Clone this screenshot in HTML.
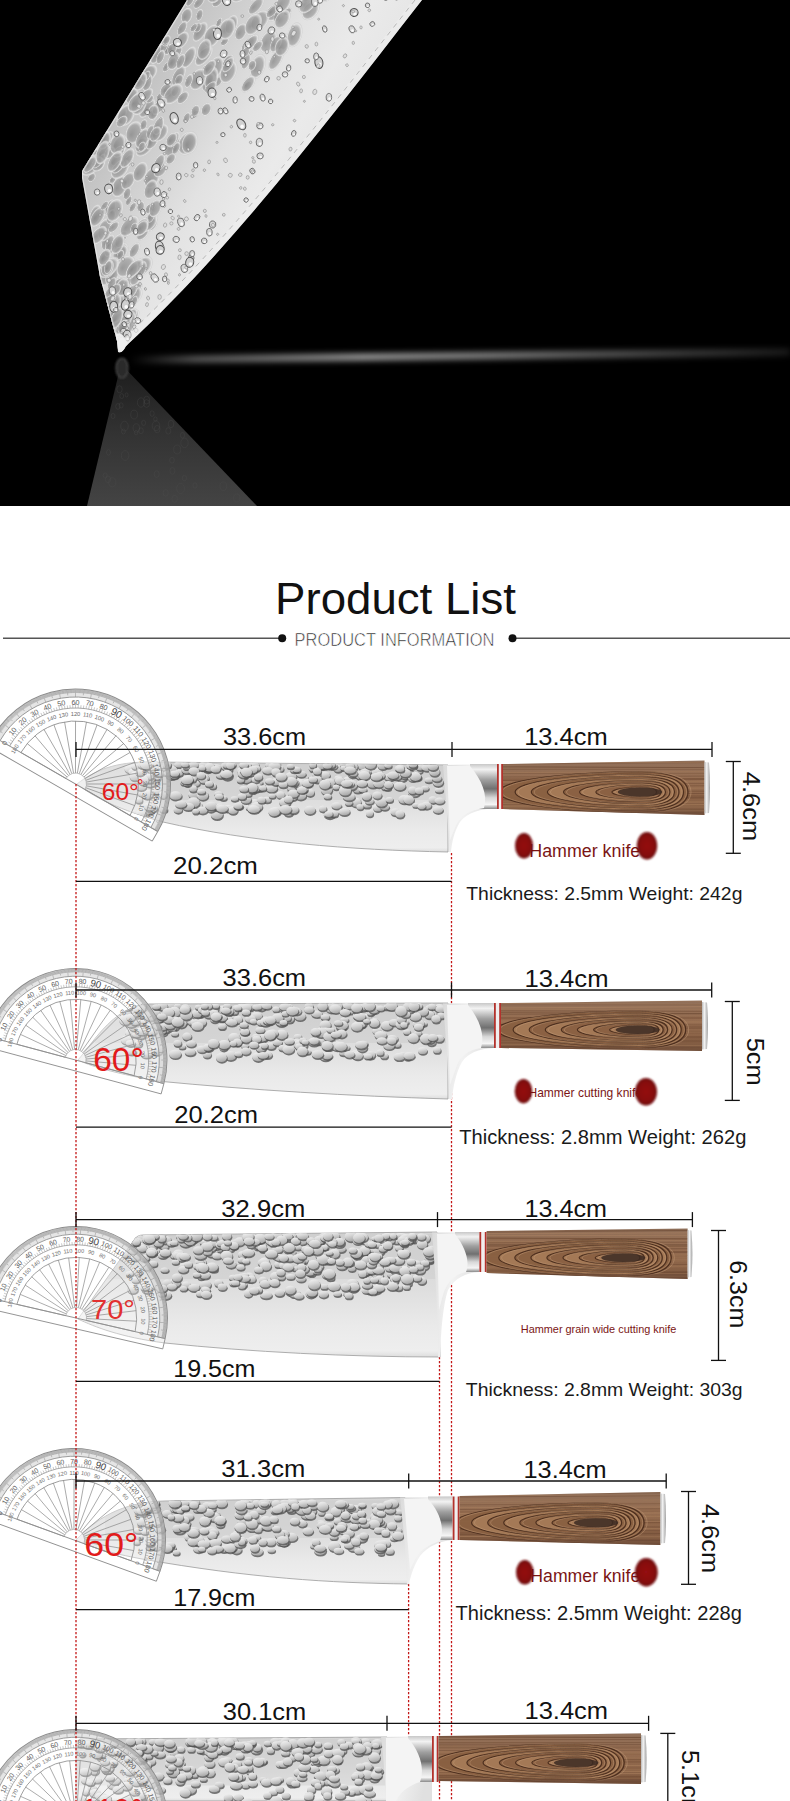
<!DOCTYPE html>
<html><head><meta charset="utf-8"><style>
html,body{margin:0;padding:0;background:#fff;}
body{width:790px;height:1801px;overflow:hidden;position:relative;font-family:"Liberation Sans",sans-serif;}
svg{position:absolute;left:0;top:0;display:block;}
.ds{fill:#555;opacity:.8}.db{fill:url(#dimBody)}.hd{fill:url(#hdim);opacity:.8}.d1{fill:#dedede;stroke:#808080;stroke-width:.5}.d2{fill:#d6d6d6;stroke:#606060;stroke-width:.8}.d3{fill:#d0d0d0;stroke:#505050;stroke-width:1}
</style></head><body>
<svg width="790" height="1801" viewBox="0 0 790 1801">
<defs>
<linearGradient id="bladeTop" gradientUnits="userSpaceOnUse" x1="135" y1="85" x2="305" y2="189">
  <stop offset="0" stop-color="#c0c0c0"/>
  <stop offset="0.3" stop-color="#d2d2d2"/>
  <stop offset="0.55" stop-color="#e2e2e2"/>
  <stop offset="0.8" stop-color="#eaeaea"/>
  <stop offset="1" stop-color="#e6e6e6"/>
</linearGradient>
<linearGradient id="hamBand" gradientUnits="userSpaceOnUse" x1="100" y1="150" x2="260" y2="200">
  <stop offset="0" stop-color="#b4b4b4"/>
  <stop offset="0.6" stop-color="#c4c4c4"/>
  <stop offset="1" stop-color="#d6d6d6" stop-opacity="0"/>
</linearGradient>
<radialGradient id="hdim" cx="0.5" cy="0.5" r="0.5" fx="0.36" fy="0.36">
  <stop offset="0" stop-color="#8a8a8a"/>
  <stop offset="0.7" stop-color="#a4a4a4"/>
  <stop offset="0.9" stop-color="#e4e4e4"/>
  <stop offset="1" stop-color="#cdcdcd"/>
</radialGradient>
<radialGradient id="drop" cx="0.5" cy="0.5" r="0.5" fx="0.45" fy="0.4">
  <stop offset="0" stop-color="#ffffff"/>
  <stop offset="0.55" stop-color="#e6e6e6"/>
  <stop offset="0.78" stop-color="#a0a0a0"/>
  <stop offset="0.9" stop-color="#505050"/>
  <stop offset="1" stop-color="#b0b0b0"/>
</radialGradient>
<linearGradient id="reflG" x1="0" y1="0" x2="0" y2="1">
  <stop offset="0" stop-color="#1c1c1c"/>
  <stop offset="0.5" stop-color="#333"/>
  <stop offset="1" stop-color="#444"/>
</linearGradient>
<linearGradient id="streak" gradientUnits="userSpaceOnUse" x1="130" y1="0" x2="790" y2="0">
  <stop offset="0" stop-color="#fff" stop-opacity="0"/>
  <stop offset="0.1" stop-color="#fff" stop-opacity="0.4"/>
  <stop offset="0.35" stop-color="#fff" stop-opacity="0.72"/>
  <stop offset="0.55" stop-color="#fff" stop-opacity="0.6"/>
  <stop offset="0.8" stop-color="#fff" stop-opacity="0.32"/>
  <stop offset="1" stop-color="#fff" stop-opacity="0.12"/>
</linearGradient>
<filter id="blur3" x="-5%" y="-300%" width="110%" height="700%"><feGaussianBlur stdDeviation="3"/></filter>
<filter id="blur1" x="-30%" y="-30%" width="160%" height="160%"><feGaussianBlur stdDeviation="0.8"/></filter>
<linearGradient id="dimBody" x1="0.2" y1="0" x2="0.5" y2="1">
  <stop offset="0" stop-color="#f0f0f0"/>
  <stop offset="0.45" stop-color="#d6d6d6"/>
  <stop offset="1" stop-color="#a8a8a8"/>
</linearGradient>
<linearGradient id="kblade" x1="0" y1="0" x2="0" y2="1">
  <stop offset="0" stop-color="#d4d4d4"/>
  <stop offset="0.45" stop-color="#dedede"/>
  <stop offset="0.75" stop-color="#eaeaea"/>
  <stop offset="0.95" stop-color="#eeeeee"/>
  <stop offset="1" stop-color="#dddddd"/>
</linearGradient>
<linearGradient id="ferrule" x1="0" y1="0" x2="0" y2="1">
  <stop offset="0" stop-color="#c8c8c8"/>
  <stop offset="0.12" stop-color="#f2f2f2"/>
  <stop offset="0.35" stop-color="#a0a0a0"/>
  <stop offset="0.55" stop-color="#707070"/>
  <stop offset="0.75" stop-color="#d8d8d8"/>
  <stop offset="0.9" stop-color="#f5f5f5"/>
  <stop offset="1" stop-color="#8a8a8a"/>
</linearGradient>
<linearGradient id="bolG" x1="0" y1="0" x2="1" y2="0.3">
  <stop offset="0" stop-color="#dadada"/>
  <stop offset="0.5" stop-color="#f2f2f2"/>
  <stop offset="1" stop-color="#e0e0e0"/>
</linearGradient>
<linearGradient id="cap" x1="0" y1="0" x2="1" y2="0">
  <stop offset="0" stop-color="#b8b8b8"/>
  <stop offset="0.4" stop-color="#f4f4f4"/>
  <stop offset="1" stop-color="#a0a0a0"/>
</linearGradient>
<radialGradient id="blobG" cx="0.5" cy="0.5" r="0.5">
  <stop offset="0" stop-color="#941012"/>
  <stop offset="0.7" stop-color="#870c0f"/>
  <stop offset="1" stop-color="#6c080a"/>
</radialGradient>
<linearGradient id="woodG" x1="0" y1="0" x2="0" y2="1">
  <stop offset="0" stop-color="#90705a"/>
  <stop offset="0.35" stop-color="#966e52"/>
  <stop offset="0.7" stop-color="#8c6448"/>
  <stop offset="1" stop-color="#7a563e"/>
</linearGradient>

<clipPath id="ctop"><path d="M187,0 L422,0 C330,118 232,248 126,346 Q122,354 118,352 L117,341 L100,277 L82,178 L82,171 Z"/></clipPath>
<g id="prot">
<path d="M-95,0 A95,95 0 0 1 95,0 L95,11 L-95,11 Z" fill="#fff" opacity="0.35"/>
<path d="M-95,0 A95,95 0 0 1 95,0 L87,0 A87,87 0 0 0 -87,0 Z" fill="#d0d0d0" opacity="0.55"/>
<path d="M-95,0 A95,95 0 0 1 95,0" fill="none" stroke="#8c8c8c" stroke-width="1"/>
<path d="M-87.0,-0.0L-94.5,-0.0M-91.0,-0.8L-94.5,-0.8M-91.0,-1.6L-94.5,-1.6M-91.0,-2.4L-94.5,-2.5M-90.9,-3.2L-94.4,-3.3M-90.9,-4.0L-94.4,-4.1M-90.9,-4.8L-94.4,-4.9M-90.8,-5.6L-94.3,-5.8M-90.8,-6.3L-94.3,-6.6M-90.7,-7.1L-94.2,-7.4M-88.7,-7.8L-94.1,-8.2M-90.6,-8.7L-94.1,-9.1M-90.5,-9.5L-94.0,-9.9M-90.4,-10.3L-93.9,-10.7M-90.3,-11.1L-93.8,-11.5M-90.2,-11.9L-93.7,-12.3M-90.1,-12.7L-93.6,-13.2M-90.0,-13.5L-93.5,-14.0M-89.9,-14.2L-93.3,-14.8M-89.8,-15.0L-93.2,-15.6M-85.7,-15.1L-93.1,-16.4M-89.5,-16.6L-92.9,-17.2M-89.3,-17.4L-92.8,-18.0M-89.2,-18.1L-92.6,-18.8M-89.0,-18.9L-92.4,-19.6M-88.8,-19.7L-92.3,-20.5M-88.7,-20.5L-92.1,-21.3M-88.5,-21.2L-91.9,-22.1M-88.3,-22.0L-91.7,-22.9M-88.1,-22.8L-91.5,-23.7M-86.0,-23.0L-91.3,-24.5M-87.7,-24.3L-91.1,-25.3M-87.5,-25.1L-90.8,-26.0M-87.3,-25.8L-90.6,-26.8M-87.0,-26.6L-90.4,-27.6M-86.8,-27.4L-90.1,-28.4M-86.5,-28.1L-89.9,-29.2M-86.3,-28.9L-89.6,-30.0M-86.0,-29.6L-89.4,-30.8M-85.8,-30.4L-89.1,-31.5M-81.8,-29.8L-88.8,-32.3M-85.2,-31.9L-88.5,-33.1M-85.0,-32.6L-88.2,-33.9M-84.7,-33.4L-87.9,-34.6M-84.4,-34.1L-87.6,-35.4M-84.1,-34.8L-87.3,-36.2M-83.8,-35.6L-87.0,-36.9M-83.5,-36.3L-86.7,-37.7M-83.1,-37.0L-86.3,-38.4M-82.8,-37.7L-86.0,-39.2M-80.7,-37.6L-85.6,-39.9M-82.1,-39.2L-85.3,-40.7M-81.8,-39.9L-84.9,-41.4M-81.4,-40.6L-84.6,-42.2M-81.1,-41.3L-84.2,-42.9M-80.7,-42.0L-83.8,-43.6M-80.3,-42.7L-83.4,-44.4M-80.0,-43.4L-83.0,-45.1M-79.6,-44.1L-82.7,-45.8M-79.2,-44.8L-82.2,-46.5M-75.3,-43.5L-81.8,-47.2M-78.4,-46.2L-81.4,-48.0M-78.0,-46.9L-81.0,-48.7M-77.6,-47.5L-80.6,-49.4M-77.2,-48.2L-80.1,-50.1M-76.7,-48.9L-79.7,-50.8M-76.3,-49.6L-79.3,-51.5M-75.9,-50.2L-78.8,-52.2M-75.4,-50.9L-78.3,-52.8M-75.0,-51.5L-77.9,-53.5M-72.9,-51.0L-77.4,-54.2M-74.1,-52.8L-76.9,-54.9M-73.6,-53.5L-76.5,-55.5M-73.2,-54.1L-76.0,-56.2M-72.7,-54.8L-75.5,-56.9M-72.2,-55.4L-75.0,-57.5M-71.7,-56.0L-74.5,-58.2M-71.2,-56.6L-74.0,-58.8M-70.7,-57.3L-73.4,-59.5M-70.2,-57.9L-72.9,-60.1M-66.6,-55.9L-72.4,-60.7M-69.2,-59.1L-71.9,-61.4M-68.7,-59.7L-71.3,-62.0M-68.2,-60.3L-70.8,-62.6M-67.6,-60.9L-70.2,-63.2M-67.1,-61.5L-69.7,-63.8M-66.6,-62.1L-69.1,-64.4M-66.0,-62.6L-68.5,-65.0M-65.5,-63.2L-68.0,-65.6M-64.9,-63.8L-67.4,-66.2M-62.9,-62.9L-66.8,-66.8M-63.8,-64.9L-66.2,-67.4M-63.2,-65.5L-65.6,-68.0M-62.6,-66.0L-65.0,-68.5M-62.1,-66.6L-64.4,-69.1M-61.5,-67.1L-63.8,-69.7M-60.9,-67.6L-63.2,-70.2M-60.3,-68.2L-62.6,-70.8M-59.7,-68.7L-62.0,-71.3M-59.1,-69.2L-61.4,-71.9M-55.9,-66.6L-60.7,-72.4M-57.9,-70.2L-60.1,-72.9M-57.3,-70.7L-59.5,-73.4M-56.6,-71.2L-58.8,-74.0M-56.0,-71.7L-58.2,-74.5M-55.4,-72.2L-57.5,-75.0M-54.8,-72.7L-56.9,-75.5M-54.1,-73.2L-56.2,-76.0M-53.5,-73.6L-55.5,-76.5M-52.8,-74.1L-54.9,-76.9M-51.0,-72.9L-54.2,-77.4M-51.5,-75.0L-53.5,-77.9M-50.9,-75.4L-52.8,-78.3M-50.2,-75.9L-52.2,-78.8M-49.6,-76.3L-51.5,-79.3M-48.9,-76.7L-50.8,-79.7M-48.2,-77.2L-50.1,-80.1M-47.5,-77.6L-49.4,-80.6M-46.9,-78.0L-48.7,-81.0M-46.2,-78.4L-48.0,-81.4M-43.5,-75.3L-47.2,-81.8M-44.8,-79.2L-46.5,-82.2M-44.1,-79.6L-45.8,-82.7M-43.4,-80.0L-45.1,-83.0M-42.7,-80.3L-44.4,-83.4M-42.0,-80.7L-43.6,-83.8M-41.3,-81.1L-42.9,-84.2M-40.6,-81.4L-42.2,-84.6M-39.9,-81.8L-41.4,-84.9M-39.2,-82.1L-40.7,-85.3M-37.6,-80.7L-39.9,-85.6M-37.7,-82.8L-39.2,-86.0M-37.0,-83.1L-38.4,-86.3M-36.3,-83.5L-37.7,-86.7M-35.6,-83.8L-36.9,-87.0M-34.8,-84.1L-36.2,-87.3M-34.1,-84.4L-35.4,-87.6M-33.4,-84.7L-34.6,-87.9M-32.6,-85.0L-33.9,-88.2M-31.9,-85.2L-33.1,-88.5M-29.8,-81.8L-32.3,-88.8M-30.4,-85.8L-31.5,-89.1M-29.6,-86.0L-30.8,-89.4M-28.9,-86.3L-30.0,-89.6M-28.1,-86.5L-29.2,-89.9M-27.4,-86.8L-28.4,-90.1M-26.6,-87.0L-27.6,-90.4M-25.8,-87.3L-26.8,-90.6M-25.1,-87.5L-26.0,-90.8M-24.3,-87.7L-25.3,-91.1M-23.0,-86.0L-24.5,-91.3M-22.8,-88.1L-23.7,-91.5M-22.0,-88.3L-22.9,-91.7M-21.2,-88.5L-22.1,-91.9M-20.5,-88.7L-21.3,-92.1M-19.7,-88.8L-20.5,-92.3M-18.9,-89.0L-19.6,-92.4M-18.1,-89.2L-18.8,-92.6M-17.4,-89.3L-18.0,-92.8M-16.6,-89.5L-17.2,-92.9M-15.1,-85.7L-16.4,-93.1M-15.0,-89.8L-15.6,-93.2M-14.2,-89.9L-14.8,-93.3M-13.5,-90.0L-14.0,-93.5M-12.7,-90.1L-13.2,-93.6M-11.9,-90.2L-12.3,-93.7M-11.1,-90.3L-11.5,-93.8M-10.3,-90.4L-10.7,-93.9M-9.5,-90.5L-9.9,-94.0M-8.7,-90.6L-9.1,-94.1M-7.8,-88.7L-8.2,-94.1M-7.1,-90.7L-7.4,-94.2M-6.3,-90.8L-6.6,-94.3M-5.6,-90.8L-5.8,-94.3M-4.8,-90.9L-4.9,-94.4M-4.0,-90.9L-4.1,-94.4M-3.2,-90.9L-3.3,-94.4M-2.4,-91.0L-2.5,-94.5M-1.6,-91.0L-1.6,-94.5M-0.8,-91.0L-0.8,-94.5M0.0,-87.0L0.0,-94.5M0.8,-91.0L0.8,-94.5M1.6,-91.0L1.6,-94.5M2.4,-91.0L2.5,-94.5M3.2,-90.9L3.3,-94.4M4.0,-90.9L4.1,-94.4M4.8,-90.9L4.9,-94.4M5.6,-90.8L5.8,-94.3M6.3,-90.8L6.6,-94.3M7.1,-90.7L7.4,-94.2M7.8,-88.7L8.2,-94.1M8.7,-90.6L9.1,-94.1M9.5,-90.5L9.9,-94.0M10.3,-90.4L10.7,-93.9M11.1,-90.3L11.5,-93.8M11.9,-90.2L12.3,-93.7M12.7,-90.1L13.2,-93.6M13.5,-90.0L14.0,-93.5M14.2,-89.9L14.8,-93.3M15.0,-89.8L15.6,-93.2M15.1,-85.7L16.4,-93.1M16.6,-89.5L17.2,-92.9M17.4,-89.3L18.0,-92.8M18.1,-89.2L18.8,-92.6M18.9,-89.0L19.6,-92.4M19.7,-88.8L20.5,-92.3M20.5,-88.7L21.3,-92.1M21.2,-88.5L22.1,-91.9M22.0,-88.3L22.9,-91.7M22.8,-88.1L23.7,-91.5M23.0,-86.0L24.5,-91.3M24.3,-87.7L25.3,-91.1M25.1,-87.5L26.0,-90.8M25.8,-87.3L26.8,-90.6M26.6,-87.0L27.6,-90.4M27.4,-86.8L28.4,-90.1M28.1,-86.5L29.2,-89.9M28.9,-86.3L30.0,-89.6M29.6,-86.0L30.8,-89.4M30.4,-85.8L31.5,-89.1M29.8,-81.8L32.3,-88.8M31.9,-85.2L33.1,-88.5M32.6,-85.0L33.9,-88.2M33.4,-84.7L34.6,-87.9M34.1,-84.4L35.4,-87.6M34.8,-84.1L36.2,-87.3M35.6,-83.8L36.9,-87.0M36.3,-83.5L37.7,-86.7M37.0,-83.1L38.4,-86.3M37.7,-82.8L39.2,-86.0M37.6,-80.7L39.9,-85.6M39.2,-82.1L40.7,-85.3M39.9,-81.8L41.4,-84.9M40.6,-81.4L42.2,-84.6M41.3,-81.1L42.9,-84.2M42.0,-80.7L43.6,-83.8M42.7,-80.3L44.4,-83.4M43.4,-80.0L45.1,-83.0M44.1,-79.6L45.8,-82.7M44.8,-79.2L46.5,-82.2M43.5,-75.3L47.3,-81.8M46.2,-78.4L48.0,-81.4M46.9,-78.0L48.7,-81.0M47.5,-77.6L49.4,-80.6M48.2,-77.2L50.1,-80.1M48.9,-76.7L50.8,-79.7M49.6,-76.3L51.5,-79.3M50.2,-75.9L52.2,-78.8M50.9,-75.4L52.8,-78.3M51.5,-75.0L53.5,-77.9M51.0,-72.9L54.2,-77.4M52.8,-74.1L54.9,-76.9M53.5,-73.6L55.5,-76.5M54.1,-73.2L56.2,-76.0M54.8,-72.7L56.9,-75.5M55.4,-72.2L57.5,-75.0M56.0,-71.7L58.2,-74.5M56.6,-71.2L58.8,-74.0M57.3,-70.7L59.5,-73.4M57.9,-70.2L60.1,-72.9M55.9,-66.6L60.7,-72.4M59.1,-69.2L61.4,-71.9M59.7,-68.7L62.0,-71.3M60.3,-68.2L62.6,-70.8M60.9,-67.6L63.2,-70.2M61.5,-67.1L63.8,-69.7M62.1,-66.6L64.4,-69.1M62.6,-66.0L65.0,-68.5M63.2,-65.5L65.6,-68.0M63.8,-64.9L66.2,-67.4M62.9,-62.9L66.8,-66.8M64.9,-63.8L67.4,-66.2M65.5,-63.2L68.0,-65.6M66.0,-62.6L68.5,-65.0M66.6,-62.1L69.1,-64.4M67.1,-61.5L69.7,-63.8M67.6,-60.9L70.2,-63.2M68.2,-60.3L70.8,-62.6M68.7,-59.7L71.3,-62.0M69.2,-59.1L71.9,-61.4M66.6,-55.9L72.4,-60.7M70.2,-57.9L72.9,-60.1M70.7,-57.3L73.4,-59.5M71.2,-56.6L74.0,-58.8M71.7,-56.0L74.5,-58.2M72.2,-55.4L75.0,-57.5M72.7,-54.8L75.5,-56.9M73.2,-54.1L76.0,-56.2M73.6,-53.5L76.5,-55.5M74.1,-52.8L76.9,-54.9M72.9,-51.0L77.4,-54.2M75.0,-51.5L77.9,-53.5M75.4,-50.9L78.3,-52.8M75.9,-50.2L78.8,-52.2M76.3,-49.6L79.3,-51.5M76.7,-48.9L79.7,-50.8M77.2,-48.2L80.1,-50.1M77.6,-47.5L80.6,-49.4M78.0,-46.9L81.0,-48.7M78.4,-46.2L81.4,-48.0M75.3,-43.5L81.8,-47.2M79.2,-44.8L82.2,-46.5M79.6,-44.1L82.7,-45.8M80.0,-43.4L83.0,-45.1M80.3,-42.7L83.4,-44.4M80.7,-42.0L83.8,-43.6M81.1,-41.3L84.2,-42.9M81.4,-40.6L84.6,-42.2M81.8,-39.9L84.9,-41.4M82.1,-39.2L85.3,-40.7M80.7,-37.6L85.6,-39.9M82.8,-37.7L86.0,-39.2M83.1,-37.0L86.3,-38.4M83.5,-36.3L86.7,-37.7M83.8,-35.6L87.0,-36.9M84.1,-34.8L87.3,-36.2M84.4,-34.1L87.6,-35.4M84.7,-33.4L87.9,-34.6M85.0,-32.6L88.2,-33.9M85.2,-31.9L88.5,-33.1M81.8,-29.8L88.8,-32.3M85.8,-30.4L89.1,-31.5M86.0,-29.6L89.4,-30.8M86.3,-28.9L89.6,-30.0M86.5,-28.1L89.9,-29.2M86.8,-27.4L90.1,-28.4M87.0,-26.6L90.4,-27.6M87.3,-25.8L90.6,-26.8M87.5,-25.1L90.8,-26.0M87.7,-24.3L91.1,-25.3M86.0,-23.0L91.3,-24.5M88.1,-22.8L91.5,-23.7M88.3,-22.0L91.7,-22.9M88.5,-21.2L91.9,-22.1M88.7,-20.5L92.1,-21.3M88.8,-19.7L92.3,-20.5M89.0,-18.9L92.4,-19.6M89.2,-18.1L92.6,-18.8M89.3,-17.4L92.8,-18.0M89.5,-16.6L92.9,-17.2M85.7,-15.1L93.1,-16.4M89.8,-15.0L93.2,-15.6M89.9,-14.2L93.3,-14.8M90.0,-13.5L93.5,-14.0M90.1,-12.7L93.6,-13.2M90.2,-11.9L93.7,-12.3M90.3,-11.1L93.8,-11.5M90.4,-10.3L93.9,-10.7M90.5,-9.5L94.0,-9.9M90.6,-8.7L94.1,-9.1M88.7,-7.8L94.1,-8.2M90.7,-7.1L94.2,-7.4M90.8,-6.3L94.3,-6.6M90.8,-5.6L94.3,-5.8M90.9,-4.8L94.4,-4.9M90.9,-4.0L94.4,-4.1M90.9,-3.2L94.4,-3.3M91.0,-2.4L94.5,-2.5M91.0,-1.6L94.5,-1.6M91.0,-0.8L94.5,-0.8M87.0,-0.0L94.5,-0.0" stroke="#8a8a8a" stroke-width="0.45" fill="none"/>
<path d="M-87,0 A87,87 0 0 1 87,0" fill="none" stroke="#8e8e8e" stroke-width="0.8"/>
<path d="M-76,0 A76,76 0 0 1 76,0" fill="none" stroke="#8e8e8e" stroke-width="0.7"/>
<path d="M-63,0 A63,63 0 0 1 63,0" fill="none" stroke="#8e8e8e" stroke-width="0.8"/>
<path d="M-76.0,-0.0L-81.0,-0.0M-76.0,-2.7L-79.0,-2.8M-75.8,-5.3L-78.8,-5.5M-75.6,-7.9L-78.6,-8.3M-75.3,-10.6L-78.2,-11.0M-74.8,-13.2L-79.8,-14.1M-74.3,-15.8L-77.3,-16.4M-73.7,-18.4L-76.7,-19.1M-73.1,-20.9L-75.9,-21.8M-72.3,-23.5L-75.1,-24.4M-71.4,-26.0L-76.1,-27.7M-70.5,-28.5L-73.2,-29.6M-69.4,-30.9L-72.2,-32.1M-68.3,-33.3L-71.0,-34.6M-67.1,-35.7L-69.8,-37.1M-65.8,-38.0L-70.1,-40.5M-64.5,-40.3L-67.0,-41.9M-63.0,-42.5L-65.5,-44.2M-61.5,-44.7L-63.9,-46.4M-59.9,-46.8L-62.3,-48.6M-58.2,-48.9L-62.0,-52.1M-56.5,-50.9L-58.7,-52.9M-54.7,-52.8L-56.8,-54.9M-52.8,-54.7L-54.9,-56.8M-50.9,-56.5L-52.9,-58.7M-48.9,-58.2L-52.1,-62.0M-46.8,-59.9L-48.6,-62.3M-44.7,-61.5L-46.4,-63.9M-42.5,-63.0L-44.2,-65.5M-40.3,-64.5L-41.9,-67.0M-38.0,-65.8L-40.5,-70.1M-35.7,-67.1L-37.1,-69.8M-33.3,-68.3L-34.6,-71.0M-30.9,-69.4L-32.1,-72.2M-28.5,-70.5L-29.6,-73.2M-26.0,-71.4L-27.7,-76.1M-23.5,-72.3L-24.4,-75.1M-20.9,-73.1L-21.8,-75.9M-18.4,-73.7L-19.1,-76.7M-15.8,-74.3L-16.4,-77.3M-13.2,-74.8L-14.1,-79.8M-10.6,-75.3L-11.0,-78.2M-7.9,-75.6L-8.3,-78.6M-5.3,-75.8L-5.5,-78.8M-2.7,-76.0L-2.8,-79.0M0.0,-76.0L0.0,-81.0M2.7,-76.0L2.8,-79.0M5.3,-75.8L5.5,-78.8M7.9,-75.6L8.3,-78.6M10.6,-75.3L11.0,-78.2M13.2,-74.8L14.1,-79.8M15.8,-74.3L16.4,-77.3M18.4,-73.7L19.1,-76.7M20.9,-73.1L21.8,-75.9M23.5,-72.3L24.4,-75.1M26.0,-71.4L27.7,-76.1M28.5,-70.5L29.6,-73.2M30.9,-69.4L32.1,-72.2M33.3,-68.3L34.6,-71.0M35.7,-67.1L37.1,-69.8M38.0,-65.8L40.5,-70.1M40.3,-64.5L41.9,-67.0M42.5,-63.0L44.2,-65.5M44.7,-61.5L46.4,-63.9M46.8,-59.9L48.6,-62.3M48.9,-58.2L52.1,-62.0M50.9,-56.5L52.9,-58.7M52.8,-54.7L54.9,-56.8M54.7,-52.8L56.8,-54.9M56.5,-50.9L58.7,-52.9M58.2,-48.9L62.0,-52.1M59.9,-46.8L62.3,-48.6M61.5,-44.7L63.9,-46.4M63.0,-42.5L65.5,-44.2M64.5,-40.3L67.0,-41.9M65.8,-38.0L70.1,-40.5M67.1,-35.7L69.8,-37.1M68.3,-33.3L71.0,-34.6M69.4,-30.9L72.2,-32.1M70.5,-28.5L73.2,-29.6M71.4,-26.0L76.1,-27.7M72.3,-23.5L75.1,-24.4M73.1,-20.9L75.9,-21.8M73.7,-18.4L76.7,-19.1M74.3,-15.8L77.3,-16.4M74.8,-13.2L79.8,-14.1M75.3,-10.6L78.2,-11.0M75.6,-7.9L78.6,-8.3M75.8,-5.3L78.8,-5.5M76.0,-2.7L79.0,-2.8M76.0,-0.0L81.0,-0.0" stroke="#909090" stroke-width="0.45" fill="none"/>
<path d="M-11.0,-0.0L-63.0,-0.0M-10.8,-1.9L-62.0,-10.9M-10.3,-3.8L-59.2,-21.5M-9.5,-5.5L-54.6,-31.5M-8.4,-7.1L-48.3,-40.5M-7.1,-8.4L-40.5,-48.3M-5.5,-9.5L-31.5,-54.6M-3.8,-10.3L-21.5,-59.2M-1.9,-10.8L-10.9,-62.0M0.0,-11.0L0.0,-63.0M1.9,-10.8L10.9,-62.0M3.8,-10.3L21.5,-59.2M5.5,-9.5L31.5,-54.6M7.1,-8.4L40.5,-48.3M8.4,-7.1L48.3,-40.5M9.5,-5.5L54.6,-31.5M10.3,-3.8L59.2,-21.5M10.8,-1.9L62.0,-10.9M11.0,-0.0L63.0,-0.0" stroke="#8e8e8e" stroke-width="0.7" fill="none"/>
<path d="M-11,0 A11,11 0 0 1 11,0" fill="#fff" fill-opacity="0.4" stroke="#a0a0a0" stroke-width="0.6"/>
<text x="-82.0" y="-0.0" font-family='"Liberation Sans", sans-serif' font-size="7.2" fill="#5a5a5a" text-anchor="middle" dominant-baseline="central" transform="rotate(-90 -82.0 -0.0)">0</text>
<text x="-70.0" y="-0.0" font-family='"Liberation Sans", sans-serif' font-size="5.8" fill="#6a6a6a" text-anchor="middle" dominant-baseline="central" transform="rotate(-90 -70.0 -0.0)">180</text>
<text x="-80.8" y="-14.2" font-family='"Liberation Sans", sans-serif' font-size="7.2" fill="#5a5a5a" text-anchor="middle" dominant-baseline="central" transform="rotate(-80 -80.8 -14.2)">10</text>
<text x="-68.9" y="-12.2" font-family='"Liberation Sans", sans-serif' font-size="5.8" fill="#6a6a6a" text-anchor="middle" dominant-baseline="central" transform="rotate(-80 -68.9 -12.2)">170</text>
<text x="-77.1" y="-28.0" font-family='"Liberation Sans", sans-serif' font-size="7.2" fill="#5a5a5a" text-anchor="middle" dominant-baseline="central" transform="rotate(-70 -77.1 -28.0)">20</text>
<text x="-65.8" y="-23.9" font-family='"Liberation Sans", sans-serif' font-size="5.8" fill="#6a6a6a" text-anchor="middle" dominant-baseline="central" transform="rotate(-70 -65.8 -23.9)">160</text>
<text x="-71.0" y="-41.0" font-family='"Liberation Sans", sans-serif' font-size="7.2" fill="#5a5a5a" text-anchor="middle" dominant-baseline="central" transform="rotate(-60 -71.0 -41.0)">30</text>
<text x="-60.6" y="-35.0" font-family='"Liberation Sans", sans-serif' font-size="5.8" fill="#6a6a6a" text-anchor="middle" dominant-baseline="central" transform="rotate(-60 -60.6 -35.0)">150</text>
<text x="-62.8" y="-52.7" font-family='"Liberation Sans", sans-serif' font-size="7.2" fill="#5a5a5a" text-anchor="middle" dominant-baseline="central" transform="rotate(-50 -62.8 -52.7)">40</text>
<text x="-53.6" y="-45.0" font-family='"Liberation Sans", sans-serif' font-size="5.8" fill="#6a6a6a" text-anchor="middle" dominant-baseline="central" transform="rotate(-50 -53.6 -45.0)">140</text>
<text x="-52.7" y="-62.8" font-family='"Liberation Sans", sans-serif' font-size="7.2" fill="#5a5a5a" text-anchor="middle" dominant-baseline="central" transform="rotate(-40 -52.7 -62.8)">50</text>
<text x="-45.0" y="-53.6" font-family='"Liberation Sans", sans-serif' font-size="5.8" fill="#6a6a6a" text-anchor="middle" dominant-baseline="central" transform="rotate(-40 -45.0 -53.6)">130</text>
<text x="-41.0" y="-71.0" font-family='"Liberation Sans", sans-serif' font-size="7.2" fill="#5a5a5a" text-anchor="middle" dominant-baseline="central" transform="rotate(-30 -41.0 -71.0)">60</text>
<text x="-35.0" y="-60.6" font-family='"Liberation Sans", sans-serif' font-size="5.8" fill="#6a6a6a" text-anchor="middle" dominant-baseline="central" transform="rotate(-30 -35.0 -60.6)">120</text>
<text x="-28.0" y="-77.1" font-family='"Liberation Sans", sans-serif' font-size="7.2" fill="#5a5a5a" text-anchor="middle" dominant-baseline="central" transform="rotate(-20 -28.0 -77.1)">70</text>
<text x="-23.9" y="-65.8" font-family='"Liberation Sans", sans-serif' font-size="5.8" fill="#6a6a6a" text-anchor="middle" dominant-baseline="central" transform="rotate(-20 -23.9 -65.8)">110</text>
<text x="-14.2" y="-80.8" font-family='"Liberation Sans", sans-serif' font-size="7.2" fill="#5a5a5a" text-anchor="middle" dominant-baseline="central" transform="rotate(-10 -14.2 -80.8)">80</text>
<text x="-12.2" y="-68.9" font-family='"Liberation Sans", sans-serif' font-size="5.8" fill="#6a6a6a" text-anchor="middle" dominant-baseline="central" transform="rotate(-10 -12.2 -68.9)">100</text>
<text x="0.0" y="-82.0" font-family='"Liberation Sans", sans-serif' font-size="10" fill="#444" text-anchor="middle" dominant-baseline="central" transform="rotate(0 0.0 -82.0)">90</text>
<text x="0.0" y="-70.0" font-family='"Liberation Sans", sans-serif' font-size="5.8" fill="#6a6a6a" text-anchor="middle" dominant-baseline="central" transform="rotate(0 0.0 -70.0)">90</text>
<text x="14.2" y="-80.8" font-family='"Liberation Sans", sans-serif' font-size="7.2" fill="#5a5a5a" text-anchor="middle" dominant-baseline="central" transform="rotate(10 14.2 -80.8)">100</text>
<text x="12.2" y="-68.9" font-family='"Liberation Sans", sans-serif' font-size="5.8" fill="#6a6a6a" text-anchor="middle" dominant-baseline="central" transform="rotate(10 12.2 -68.9)">80</text>
<text x="28.0" y="-77.1" font-family='"Liberation Sans", sans-serif' font-size="7.2" fill="#5a5a5a" text-anchor="middle" dominant-baseline="central" transform="rotate(20 28.0 -77.1)">110</text>
<text x="23.9" y="-65.8" font-family='"Liberation Sans", sans-serif' font-size="5.8" fill="#6a6a6a" text-anchor="middle" dominant-baseline="central" transform="rotate(20 23.9 -65.8)">70</text>
<text x="41.0" y="-71.0" font-family='"Liberation Sans", sans-serif' font-size="7.2" fill="#5a5a5a" text-anchor="middle" dominant-baseline="central" transform="rotate(30 41.0 -71.0)">120</text>
<text x="35.0" y="-60.6" font-family='"Liberation Sans", sans-serif' font-size="5.8" fill="#6a6a6a" text-anchor="middle" dominant-baseline="central" transform="rotate(30 35.0 -60.6)">60</text>
<text x="52.7" y="-62.8" font-family='"Liberation Sans", sans-serif' font-size="7.2" fill="#5a5a5a" text-anchor="middle" dominant-baseline="central" transform="rotate(40 52.7 -62.8)">130</text>
<text x="45.0" y="-53.6" font-family='"Liberation Sans", sans-serif' font-size="5.8" fill="#6a6a6a" text-anchor="middle" dominant-baseline="central" transform="rotate(40 45.0 -53.6)">50</text>
<text x="62.8" y="-52.7" font-family='"Liberation Sans", sans-serif' font-size="7.2" fill="#5a5a5a" text-anchor="middle" dominant-baseline="central" transform="rotate(50 62.8 -52.7)">140</text>
<text x="53.6" y="-45.0" font-family='"Liberation Sans", sans-serif' font-size="5.8" fill="#6a6a6a" text-anchor="middle" dominant-baseline="central" transform="rotate(50 53.6 -45.0)">40</text>
<text x="71.0" y="-41.0" font-family='"Liberation Sans", sans-serif' font-size="7.2" fill="#5a5a5a" text-anchor="middle" dominant-baseline="central" transform="rotate(60 71.0 -41.0)">150</text>
<text x="60.6" y="-35.0" font-family='"Liberation Sans", sans-serif' font-size="5.8" fill="#6a6a6a" text-anchor="middle" dominant-baseline="central" transform="rotate(60 60.6 -35.0)">30</text>
<text x="77.1" y="-28.0" font-family='"Liberation Sans", sans-serif' font-size="7.2" fill="#5a5a5a" text-anchor="middle" dominant-baseline="central" transform="rotate(70 77.1 -28.0)">160</text>
<text x="65.8" y="-23.9" font-family='"Liberation Sans", sans-serif' font-size="5.8" fill="#6a6a6a" text-anchor="middle" dominant-baseline="central" transform="rotate(70 65.8 -23.9)">20</text>
<text x="80.8" y="-14.2" font-family='"Liberation Sans", sans-serif' font-size="7.2" fill="#5a5a5a" text-anchor="middle" dominant-baseline="central" transform="rotate(80 80.8 -14.2)">170</text>
<text x="68.9" y="-12.2" font-family='"Liberation Sans", sans-serif' font-size="5.8" fill="#6a6a6a" text-anchor="middle" dominant-baseline="central" transform="rotate(80 68.9 -12.2)">10</text>
<text x="82.0" y="-0.0" font-family='"Liberation Sans", sans-serif' font-size="7.2" fill="#5a5a5a" text-anchor="middle" dominant-baseline="central" transform="rotate(90 82.0 -0.0)">180</text>
<text x="70.0" y="-0.0" font-family='"Liberation Sans", sans-serif' font-size="5.8" fill="#6a6a6a" text-anchor="middle" dominant-baseline="central" transform="rotate(90 70.0 -0.0)">0</text>
<path d="M-95,0 L95,0 M-95,11 L95,11 M95,0 L95,11 M-95,0 L-95,11" stroke="#8e8e8e" stroke-width="0.9" fill="none"/>
</g></defs>
<rect width="790" height="1801" fill="#fff"/>
<rect x="0" y="0" width="790" height="506" fill="#000"/>
<path d="M130,357 L790,349 L790,355 L130,363 Z" fill="url(#streak)" filter="url(#blur3)"/>
<path d="M121,364 L257,506 L87,506 Z" fill="url(#reflG)"/>
<ellipse cx="122" cy="368" rx="6" ry="10" fill="#2a2a2a" stroke="#4a4a4a" stroke-width="1.2" filter="url(#blur1)"/>
<ellipse cx="123.4" cy="431.5" rx="1.9" ry="2.5" fill="none" stroke="#505050" stroke-width="0.8" opacity="0.35"/>
<ellipse cx="152.1" cy="413.6" rx="2.1" ry="2.8" fill="none" stroke="#505050" stroke-width="0.8" opacity="0.35"/>
<ellipse cx="157.2" cy="429.1" rx="2.8" ry="3.7" fill="none" stroke="#505050" stroke-width="0.8" opacity="0.35"/>
<ellipse cx="165.7" cy="492.9" rx="2.6" ry="3.3" fill="none" stroke="#505050" stroke-width="0.8" opacity="0.35"/>
<ellipse cx="125.1" cy="455.5" rx="3.8" ry="4.9" fill="none" stroke="#505050" stroke-width="0.8" opacity="0.35"/>
<ellipse cx="136.3" cy="428.0" rx="3.2" ry="4.2" fill="none" stroke="#505050" stroke-width="0.8" opacity="0.35"/>
<ellipse cx="141.0" cy="402.5" rx="3.6" ry="4.7" fill="none" stroke="#505050" stroke-width="0.8" opacity="0.35"/>
<ellipse cx="171.0" cy="424.0" rx="2.8" ry="3.7" fill="none" stroke="#505050" stroke-width="0.8" opacity="0.35"/>
<ellipse cx="156.7" cy="474.1" rx="2.5" ry="3.3" fill="none" stroke="#505050" stroke-width="0.8" opacity="0.35"/>
<ellipse cx="113.0" cy="416.0" rx="2.0" ry="2.6" fill="none" stroke="#505050" stroke-width="0.8" opacity="0.35"/>
<ellipse cx="174.7" cy="498.8" rx="2.7" ry="3.5" fill="none" stroke="#505050" stroke-width="0.8" opacity="0.35"/>
<ellipse cx="180.6" cy="488.5" rx="3.9" ry="5.1" fill="none" stroke="#505050" stroke-width="0.8" opacity="0.35"/>
<ellipse cx="124.5" cy="426.1" rx="3.8" ry="4.9" fill="none" stroke="#505050" stroke-width="0.8" opacity="0.35"/>
<ellipse cx="146.6" cy="403.5" rx="3.0" ry="3.9" fill="none" stroke="#505050" stroke-width="0.8" opacity="0.35"/>
<ellipse cx="236.8" cy="498.0" rx="3.2" ry="4.1" fill="none" stroke="#505050" stroke-width="0.8" opacity="0.35"/>
<ellipse cx="119.5" cy="389.3" rx="2.7" ry="3.5" fill="none" stroke="#505050" stroke-width="0.8" opacity="0.35"/>
<ellipse cx="108.0" cy="479.3" rx="2.6" ry="3.3" fill="none" stroke="#505050" stroke-width="0.8" opacity="0.35"/>
<ellipse cx="126.6" cy="394.9" rx="1.5" ry="2.0" fill="none" stroke="#505050" stroke-width="0.8" opacity="0.35"/>
<ellipse cx="143.6" cy="422.9" rx="2.0" ry="2.6" fill="none" stroke="#505050" stroke-width="0.8" opacity="0.35"/>
<ellipse cx="105.2" cy="475.5" rx="2.0" ry="2.6" fill="none" stroke="#505050" stroke-width="0.8" opacity="0.35"/>
<ellipse cx="134.1" cy="414.6" rx="3.4" ry="4.4" fill="none" stroke="#505050" stroke-width="0.8" opacity="0.35"/>
<ellipse cx="156.0" cy="425.7" rx="3.8" ry="4.9" fill="none" stroke="#505050" stroke-width="0.8" opacity="0.35"/>
<ellipse cx="146.7" cy="400.1" rx="3.0" ry="3.9" fill="none" stroke="#505050" stroke-width="0.8" opacity="0.35"/>
<ellipse cx="172.4" cy="470.9" rx="2.5" ry="3.3" fill="none" stroke="#505050" stroke-width="0.8" opacity="0.35"/>
<ellipse cx="121.7" cy="396.1" rx="1.9" ry="2.5" fill="none" stroke="#505050" stroke-width="0.8" opacity="0.35"/>
<ellipse cx="121.1" cy="405.4" rx="2.0" ry="2.6" fill="none" stroke="#505050" stroke-width="0.8" opacity="0.35"/>
<ellipse cx="177.2" cy="449.5" rx="3.5" ry="4.5" fill="none" stroke="#505050" stroke-width="0.8" opacity="0.35"/>
<ellipse cx="112.3" cy="482.3" rx="3.6" ry="4.6" fill="none" stroke="#505050" stroke-width="0.8" opacity="0.35"/>
<ellipse cx="117.9" cy="406.4" rx="2.2" ry="2.9" fill="none" stroke="#505050" stroke-width="0.8" opacity="0.35"/>
<ellipse cx="108.5" cy="452.4" rx="2.0" ry="2.7" fill="none" stroke="#505050" stroke-width="0.8" opacity="0.35"/>
<ellipse cx="168.3" cy="430.9" rx="2.5" ry="3.2" fill="none" stroke="#505050" stroke-width="0.8" opacity="0.35"/>
<ellipse cx="136.1" cy="432.6" rx="1.7" ry="2.3" fill="none" stroke="#505050" stroke-width="0.8" opacity="0.35"/>
<ellipse cx="223.3" cy="486.2" rx="3.3" ry="4.3" fill="none" stroke="#505050" stroke-width="0.8" opacity="0.35"/>
<ellipse cx="141.0" cy="430.8" rx="2.3" ry="3.0" fill="none" stroke="#505050" stroke-width="0.8" opacity="0.35"/>
<ellipse cx="172.0" cy="460.2" rx="2.3" ry="3.0" fill="none" stroke="#505050" stroke-width="0.8" opacity="0.35"/>
<ellipse cx="195.0" cy="485.5" rx="2.0" ry="2.7" fill="none" stroke="#505050" stroke-width="0.8" opacity="0.35"/>
<ellipse cx="184.4" cy="478.1" rx="2.1" ry="2.8" fill="none" stroke="#505050" stroke-width="0.8" opacity="0.35"/>
<ellipse cx="155.4" cy="419.1" rx="1.7" ry="2.2" fill="none" stroke="#505050" stroke-width="0.8" opacity="0.35"/>
<ellipse cx="182.5" cy="435.3" rx="2.1" ry="2.8" fill="none" stroke="#505050" stroke-width="0.8" opacity="0.35"/>
<ellipse cx="184.5" cy="442.9" rx="3.7" ry="4.8" fill="none" stroke="#505050" stroke-width="0.8" opacity="0.35"/>
<path d="M187,0 L422,0 C330,118 232,248 126,346 Q122,354 118,352 L117,341 L100,277 L82,178 L82,171 Z" fill="url(#bladeTop)"/>
<g clip-path="url(#ctop)">
<ellipse cx="137.1" cy="101.5" rx="10.2" ry="4.8" transform="rotate(-59 137.1 101.5)" class="hd"/>
<ellipse cx="121.6" cy="115.6" rx="9.1" ry="4.2" transform="rotate(-62 121.6 115.6)" class="hd"/>
<ellipse cx="186.8" cy="15.6" rx="8.4" ry="5.5" transform="rotate(-71 186.8 15.6)" class="hd"/>
<ellipse cx="215.7" cy="67.5" rx="12.6" ry="7.5" transform="rotate(-63 215.7 67.5)" class="hd"/>
<ellipse cx="115.5" cy="322.0" rx="11.9" ry="6.2" transform="rotate(-71 115.5 322.0)" class="hd"/>
<ellipse cx="200.2" cy="31.8" rx="11.5" ry="5.7" transform="rotate(-58 200.2 31.8)" class="hd"/>
<ellipse cx="110.2" cy="208.0" rx="9.4" ry="4.4" transform="rotate(-73 110.2 208.0)" class="hd"/>
<ellipse cx="228.2" cy="61.6" rx="8.4" ry="4.5" transform="rotate(-57 228.2 61.6)" class="hd"/>
<ellipse cx="120.1" cy="145.2" rx="11.4" ry="7.1" transform="rotate(-68 120.1 145.2)" class="hd"/>
<ellipse cx="119.9" cy="186.2" rx="12.0" ry="7.6" transform="rotate(-66 119.9 186.2)" class="hd"/>
<ellipse cx="116.5" cy="323.3" rx="8.3" ry="5.3" transform="rotate(-70 116.5 323.3)" class="hd"/>
<ellipse cx="94.7" cy="157.3" rx="10.3" ry="6.6" transform="rotate(-58 94.7 157.3)" class="hd"/>
<ellipse cx="115.2" cy="287.9" rx="10.6" ry="6.3" transform="rotate(-58 115.2 287.9)" class="hd"/>
<ellipse cx="173.2" cy="146.2" rx="12.6" ry="7.1" transform="rotate(-55 173.2 146.2)" class="hd"/>
<ellipse cx="273.8" cy="12.5" rx="10.2" ry="7.1" transform="rotate(-50 273.8 12.5)" class="hd"/>
<ellipse cx="169.1" cy="88.2" rx="10.3" ry="4.7" transform="rotate(-61 169.1 88.2)" class="hd"/>
<ellipse cx="168.1" cy="48.8" rx="5.5" ry="3.5" transform="rotate(-71 168.1 48.8)" class="hd"/>
<ellipse cx="178.8" cy="75.7" rx="12.0" ry="5.6" transform="rotate(-62 178.8 75.7)" class="hd"/>
<ellipse cx="152.0" cy="177.7" rx="11.6" ry="7.7" transform="rotate(-67 152.0 177.7)" class="hd"/>
<ellipse cx="134.3" cy="132.4" rx="12.1" ry="8.3" transform="rotate(-70 134.3 132.4)" class="hd"/>
<ellipse cx="177.7" cy="51.6" rx="6.9" ry="3.9" transform="rotate(-57 177.7 51.6)" class="hd"/>
<ellipse cx="140.5" cy="80.8" rx="8.4" ry="4.5" transform="rotate(-58 140.5 80.8)" class="hd"/>
<ellipse cx="125.9" cy="314.1" rx="9.1" ry="5.5" transform="rotate(-55 125.9 314.1)" class="hd"/>
<ellipse cx="310.8" cy="10.2" rx="11.2" ry="7.5" transform="rotate(-51 310.8 10.2)" class="hd"/>
<ellipse cx="143.8" cy="124.6" rx="5.8" ry="3.5" transform="rotate(-73 143.8 124.6)" class="hd"/>
<ellipse cx="199.7" cy="14.8" rx="6.3" ry="3.4" transform="rotate(-73 199.7 14.8)" class="hd"/>
<ellipse cx="208.0" cy="-7.9" rx="5.8" ry="3.1" transform="rotate(-74 208.0 -7.9)" class="hd"/>
<ellipse cx="124.8" cy="287.5" rx="6.2" ry="3.2" transform="rotate(-65 124.8 287.5)" class="hd"/>
<ellipse cx="126.1" cy="115.1" rx="11.8" ry="8.2" transform="rotate(-61 126.1 115.1)" class="hd"/>
<ellipse cx="98.1" cy="155.5" rx="5.8" ry="3.1" transform="rotate(-67 98.1 155.5)" class="hd"/>
<ellipse cx="108.7" cy="272.2" rx="5.2" ry="3.6" transform="rotate(-59 108.7 272.2)" class="hd"/>
<ellipse cx="224.8" cy="41.6" rx="5.2" ry="3.0" transform="rotate(-46 224.8 41.6)" class="hd"/>
<ellipse cx="127.9" cy="283.8" rx="7.1" ry="3.8" transform="rotate(-70 127.9 283.8)" class="hd"/>
<ellipse cx="121.5" cy="252.9" rx="11.2" ry="6.0" transform="rotate(-68 121.5 252.9)" class="hd"/>
<ellipse cx="143.3" cy="266.3" rx="11.8" ry="7.7" transform="rotate(-50 143.3 266.3)" class="hd"/>
<ellipse cx="106.5" cy="242.1" rx="9.1" ry="4.9" transform="rotate(-74 106.5 242.1)" class="hd"/>
<ellipse cx="217.6" cy="1.4" rx="7.1" ry="4.4" transform="rotate(-46 217.6 1.4)" class="hd"/>
<ellipse cx="187.3" cy="143.2" rx="12.9" ry="8.9" transform="rotate(-64 187.3 143.2)" class="hd"/>
<ellipse cx="167.1" cy="66.5" rx="6.6" ry="3.3" transform="rotate(-56 167.1 66.5)" class="hd"/>
<ellipse cx="131.9" cy="296.3" rx="8.8" ry="5.4" transform="rotate(-51 131.9 296.3)" class="hd"/>
<ellipse cx="260.0" cy="20.7" rx="12.3" ry="7.9" transform="rotate(-52 260.0 20.7)" class="hd"/>
<ellipse cx="105.1" cy="153.6" rx="11.3" ry="6.0" transform="rotate(-51 105.1 153.6)" class="hd"/>
<ellipse cx="120.1" cy="320.4" rx="8.2" ry="5.6" transform="rotate(-53 120.1 320.4)" class="hd"/>
<ellipse cx="168.5" cy="49.5" rx="6.2" ry="4.2" transform="rotate(-51 168.5 49.5)" class="hd"/>
<ellipse cx="268.7" cy="41.4" rx="12.8" ry="7.9" transform="rotate(-64 268.7 41.4)" class="hd"/>
<ellipse cx="91.8" cy="177.4" rx="5.1" ry="3.5" transform="rotate(-56 91.8 177.4)" class="hd"/>
<ellipse cx="160.6" cy="170.0" rx="8.5" ry="5.7" transform="rotate(-50 160.6 170.0)" class="hd"/>
<ellipse cx="171.9" cy="63.3" rx="7.3" ry="3.7" transform="rotate(-57 171.9 63.3)" class="hd"/>
<ellipse cx="179.2" cy="79.7" rx="6.0" ry="4.1" transform="rotate(-64 179.2 79.7)" class="hd"/>
<ellipse cx="145.1" cy="146.9" rx="12.2" ry="6.8" transform="rotate(-47 145.1 146.9)" class="hd"/>
<ellipse cx="128.4" cy="161.6" rx="9.2" ry="4.2" transform="rotate(-62 128.4 161.6)" class="hd"/>
<ellipse cx="157.0" cy="53.9" rx="11.4" ry="5.6" transform="rotate(-61 157.0 53.9)" class="hd"/>
<ellipse cx="122.6" cy="237.1" rx="7.6" ry="4.4" transform="rotate(-58 122.6 237.1)" class="hd"/>
<ellipse cx="104.6" cy="257.1" rx="9.5" ry="4.9" transform="rotate(-67 104.6 257.1)" class="hd"/>
<ellipse cx="120.3" cy="253.0" rx="9.5" ry="6.1" transform="rotate(-48 120.3 253.0)" class="hd"/>
<ellipse cx="152.2" cy="141.8" rx="9.0" ry="5.2" transform="rotate(-54 152.2 141.8)" class="hd"/>
<ellipse cx="141.7" cy="144.9" rx="8.8" ry="6.0" transform="rotate(-54 141.7 144.9)" class="hd"/>
<ellipse cx="136.9" cy="288.3" rx="7.1" ry="4.2" transform="rotate(-47 136.9 288.3)" class="hd"/>
<ellipse cx="108.7" cy="275.9" rx="6.0" ry="3.3" transform="rotate(-73 108.7 275.9)" class="hd"/>
<ellipse cx="149.0" cy="73.3" rx="10.4" ry="6.7" transform="rotate(-48 149.0 73.3)" class="hd"/>
<ellipse cx="248.6" cy="44.2" rx="10.3" ry="5.0" transform="rotate(-49 248.6 44.2)" class="hd"/>
<ellipse cx="117.1" cy="319.0" rx="12.6" ry="6.9" transform="rotate(-60 117.1 319.0)" class="hd"/>
<ellipse cx="127.7" cy="326.6" rx="6.3" ry="3.5" transform="rotate(-60 127.7 326.6)" class="hd"/>
<ellipse cx="137.4" cy="106.6" rx="7.5" ry="4.8" transform="rotate(-74 137.4 106.6)" class="hd"/>
<ellipse cx="113.0" cy="179.3" rx="5.1" ry="2.7" transform="rotate(-56 113.0 179.3)" class="hd"/>
<ellipse cx="91.0" cy="165.1" rx="12.9" ry="8.3" transform="rotate(-46 91.0 165.1)" class="hd"/>
<ellipse cx="198.0" cy="27.4" rx="5.3" ry="3.4" transform="rotate(-67 198.0 27.4)" class="hd"/>
<ellipse cx="212.3" cy="35.8" rx="12.3" ry="8.0" transform="rotate(-67 212.3 35.8)" class="hd"/>
<ellipse cx="283.1" cy="42.5" rx="9.6" ry="6.0" transform="rotate(-72 283.1 42.5)" class="hd"/>
<ellipse cx="272.4" cy="11.4" rx="8.4" ry="3.9" transform="rotate(-47 272.4 11.4)" class="hd"/>
<ellipse cx="140.9" cy="206.4" rx="5.7" ry="3.8" transform="rotate(-73 140.9 206.4)" class="hd"/>
<ellipse cx="119.2" cy="283.6" rx="7.7" ry="4.5" transform="rotate(-47 119.2 283.6)" class="hd"/>
<ellipse cx="147.5" cy="82.5" rx="9.2" ry="4.7" transform="rotate(-72 147.5 82.5)" class="hd"/>
<ellipse cx="164.1" cy="46.6" rx="6.6" ry="3.5" transform="rotate(-66 164.1 46.6)" class="hd"/>
<ellipse cx="110.0" cy="248.7" rx="9.0" ry="4.5" transform="rotate(-65 110.0 248.7)" class="hd"/>
<ellipse cx="216.1" cy="-1.9" rx="5.1" ry="3.2" transform="rotate(-58 216.1 -1.9)" class="hd"/>
<ellipse cx="204.0" cy="56.0" rx="12.5" ry="5.9" transform="rotate(-50 204.0 56.0)" class="hd"/>
<ellipse cx="143.2" cy="138.1" rx="11.7" ry="6.4" transform="rotate(-60 143.2 138.1)" class="hd"/>
<ellipse cx="151.9" cy="224.5" rx="7.7" ry="5.1" transform="rotate(-54 151.9 224.5)" class="hd"/>
<ellipse cx="112.2" cy="207.0" rx="7.8" ry="3.6" transform="rotate(-71 112.2 207.0)" class="hd"/>
<ellipse cx="277.5" cy="15.9" rx="7.0" ry="3.5" transform="rotate(-72 277.5 15.9)" class="hd"/>
<ellipse cx="135.9" cy="276.3" rx="10.4" ry="5.4" transform="rotate(-68 135.9 276.3)" class="hd"/>
<ellipse cx="175.4" cy="91.1" rx="6.3" ry="3.5" transform="rotate(-67 175.4 91.1)" class="hd"/>
<ellipse cx="132.2" cy="317.1" rx="9.4" ry="4.8" transform="rotate(-46 132.2 317.1)" class="hd"/>
<ellipse cx="159.8" cy="96.6" rx="5.0" ry="2.7" transform="rotate(-61 159.8 96.6)" class="hd"/>
<ellipse cx="101.2" cy="161.9" rx="9.0" ry="4.1" transform="rotate(-67 101.2 161.9)" class="hd"/>
<ellipse cx="219.1" cy="22.3" rx="5.3" ry="2.4" transform="rotate(-66 219.1 22.3)" class="hd"/>
<ellipse cx="207.3" cy="70.7" rx="9.2" ry="5.9" transform="rotate(-55 207.3 70.7)" class="hd"/>
<ellipse cx="142.9" cy="234.0" rx="8.1" ry="4.3" transform="rotate(-45 142.9 234.0)" class="hd"/>
<ellipse cx="251.3" cy="42.5" rx="10.1" ry="4.7" transform="rotate(-50 251.3 42.5)" class="hd"/>
<ellipse cx="125.1" cy="293.5" rx="10.9" ry="7.1" transform="rotate(-71 125.1 293.5)" class="hd"/>
<ellipse cx="120.1" cy="169.0" rx="11.7" ry="7.6" transform="rotate(-50 120.1 169.0)" class="hd"/>
<ellipse cx="151.0" cy="189.4" rx="10.5" ry="6.5" transform="rotate(-68 151.0 189.4)" class="hd"/>
<ellipse cx="199.3" cy="2.5" rx="7.9" ry="3.8" transform="rotate(-50 199.3 2.5)" class="hd"/>
<ellipse cx="128.4" cy="180.8" rx="10.0" ry="6.2" transform="rotate(-60 128.4 180.8)" class="hd"/>
<ellipse cx="308.1" cy="-6.9" rx="11.0" ry="6.3" transform="rotate(-59 308.1 -6.9)" class="hd"/>
<ellipse cx="95.6" cy="214.8" rx="10.9" ry="5.6" transform="rotate(-73 95.6 214.8)" class="hd"/>
<ellipse cx="217.6" cy="81.8" rx="6.6" ry="4.2" transform="rotate(-46 217.6 81.8)" class="hd"/>
<ellipse cx="117.2" cy="159.0" rx="8.8" ry="5.5" transform="rotate(-52 117.2 159.0)" class="hd"/>
<ellipse cx="129.0" cy="200.5" rx="5.6" ry="2.7" transform="rotate(-67 129.0 200.5)" class="hd"/>
<ellipse cx="110.0" cy="243.2" rx="9.5" ry="4.3" transform="rotate(-73 110.0 243.2)" class="hd"/>
<ellipse cx="208.8" cy="82.8" rx="10.5" ry="6.5" transform="rotate(-66 208.8 82.8)" class="hd"/>
<ellipse cx="118.5" cy="166.6" rx="8.7" ry="4.2" transform="rotate(-48 118.5 166.6)" class="hd"/>
<ellipse cx="276.2" cy="59.3" rx="12.5" ry="5.7" transform="rotate(-61 276.2 59.3)" class="hd"/>
<ellipse cx="141.8" cy="269.1" rx="8.6" ry="4.4" transform="rotate(-69 141.8 269.1)" class="hd"/>
<ellipse cx="115.9" cy="311.6" rx="9.7" ry="4.7" transform="rotate(-59 115.9 311.6)" class="hd"/>
<ellipse cx="115.0" cy="314.0" rx="11.6" ry="6.7" transform="rotate(-48 115.0 314.0)" class="hd"/>
<ellipse cx="105.0" cy="229.7" rx="12.2" ry="7.0" transform="rotate(-74 105.0 229.7)" class="hd"/>
<ellipse cx="254.9" cy="-6.8" rx="8.6" ry="4.5" transform="rotate(-71 254.9 -6.8)" class="hd"/>
<ellipse cx="147.4" cy="108.3" rx="11.7" ry="5.3" transform="rotate(-52 147.4 108.3)" class="hd"/>
<ellipse cx="108.2" cy="275.6" rx="12.4" ry="7.8" transform="rotate(-48 108.2 275.6)" class="hd"/>
<ellipse cx="166.3" cy="90.0" rx="8.1" ry="5.7" transform="rotate(-57 166.3 90.0)" class="hd"/>
<ellipse cx="154.7" cy="113.9" rx="7.2" ry="3.3" transform="rotate(-72 154.7 113.9)" class="hd"/>
<ellipse cx="112.8" cy="274.1" rx="12.5" ry="6.4" transform="rotate(-67 112.8 274.1)" class="hd"/>
<ellipse cx="98.6" cy="164.7" rx="8.0" ry="5.5" transform="rotate(-48 98.6 164.7)" class="hd"/>
<ellipse cx="126.0" cy="266.4" rx="12.3" ry="8.4" transform="rotate(-59 126.0 266.4)" class="hd"/>
<ellipse cx="98.9" cy="235.2" rx="10.9" ry="6.1" transform="rotate(-52 98.9 235.2)" class="hd"/>
<ellipse cx="105.3" cy="209.8" rx="5.4" ry="3.7" transform="rotate(-71 105.3 209.8)" class="hd"/>
<ellipse cx="119.2" cy="151.6" rx="7.4" ry="4.7" transform="rotate(-46 119.2 151.6)" class="hd"/>
<ellipse cx="209.1" cy="79.9" rx="7.4" ry="4.4" transform="rotate(-63 209.1 79.9)" class="hd"/>
<ellipse cx="172.4" cy="48.6" rx="6.7" ry="4.5" transform="rotate(-60 172.4 48.6)" class="hd"/>
<ellipse cx="257.9" cy="66.4" rx="13.0" ry="7.3" transform="rotate(-71 257.9 66.4)" class="hd"/>
<ellipse cx="160.6" cy="57.0" rx="7.7" ry="3.7" transform="rotate(-68 160.6 57.0)" class="hd"/>
<ellipse cx="198.2" cy="79.3" rx="12.1" ry="7.7" transform="rotate(-63 198.2 79.3)" class="hd"/>
<ellipse cx="151.0" cy="131.9" rx="8.0" ry="4.3" transform="rotate(-73 151.0 131.9)" class="hd"/>
<ellipse cx="248.2" cy="85.8" rx="6.0" ry="3.5" transform="rotate(-56 248.2 85.8)" class="hd"/>
<ellipse cx="112.0" cy="283.6" rx="7.2" ry="3.7" transform="rotate(-63 112.0 283.6)" class="hd"/>
<ellipse cx="189.8" cy="142.7" rx="11.8" ry="7.9" transform="rotate(-74 189.8 142.7)" class="hd"/>
<ellipse cx="283.5" cy="2.9" rx="12.2" ry="6.9" transform="rotate(-57 283.5 2.9)" class="hd"/>
<ellipse cx="240.1" cy="-7.9" rx="12.4" ry="8.1" transform="rotate(-49 240.1 -7.9)" class="hd"/>
<ellipse cx="117.7" cy="320.6" rx="5.9" ry="2.9" transform="rotate(-59 117.7 320.6)" class="hd"/>
<ellipse cx="149.3" cy="222.5" rx="10.8" ry="6.6" transform="rotate(-52 149.3 222.5)" class="hd"/>
<ellipse cx="142.1" cy="146.6" rx="5.3" ry="3.4" transform="rotate(-68 142.1 146.6)" class="hd"/>
<ellipse cx="125.3" cy="302.9" rx="7.4" ry="3.6" transform="rotate(-67 125.3 302.9)" class="hd"/>
<ellipse cx="132.9" cy="207.1" rx="5.9" ry="2.8" transform="rotate(-59 132.9 207.1)" class="hd"/>
<ellipse cx="109.8" cy="189.0" rx="6.8" ry="4.1" transform="rotate(-75 109.8 189.0)" class="hd"/>
<ellipse cx="173.4" cy="93.9" rx="12.7" ry="7.7" transform="rotate(-48 173.4 93.9)" class="hd"/>
<ellipse cx="109.8" cy="152.7" rx="7.0" ry="4.8" transform="rotate(-54 109.8 152.7)" class="hd"/>
<ellipse cx="131.9" cy="95.9" rx="9.0" ry="5.6" transform="rotate(-62 131.9 95.9)" class="hd"/>
<ellipse cx="211.5" cy="79.0" rx="12.4" ry="6.3" transform="rotate(-74 211.5 79.0)" class="hd"/>
<ellipse cx="159.6" cy="106.3" rx="10.5" ry="5.2" transform="rotate(-51 159.6 106.3)" class="hd"/>
<ellipse cx="119.8" cy="241.8" rx="6.6" ry="4.6" transform="rotate(-66 119.8 241.8)" class="hd"/>
<ellipse cx="110.4" cy="269.2" rx="6.8" ry="4.3" transform="rotate(-66 110.4 269.2)" class="hd"/>
<ellipse cx="121.6" cy="313.8" rx="6.5" ry="3.3" transform="rotate(-62 121.6 313.8)" class="hd"/>
<ellipse cx="150.9" cy="216.9" rx="6.2" ry="3.4" transform="rotate(-69 150.9 216.9)" class="hd"/>
<ellipse cx="116.4" cy="321.3" rx="5.4" ry="2.5" transform="rotate(-63 116.4 321.3)" class="hd"/>
<ellipse cx="133.5" cy="295.6" rx="10.9" ry="7.6" transform="rotate(-47 133.5 295.6)" class="hd"/>
<ellipse cx="138.7" cy="103.3" rx="12.5" ry="7.9" transform="rotate(-74 138.7 103.3)" class="hd"/>
<ellipse cx="111.3" cy="216.6" rx="8.0" ry="4.3" transform="rotate(-70 111.3 216.6)" class="hd"/>
<ellipse cx="223.5" cy="-7.0" rx="7.8" ry="5.4" transform="rotate(-71 223.5 -7.0)" class="hd"/>
<ellipse cx="116.8" cy="317.9" rx="7.9" ry="5.1" transform="rotate(-50 116.8 317.9)" class="hd"/>
<ellipse cx="107.1" cy="138.2" rx="8.8" ry="4.8" transform="rotate(-47 107.1 138.2)" class="hd"/>
<ellipse cx="189.0" cy="57.2" rx="12.2" ry="5.6" transform="rotate(-63 189.0 57.2)" class="hd"/>
<ellipse cx="132.3" cy="266.4" rx="5.3" ry="2.4" transform="rotate(-73 132.3 266.4)" class="hd"/>
<ellipse cx="115.6" cy="303.0" rx="11.0" ry="7.4" transform="rotate(-65 115.6 303.0)" class="hd"/>
<ellipse cx="248.4" cy="84.0" rx="9.9" ry="5.1" transform="rotate(-54 248.4 84.0)" class="hd"/>
<ellipse cx="149.9" cy="99.0" rx="5.0" ry="3.2" transform="rotate(-48 149.9 99.0)" class="hd"/>
<ellipse cx="152.5" cy="206.3" rx="5.2" ry="2.6" transform="rotate(-61 152.5 206.3)" class="hd"/>
<ellipse cx="132.1" cy="315.4" rx="8.1" ry="4.1" transform="rotate(-62 132.1 315.4)" class="hd"/>
<ellipse cx="171.0" cy="158.8" rx="6.5" ry="4.2" transform="rotate(-53 171.0 158.8)" class="hd"/>
<ellipse cx="132.3" cy="270.1" rx="9.9" ry="5.2" transform="rotate(-65 132.3 270.1)" class="hd"/>
<ellipse cx="195.6" cy="114.3" rx="5.6" ry="2.8" transform="rotate(-52 195.6 114.3)" class="hd"/>
<ellipse cx="147.0" cy="75.6" rx="5.3" ry="3.1" transform="rotate(-65 147.0 75.6)" class="hd"/>
<ellipse cx="129.1" cy="323.3" rx="12.9" ry="6.7" transform="rotate(-72 129.1 323.3)" class="hd"/>
<ellipse cx="231.6" cy="24.6" rx="10.7" ry="6.0" transform="rotate(-68 231.6 24.6)" class="hd"/>
<ellipse cx="160.5" cy="132.9" rx="10.4" ry="6.6" transform="rotate(-50 160.5 132.9)" class="hd"/>
<ellipse cx="98.0" cy="216.6" rx="11.7" ry="6.1" transform="rotate(-58 98.0 216.6)" class="hd"/>
<ellipse cx="186.8" cy="118.1" rx="6.6" ry="3.4" transform="rotate(-68 186.8 118.1)" class="hd"/>
<ellipse cx="276.0" cy="43.8" rx="9.6" ry="5.1" transform="rotate(-63 276.0 43.8)" class="hd"/>
<ellipse cx="122.2" cy="327.4" rx="6.9" ry="4.5" transform="rotate(-55 122.2 327.4)" class="hd"/>
<ellipse cx="116.9" cy="326.9" rx="8.8" ry="5.8" transform="rotate(-50 116.9 326.9)" class="hd"/>
<ellipse cx="111.4" cy="301.1" rx="7.3" ry="3.5" transform="rotate(-69 111.4 301.1)" class="hd"/>
<ellipse cx="123.4" cy="320.9" rx="12.4" ry="6.8" transform="rotate(-49 123.4 320.9)" class="hd"/>
<ellipse cx="117.7" cy="143.8" rx="11.2" ry="7.7" transform="rotate(-72 117.7 143.8)" class="hd"/>
<ellipse cx="127.4" cy="193.5" rx="6.7" ry="3.7" transform="rotate(-71 127.4 193.5)" class="hd"/>
<ellipse cx="173.8" cy="60.9" rx="9.8" ry="6.0" transform="rotate(-69 173.8 60.9)" class="hd"/>
<ellipse cx="228.0" cy="-4.2" rx="10.4" ry="5.2" transform="rotate(-66 228.0 -4.2)" class="hd"/>
<ellipse cx="246.0" cy="60.8" rx="9.4" ry="4.4" transform="rotate(-72 246.0 60.8)" class="hd"/>
<ellipse cx="158.7" cy="125.6" rx="10.1" ry="4.8" transform="rotate(-70 158.7 125.6)" class="hd"/>
<ellipse cx="113.9" cy="227.0" rx="7.3" ry="3.8" transform="rotate(-46 113.9 227.0)" class="hd"/>
<ellipse cx="183.1" cy="97.6" rx="7.9" ry="4.4" transform="rotate(-49 183.1 97.6)" class="hd"/>
<ellipse cx="120.3" cy="328.9" rx="6.6" ry="4.2" transform="rotate(-69 120.3 328.9)" class="hd"/>
<ellipse cx="326.9" cy="-6.0" rx="8.4" ry="5.5" transform="rotate(-63 326.9 -6.0)" class="hd"/>
<ellipse cx="119.8" cy="290.4" rx="6.3" ry="2.9" transform="rotate(-58 119.8 290.4)" class="hd"/>
<ellipse cx="149.3" cy="208.5" rx="5.7" ry="3.5" transform="rotate(-64 149.3 208.5)" class="hd"/>
<ellipse cx="97.2" cy="162.5" rx="7.3" ry="4.2" transform="rotate(-47 97.2 162.5)" class="hd"/>
<ellipse cx="227.2" cy="28.8" rx="11.4" ry="7.9" transform="rotate(-69 227.2 28.8)" class="hd"/>
<ellipse cx="294.7" cy="34.8" rx="12.8" ry="7.3" transform="rotate(-73 294.7 34.8)" class="hd"/>
<ellipse cx="118.7" cy="305.0" rx="12.2" ry="7.4" transform="rotate(-50 118.7 305.0)" class="hd"/>
<ellipse cx="257.8" cy="46.2" rx="6.8" ry="3.7" transform="rotate(-50 257.8 46.2)" class="hd"/>
<ellipse cx="109.4" cy="272.3" rx="6.7" ry="3.7" transform="rotate(-59 109.4 272.3)" class="hd"/>
<ellipse cx="122.0" cy="121.6" rx="7.0" ry="4.4" transform="rotate(-48 122.0 121.6)" class="hd"/>
<ellipse cx="256.2" cy="5.9" rx="11.1" ry="5.1" transform="rotate(-50 256.2 5.9)" class="hd"/>
<ellipse cx="241.1" cy="31.8" rx="9.4" ry="5.7" transform="rotate(-66 241.1 31.8)" class="hd"/>
<ellipse cx="155.5" cy="134.0" rx="8.4" ry="5.2" transform="rotate(-62 155.5 134.0)" class="hd"/>
<ellipse cx="104.6" cy="140.2" rx="10.0" ry="5.7" transform="rotate(-68 104.6 140.2)" class="hd"/>
<ellipse cx="134.7" cy="250.1" rx="8.7" ry="4.3" transform="rotate(-61 134.7 250.1)" class="hd"/>
<ellipse cx="182.3" cy="28.2" rx="8.4" ry="4.0" transform="rotate(-62 182.3 28.2)" class="hd"/>
<ellipse cx="90.3" cy="164.4" rx="10.1" ry="4.7" transform="rotate(-53 90.3 164.4)" class="hd"/>
<ellipse cx="120.5" cy="254.8" rx="5.4" ry="3.1" transform="rotate(-64 120.5 254.8)" class="hd"/>
<ellipse cx="115.0" cy="313.4" rx="11.9" ry="8.3" transform="rotate(-53 115.0 313.4)" class="hd"/>
<ellipse cx="109.0" cy="267.5" rx="12.9" ry="7.4" transform="rotate(-46 109.0 267.5)" class="hd"/>
<ellipse cx="113.5" cy="301.6" rx="11.3" ry="7.7" transform="rotate(-73 113.5 301.6)" class="hd"/>
<ellipse cx="195.6" cy="110.6" rx="6.3" ry="4.2" transform="rotate(-67 195.6 110.6)" class="hd"/>
<ellipse cx="107.5" cy="267.7" rx="9.0" ry="6.1" transform="rotate(-69 107.5 267.7)" class="hd"/>
<ellipse cx="188.9" cy="80.8" rx="7.6" ry="3.5" transform="rotate(-70 188.9 80.8)" class="hd"/>
<ellipse cx="282.1" cy="46.5" rx="10.4" ry="7.0" transform="rotate(-70 282.1 46.5)" class="hd"/>
<ellipse cx="104.9" cy="257.3" rx="9.2" ry="5.6" transform="rotate(-64 104.9 257.3)" class="hd"/>
<ellipse cx="122.8" cy="287.1" rx="9.6" ry="6.5" transform="rotate(-72 122.8 287.1)" class="hd"/>
<ellipse cx="124.1" cy="327.6" rx="8.2" ry="5.3" transform="rotate(-67 124.1 327.6)" class="hd"/>
<ellipse cx="123.3" cy="326.8" rx="7.9" ry="5.1" transform="rotate(-62 123.3 326.8)" class="hd"/>
<ellipse cx="246.2" cy="51.7" rx="5.4" ry="3.5" transform="rotate(-67 246.2 51.7)" class="hd"/>
<ellipse cx="155.5" cy="208.1" rx="9.7" ry="6.0" transform="rotate(-66 155.5 208.1)" class="hd"/>
<ellipse cx="196.4" cy="-7.4" rx="6.2" ry="3.7" transform="rotate(-62 196.4 -7.4)" class="hd"/>
<ellipse cx="161.2" cy="165.3" rx="6.1" ry="3.1" transform="rotate(-55 161.2 165.3)" class="hd"/>
<ellipse cx="190.4" cy="-0.5" rx="7.8" ry="3.7" transform="rotate(-64 190.4 -0.5)" class="hd"/>
<ellipse cx="209.4" cy="67.8" rx="9.7" ry="4.9" transform="rotate(-56 209.4 67.8)" class="hd"/>
<ellipse cx="102.9" cy="152.5" rx="12.5" ry="6.4" transform="rotate(-71 102.9 152.5)" class="hd"/>
<ellipse cx="253.3" cy="24.4" rx="12.0" ry="7.7" transform="rotate(-63 253.3 24.4)" class="hd"/>
<ellipse cx="140.4" cy="81.3" rx="10.2" ry="6.0" transform="rotate(-64 140.4 81.3)" class="hd"/>
<ellipse cx="114.9" cy="210.2" rx="12.5" ry="7.9" transform="rotate(-68 114.9 210.2)" class="hd"/>
<ellipse cx="110.7" cy="297.4" rx="9.3" ry="5.1" transform="rotate(-68 110.7 297.4)" class="hd"/>
<ellipse cx="287.8" cy="11.7" rx="5.1" ry="3.0" transform="rotate(-47 287.8 11.7)" class="hd"/>
<ellipse cx="181.9" cy="40.1" rx="9.9" ry="5.7" transform="rotate(-56 181.9 40.1)" class="hd"/>
<ellipse cx="108.3" cy="266.9" rx="7.5" ry="3.9" transform="rotate(-74 108.3 266.9)" class="hd"/>
<ellipse cx="130.4" cy="292.6" rx="10.7" ry="4.8" transform="rotate(-50 130.4 292.6)" class="hd"/>
<ellipse cx="117.8" cy="243.9" rx="10.9" ry="6.2" transform="rotate(-68 117.8 243.9)" class="hd"/>
<ellipse cx="193.9" cy="27.6" rx="5.3" ry="2.8" transform="rotate(-53 193.9 27.6)" class="hd"/>
<ellipse cx="141.6" cy="226.9" rx="10.7" ry="5.5" transform="rotate(-58 141.6 226.9)" class="hd"/>
<ellipse cx="173.6" cy="139.4" rx="9.2" ry="4.7" transform="rotate(-56 173.6 139.4)" class="hd"/>
<ellipse cx="116.9" cy="318.2" rx="12.0" ry="5.5" transform="rotate(-67 116.9 318.2)" class="hd"/>
<ellipse cx="228.5" cy="71.8" rx="12.6" ry="8.0" transform="rotate(-65 228.5 71.8)" class="hd"/>
<ellipse cx="115.8" cy="289.5" rx="6.9" ry="4.7" transform="rotate(-56 115.8 289.5)" class="hd"/>
<ellipse cx="129.5" cy="226.2" rx="12.8" ry="7.3" transform="rotate(-50 129.5 226.2)" class="hd"/>
<ellipse cx="142.3" cy="227.8" rx="8.5" ry="5.4" transform="rotate(-58 142.3 227.8)" class="hd"/>
<ellipse cx="145.9" cy="96.0" rx="10.0" ry="4.7" transform="rotate(-48 145.9 96.0)" class="hd"/>
<ellipse cx="166.1" cy="40.9" rx="5.9" ry="4.0" transform="rotate(-65 166.1 40.9)" class="hd"/>
<ellipse cx="166.8" cy="39.9" rx="5.3" ry="3.3" transform="rotate(-56 166.8 39.9)" class="hd"/>
<ellipse cx="134.1" cy="227.6" rx="5.5" ry="3.3" transform="rotate(-64 134.1 227.6)" class="hd"/>
<ellipse cx="134.7" cy="268.3" rx="12.1" ry="5.7" transform="rotate(-49 134.7 268.3)" class="hd"/>
<ellipse cx="134.6" cy="301.1" rx="5.9" ry="2.9" transform="rotate(-72 134.6 301.1)" class="hd"/>
<ellipse cx="307.6" cy="3.6" rx="11.5" ry="7.0" transform="rotate(-50 307.6 3.6)" class="hd"/>
<ellipse cx="104.8" cy="205.5" rx="5.8" ry="2.8" transform="rotate(-52 104.8 205.5)" class="hd"/>
<ellipse cx="180.8" cy="61.3" rx="8.4" ry="3.8" transform="rotate(-67 180.8 61.3)" class="hd"/>
<ellipse cx="210.7" cy="87.5" rx="7.9" ry="4.2" transform="rotate(-46 210.7 87.5)" class="hd"/>
<ellipse cx="159.4" cy="162.3" rx="9.9" ry="4.6" transform="rotate(-63 159.4 162.3)" class="hd"/>
<ellipse cx="171.7" cy="139.5" rx="7.8" ry="4.9" transform="rotate(-59 171.7 139.5)" class="hd"/>
<ellipse cx="252.2" cy="65.2" rx="5.7" ry="3.8" transform="rotate(-70 252.2 65.2)" class="hd"/>
<ellipse cx="213.8" cy="-7.6" rx="11.1" ry="7.7" transform="rotate(-75 213.8 -7.6)" class="hd"/>
<ellipse cx="127.5" cy="157.9" rx="11.4" ry="5.6" transform="rotate(-60 127.5 157.9)" class="hd"/>
<ellipse cx="206.5" cy="109.3" rx="7.1" ry="4.9" transform="rotate(-66 206.5 109.3)" class="hd"/>
<ellipse cx="228.4" cy="64.6" rx="9.0" ry="4.3" transform="rotate(-56 228.4 64.6)" class="hd"/>
<ellipse cx="282.5" cy="19.3" rx="10.6" ry="6.8" transform="rotate(-56 282.5 19.3)" class="hd"/>
<ellipse cx="153.2" cy="112.2" rx="8.2" ry="5.5" transform="rotate(-72 153.2 112.2)" class="hd"/>
<ellipse cx="109.5" cy="292.3" rx="6.6" ry="3.4" transform="rotate(-48 109.5 292.3)" class="hd"/>
<ellipse cx="115.1" cy="161.4" rx="12.1" ry="6.1" transform="rotate(-61 115.1 161.4)" class="hd"/>
<ellipse cx="140.4" cy="171.7" rx="11.0" ry="6.7" transform="rotate(-65 140.4 171.7)" class="hd"/>
<ellipse cx="136.8" cy="102.4" rx="11.7" ry="7.2" transform="rotate(-53 136.8 102.4)" class="hd"/>
<ellipse cx="204.4" cy="49.3" rx="11.2" ry="6.7" transform="rotate(-71 204.4 49.3)" class="hd"/>
<ellipse cx="176.4" cy="148.2" rx="6.9" ry="3.4" transform="rotate(-66 176.4 148.2)" class="hd"/>
<ellipse cx="107.3" cy="241.1" rx="1.2" ry="1.8" transform="rotate(16 107.3 241.1)" class="d1"/>
<ellipse cx="164.3" cy="206.0" rx="1.3" ry="1.4" transform="rotate(32 164.3 206.0)" class="d1"/>
<ellipse cx="250.9" cy="52.6" rx="1.2" ry="1.8" transform="rotate(21 250.9 52.6)" class="d1"/>
<ellipse cx="147.0" cy="251.7" rx="2.5" ry="3.6" transform="rotate(-15 147.0 251.7)" class="d2"/>
<ellipse cx="147.5" cy="252.9" rx="1.1" ry="1.3" fill="#fff" opacity="0.9"/>
<ellipse cx="125.4" cy="304.8" rx="4.0" ry="5.5" transform="rotate(14 125.4 304.8)" class="d3"/>
<ellipse cx="126.2" cy="306.8" rx="1.8" ry="1.9" fill="#fff" opacity="0.9"/>
<ellipse cx="204.4" cy="170.2" rx="1.2" ry="1.3" transform="rotate(17 204.4 170.2)" class="d1"/>
<ellipse cx="386.0" cy="-3.1" rx="2.8" ry="3.5" transform="rotate(17 386.0 -3.1)" class="d2"/>
<ellipse cx="386.6" cy="-1.8" rx="1.3" ry="1.2" fill="#fff" opacity="0.9"/>
<ellipse cx="259.4" cy="142.4" rx="3.2" ry="4.1" transform="rotate(6 259.4 142.4)" class="d2"/>
<ellipse cx="260.0" cy="143.8" rx="1.4" ry="1.4" fill="#fff" opacity="0.9"/>
<ellipse cx="225.7" cy="75.0" rx="1.6" ry="1.7" transform="rotate(9 225.7 75.0)" class="d1"/>
<ellipse cx="352.0" cy="29.3" rx="2.8" ry="3.7" transform="rotate(-24 352.0 29.3)" class="d2"/>
<ellipse cx="352.5" cy="30.6" rx="1.3" ry="1.3" fill="#fff" opacity="0.9"/>
<ellipse cx="127.7" cy="292.3" rx="4.0" ry="4.6" transform="rotate(12 127.7 292.3)" class="d3"/>
<ellipse cx="128.5" cy="293.9" rx="1.8" ry="1.6" fill="#fff" opacity="0.9"/>
<ellipse cx="137.6" cy="320.6" rx="3.2" ry="2.9" transform="rotate(23 137.6 320.6)" class="d2"/>
<ellipse cx="138.2" cy="321.6" rx="1.4" ry="1.0" fill="#fff" opacity="0.9"/>
<ellipse cx="131.0" cy="312.9" rx="1.3" ry="1.3" transform="rotate(20 131.0 312.9)" class="d1"/>
<ellipse cx="124.2" cy="324.2" rx="2.2" ry="2.6" transform="rotate(-21 124.2 324.2)" class="d2"/>
<ellipse cx="124.7" cy="325.1" rx="1.0" ry="0.9" fill="#fff" opacity="0.9"/>
<ellipse cx="253.9" cy="161.5" rx="1.5" ry="1.8" transform="rotate(-6 253.9 161.5)" class="d1"/>
<ellipse cx="134.3" cy="326.8" rx="1.6" ry="1.9" transform="rotate(30 134.3 326.8)" class="d1"/>
<ellipse cx="179.9" cy="250.2" rx="1.4" ry="1.5" transform="rotate(-7 179.9 250.2)" class="d1"/>
<ellipse cx="320.0" cy="-0.3" rx="2.8" ry="3.7" transform="rotate(6 320.0 -0.3)" class="d2"/>
<ellipse cx="320.6" cy="0.9" rx="1.3" ry="1.3" fill="#fff" opacity="0.9"/>
<ellipse cx="293.7" cy="33.2" rx="2.0" ry="3.0" transform="rotate(35 293.7 33.2)" class="d1"/>
<ellipse cx="123.6" cy="331.3" rx="3.2" ry="3.0" transform="rotate(21 123.6 331.3)" class="d2"/>
<ellipse cx="124.3" cy="332.4" rx="1.4" ry="1.1" fill="#fff" opacity="0.9"/>
<ellipse cx="318.9" cy="62.6" rx="4.0" ry="5.9" transform="rotate(-10 318.9 62.6)" class="d3"/>
<ellipse cx="319.7" cy="64.7" rx="1.8" ry="2.1" fill="#fff" opacity="0.9"/>
<ellipse cx="130.5" cy="218.6" rx="1.8" ry="2.7" transform="rotate(18 130.5 218.6)" class="d1"/>
<ellipse cx="181.0" cy="222.4" rx="3.2" ry="4.5" transform="rotate(-16 181.0 222.4)" class="d2"/>
<ellipse cx="181.7" cy="223.9" rx="1.4" ry="1.6" fill="#fff" opacity="0.9"/>
<ellipse cx="231.4" cy="126.7" rx="1.2" ry="1.4" transform="rotate(21 231.4 126.7)" class="d1"/>
<ellipse cx="166.0" cy="274.6" rx="1.5" ry="1.8" transform="rotate(-5 166.0 274.6)" class="d1"/>
<ellipse cx="172.7" cy="218.1" rx="1.4" ry="2.0" transform="rotate(-31 172.7 218.1)" class="d1"/>
<ellipse cx="123.7" cy="284.8" rx="1.2" ry="1.5" transform="rotate(-11 123.7 284.8)" class="d1"/>
<ellipse cx="163.6" cy="198.9" rx="1.1" ry="1.4" transform="rotate(-17 163.6 198.9)" class="d1"/>
<ellipse cx="271.4" cy="30.5" rx="3.2" ry="3.7" transform="rotate(20 271.4 30.5)" class="d2"/>
<ellipse cx="272.0" cy="31.8" rx="1.4" ry="1.3" fill="#fff" opacity="0.9"/>
<ellipse cx="288.6" cy="68.0" rx="2.2" ry="3.2" transform="rotate(8 288.6 68.0)" class="d2"/>
<ellipse cx="289.0" cy="69.1" rx="1.0" ry="1.1" fill="#fff" opacity="0.9"/>
<ellipse cx="184.3" cy="268.4" rx="3.2" ry="4.1" transform="rotate(-14 184.3 268.4)" class="d2"/>
<ellipse cx="185.0" cy="269.9" rx="1.4" ry="1.4" fill="#fff" opacity="0.9"/>
<ellipse cx="155.9" cy="168.1" rx="4.0" ry="4.7" transform="rotate(27 155.9 168.1)" class="d3"/>
<ellipse cx="156.7" cy="169.7" rx="1.8" ry="1.6" fill="#fff" opacity="0.9"/>
<ellipse cx="169.4" cy="189.3" rx="1.2" ry="1.4" transform="rotate(4 169.4 189.3)" class="d1"/>
<ellipse cx="132.6" cy="164.5" rx="1.3" ry="1.6" transform="rotate(3 132.6 164.5)" class="d1"/>
<ellipse cx="159.6" cy="297.0" rx="1.8" ry="2.4" transform="rotate(-0 159.6 297.0)" class="d1"/>
<ellipse cx="251.6" cy="98.9" rx="2.5" ry="2.4" transform="rotate(10 251.6 98.9)" class="d2"/>
<ellipse cx="252.1" cy="99.7" rx="1.1" ry="0.8" fill="#fff" opacity="0.9"/>
<ellipse cx="197.0" cy="217.6" rx="2.5" ry="3.4" transform="rotate(35 197.0 217.6)" class="d2"/>
<ellipse cx="197.5" cy="218.8" rx="1.1" ry="1.2" fill="#fff" opacity="0.9"/>
<ellipse cx="154.8" cy="278.0" rx="3.2" ry="4.6" transform="rotate(-33 154.8 278.0)" class="d2"/>
<ellipse cx="155.5" cy="279.6" rx="1.4" ry="1.6" fill="#fff" opacity="0.9"/>
<ellipse cx="159.4" cy="246.4" rx="4.0" ry="5.2" transform="rotate(-11 159.4 246.4)" class="d3"/>
<ellipse cx="160.2" cy="248.2" rx="1.8" ry="1.8" fill="#fff" opacity="0.9"/>
<ellipse cx="186.2" cy="267.5" rx="1.4" ry="1.6" transform="rotate(-5 186.2 267.5)" class="d1"/>
<ellipse cx="108.7" cy="188.9" rx="4.0" ry="4.8" transform="rotate(-12 108.7 188.9)" class="d3"/>
<ellipse cx="109.5" cy="190.6" rx="1.8" ry="1.7" fill="#fff" opacity="0.9"/>
<ellipse cx="117.6" cy="339.5" rx="1.3" ry="1.7" transform="rotate(20 117.6 339.5)" class="d1"/>
<ellipse cx="225.5" cy="110.8" rx="2.2" ry="3.3" transform="rotate(-29 225.5 110.8)" class="d2"/>
<ellipse cx="226.0" cy="112.0" rx="1.0" ry="1.1" fill="#fff" opacity="0.9"/>
<ellipse cx="222.9" cy="134.6" rx="2.2" ry="2.0" transform="rotate(-14 222.9 134.6)" class="d2"/>
<ellipse cx="223.3" cy="135.3" rx="1.0" ry="0.7" fill="#fff" opacity="0.9"/>
<ellipse cx="396.0" cy="-2.8" rx="2.2" ry="3.0" transform="rotate(-31 396.0 -2.8)" class="d2"/>
<ellipse cx="396.5" cy="-1.8" rx="1.0" ry="1.0" fill="#fff" opacity="0.9"/>
<ellipse cx="193.0" cy="170.3" rx="1.2" ry="1.5" transform="rotate(14 193.0 170.3)" class="d1"/>
<ellipse cx="162.5" cy="203.7" rx="2.5" ry="3.2" transform="rotate(9 162.5 203.7)" class="d2"/>
<ellipse cx="163.0" cy="204.8" rx="1.1" ry="1.1" fill="#fff" opacity="0.9"/>
<ellipse cx="345.0" cy="55.9" rx="1.6" ry="2.2" transform="rotate(29 345.0 55.9)" class="d1"/>
<ellipse cx="212.6" cy="224.5" rx="3.2" ry="3.5" transform="rotate(15 212.6 224.5)" class="d2"/>
<ellipse cx="213.2" cy="225.7" rx="1.4" ry="1.2" fill="#fff" opacity="0.9"/>
<ellipse cx="127.5" cy="296.9" rx="1.0" ry="1.2" transform="rotate(10 127.5 296.9)" class="d1"/>
<ellipse cx="134.9" cy="321.9" rx="1.0" ry="1.4" transform="rotate(19 134.9 321.9)" class="d1"/>
<ellipse cx="217.0" cy="142.4" rx="1.1" ry="1.0" transform="rotate(-8 217.0 142.4)" class="d1"/>
<ellipse cx="139.1" cy="202.2" rx="1.8" ry="2.5" transform="rotate(3 139.1 202.2)" class="d1"/>
<ellipse cx="372.3" cy="24.0" rx="2.5" ry="2.3" transform="rotate(-35 372.3 24.0)" class="d2"/>
<ellipse cx="372.8" cy="24.8" rx="1.1" ry="0.8" fill="#fff" opacity="0.9"/>
<ellipse cx="217.6" cy="234.3" rx="1.1" ry="1.1" transform="rotate(-27 217.6 234.3)" class="d1"/>
<ellipse cx="225.5" cy="160.3" rx="1.8" ry="2.4" transform="rotate(-22 225.5 160.3)" class="d1"/>
<ellipse cx="354.1" cy="12.5" rx="4.0" ry="3.9" transform="rotate(18 354.1 12.5)" class="d3"/>
<ellipse cx="354.9" cy="13.9" rx="1.8" ry="1.4" fill="#fff" opacity="0.9"/>
<ellipse cx="262.6" cy="97.6" rx="2.5" ry="3.6" transform="rotate(-17 262.6 97.6)" class="d2"/>
<ellipse cx="263.1" cy="98.9" rx="1.1" ry="1.3" fill="#fff" opacity="0.9"/>
<ellipse cx="121.2" cy="332.5" rx="1.0" ry="1.4" transform="rotate(13 121.2 332.5)" class="d1"/>
<ellipse cx="170.4" cy="211.4" rx="2.2" ry="2.2" transform="rotate(25 170.4 211.4)" class="d2"/>
<ellipse cx="170.8" cy="212.1" rx="1.0" ry="0.8" fill="#fff" opacity="0.9"/>
<ellipse cx="195.6" cy="165.2" rx="2.2" ry="2.9" transform="rotate(-2 195.6 165.2)" class="d2"/>
<ellipse cx="196.0" cy="166.2" rx="1.0" ry="1.0" fill="#fff" opacity="0.9"/>
<ellipse cx="172.3" cy="53.3" rx="2.5" ry="2.5" transform="rotate(21 172.3 53.3)" class="d2"/>
<ellipse cx="172.8" cy="54.1" rx="1.1" ry="0.9" fill="#fff" opacity="0.9"/>
<ellipse cx="209.1" cy="161.9" rx="1.4" ry="1.9" transform="rotate(5 209.1 161.9)" class="d1"/>
<ellipse cx="328.9" cy="97.3" rx="2.8" ry="3.9" transform="rotate(7 328.9 97.3)" class="d2"/>
<ellipse cx="329.5" cy="98.7" rx="1.3" ry="1.4" fill="#fff" opacity="0.9"/>
<ellipse cx="126.4" cy="299.3" rx="1.2" ry="1.5" transform="rotate(-13 126.4 299.3)" class="d1"/>
<ellipse cx="128.4" cy="145.0" rx="2.5" ry="2.8" transform="rotate(19 128.4 145.0)" class="d2"/>
<ellipse cx="128.9" cy="146.0" rx="1.1" ry="1.0" fill="#fff" opacity="0.9"/>
<ellipse cx="303.9" cy="77.0" rx="1.5" ry="1.6" transform="rotate(-5 303.9 77.0)" class="d1"/>
<ellipse cx="135.3" cy="200.3" rx="1.0" ry="1.1" transform="rotate(-25 135.3 200.3)" class="d1"/>
<ellipse cx="113.7" cy="306.7" rx="4.0" ry="5.5" transform="rotate(3 113.7 306.7)" class="d3"/>
<ellipse cx="114.5" cy="308.6" rx="1.8" ry="1.9" fill="#fff" opacity="0.9"/>
<ellipse cx="163.4" cy="267.0" rx="2.0" ry="2.5" transform="rotate(21 163.4 267.0)" class="d1"/>
<ellipse cx="347.0" cy="65.2" rx="1.3" ry="1.4" transform="rotate(-31 347.0 65.2)" class="d1"/>
<ellipse cx="293.7" cy="133.4" rx="2.2" ry="3.0" transform="rotate(20 293.7 133.4)" class="d2"/>
<ellipse cx="294.1" cy="134.5" rx="1.0" ry="1.0" fill="#fff" opacity="0.9"/>
<ellipse cx="260.1" cy="155.9" rx="3.2" ry="3.0" transform="rotate(-7 260.1 155.9)" class="d2"/>
<ellipse cx="260.7" cy="157.0" rx="1.4" ry="1.1" fill="#fff" opacity="0.9"/>
<ellipse cx="247.7" cy="177.4" rx="1.5" ry="1.8" transform="rotate(6 247.7 177.4)" class="d1"/>
<ellipse cx="243.0" cy="61.2" rx="2.8" ry="3.0" transform="rotate(5 243.0 61.2)" class="d2"/>
<ellipse cx="243.5" cy="62.3" rx="1.3" ry="1.1" fill="#fff" opacity="0.9"/>
<ellipse cx="294.5" cy="120.6" rx="1.3" ry="1.2" transform="rotate(35 294.5 120.6)" class="d1"/>
<ellipse cx="259.9" cy="125.9" rx="3.2" ry="3.0" transform="rotate(-13 259.9 125.9)" class="d2"/>
<ellipse cx="260.6" cy="127.0" rx="1.4" ry="1.1" fill="#fff" opacity="0.9"/>
<ellipse cx="343.4" cy="5.6" rx="1.1" ry="1.0" transform="rotate(34 343.4 5.6)" class="d1"/>
<ellipse cx="148.1" cy="298.1" rx="1.4" ry="2.0" transform="rotate(-15 148.1 298.1)" class="d1"/>
<ellipse cx="324.7" cy="29.0" rx="2.2" ry="3.3" transform="rotate(-17 324.7 29.0)" class="d2"/>
<ellipse cx="325.1" cy="30.1" rx="1.0" ry="1.1" fill="#fff" opacity="0.9"/>
<ellipse cx="278.7" cy="8.3" rx="1.1" ry="1.0" transform="rotate(-33 278.7 8.3)" class="d1"/>
<ellipse cx="241.3" cy="124.4" rx="4.0" ry="5.8" transform="rotate(-31 241.3 124.4)" class="d3"/>
<ellipse cx="242.1" cy="126.4" rx="1.8" ry="2.0" fill="#fff" opacity="0.9"/>
<ellipse cx="152.4" cy="204.3" rx="1.1" ry="1.2" transform="rotate(5 152.4 204.3)" class="d1"/>
<ellipse cx="124.8" cy="219.2" rx="1.6" ry="1.6" transform="rotate(24 124.8 219.2)" class="d1"/>
<ellipse cx="272.7" cy="124.8" rx="1.2" ry="1.1" transform="rotate(-17 272.7 124.8)" class="d1"/>
<ellipse cx="174.2" cy="118.2" rx="4.0" ry="5.8" transform="rotate(-17 174.2 118.2)" class="d3"/>
<ellipse cx="175.0" cy="120.2" rx="1.8" ry="2.0" fill="#fff" opacity="0.9"/>
<ellipse cx="240.3" cy="174.7" rx="1.8" ry="1.7" transform="rotate(-25 240.3 174.7)" class="d1"/>
<ellipse cx="123.0" cy="259.2" rx="1.4" ry="1.8" transform="rotate(-4 123.0 259.2)" class="d1"/>
<ellipse cx="171.4" cy="223.4" rx="1.6" ry="1.6" transform="rotate(-1 171.4 223.4)" class="d1"/>
<ellipse cx="242.5" cy="54.0" rx="2.5" ry="3.6" transform="rotate(-2 242.5 54.0)" class="d2"/>
<ellipse cx="243.0" cy="55.3" rx="1.1" ry="1.3" fill="#fff" opacity="0.9"/>
<ellipse cx="127.9" cy="314.4" rx="4.0" ry="4.1" transform="rotate(30 127.9 314.4)" class="d3"/>
<ellipse cx="128.7" cy="315.9" rx="1.8" ry="1.4" fill="#fff" opacity="0.9"/>
<ellipse cx="112.7" cy="298.4" rx="1.8" ry="2.7" transform="rotate(30 112.7 298.4)" class="d1"/>
<ellipse cx="181.7" cy="129.8" rx="1.5" ry="1.6" transform="rotate(-19 181.7 129.8)" class="d1"/>
<ellipse cx="282.2" cy="35.5" rx="2.8" ry="2.6" transform="rotate(15 282.2 35.5)" class="d2"/>
<ellipse cx="282.8" cy="36.4" rx="1.3" ry="0.9" fill="#fff" opacity="0.9"/>
<ellipse cx="244.8" cy="188.7" rx="1.4" ry="1.6" transform="rotate(-18 244.8 188.7)" class="d1"/>
<ellipse cx="298.7" cy="3.9" rx="3.2" ry="3.2" transform="rotate(-1 298.7 3.9)" class="d2"/>
<ellipse cx="299.4" cy="5.0" rx="1.4" ry="1.1" fill="#fff" opacity="0.9"/>
<ellipse cx="138.9" cy="106.3" rx="2.0" ry="1.9" transform="rotate(28 138.9 106.3)" class="d1"/>
<ellipse cx="178.6" cy="228.9" rx="1.4" ry="1.4" transform="rotate(18 178.6 228.9)" class="d1"/>
<ellipse cx="123.9" cy="334.7" rx="1.3" ry="1.9" transform="rotate(-28 123.9 334.7)" class="d1"/>
<ellipse cx="142.1" cy="96.3" rx="2.8" ry="4.2" transform="rotate(-25 142.1 96.3)" class="d2"/>
<ellipse cx="142.7" cy="97.8" rx="1.3" ry="1.5" fill="#fff" opacity="0.9"/>
<ellipse cx="186.4" cy="218.9" rx="2.0" ry="2.0" transform="rotate(-35 186.4 218.9)" class="d1"/>
<ellipse cx="136.5" cy="286.3" rx="1.6" ry="1.5" transform="rotate(-6 136.5 286.3)" class="d1"/>
<ellipse cx="314.8" cy="91.9" rx="2.0" ry="2.7" transform="rotate(15 314.8 91.9)" class="d1"/>
<ellipse cx="227.9" cy="63.8" rx="2.2" ry="2.9" transform="rotate(18 227.9 63.8)" class="d2"/>
<ellipse cx="228.4" cy="64.9" rx="1.0" ry="1.0" fill="#fff" opacity="0.9"/>
<ellipse cx="316.1" cy="56.4" rx="2.5" ry="3.5" transform="rotate(6 316.1 56.4)" class="d2"/>
<ellipse cx="316.6" cy="57.6" rx="1.1" ry="1.2" fill="#fff" opacity="0.9"/>
<ellipse cx="318.3" cy="65.8" rx="1.6" ry="2.2" transform="rotate(29 318.3 65.8)" class="d1"/>
<ellipse cx="178.7" cy="176.5" rx="2.5" ry="3.5" transform="rotate(-0 178.7 176.5)" class="d2"/>
<ellipse cx="179.2" cy="177.7" rx="1.1" ry="1.2" fill="#fff" opacity="0.9"/>
<ellipse cx="226.5" cy="0.4" rx="4.0" ry="5.2" transform="rotate(-18 226.5 0.4)" class="d3"/>
<ellipse cx="227.3" cy="2.2" rx="1.8" ry="1.8" fill="#fff" opacity="0.9"/>
<ellipse cx="97.1" cy="192.1" rx="2.8" ry="3.1" transform="rotate(7 97.1 192.1)" class="d2"/>
<ellipse cx="97.7" cy="193.2" rx="1.3" ry="1.1" fill="#fff" opacity="0.9"/>
<ellipse cx="325.9" cy="-3.4" rx="2.0" ry="1.9" transform="rotate(-10 325.9 -3.4)" class="d1"/>
<ellipse cx="199.6" cy="80.7" rx="3.2" ry="4.2" transform="rotate(-8 199.6 80.7)" class="d2"/>
<ellipse cx="200.2" cy="82.1" rx="1.4" ry="1.5" fill="#fff" opacity="0.9"/>
<ellipse cx="191.2" cy="258.0" rx="2.8" ry="3.4" transform="rotate(1 191.2 258.0)" class="d2"/>
<ellipse cx="191.8" cy="259.1" rx="1.3" ry="1.2" fill="#fff" opacity="0.9"/>
<ellipse cx="145.3" cy="180.7" rx="1.1" ry="1.1" transform="rotate(-22 145.3 180.7)" class="d1"/>
<ellipse cx="355.8" cy="30.9" rx="1.0" ry="0.9" transform="rotate(30 355.8 30.9)" class="d1"/>
<ellipse cx="192.1" cy="253.6" rx="2.5" ry="3.1" transform="rotate(2 192.1 253.6)" class="d2"/>
<ellipse cx="192.6" cy="254.7" rx="1.1" ry="1.1" fill="#fff" opacity="0.9"/>
<ellipse cx="204.2" cy="240.9" rx="2.8" ry="2.8" transform="rotate(-16 204.2 240.9)" class="d2"/>
<ellipse cx="204.8" cy="241.9" rx="1.3" ry="1.0" fill="#fff" opacity="0.9"/>
<ellipse cx="252.8" cy="157.7" rx="1.1" ry="1.1" transform="rotate(-7 252.8 157.7)" class="d1"/>
<ellipse cx="353.3" cy="42.9" rx="1.2" ry="1.6" transform="rotate(-3 353.3 42.9)" class="d1"/>
<ellipse cx="116.5" cy="133.8" rx="2.5" ry="2.8" transform="rotate(-6 116.5 133.8)" class="d2"/>
<ellipse cx="117.0" cy="134.8" rx="1.1" ry="1.0" fill="#fff" opacity="0.9"/>
<ellipse cx="145.4" cy="288.9" rx="1.0" ry="1.4" transform="rotate(-11 145.4 288.9)" class="d1"/>
<ellipse cx="266.8" cy="79.1" rx="2.2" ry="3.0" transform="rotate(29 266.8 79.1)" class="d2"/>
<ellipse cx="267.2" cy="80.2" rx="1.0" ry="1.1" fill="#fff" opacity="0.9"/>
<ellipse cx="109.1" cy="280.3" rx="2.0" ry="2.0" transform="rotate(13 109.1 280.3)" class="d1"/>
<ellipse cx="160.8" cy="118.7" rx="1.0" ry="1.1" transform="rotate(2 160.8 118.7)" class="d1"/>
<ellipse cx="318.7" cy="19.2" rx="1.0" ry="1.0" transform="rotate(-6 318.7 19.2)" class="d1"/>
<ellipse cx="139.6" cy="134.0" rx="1.0" ry="1.4" transform="rotate(27 139.6 134.0)" class="d1"/>
<ellipse cx="147.0" cy="304.6" rx="1.4" ry="2.0" transform="rotate(9 147.0 304.6)" class="d1"/>
<ellipse cx="100.1" cy="214.9" rx="1.1" ry="1.2" transform="rotate(1 100.1 214.9)" class="d1"/>
<ellipse cx="122.6" cy="146.8" rx="1.4" ry="1.6" transform="rotate(-23 122.6 146.8)" class="d1"/>
<ellipse cx="242.3" cy="16.1" rx="1.4" ry="1.3" transform="rotate(6 242.3 16.1)" class="d1"/>
<ellipse cx="134.0" cy="321.2" rx="1.4" ry="2.0" transform="rotate(5 134.0 321.2)" class="d1"/>
<ellipse cx="301.1" cy="90.9" rx="1.4" ry="2.0" transform="rotate(8 301.1 90.9)" class="d1"/>
<ellipse cx="163.9" cy="194.6" rx="2.8" ry="3.1" transform="rotate(27 163.9 194.6)" class="d2"/>
<ellipse cx="164.5" cy="195.7" rx="1.3" ry="1.1" fill="#fff" opacity="0.9"/>
<ellipse cx="304.4" cy="101.3" rx="1.0" ry="1.0" transform="rotate(-19 304.4 101.3)" class="d1"/>
<ellipse cx="218.0" cy="174.4" rx="1.0" ry="1.5" transform="rotate(-24 218.0 174.4)" class="d1"/>
<ellipse cx="127.2" cy="328.2" rx="1.4" ry="1.5" transform="rotate(34 127.2 328.2)" class="d1"/>
<ellipse cx="214.8" cy="98.4" rx="1.1" ry="1.4" transform="rotate(-11 214.8 98.4)" class="d1"/>
<ellipse cx="213.1" cy="225.2" rx="1.5" ry="2.0" transform="rotate(-27 213.1 225.2)" class="d1"/>
<ellipse cx="194.3" cy="73.8" rx="1.2" ry="1.4" transform="rotate(12 194.3 73.8)" class="d1"/>
<ellipse cx="316.4" cy="44.1" rx="1.4" ry="1.9" transform="rotate(1 316.4 44.1)" class="d1"/>
<ellipse cx="186.6" cy="253.6" rx="1.8" ry="1.9" transform="rotate(9 186.6 253.6)" class="d1"/>
<ellipse cx="178.5" cy="216.2" rx="1.1" ry="1.0" transform="rotate(19 178.5 216.2)" class="d1"/>
<ellipse cx="246.1" cy="200.0" rx="2.2" ry="2.2" transform="rotate(24 246.1 200.0)" class="d2"/>
<ellipse cx="246.6" cy="200.8" rx="1.0" ry="0.8" fill="#fff" opacity="0.9"/>
<ellipse cx="212.0" cy="92.8" rx="4.0" ry="4.7" transform="rotate(-3 212.0 92.8)" class="d3"/>
<ellipse cx="212.8" cy="94.4" rx="1.8" ry="1.6" fill="#fff" opacity="0.9"/>
<ellipse cx="162.6" cy="248.1" rx="2.0" ry="2.5" transform="rotate(10 162.6 248.1)" class="d1"/>
<ellipse cx="406.0" cy="-2.6" rx="1.6" ry="1.9" transform="rotate(-22 406.0 -2.6)" class="d1"/>
<ellipse cx="270.6" cy="101.4" rx="2.2" ry="2.3" transform="rotate(23 270.6 101.4)" class="d2"/>
<ellipse cx="271.0" cy="102.2" rx="1.0" ry="0.8" fill="#fff" opacity="0.9"/>
<ellipse cx="163.2" cy="110.5" rx="1.3" ry="1.9" transform="rotate(-21 163.2 110.5)" class="d1"/>
<ellipse cx="109.6" cy="144.3" rx="1.0" ry="1.1" transform="rotate(28 109.6 144.3)" class="d1"/>
<ellipse cx="235.1" cy="99.9" rx="2.2" ry="3.3" transform="rotate(1 235.1 99.9)" class="d2"/>
<ellipse cx="235.6" cy="101.1" rx="1.0" ry="1.2" fill="#fff" opacity="0.9"/>
<ellipse cx="192.4" cy="176.0" rx="1.5" ry="1.4" transform="rotate(12 192.4 176.0)" class="d1"/>
<ellipse cx="164.5" cy="153.6" rx="1.3" ry="1.2" transform="rotate(-9 164.5 153.6)" class="d1"/>
<ellipse cx="244.9" cy="135.3" rx="1.3" ry="1.9" transform="rotate(-1 244.9 135.3)" class="d1"/>
<ellipse cx="290.5" cy="149.1" rx="1.5" ry="2.0" transform="rotate(17 290.5 149.1)" class="d1"/>
<ellipse cx="292.9" cy="27.3" rx="1.1" ry="1.5" transform="rotate(1 292.9 27.3)" class="d1"/>
<ellipse cx="217.5" cy="33.7" rx="4.0" ry="5.8" transform="rotate(1 217.5 33.7)" class="d3"/>
<ellipse cx="218.3" cy="35.7" rx="1.8" ry="2.0" fill="#fff" opacity="0.9"/>
<ellipse cx="127.1" cy="335.0" rx="4.0" ry="4.8" transform="rotate(0 127.1 335.0)" class="d3"/>
<ellipse cx="127.9" cy="336.6" rx="1.8" ry="1.7" fill="#fff" opacity="0.9"/>
<ellipse cx="307.2" cy="60.8" rx="2.2" ry="2.1" transform="rotate(5 307.2 60.8)" class="d2"/>
<ellipse cx="307.7" cy="61.6" rx="1.0" ry="0.7" fill="#fff" opacity="0.9"/>
<ellipse cx="206.0" cy="216.0" rx="1.0" ry="1.4" transform="rotate(-14 206.0 216.0)" class="d1"/>
<ellipse cx="160.3" cy="236.7" rx="4.0" ry="3.8" transform="rotate(-34 160.3 236.7)" class="d3"/>
<ellipse cx="161.1" cy="238.1" rx="1.8" ry="1.3" fill="#fff" opacity="0.9"/>
<ellipse cx="367.5" cy="5.3" rx="2.2" ry="2.3" transform="rotate(10 367.5 5.3)" class="d2"/>
<ellipse cx="367.9" cy="6.2" rx="1.0" ry="0.8" fill="#fff" opacity="0.9"/>
<ellipse cx="121.9" cy="181.0" rx="1.6" ry="2.0" transform="rotate(-25 121.9 181.0)" class="d1"/>
<ellipse cx="146.8" cy="176.4" rx="1.1" ry="1.1" transform="rotate(2 146.8 176.4)" class="d1"/>
<ellipse cx="168.4" cy="283.1" rx="1.0" ry="1.3" transform="rotate(13 168.4 283.1)" class="d1"/>
<ellipse cx="167.2" cy="197.6" rx="1.4" ry="1.4" transform="rotate(-16 167.2 197.6)" class="d1"/>
<ellipse cx="213.8" cy="29.8" rx="1.5" ry="1.5" transform="rotate(9 213.8 29.8)" class="d1"/>
<ellipse cx="314.8" cy="1.8" rx="3.2" ry="4.7" transform="rotate(-4 314.8 1.8)" class="d2"/>
<ellipse cx="315.5" cy="3.5" rx="1.4" ry="1.7" fill="#fff" opacity="0.9"/>
<ellipse cx="142.9" cy="212.1" rx="2.2" ry="3.1" transform="rotate(-13 142.9 212.1)" class="d2"/>
<ellipse cx="143.4" cy="213.2" rx="1.0" ry="1.1" fill="#fff" opacity="0.9"/>
<ellipse cx="115.8" cy="309.6" rx="2.2" ry="2.3" transform="rotate(27 115.8 309.6)" class="d2"/>
<ellipse cx="116.3" cy="310.4" rx="1.0" ry="0.8" fill="#fff" opacity="0.9"/>
<ellipse cx="127.1" cy="337.8" rx="2.5" ry="3.3" transform="rotate(-20 127.1 337.8)" class="d2"/>
<ellipse cx="127.6" cy="339.0" rx="1.1" ry="1.2" fill="#fff" opacity="0.9"/>
<ellipse cx="161.2" cy="103.2" rx="3.2" ry="4.5" transform="rotate(-29 161.2 103.2)" class="d2"/>
<ellipse cx="161.9" cy="104.8" rx="1.4" ry="1.6" fill="#fff" opacity="0.9"/>
<ellipse cx="222.8" cy="54.5" rx="1.4" ry="1.6" transform="rotate(-10 222.8 54.5)" class="d1"/>
<ellipse cx="147.3" cy="112.3" rx="2.5" ry="2.3" transform="rotate(-26 147.3 112.3)" class="d2"/>
<ellipse cx="147.8" cy="113.1" rx="1.1" ry="0.8" fill="#fff" opacity="0.9"/>
<ellipse cx="140.1" cy="284.0" rx="1.3" ry="1.5" transform="rotate(-11 140.1 284.0)" class="d1"/>
<ellipse cx="163.0" cy="147.5" rx="3.2" ry="3.2" transform="rotate(14 163.0 147.5)" class="d2"/>
<ellipse cx="163.6" cy="148.6" rx="1.4" ry="1.1" fill="#fff" opacity="0.9"/>
<ellipse cx="361.0" cy="27.4" rx="1.2" ry="1.5" transform="rotate(-2 361.0 27.4)" class="d1"/>
<ellipse cx="150.6" cy="273.2" rx="1.3" ry="1.7" transform="rotate(-9 150.6 273.2)" class="d1"/>
<ellipse cx="136.1" cy="330.4" rx="2.0" ry="2.0" transform="rotate(25 136.1 330.4)" class="d1"/>
<ellipse cx="135.6" cy="231.4" rx="2.2" ry="3.2" transform="rotate(6 135.6 231.4)" class="d2"/>
<ellipse cx="136.0" cy="232.5" rx="1.0" ry="1.1" fill="#fff" opacity="0.9"/>
<ellipse cx="258.2" cy="123.8" rx="1.3" ry="1.3" transform="rotate(18 258.2 123.8)" class="d1"/>
<ellipse cx="209.4" cy="232.2" rx="2.8" ry="3.8" transform="rotate(-8 209.4 232.2)" class="d2"/>
<ellipse cx="209.9" cy="233.6" rx="1.3" ry="1.3" fill="#fff" opacity="0.9"/>
<ellipse cx="165.1" cy="225.1" rx="1.6" ry="2.1" transform="rotate(14 165.1 225.1)" class="d1"/>
<ellipse cx="142.2" cy="266.6" rx="1.1" ry="1.0" transform="rotate(29 142.2 266.6)" class="d1"/>
<ellipse cx="139.6" cy="276.8" rx="2.8" ry="3.0" transform="rotate(-19 139.6 276.8)" class="d2"/>
<ellipse cx="140.1" cy="277.9" rx="1.3" ry="1.1" fill="#fff" opacity="0.9"/>
<ellipse cx="272.5" cy="39.1" rx="1.6" ry="2.3" transform="rotate(-2 272.5 39.1)" class="d1"/>
<ellipse cx="223.8" cy="214.8" rx="1.4" ry="1.4" transform="rotate(-9 223.8 214.8)" class="d1"/>
<ellipse cx="179.5" cy="274.8" rx="1.0" ry="1.3" transform="rotate(14 179.5 274.8)" class="d1"/>
<ellipse cx="167.5" cy="81.9" rx="2.5" ry="2.4" transform="rotate(-15 167.5 81.9)" class="d2"/>
<ellipse cx="168.0" cy="82.8" rx="1.1" ry="0.8" fill="#fff" opacity="0.9"/>
<ellipse cx="229.1" cy="89.8" rx="2.5" ry="2.3" transform="rotate(-32 229.1 89.8)" class="d2"/>
<ellipse cx="229.6" cy="90.6" rx="1.1" ry="0.8" fill="#fff" opacity="0.9"/>
<ellipse cx="266.9" cy="51.7" rx="1.6" ry="2.1" transform="rotate(4 266.9 51.7)" class="d1"/>
<ellipse cx="120.9" cy="215.3" rx="1.3" ry="1.6" transform="rotate(15 120.9 215.3)" class="d1"/>
<ellipse cx="298.2" cy="84.1" rx="1.5" ry="2.2" transform="rotate(-27 298.2 84.1)" class="d1"/>
<ellipse cx="189.7" cy="262.3" rx="4.0" ry="5.0" transform="rotate(14 189.7 262.3)" class="d3"/>
<ellipse cx="190.5" cy="264.0" rx="1.8" ry="1.8" fill="#fff" opacity="0.9"/>
<ellipse cx="120.9" cy="335.9" rx="1.5" ry="1.5" transform="rotate(29 120.9 335.9)" class="d1"/>
<ellipse cx="179.5" cy="257.3" rx="1.6" ry="2.4" transform="rotate(8 179.5 257.3)" class="d1"/>
<ellipse cx="259.3" cy="72.3" rx="1.6" ry="1.9" transform="rotate(-11 259.3 72.3)" class="d1"/>
<ellipse cx="252.4" cy="171.1" rx="2.5" ry="2.9" transform="rotate(-31 252.4 171.1)" class="d2"/>
<ellipse cx="252.9" cy="172.1" rx="1.1" ry="1.0" fill="#fff" opacity="0.9"/>
<ellipse cx="176.2" cy="239.4" rx="3.2" ry="3.1" transform="rotate(18 176.2 239.4)" class="d2"/>
<ellipse cx="176.9" cy="240.5" rx="1.4" ry="1.1" fill="#fff" opacity="0.9"/>
<ellipse cx="369.3" cy="10.3" rx="1.4" ry="1.4" transform="rotate(-24 369.3 10.3)" class="d1"/>
<ellipse cx="146.1" cy="268.3" rx="1.0" ry="1.0" transform="rotate(-11 146.1 268.3)" class="d1"/>
<ellipse cx="259.4" cy="27.4" rx="2.5" ry="3.3" transform="rotate(12 259.4 27.4)" class="d2"/>
<ellipse cx="259.9" cy="28.5" rx="1.1" ry="1.2" fill="#fff" opacity="0.9"/>
<ellipse cx="278.6" cy="78.3" rx="1.8" ry="1.8" transform="rotate(10 278.6 78.3)" class="d1"/>
<ellipse cx="192.2" cy="239.3" rx="2.2" ry="2.7" transform="rotate(-12 192.2 239.3)" class="d2"/>
<ellipse cx="192.7" cy="240.3" rx="1.0" ry="1.0" fill="#fff" opacity="0.9"/>
<ellipse cx="168.0" cy="280.4" rx="1.2" ry="1.6" transform="rotate(-24 168.0 280.4)" class="d1"/>
<ellipse cx="117.8" cy="337.8" rx="1.3" ry="1.3" transform="rotate(-15 117.8 337.8)" class="d1"/>
<ellipse cx="185.6" cy="121.2" rx="1.4" ry="1.5" transform="rotate(-27 185.6 121.2)" class="d1"/>
<ellipse cx="143.5" cy="103.1" rx="1.8" ry="2.1" transform="rotate(-10 143.5 103.1)" class="d1"/>
<ellipse cx="223.6" cy="53.8" rx="3.2" ry="3.8" transform="rotate(17 223.6 53.8)" class="d2"/>
<ellipse cx="224.3" cy="55.2" rx="1.4" ry="1.3" fill="#fff" opacity="0.9"/>
<ellipse cx="220.5" cy="111.1" rx="2.5" ry="3.0" transform="rotate(-5 220.5 111.1)" class="d2"/>
<ellipse cx="221.0" cy="112.1" rx="1.1" ry="1.0" fill="#fff" opacity="0.9"/>
<ellipse cx="218.3" cy="61.4" rx="1.1" ry="1.4" transform="rotate(9 218.3 61.4)" class="d1"/>
<ellipse cx="127.9" cy="322.3" rx="1.3" ry="1.2" transform="rotate(17 127.9 322.3)" class="d1"/>
<ellipse cx="276.4" cy="3.9" rx="1.5" ry="1.5" transform="rotate(10 276.4 3.9)" class="d1"/>
<ellipse cx="112.5" cy="291.0" rx="3.2" ry="4.3" transform="rotate(-13 112.5 291.0)" class="d2"/>
<ellipse cx="113.1" cy="292.5" rx="1.4" ry="1.5" fill="#fff" opacity="0.9"/>
<ellipse cx="204.8" cy="210.9" rx="1.5" ry="1.6" transform="rotate(-9 204.8 210.9)" class="d1"/>
<ellipse cx="240.7" cy="187.9" rx="1.3" ry="1.2" transform="rotate(-27 240.7 187.9)" class="d1"/>
<ellipse cx="129.2" cy="276.0" rx="1.6" ry="2.3" transform="rotate(31 129.2 276.0)" class="d1"/>
<ellipse cx="166.2" cy="168.0" rx="1.4" ry="1.8" transform="rotate(9 166.2 168.0)" class="d1"/>
<ellipse cx="248.0" cy="44.7" rx="2.5" ry="3.7" transform="rotate(-29 248.0 44.7)" class="d2"/>
<ellipse cx="248.5" cy="46.0" rx="1.1" ry="1.3" fill="#fff" opacity="0.9"/>
<ellipse cx="279.7" cy="9.0" rx="2.8" ry="3.1" transform="rotate(-33 279.7 9.0)" class="d2"/>
<ellipse cx="280.2" cy="10.1" rx="1.3" ry="1.1" fill="#fff" opacity="0.9"/>
<ellipse cx="118.8" cy="208.8" rx="1.2" ry="1.3" transform="rotate(11 118.8 208.8)" class="d1"/>
<ellipse cx="186.3" cy="175.1" rx="1.8" ry="1.6" transform="rotate(32 186.3 175.1)" class="d1"/>
<ellipse cx="274.3" cy="56.7" rx="1.0" ry="1.2" transform="rotate(4 274.3 56.7)" class="d1"/>
<ellipse cx="192.0" cy="116.8" rx="1.5" ry="1.8" transform="rotate(-5 192.0 116.8)" class="d1"/>
<ellipse cx="161.5" cy="182.1" rx="1.6" ry="2.4" transform="rotate(8 161.5 182.1)" class="d1"/>
<ellipse cx="164.6" cy="278.9" rx="2.2" ry="2.8" transform="rotate(5 164.6 278.9)" class="d2"/>
<ellipse cx="165.0" cy="279.9" rx="1.0" ry="1.0" fill="#fff" opacity="0.9"/>
<ellipse cx="250.6" cy="142.4" rx="1.2" ry="1.3" transform="rotate(-11 250.6 142.4)" class="d1"/>
<ellipse cx="131.5" cy="304.8" rx="2.5" ry="3.4" transform="rotate(13 131.5 304.8)" class="d2"/>
<ellipse cx="132.0" cy="306.0" rx="1.1" ry="1.2" fill="#fff" opacity="0.9"/>
<ellipse cx="306.7" cy="46.4" rx="1.6" ry="1.8" transform="rotate(-18 306.7 46.4)" class="d1"/>
<ellipse cx="188.4" cy="149.5" rx="1.3" ry="1.6" transform="rotate(-27 188.4 149.5)" class="d1"/>
<ellipse cx="130.0" cy="296.8" rx="2.0" ry="2.6" transform="rotate(15 130.0 296.8)" class="d1"/>
<ellipse cx="285.0" cy="74.4" rx="2.8" ry="2.7" transform="rotate(1 285.0 74.4)" class="d2"/>
<ellipse cx="285.5" cy="75.4" rx="1.3" ry="0.9" fill="#fff" opacity="0.9"/>
<ellipse cx="184.7" cy="201.0" rx="1.1" ry="1.5" transform="rotate(-26 184.7 201.0)" class="d1"/>
<ellipse cx="252.4" cy="171.1" rx="1.1" ry="1.4" transform="rotate(32 252.4 171.1)" class="d1"/>
<ellipse cx="230.3" cy="175.3" rx="2.0" ry="2.0" transform="rotate(32 230.3 175.3)" class="d1"/>
<ellipse cx="157.2" cy="192.1" rx="3.2" ry="4.1" transform="rotate(-7 157.2 192.1)" class="d2"/>
<ellipse cx="157.8" cy="193.5" rx="1.4" ry="1.4" fill="#fff" opacity="0.9"/>
<ellipse cx="353.1" cy="11.5" rx="1.3" ry="1.5" transform="rotate(-27 353.1 11.5)" class="d1"/>
<ellipse cx="177.4" cy="42.5" rx="4.0" ry="4.1" transform="rotate(-27 177.4 42.5)" class="d3"/>
<ellipse cx="178.2" cy="43.9" rx="1.8" ry="1.4" fill="#fff" opacity="0.9"/>
<ellipse cx="160.1" cy="249.9" rx="4.0" ry="4.4" transform="rotate(18 160.1 249.9)" class="d3"/>
<ellipse cx="160.9" cy="251.4" rx="1.8" ry="1.5" fill="#fff" opacity="0.9"/>
<ellipse cx="105.5" cy="233.2" rx="1.5" ry="1.8" transform="rotate(2 105.5 233.2)" class="d1"/>
<path d="M422,0 C330,118 232,248 126,346" fill="none" stroke="#efefef" stroke-width="14" opacity="0.55"/>
<path d="M415,0 C324,116 227,244 122,340" fill="none" stroke="#8a8a8a" stroke-width="0.9" stroke-dasharray="5 5" opacity="0.6"/>
<ellipse cx="121" cy="343" rx="6" ry="10" fill="#f0f0f0" opacity="0.9" transform="rotate(-20 121 343)"/>
<path d="M187,0 L82,171 L82,178 L100,277 L117,341" fill="none" stroke="#f4f4f4" stroke-width="2.5" opacity="0.6"/>
</g>
<text x="275" y="614" font-family='"Liberation Sans", sans-serif' font-size="44" fill="#111" textLength="241" lengthAdjust="spacingAndGlyphs">Product List</text>
<line x1="3" y1="638.3" x2="282" y2="638.3" stroke="#555" stroke-width="1.6"/>
<line x1="512" y1="638.3" x2="790" y2="638.3" stroke="#555" stroke-width="1.6"/>
<circle cx="282.2" cy="638.3" r="4" fill="#111"/>
<circle cx="512.5" cy="638.3" r="4" fill="#111"/>
<text x="294.5" y="645.5" font-family='"Liberation Sans", sans-serif' font-size="17.5" fill="#222" stroke="#fff" stroke-width="0.6" textLength="200" lengthAdjust="spacingAndGlyphs">PRODUCT INFORMATION</text>
<line x1="451.5" y1="853" x2="451.5" y2="1801" stroke="#c41818" stroke-width="1.3" stroke-dasharray="2.2 1.8"/>
<line x1="439.5" y1="1357" x2="439.5" y2="1801" stroke="#c41818" stroke-width="1.3" stroke-dasharray="2.2 1.8"/>
<line x1="408.6" y1="1584" x2="408.6" y2="1801" stroke="#c41818" stroke-width="1.3" stroke-dasharray="2.2 1.8"/>
<clipPath id="cb1"><path d="M77,784 C95,770 115,762 150,762 L448,765 L448,852 C350,850 250,842 163,822 C120,810 95,798 77,784 Z"/></clipPath>
<path d="M77,784 C95,770 115,762 150,762 L448,765 L448,852 C350,850 250,842 163,822 C120,810 95,798 77,784 Z" fill="url(#kblade)" stroke="#9a9a9a" stroke-width="0.8"/>
<g clip-path="url(#cb1)">
<rect x="100" y="762.5" width="352" height="37.5" fill="#c8c8c8" opacity="0.4"/>
<ellipse cx="271.7" cy="785.7" rx="6.3" ry="4.6" class="ds"/>
<ellipse cx="271.1" cy="784.3" rx="6.0" ry="4.3" class="db"/>
<ellipse cx="313.9" cy="769.3" rx="5.1" ry="4.0" class="ds"/>
<ellipse cx="313.3" cy="767.9" rx="4.8" ry="3.7" class="db"/>
<ellipse cx="160.0" cy="773.3" rx="4.0" ry="3.2" class="ds"/>
<ellipse cx="159.4" cy="771.9" rx="3.7" ry="2.9" class="db"/>
<ellipse cx="143.7" cy="814.5" rx="6.4" ry="5.0" class="ds"/>
<ellipse cx="143.1" cy="813.1" rx="6.1" ry="4.7" class="db"/>
<ellipse cx="179.7" cy="766.0" rx="5.2" ry="3.3" class="ds"/>
<ellipse cx="179.1" cy="764.6" rx="4.9" ry="3.0" class="db"/>
<ellipse cx="206.1" cy="766.1" rx="5.0" ry="3.6" class="ds"/>
<ellipse cx="205.5" cy="764.7" rx="4.7" ry="3.3" class="db"/>
<ellipse cx="292.6" cy="790.4" rx="5.1" ry="4.0" class="ds"/>
<ellipse cx="292.0" cy="789.0" rx="4.8" ry="3.7" class="db"/>
<ellipse cx="217.4" cy="815.7" rx="6.5" ry="5.3" class="ds"/>
<ellipse cx="216.8" cy="814.3" rx="6.2" ry="5.0" class="db"/>
<ellipse cx="229.0" cy="770.7" rx="4.5" ry="2.9" class="ds"/>
<ellipse cx="228.4" cy="769.3" rx="4.2" ry="2.6" class="db"/>
<ellipse cx="255.5" cy="804.2" rx="4.8" ry="4.1" class="ds"/>
<ellipse cx="254.9" cy="802.8" rx="4.5" ry="3.8" class="db"/>
<ellipse cx="130.8" cy="770.0" rx="6.2" ry="4.6" class="ds"/>
<ellipse cx="130.2" cy="768.6" rx="5.9" ry="4.3" class="db"/>
<ellipse cx="254.6" cy="766.7" rx="5.5" ry="4.4" class="ds"/>
<ellipse cx="254.0" cy="765.3" rx="5.2" ry="4.1" class="db"/>
<ellipse cx="157.8" cy="774.5" rx="6.4" ry="5.1" class="ds"/>
<ellipse cx="157.2" cy="773.1" rx="6.1" ry="4.8" class="db"/>
<ellipse cx="207.5" cy="767.2" rx="3.9" ry="3.2" class="ds"/>
<ellipse cx="206.9" cy="765.8" rx="3.6" ry="2.9" class="db"/>
<ellipse cx="305.1" cy="779.7" rx="4.2" ry="3.4" class="ds"/>
<ellipse cx="304.5" cy="778.3" rx="3.9" ry="3.1" class="db"/>
<ellipse cx="331.4" cy="767.5" rx="4.9" ry="3.3" class="ds"/>
<ellipse cx="330.8" cy="766.1" rx="4.6" ry="3.0" class="db"/>
<ellipse cx="433.5" cy="801.1" rx="4.6" ry="3.8" class="ds"/>
<ellipse cx="432.9" cy="799.7" rx="4.3" ry="3.5" class="db"/>
<ellipse cx="253.6" cy="804.8" rx="5.5" ry="3.5" class="ds"/>
<ellipse cx="253.0" cy="803.4" rx="5.2" ry="3.2" class="db"/>
<ellipse cx="197.1" cy="771.6" rx="5.9" ry="4.1" class="ds"/>
<ellipse cx="196.5" cy="770.2" rx="5.6" ry="3.8" class="db"/>
<ellipse cx="153.5" cy="767.0" rx="5.3" ry="3.6" class="ds"/>
<ellipse cx="152.9" cy="765.6" rx="5.0" ry="3.3" class="db"/>
<ellipse cx="246.6" cy="780.0" rx="6.4" ry="4.7" class="ds"/>
<ellipse cx="246.0" cy="778.6" rx="6.1" ry="4.4" class="db"/>
<ellipse cx="401.0" cy="769.2" rx="4.1" ry="3.5" class="ds"/>
<ellipse cx="400.4" cy="767.8" rx="3.8" ry="3.2" class="db"/>
<ellipse cx="208.4" cy="769.4" rx="5.8" ry="4.9" class="ds"/>
<ellipse cx="207.8" cy="768.0" rx="5.5" ry="4.6" class="db"/>
<ellipse cx="427.0" cy="806.8" rx="5.4" ry="3.9" class="ds"/>
<ellipse cx="426.4" cy="805.4" rx="5.1" ry="3.6" class="db"/>
<ellipse cx="142.7" cy="812.9" rx="4.4" ry="3.5" class="ds"/>
<ellipse cx="142.1" cy="811.5" rx="4.1" ry="3.2" class="db"/>
<ellipse cx="387.6" cy="787.8" rx="4.5" ry="3.0" class="ds"/>
<ellipse cx="387.0" cy="786.4" rx="4.2" ry="2.7" class="db"/>
<ellipse cx="152.1" cy="770.6" rx="5.3" ry="4.3" class="ds"/>
<ellipse cx="151.5" cy="769.2" rx="5.0" ry="4.0" class="db"/>
<ellipse cx="218.0" cy="809.5" rx="4.3" ry="2.7" class="ds"/>
<ellipse cx="217.4" cy="808.1" rx="4.0" ry="2.4" class="db"/>
<ellipse cx="269.7" cy="766.5" rx="4.2" ry="3.0" class="ds"/>
<ellipse cx="269.1" cy="765.1" rx="3.9" ry="2.7" class="db"/>
<ellipse cx="171.7" cy="775.7" rx="6.2" ry="5.3" class="ds"/>
<ellipse cx="171.1" cy="774.3" rx="5.9" ry="5.0" class="db"/>
<ellipse cx="346.3" cy="787.1" rx="4.1" ry="2.6" class="ds"/>
<ellipse cx="345.7" cy="785.7" rx="3.8" ry="2.3" class="db"/>
<ellipse cx="414.6" cy="794.2" rx="6.4" ry="4.0" class="ds"/>
<ellipse cx="414.0" cy="792.8" rx="6.1" ry="3.7" class="db"/>
<ellipse cx="281.1" cy="796.2" rx="4.6" ry="3.9" class="ds"/>
<ellipse cx="280.5" cy="794.8" rx="4.3" ry="3.6" class="db"/>
<ellipse cx="301.0" cy="796.6" rx="6.2" ry="4.9" class="ds"/>
<ellipse cx="300.4" cy="795.2" rx="5.9" ry="4.6" class="db"/>
<ellipse cx="378.1" cy="809.3" rx="4.7" ry="3.7" class="ds"/>
<ellipse cx="377.5" cy="807.9" rx="4.4" ry="3.4" class="db"/>
<ellipse cx="402.4" cy="778.2" rx="5.9" ry="4.9" class="ds"/>
<ellipse cx="401.8" cy="776.8" rx="5.6" ry="4.6" class="db"/>
<ellipse cx="325.6" cy="776.6" rx="5.3" ry="4.1" class="ds"/>
<ellipse cx="325.0" cy="775.2" rx="5.0" ry="3.8" class="db"/>
<ellipse cx="330.1" cy="815.4" rx="6.2" ry="4.9" class="ds"/>
<ellipse cx="329.5" cy="814.0" rx="5.9" ry="4.6" class="db"/>
<ellipse cx="359.9" cy="786.9" rx="4.9" ry="4.1" class="ds"/>
<ellipse cx="359.3" cy="785.5" rx="4.6" ry="3.8" class="db"/>
<ellipse cx="364.7" cy="766.1" rx="5.4" ry="4.0" class="ds"/>
<ellipse cx="364.1" cy="764.7" rx="5.1" ry="3.7" class="db"/>
<ellipse cx="348.5" cy="782.2" rx="5.4" ry="4.6" class="ds"/>
<ellipse cx="347.9" cy="780.8" rx="5.1" ry="4.3" class="db"/>
<ellipse cx="134.1" cy="773.2" rx="5.6" ry="3.7" class="ds"/>
<ellipse cx="133.5" cy="771.8" rx="5.3" ry="3.4" class="db"/>
<ellipse cx="413.2" cy="791.6" rx="4.9" ry="4.1" class="ds"/>
<ellipse cx="412.6" cy="790.2" rx="4.6" ry="3.8" class="db"/>
<ellipse cx="338.4" cy="769.7" rx="4.9" ry="4.0" class="ds"/>
<ellipse cx="337.8" cy="768.3" rx="4.6" ry="3.7" class="db"/>
<ellipse cx="405.2" cy="776.7" rx="5.3" ry="3.7" class="ds"/>
<ellipse cx="404.6" cy="775.3" rx="5.0" ry="3.4" class="db"/>
<ellipse cx="285.5" cy="803.5" rx="6.1" ry="4.8" class="ds"/>
<ellipse cx="284.9" cy="802.1" rx="5.8" ry="4.5" class="db"/>
<ellipse cx="217.0" cy="768.8" rx="5.0" ry="3.4" class="ds"/>
<ellipse cx="216.4" cy="767.4" rx="4.7" ry="3.1" class="db"/>
<ellipse cx="259.8" cy="789.5" rx="5.1" ry="3.5" class="ds"/>
<ellipse cx="259.2" cy="788.1" rx="4.8" ry="3.2" class="db"/>
<ellipse cx="437.0" cy="780.0" rx="3.9" ry="2.5" class="ds"/>
<ellipse cx="436.4" cy="778.6" rx="3.6" ry="2.2" class="db"/>
<ellipse cx="143.5" cy="794.7" rx="5.3" ry="3.7" class="ds"/>
<ellipse cx="142.9" cy="793.3" rx="5.0" ry="3.4" class="db"/>
<ellipse cx="136.6" cy="768.0" rx="5.0" ry="3.1" class="ds"/>
<ellipse cx="136.0" cy="766.6" rx="4.7" ry="2.8" class="db"/>
<ellipse cx="204.7" cy="768.1" rx="3.8" ry="3.0" class="ds"/>
<ellipse cx="204.1" cy="766.7" rx="3.5" ry="2.7" class="db"/>
<ellipse cx="327.1" cy="791.3" rx="6.0" ry="5.1" class="ds"/>
<ellipse cx="326.5" cy="789.9" rx="5.7" ry="4.8" class="db"/>
<ellipse cx="192.8" cy="781.1" rx="4.2" ry="2.7" class="ds"/>
<ellipse cx="192.2" cy="779.7" rx="3.9" ry="2.4" class="db"/>
<ellipse cx="353.4" cy="769.1" rx="4.5" ry="3.2" class="ds"/>
<ellipse cx="352.8" cy="767.7" rx="4.2" ry="2.9" class="db"/>
<ellipse cx="293.0" cy="788.8" rx="5.8" ry="4.2" class="ds"/>
<ellipse cx="292.4" cy="787.4" rx="5.5" ry="3.9" class="db"/>
<ellipse cx="413.3" cy="766.9" rx="6.3" ry="5.0" class="ds"/>
<ellipse cx="412.7" cy="765.5" rx="6.0" ry="4.7" class="db"/>
<ellipse cx="272.1" cy="789.5" rx="6.2" ry="4.4" class="ds"/>
<ellipse cx="271.5" cy="788.1" rx="5.9" ry="4.1" class="db"/>
<ellipse cx="404.9" cy="800.7" rx="6.3" ry="4.6" class="ds"/>
<ellipse cx="404.3" cy="799.3" rx="6.0" ry="4.3" class="db"/>
<ellipse cx="194.5" cy="795.6" rx="6.0" ry="4.6" class="ds"/>
<ellipse cx="193.9" cy="794.2" rx="5.7" ry="4.3" class="db"/>
<ellipse cx="197.1" cy="808.1" rx="6.4" ry="5.5" class="ds"/>
<ellipse cx="196.5" cy="806.7" rx="6.1" ry="5.2" class="db"/>
<ellipse cx="377.3" cy="774.0" rx="6.2" ry="5.1" class="ds"/>
<ellipse cx="376.7" cy="772.6" rx="5.9" ry="4.8" class="db"/>
<ellipse cx="156.4" cy="779.4" rx="5.2" ry="4.2" class="ds"/>
<ellipse cx="155.8" cy="778.0" rx="4.9" ry="3.9" class="db"/>
<ellipse cx="139.5" cy="801.5" rx="3.9" ry="3.2" class="ds"/>
<ellipse cx="138.9" cy="800.1" rx="3.6" ry="2.9" class="db"/>
<ellipse cx="235.1" cy="800.0" rx="4.1" ry="2.7" class="ds"/>
<ellipse cx="234.5" cy="798.6" rx="3.8" ry="2.4" class="db"/>
<ellipse cx="356.4" cy="803.7" rx="5.6" ry="4.8" class="ds"/>
<ellipse cx="355.8" cy="802.3" rx="5.3" ry="4.5" class="db"/>
<ellipse cx="426.7" cy="766.9" rx="4.3" ry="3.2" class="ds"/>
<ellipse cx="426.1" cy="765.5" rx="4.0" ry="2.9" class="db"/>
<ellipse cx="358.0" cy="790.3" rx="5.2" ry="4.2" class="ds"/>
<ellipse cx="357.4" cy="788.9" rx="4.9" ry="3.9" class="db"/>
<ellipse cx="227.8" cy="776.6" rx="6.1" ry="5.1" class="ds"/>
<ellipse cx="227.2" cy="775.2" rx="5.8" ry="4.8" class="db"/>
<ellipse cx="396.0" cy="813.4" rx="5.2" ry="3.9" class="ds"/>
<ellipse cx="395.4" cy="812.0" rx="4.9" ry="3.6" class="db"/>
<ellipse cx="297.8" cy="782.6" rx="5.4" ry="3.4" class="ds"/>
<ellipse cx="297.2" cy="781.2" rx="5.1" ry="3.1" class="db"/>
<ellipse cx="291.6" cy="777.5" rx="5.9" ry="4.5" class="ds"/>
<ellipse cx="291.0" cy="776.1" rx="5.6" ry="4.2" class="db"/>
<ellipse cx="346.2" cy="766.5" rx="5.2" ry="3.8" class="ds"/>
<ellipse cx="345.6" cy="765.1" rx="4.9" ry="3.5" class="db"/>
<ellipse cx="418.7" cy="772.0" rx="5.0" ry="3.3" class="ds"/>
<ellipse cx="418.1" cy="770.6" rx="4.7" ry="3.0" class="db"/>
<ellipse cx="385.1" cy="808.2" rx="5.0" ry="3.5" class="ds"/>
<ellipse cx="384.5" cy="806.8" rx="4.7" ry="3.2" class="db"/>
<ellipse cx="323.4" cy="810.1" rx="4.1" ry="3.3" class="ds"/>
<ellipse cx="322.8" cy="808.7" rx="3.8" ry="3.0" class="db"/>
<ellipse cx="191.2" cy="770.6" rx="5.6" ry="3.9" class="ds"/>
<ellipse cx="190.6" cy="769.2" rx="5.3" ry="3.6" class="db"/>
<ellipse cx="324.0" cy="767.3" rx="5.7" ry="3.7" class="ds"/>
<ellipse cx="323.4" cy="765.9" rx="5.4" ry="3.4" class="db"/>
<ellipse cx="208.8" cy="769.6" rx="5.2" ry="3.8" class="ds"/>
<ellipse cx="208.2" cy="768.2" rx="4.9" ry="3.5" class="db"/>
<ellipse cx="259.6" cy="784.0" rx="4.1" ry="2.8" class="ds"/>
<ellipse cx="259.0" cy="782.6" rx="3.8" ry="2.5" class="db"/>
<ellipse cx="329.8" cy="784.0" rx="6.1" ry="4.7" class="ds"/>
<ellipse cx="329.2" cy="782.6" rx="5.8" ry="4.4" class="db"/>
<ellipse cx="203.2" cy="796.8" rx="6.0" ry="5.0" class="ds"/>
<ellipse cx="202.6" cy="795.4" rx="5.7" ry="4.7" class="db"/>
<ellipse cx="228.9" cy="809.9" rx="4.3" ry="3.7" class="ds"/>
<ellipse cx="228.3" cy="808.5" rx="4.0" ry="3.4" class="db"/>
<ellipse cx="172.4" cy="771.0" rx="5.7" ry="3.9" class="ds"/>
<ellipse cx="171.8" cy="769.6" rx="5.4" ry="3.6" class="db"/>
<ellipse cx="390.2" cy="778.5" rx="5.9" ry="3.8" class="ds"/>
<ellipse cx="389.6" cy="777.1" rx="5.6" ry="3.5" class="db"/>
<ellipse cx="344.4" cy="766.0" rx="4.3" ry="3.4" class="ds"/>
<ellipse cx="343.8" cy="764.6" rx="4.0" ry="3.1" class="db"/>
<ellipse cx="432.7" cy="767.5" rx="5.1" ry="4.1" class="ds"/>
<ellipse cx="432.1" cy="766.1" rx="4.8" ry="3.8" class="db"/>
<ellipse cx="344.5" cy="769.4" rx="3.9" ry="2.6" class="ds"/>
<ellipse cx="343.9" cy="768.0" rx="3.6" ry="2.3" class="db"/>
<ellipse cx="302.7" cy="783.2" rx="5.3" ry="3.5" class="ds"/>
<ellipse cx="302.1" cy="781.8" rx="5.0" ry="3.2" class="db"/>
<ellipse cx="194.2" cy="803.7" rx="6.5" ry="5.4" class="ds"/>
<ellipse cx="193.6" cy="802.3" rx="6.2" ry="5.1" class="db"/>
<ellipse cx="149.9" cy="812.1" rx="5.0" ry="4.0" class="ds"/>
<ellipse cx="149.3" cy="810.7" rx="4.7" ry="3.7" class="db"/>
<ellipse cx="276.3" cy="783.2" rx="4.9" ry="3.8" class="ds"/>
<ellipse cx="275.7" cy="781.8" rx="4.6" ry="3.5" class="db"/>
<ellipse cx="349.3" cy="804.0" rx="4.2" ry="3.1" class="ds"/>
<ellipse cx="348.7" cy="802.6" rx="3.9" ry="2.8" class="db"/>
<ellipse cx="257.1" cy="769.6" rx="4.2" ry="3.1" class="ds"/>
<ellipse cx="256.5" cy="768.2" rx="3.9" ry="2.8" class="db"/>
<ellipse cx="409.3" cy="801.0" rx="5.7" ry="4.7" class="ds"/>
<ellipse cx="408.7" cy="799.6" rx="5.4" ry="4.4" class="db"/>
<ellipse cx="256.8" cy="788.0" rx="5.1" ry="4.4" class="ds"/>
<ellipse cx="256.2" cy="786.6" rx="4.8" ry="4.1" class="db"/>
<ellipse cx="211.2" cy="809.0" rx="5.8" ry="4.7" class="ds"/>
<ellipse cx="210.6" cy="807.6" rx="5.5" ry="4.4" class="db"/>
<ellipse cx="257.2" cy="807.9" rx="6.2" ry="4.8" class="ds"/>
<ellipse cx="256.6" cy="806.5" rx="5.9" ry="4.5" class="db"/>
<ellipse cx="369.4" cy="777.7" rx="5.7" ry="3.6" class="ds"/>
<ellipse cx="368.8" cy="776.3" rx="5.4" ry="3.3" class="db"/>
<ellipse cx="276.9" cy="765.9" rx="4.7" ry="3.6" class="ds"/>
<ellipse cx="276.3" cy="764.5" rx="4.4" ry="3.3" class="db"/>
<ellipse cx="203.0" cy="811.5" rx="5.6" ry="3.9" class="ds"/>
<ellipse cx="202.4" cy="810.1" rx="5.3" ry="3.6" class="db"/>
<ellipse cx="308.3" cy="784.2" rx="4.8" ry="4.1" class="ds"/>
<ellipse cx="307.7" cy="782.8" rx="4.5" ry="3.8" class="db"/>
<ellipse cx="349.4" cy="798.2" rx="6.4" ry="4.0" class="ds"/>
<ellipse cx="348.8" cy="796.8" rx="6.1" ry="3.7" class="db"/>
<ellipse cx="361.1" cy="771.6" rx="4.8" ry="3.1" class="ds"/>
<ellipse cx="360.5" cy="770.2" rx="4.5" ry="2.8" class="db"/>
<ellipse cx="247.8" cy="767.1" rx="4.4" ry="3.7" class="ds"/>
<ellipse cx="247.2" cy="765.7" rx="4.1" ry="3.4" class="db"/>
<ellipse cx="289.0" cy="813.3" rx="5.3" ry="4.5" class="ds"/>
<ellipse cx="288.4" cy="811.9" rx="5.0" ry="4.2" class="db"/>
<ellipse cx="383.2" cy="766.7" rx="5.4" ry="4.3" class="ds"/>
<ellipse cx="382.6" cy="765.3" rx="5.1" ry="4.0" class="db"/>
<ellipse cx="420.8" cy="768.6" rx="5.0" ry="3.3" class="ds"/>
<ellipse cx="420.2" cy="767.2" rx="4.7" ry="3.0" class="db"/>
<ellipse cx="321.3" cy="766.4" rx="6.3" ry="4.6" class="ds"/>
<ellipse cx="320.7" cy="765.0" rx="6.0" ry="4.3" class="db"/>
<ellipse cx="317.1" cy="775.9" rx="4.5" ry="3.5" class="ds"/>
<ellipse cx="316.5" cy="774.5" rx="4.2" ry="3.2" class="db"/>
<ellipse cx="219.1" cy="795.2" rx="4.5" ry="2.9" class="ds"/>
<ellipse cx="218.5" cy="793.8" rx="4.2" ry="2.6" class="db"/>
<ellipse cx="143.9" cy="768.5" rx="5.8" ry="4.1" class="ds"/>
<ellipse cx="143.3" cy="767.1" rx="5.5" ry="3.8" class="db"/>
<ellipse cx="364.1" cy="766.3" rx="6.5" ry="5.5" class="ds"/>
<ellipse cx="363.5" cy="764.9" rx="6.2" ry="5.2" class="db"/>
<ellipse cx="413.1" cy="778.8" rx="5.0" ry="4.3" class="ds"/>
<ellipse cx="412.5" cy="777.4" rx="4.7" ry="4.0" class="db"/>
<ellipse cx="293.9" cy="811.0" rx="5.7" ry="4.2" class="ds"/>
<ellipse cx="293.3" cy="809.6" rx="5.4" ry="3.9" class="db"/>
<ellipse cx="385.4" cy="788.2" rx="4.0" ry="3.1" class="ds"/>
<ellipse cx="384.8" cy="786.8" rx="3.7" ry="2.8" class="db"/>
<ellipse cx="194.1" cy="766.3" rx="5.2" ry="3.4" class="ds"/>
<ellipse cx="193.5" cy="764.9" rx="4.9" ry="3.1" class="db"/>
<ellipse cx="339.0" cy="780.1" rx="4.4" ry="3.4" class="ds"/>
<ellipse cx="338.4" cy="778.7" rx="4.1" ry="3.1" class="db"/>
<ellipse cx="373.3" cy="784.0" rx="6.5" ry="5.5" class="ds"/>
<ellipse cx="372.7" cy="782.6" rx="6.2" ry="5.2" class="db"/>
<ellipse cx="205.0" cy="767.4" rx="6.2" ry="5.0" class="ds"/>
<ellipse cx="204.4" cy="766.0" rx="5.9" ry="4.7" class="db"/>
<ellipse cx="242.7" cy="772.1" rx="5.6" ry="4.2" class="ds"/>
<ellipse cx="242.1" cy="770.7" rx="5.3" ry="3.9" class="db"/>
<ellipse cx="328.1" cy="797.7" rx="4.2" ry="2.9" class="ds"/>
<ellipse cx="327.5" cy="796.3" rx="3.9" ry="2.6" class="db"/>
<ellipse cx="416.3" cy="806.6" rx="3.8" ry="2.5" class="ds"/>
<ellipse cx="415.7" cy="805.2" rx="3.5" ry="2.2" class="db"/>
<ellipse cx="263.3" cy="789.4" rx="4.0" ry="3.0" class="ds"/>
<ellipse cx="262.7" cy="788.0" rx="3.7" ry="2.7" class="db"/>
<ellipse cx="157.6" cy="792.6" rx="5.2" ry="4.0" class="ds"/>
<ellipse cx="157.0" cy="791.2" rx="4.9" ry="3.7" class="db"/>
<ellipse cx="279.9" cy="770.0" rx="4.7" ry="3.7" class="ds"/>
<ellipse cx="279.3" cy="768.6" rx="4.4" ry="3.4" class="db"/>
<ellipse cx="153.8" cy="767.6" rx="6.0" ry="4.6" class="ds"/>
<ellipse cx="153.2" cy="766.2" rx="5.7" ry="4.3" class="db"/>
<ellipse cx="197.1" cy="778.6" rx="4.4" ry="3.6" class="ds"/>
<ellipse cx="196.5" cy="777.2" rx="4.1" ry="3.3" class="db"/>
<ellipse cx="334.5" cy="815.0" rx="4.6" ry="3.5" class="ds"/>
<ellipse cx="333.9" cy="813.6" rx="4.3" ry="3.2" class="db"/>
<ellipse cx="417.9" cy="778.7" rx="4.7" ry="3.1" class="ds"/>
<ellipse cx="417.3" cy="777.3" rx="4.4" ry="2.8" class="db"/>
<ellipse cx="155.1" cy="766.8" rx="5.3" ry="3.9" class="ds"/>
<ellipse cx="154.5" cy="765.4" rx="5.0" ry="3.6" class="db"/>
<ellipse cx="223.8" cy="799.2" rx="3.9" ry="2.7" class="ds"/>
<ellipse cx="223.2" cy="797.8" rx="3.6" ry="2.4" class="db"/>
<ellipse cx="156.1" cy="773.3" rx="5.7" ry="4.5" class="ds"/>
<ellipse cx="155.5" cy="771.9" rx="5.4" ry="4.2" class="db"/>
<ellipse cx="175.2" cy="775.6" rx="5.7" ry="4.1" class="ds"/>
<ellipse cx="174.6" cy="774.2" rx="5.4" ry="3.8" class="db"/>
<ellipse cx="351.9" cy="786.2" rx="6.3" ry="5.3" class="ds"/>
<ellipse cx="351.3" cy="784.8" rx="6.0" ry="5.0" class="db"/>
<ellipse cx="267.3" cy="801.1" rx="4.6" ry="3.2" class="ds"/>
<ellipse cx="266.7" cy="799.7" rx="4.3" ry="2.9" class="db"/>
<ellipse cx="422.2" cy="807.7" rx="4.4" ry="3.1" class="ds"/>
<ellipse cx="421.6" cy="806.3" rx="4.1" ry="2.8" class="db"/>
<ellipse cx="244.0" cy="777.2" rx="4.8" ry="3.2" class="ds"/>
<ellipse cx="243.4" cy="775.8" rx="4.5" ry="2.9" class="db"/>
<ellipse cx="379.3" cy="784.6" rx="6.0" ry="4.6" class="ds"/>
<ellipse cx="378.7" cy="783.2" rx="5.7" ry="4.3" class="db"/>
<ellipse cx="367.4" cy="806.7" rx="4.5" ry="2.8" class="ds"/>
<ellipse cx="366.8" cy="805.3" rx="4.2" ry="2.5" class="db"/>
<ellipse cx="300.4" cy="786.1" rx="6.4" ry="5.0" class="ds"/>
<ellipse cx="299.8" cy="784.7" rx="6.1" ry="4.7" class="db"/>
<ellipse cx="150.6" cy="784.9" rx="5.9" ry="3.8" class="ds"/>
<ellipse cx="150.0" cy="783.5" rx="5.6" ry="3.5" class="db"/>
<ellipse cx="360.6" cy="808.1" rx="3.9" ry="3.1" class="ds"/>
<ellipse cx="360.0" cy="806.7" rx="3.6" ry="2.8" class="db"/>
<ellipse cx="363.3" cy="790.9" rx="4.4" ry="3.0" class="ds"/>
<ellipse cx="362.7" cy="789.5" rx="4.1" ry="2.7" class="db"/>
<ellipse cx="293.3" cy="798.5" rx="4.8" ry="3.4" class="ds"/>
<ellipse cx="292.7" cy="797.1" rx="4.5" ry="3.1" class="db"/>
<ellipse cx="340.4" cy="782.1" rx="5.2" ry="4.1" class="ds"/>
<ellipse cx="339.8" cy="780.7" rx="4.9" ry="3.8" class="db"/>
<ellipse cx="416.1" cy="777.9" rx="6.0" ry="4.7" class="ds"/>
<ellipse cx="415.5" cy="776.5" rx="5.7" ry="4.4" class="db"/>
<ellipse cx="382.0" cy="803.3" rx="6.2" ry="5.2" class="ds"/>
<ellipse cx="381.4" cy="801.9" rx="5.9" ry="4.9" class="db"/>
<ellipse cx="294.0" cy="794.8" rx="5.9" ry="4.3" class="ds"/>
<ellipse cx="293.4" cy="793.4" rx="5.6" ry="4.0" class="db"/>
<ellipse cx="176.2" cy="796.9" rx="6.5" ry="4.6" class="ds"/>
<ellipse cx="175.6" cy="795.5" rx="6.2" ry="4.3" class="db"/>
<ellipse cx="194.4" cy="778.6" rx="4.5" ry="3.9" class="ds"/>
<ellipse cx="193.8" cy="777.2" rx="4.2" ry="3.6" class="db"/>
<ellipse cx="226.8" cy="767.5" rx="5.5" ry="4.4" class="ds"/>
<ellipse cx="226.2" cy="766.1" rx="5.2" ry="4.1" class="db"/>
<ellipse cx="150.1" cy="780.3" rx="5.3" ry="4.5" class="ds"/>
<ellipse cx="149.5" cy="778.9" rx="5.0" ry="4.2" class="db"/>
<ellipse cx="164.5" cy="769.2" rx="4.3" ry="2.9" class="ds"/>
<ellipse cx="163.9" cy="767.8" rx="4.0" ry="2.6" class="db"/>
<ellipse cx="316.2" cy="770.5" rx="4.2" ry="2.9" class="ds"/>
<ellipse cx="315.6" cy="769.1" rx="3.9" ry="2.6" class="db"/>
<ellipse cx="366.9" cy="773.6" rx="5.2" ry="4.3" class="ds"/>
<ellipse cx="366.3" cy="772.2" rx="4.9" ry="4.0" class="db"/>
<ellipse cx="211.9" cy="807.2" rx="6.3" ry="4.4" class="ds"/>
<ellipse cx="211.3" cy="805.8" rx="6.0" ry="4.1" class="db"/>
<ellipse cx="429.2" cy="781.5" rx="4.3" ry="2.8" class="ds"/>
<ellipse cx="428.6" cy="780.1" rx="4.0" ry="2.5" class="db"/>
<ellipse cx="380.6" cy="776.8" rx="5.2" ry="3.9" class="ds"/>
<ellipse cx="380.0" cy="775.4" rx="4.9" ry="3.6" class="db"/>
<ellipse cx="439.6" cy="791.5" rx="4.4" ry="2.8" class="ds"/>
<ellipse cx="439.0" cy="790.1" rx="4.1" ry="2.5" class="db"/>
<ellipse cx="246.5" cy="800.7" rx="5.7" ry="4.4" class="ds"/>
<ellipse cx="245.9" cy="799.3" rx="5.4" ry="4.1" class="db"/>
<ellipse cx="179.6" cy="774.0" rx="4.4" ry="3.7" class="ds"/>
<ellipse cx="179.0" cy="772.6" rx="4.1" ry="3.4" class="db"/>
<ellipse cx="329.3" cy="815.4" rx="4.4" ry="3.3" class="ds"/>
<ellipse cx="328.7" cy="814.0" rx="4.1" ry="3.0" class="db"/>
<ellipse cx="371.0" cy="765.9" rx="6.0" ry="4.9" class="ds"/>
<ellipse cx="370.4" cy="764.5" rx="5.7" ry="4.6" class="db"/>
<ellipse cx="156.3" cy="772.1" rx="5.7" ry="3.7" class="ds"/>
<ellipse cx="155.7" cy="770.7" rx="5.4" ry="3.4" class="db"/>
<ellipse cx="276.8" cy="812.4" rx="5.3" ry="4.4" class="ds"/>
<ellipse cx="276.2" cy="811.0" rx="5.0" ry="4.1" class="db"/>
<ellipse cx="376.9" cy="778.2" rx="6.3" ry="4.0" class="ds"/>
<ellipse cx="376.3" cy="776.8" rx="6.0" ry="3.7" class="db"/>
<ellipse cx="195.6" cy="784.7" rx="5.2" ry="3.4" class="ds"/>
<ellipse cx="195.0" cy="783.3" rx="4.9" ry="3.1" class="db"/>
<ellipse cx="227.8" cy="773.6" rx="3.9" ry="2.7" class="ds"/>
<ellipse cx="227.2" cy="772.2" rx="3.6" ry="2.4" class="db"/>
<ellipse cx="353.7" cy="775.6" rx="5.6" ry="3.6" class="ds"/>
<ellipse cx="353.1" cy="774.2" rx="5.3" ry="3.3" class="db"/>
<ellipse cx="274.7" cy="813.3" rx="6.0" ry="4.7" class="ds"/>
<ellipse cx="274.1" cy="811.9" rx="5.7" ry="4.4" class="db"/>
<ellipse cx="248.3" cy="794.8" rx="4.4" ry="3.3" class="ds"/>
<ellipse cx="247.7" cy="793.4" rx="4.1" ry="3.0" class="db"/>
<ellipse cx="133.9" cy="815.2" rx="5.9" ry="4.0" class="ds"/>
<ellipse cx="133.3" cy="813.8" rx="5.6" ry="3.7" class="db"/>
<ellipse cx="221.2" cy="776.4" rx="5.2" ry="3.6" class="ds"/>
<ellipse cx="220.6" cy="775.0" rx="4.9" ry="3.3" class="db"/>
<ellipse cx="253.0" cy="792.0" rx="4.4" ry="3.0" class="ds"/>
<ellipse cx="252.4" cy="790.6" rx="4.1" ry="2.7" class="db"/>
<ellipse cx="233.4" cy="811.6" rx="5.3" ry="4.2" class="ds"/>
<ellipse cx="232.8" cy="810.2" rx="5.0" ry="3.9" class="db"/>
<ellipse cx="388.6" cy="767.0" rx="4.1" ry="2.7" class="ds"/>
<ellipse cx="388.0" cy="765.6" rx="3.8" ry="2.4" class="db"/>
<ellipse cx="351.6" cy="769.1" rx="4.8" ry="4.0" class="ds"/>
<ellipse cx="351.0" cy="767.7" rx="4.5" ry="3.7" class="db"/>
<ellipse cx="158.7" cy="770.5" rx="4.1" ry="2.7" class="ds"/>
<ellipse cx="158.1" cy="769.1" rx="3.8" ry="2.4" class="db"/>
<ellipse cx="153.3" cy="809.7" rx="4.9" ry="3.6" class="ds"/>
<ellipse cx="152.7" cy="808.3" rx="4.6" ry="3.3" class="db"/>
<ellipse cx="369.9" cy="802.4" rx="4.8" ry="3.4" class="ds"/>
<ellipse cx="369.3" cy="801.0" rx="4.5" ry="3.1" class="db"/>
<ellipse cx="135.4" cy="777.5" rx="5.7" ry="4.8" class="ds"/>
<ellipse cx="134.8" cy="776.1" rx="5.4" ry="4.5" class="db"/>
<ellipse cx="336.6" cy="788.5" rx="3.8" ry="2.7" class="ds"/>
<ellipse cx="336.0" cy="787.1" rx="3.5" ry="2.4" class="db"/>
<ellipse cx="333.6" cy="767.3" rx="4.8" ry="3.5" class="ds"/>
<ellipse cx="333.0" cy="765.9" rx="4.5" ry="3.2" class="db"/>
<ellipse cx="388.1" cy="788.7" rx="4.1" ry="3.3" class="ds"/>
<ellipse cx="387.5" cy="787.3" rx="3.8" ry="3.0" class="db"/>
<ellipse cx="301.7" cy="775.3" rx="5.1" ry="3.4" class="ds"/>
<ellipse cx="301.1" cy="773.9" rx="4.8" ry="3.1" class="db"/>
<ellipse cx="438.5" cy="783.2" rx="5.7" ry="4.7" class="ds"/>
<ellipse cx="437.9" cy="781.8" rx="5.4" ry="4.4" class="db"/>
<ellipse cx="425.4" cy="789.6" rx="4.3" ry="2.8" class="ds"/>
<ellipse cx="424.8" cy="788.2" rx="4.0" ry="2.5" class="db"/>
<ellipse cx="310.5" cy="794.0" rx="4.6" ry="3.9" class="ds"/>
<ellipse cx="309.9" cy="792.6" rx="4.3" ry="3.6" class="db"/>
<ellipse cx="275.1" cy="767.7" rx="6.4" ry="4.2" class="ds"/>
<ellipse cx="274.5" cy="766.3" rx="6.1" ry="3.9" class="db"/>
<ellipse cx="300.1" cy="785.7" rx="5.3" ry="3.6" class="ds"/>
<ellipse cx="299.5" cy="784.3" rx="5.0" ry="3.3" class="db"/>
<ellipse cx="440.1" cy="802.1" rx="5.4" ry="3.5" class="ds"/>
<ellipse cx="439.5" cy="800.7" rx="5.1" ry="3.2" class="db"/>
<ellipse cx="220.6" cy="807.9" rx="4.4" ry="3.3" class="ds"/>
<ellipse cx="220.0" cy="806.5" rx="4.1" ry="3.0" class="db"/>
<ellipse cx="188.5" cy="785.0" rx="3.9" ry="2.5" class="ds"/>
<ellipse cx="187.9" cy="783.6" rx="3.6" ry="2.2" class="db"/>
<ellipse cx="438.5" cy="811.1" rx="5.5" ry="3.8" class="ds"/>
<ellipse cx="437.9" cy="809.7" rx="5.2" ry="3.5" class="db"/>
<ellipse cx="360.8" cy="776.6" rx="5.4" ry="4.4" class="ds"/>
<ellipse cx="360.2" cy="775.2" rx="5.1" ry="4.1" class="db"/>
<ellipse cx="192.9" cy="780.7" rx="4.1" ry="2.9" class="ds"/>
<ellipse cx="192.3" cy="779.3" rx="3.8" ry="2.6" class="db"/>
<ellipse cx="184.8" cy="783.4" rx="4.4" ry="3.4" class="ds"/>
<ellipse cx="184.2" cy="782.0" rx="4.1" ry="3.1" class="db"/>
<ellipse cx="330.8" cy="766.2" rx="5.6" ry="3.7" class="ds"/>
<ellipse cx="330.2" cy="764.8" rx="5.3" ry="3.4" class="db"/>
<ellipse cx="317.8" cy="780.8" rx="4.9" ry="3.7" class="ds"/>
<ellipse cx="317.2" cy="779.4" rx="4.6" ry="3.4" class="db"/>
<ellipse cx="367.1" cy="797.6" rx="5.1" ry="4.3" class="ds"/>
<ellipse cx="366.5" cy="796.2" rx="4.8" ry="4.0" class="db"/>
<ellipse cx="397.4" cy="777.9" rx="4.9" ry="3.7" class="ds"/>
<ellipse cx="396.8" cy="776.5" rx="4.6" ry="3.4" class="db"/>
<ellipse cx="294.7" cy="783.7" rx="4.9" ry="4.1" class="ds"/>
<ellipse cx="294.1" cy="782.3" rx="4.6" ry="3.8" class="db"/>
<ellipse cx="147.7" cy="795.8" rx="6.2" ry="4.9" class="ds"/>
<ellipse cx="147.1" cy="794.4" rx="5.9" ry="4.6" class="db"/>
<ellipse cx="365.2" cy="773.4" rx="5.4" ry="3.4" class="ds"/>
<ellipse cx="364.6" cy="772.0" rx="5.1" ry="3.1" class="db"/>
<ellipse cx="270.1" cy="782.5" rx="4.8" ry="3.1" class="ds"/>
<ellipse cx="269.5" cy="781.1" rx="4.5" ry="2.8" class="db"/>
<ellipse cx="294.8" cy="771.0" rx="4.6" ry="3.3" class="ds"/>
<ellipse cx="294.2" cy="769.6" rx="4.3" ry="3.0" class="db"/>
<ellipse cx="152.0" cy="809.0" rx="6.4" ry="5.0" class="ds"/>
<ellipse cx="151.4" cy="807.6" rx="6.1" ry="4.7" class="db"/>
<ellipse cx="262.1" cy="801.3" rx="4.3" ry="3.5" class="ds"/>
<ellipse cx="261.5" cy="799.9" rx="4.0" ry="3.2" class="db"/>
<ellipse cx="412.5" cy="767.1" rx="5.9" ry="3.8" class="ds"/>
<ellipse cx="411.9" cy="765.7" rx="5.6" ry="3.5" class="db"/>
<ellipse cx="427.3" cy="765.9" rx="4.4" ry="3.1" class="ds"/>
<ellipse cx="426.7" cy="764.5" rx="4.1" ry="2.8" class="db"/>
<ellipse cx="150.1" cy="807.8" rx="6.0" ry="4.3" class="ds"/>
<ellipse cx="149.5" cy="806.4" rx="5.7" ry="4.0" class="db"/>
<ellipse cx="313.3" cy="766.3" rx="3.8" ry="3.2" class="ds"/>
<ellipse cx="312.7" cy="764.9" rx="3.5" ry="2.9" class="db"/>
<ellipse cx="286.1" cy="810.7" rx="6.4" ry="4.7" class="ds"/>
<ellipse cx="285.5" cy="809.3" rx="6.1" ry="4.4" class="db"/>
<ellipse cx="222.7" cy="809.9" rx="6.2" ry="4.1" class="ds"/>
<ellipse cx="222.1" cy="808.5" rx="5.9" ry="3.8" class="db"/>
<ellipse cx="241.1" cy="781.0" rx="4.2" ry="3.5" class="ds"/>
<ellipse cx="240.5" cy="779.6" rx="3.9" ry="3.2" class="db"/>
<ellipse cx="193.6" cy="789.9" rx="4.2" ry="3.5" class="ds"/>
<ellipse cx="193.0" cy="788.5" rx="3.9" ry="3.2" class="db"/>
<ellipse cx="163.7" cy="795.8" rx="4.6" ry="3.8" class="ds"/>
<ellipse cx="163.1" cy="794.4" rx="4.3" ry="3.5" class="db"/>
<ellipse cx="353.1" cy="767.9" rx="5.6" ry="4.8" class="ds"/>
<ellipse cx="352.5" cy="766.5" rx="5.3" ry="4.5" class="db"/>
<ellipse cx="155.2" cy="770.4" rx="4.6" ry="3.6" class="ds"/>
<ellipse cx="154.6" cy="769.0" rx="4.3" ry="3.3" class="db"/>
<ellipse cx="187.1" cy="770.8" rx="5.6" ry="4.5" class="ds"/>
<ellipse cx="186.5" cy="769.4" rx="5.3" ry="4.2" class="db"/>
<ellipse cx="337.1" cy="807.0" rx="5.4" ry="3.6" class="ds"/>
<ellipse cx="336.5" cy="805.6" rx="5.1" ry="3.3" class="db"/>
<ellipse cx="419.7" cy="792.1" rx="4.5" ry="3.5" class="ds"/>
<ellipse cx="419.1" cy="790.7" rx="4.2" ry="3.2" class="db"/>
<ellipse cx="437.3" cy="779.4" rx="5.2" ry="3.9" class="ds"/>
<ellipse cx="436.7" cy="778.0" rx="4.9" ry="3.6" class="db"/>
<ellipse cx="317.7" cy="772.6" rx="4.4" ry="3.6" class="ds"/>
<ellipse cx="317.1" cy="771.2" rx="4.1" ry="3.3" class="db"/>
<ellipse cx="219.6" cy="797.8" rx="4.4" ry="3.0" class="ds"/>
<ellipse cx="219.0" cy="796.4" rx="4.1" ry="2.7" class="db"/>
<ellipse cx="188.7" cy="807.9" rx="6.5" ry="4.1" class="ds"/>
<ellipse cx="188.1" cy="806.5" rx="6.2" ry="3.8" class="db"/>
<ellipse cx="364.8" cy="776.7" rx="6.3" ry="4.7" class="ds"/>
<ellipse cx="364.2" cy="775.3" rx="6.0" ry="4.4" class="db"/>
<ellipse cx="304.1" cy="790.7" rx="4.7" ry="3.7" class="ds"/>
<ellipse cx="303.5" cy="789.3" rx="4.4" ry="3.4" class="db"/>
<ellipse cx="291.8" cy="782.7" rx="6.1" ry="4.7" class="ds"/>
<ellipse cx="291.2" cy="781.3" rx="5.8" ry="4.4" class="db"/>
<ellipse cx="427.5" cy="768.9" rx="5.9" ry="3.9" class="ds"/>
<ellipse cx="426.9" cy="767.5" rx="5.6" ry="3.6" class="db"/>
<ellipse cx="204.0" cy="779.4" rx="5.9" ry="4.7" class="ds"/>
<ellipse cx="203.4" cy="778.0" rx="5.6" ry="4.4" class="db"/>
<ellipse cx="204.2" cy="781.8" rx="4.3" ry="3.3" class="ds"/>
<ellipse cx="203.6" cy="780.4" rx="4.0" ry="3.0" class="db"/>
<ellipse cx="141.6" cy="787.8" rx="5.7" ry="4.3" class="ds"/>
<ellipse cx="141.0" cy="786.4" rx="5.4" ry="4.0" class="db"/>
<ellipse cx="186.8" cy="768.3" rx="3.7" ry="2.8" class="ds"/>
<ellipse cx="186.2" cy="766.9" rx="3.4" ry="2.5" class="db"/>
<ellipse cx="268.4" cy="771.8" rx="5.9" ry="3.8" class="ds"/>
<ellipse cx="267.8" cy="770.4" rx="5.6" ry="3.5" class="db"/>
<ellipse cx="308.1" cy="784.7" rx="5.9" ry="4.0" class="ds"/>
<ellipse cx="307.5" cy="783.3" rx="5.6" ry="3.7" class="db"/>
<ellipse cx="227.6" cy="766.2" rx="4.6" ry="3.5" class="ds"/>
<ellipse cx="227.0" cy="764.8" rx="4.3" ry="3.2" class="db"/>
<ellipse cx="213.2" cy="787.3" rx="3.9" ry="3.2" class="ds"/>
<ellipse cx="212.6" cy="785.9" rx="3.6" ry="2.9" class="db"/>
<ellipse cx="210.1" cy="768.6" rx="5.6" ry="4.6" class="ds"/>
<ellipse cx="209.5" cy="767.2" rx="5.3" ry="4.3" class="db"/>
<ellipse cx="149.7" cy="777.9" rx="4.7" ry="3.2" class="ds"/>
<ellipse cx="149.1" cy="776.5" rx="4.4" ry="2.9" class="db"/>
<ellipse cx="143.7" cy="781.8" rx="5.8" ry="5.0" class="ds"/>
<ellipse cx="143.1" cy="780.4" rx="5.5" ry="4.7" class="db"/>
<ellipse cx="272.7" cy="797.1" rx="3.8" ry="2.6" class="ds"/>
<ellipse cx="272.1" cy="795.7" rx="3.5" ry="2.3" class="db"/>
<ellipse cx="174.8" cy="777.1" rx="4.5" ry="3.3" class="ds"/>
<ellipse cx="174.2" cy="775.7" rx="4.2" ry="3.0" class="db"/>
<ellipse cx="141.3" cy="815.6" rx="5.8" ry="4.6" class="ds"/>
<ellipse cx="140.7" cy="814.2" rx="5.5" ry="4.3" class="db"/>
<ellipse cx="209.6" cy="785.2" rx="4.4" ry="3.2" class="ds"/>
<ellipse cx="209.0" cy="783.8" rx="4.1" ry="2.9" class="db"/>
<ellipse cx="244.2" cy="774.7" rx="6.4" ry="4.9" class="ds"/>
<ellipse cx="243.6" cy="773.3" rx="6.1" ry="4.6" class="db"/>
<ellipse cx="256.4" cy="791.0" rx="3.9" ry="2.7" class="ds"/>
<ellipse cx="255.8" cy="789.6" rx="3.6" ry="2.4" class="db"/>
<ellipse cx="400.3" cy="787.4" rx="6.2" ry="4.5" class="ds"/>
<ellipse cx="399.7" cy="786.0" rx="5.9" ry="4.2" class="db"/>
<ellipse cx="393.6" cy="776.6" rx="5.9" ry="4.0" class="ds"/>
<ellipse cx="393.0" cy="775.2" rx="5.6" ry="3.7" class="db"/>
<ellipse cx="187.9" cy="785.1" rx="4.2" ry="2.8" class="ds"/>
<ellipse cx="187.3" cy="783.7" rx="3.9" ry="2.5" class="db"/>
<ellipse cx="276.5" cy="773.5" rx="5.0" ry="4.2" class="ds"/>
<ellipse cx="275.9" cy="772.1" rx="4.7" ry="3.9" class="db"/>
<ellipse cx="399.8" cy="769.8" rx="4.8" ry="3.1" class="ds"/>
<ellipse cx="399.2" cy="768.4" rx="4.5" ry="2.8" class="db"/>
<ellipse cx="243.8" cy="772.2" rx="3.8" ry="2.5" class="ds"/>
<ellipse cx="243.2" cy="770.8" rx="3.5" ry="2.2" class="db"/>
<ellipse cx="253.2" cy="809.9" rx="5.7" ry="3.9" class="ds"/>
<ellipse cx="252.6" cy="808.5" rx="5.4" ry="3.6" class="db"/>
<ellipse cx="178.5" cy="810.9" rx="4.7" ry="3.8" class="ds"/>
<ellipse cx="177.9" cy="809.5" rx="4.4" ry="3.5" class="db"/>
<ellipse cx="413.6" cy="766.0" rx="4.6" ry="3.3" class="ds"/>
<ellipse cx="413.0" cy="764.6" rx="4.3" ry="3.0" class="db"/>
<ellipse cx="405.9" cy="774.2" rx="5.9" ry="4.4" class="ds"/>
<ellipse cx="405.3" cy="772.8" rx="5.6" ry="4.1" class="db"/>
<ellipse cx="253.5" cy="770.9" rx="3.8" ry="2.5" class="ds"/>
<ellipse cx="252.9" cy="769.5" rx="3.5" ry="2.2" class="db"/>
<ellipse cx="140.5" cy="773.7" rx="4.9" ry="3.7" class="ds"/>
<ellipse cx="139.9" cy="772.3" rx="4.6" ry="3.4" class="db"/>
<ellipse cx="351.1" cy="771.7" rx="5.7" ry="4.5" class="ds"/>
<ellipse cx="350.5" cy="770.3" rx="5.4" ry="4.2" class="db"/>
<ellipse cx="194.5" cy="772.4" rx="5.7" ry="4.1" class="ds"/>
<ellipse cx="193.9" cy="771.0" rx="5.4" ry="3.8" class="db"/>
<ellipse cx="400.8" cy="770.5" rx="4.5" ry="3.2" class="ds"/>
<ellipse cx="400.2" cy="769.1" rx="4.2" ry="2.9" class="db"/>
<ellipse cx="143.3" cy="766.0" rx="5.5" ry="4.1" class="ds"/>
<ellipse cx="142.7" cy="764.6" rx="5.2" ry="3.8" class="db"/>
<ellipse cx="435.0" cy="773.1" rx="5.6" ry="4.7" class="ds"/>
<ellipse cx="434.4" cy="771.7" rx="5.3" ry="4.4" class="db"/>
<ellipse cx="345.6" cy="792.0" rx="6.4" ry="5.3" class="ds"/>
<ellipse cx="345.0" cy="790.6" rx="6.1" ry="5.0" class="db"/>
<ellipse cx="327.9" cy="767.0" rx="4.9" ry="3.5" class="ds"/>
<ellipse cx="327.3" cy="765.6" rx="4.6" ry="3.2" class="db"/>
<ellipse cx="250.2" cy="774.3" rx="5.1" ry="3.5" class="ds"/>
<ellipse cx="249.6" cy="772.9" rx="4.8" ry="3.2" class="db"/>
<ellipse cx="256.2" cy="781.1" rx="4.2" ry="3.3" class="ds"/>
<ellipse cx="255.6" cy="779.7" rx="3.9" ry="3.0" class="db"/>
<ellipse cx="159.6" cy="774.9" rx="4.9" ry="3.2" class="ds"/>
<ellipse cx="159.0" cy="773.5" rx="4.6" ry="2.9" class="db"/>
<ellipse cx="349.4" cy="785.3" rx="5.7" ry="3.5" class="ds"/>
<ellipse cx="348.8" cy="783.9" rx="5.4" ry="3.2" class="db"/>
<ellipse cx="244.3" cy="766.5" rx="4.8" ry="3.1" class="ds"/>
<ellipse cx="243.7" cy="765.1" rx="4.5" ry="2.8" class="db"/>
<ellipse cx="313.4" cy="780.8" rx="4.6" ry="3.2" class="ds"/>
<ellipse cx="312.8" cy="779.4" rx="4.3" ry="2.9" class="db"/>
<ellipse cx="238.9" cy="807.5" rx="5.3" ry="3.6" class="ds"/>
<ellipse cx="238.3" cy="806.1" rx="5.0" ry="3.3" class="db"/>
<ellipse cx="188.6" cy="780.8" rx="5.4" ry="4.6" class="ds"/>
<ellipse cx="188.0" cy="779.4" rx="5.1" ry="4.3" class="db"/>
<ellipse cx="310.4" cy="811.4" rx="5.9" ry="4.5" class="ds"/>
<ellipse cx="309.8" cy="810.0" rx="5.6" ry="4.2" class="db"/>
<ellipse cx="258.8" cy="778.2" rx="4.5" ry="3.7" class="ds"/>
<ellipse cx="258.2" cy="776.8" rx="4.2" ry="3.4" class="db"/>
<ellipse cx="249.7" cy="808.9" rx="3.8" ry="2.5" class="ds"/>
<ellipse cx="249.1" cy="807.5" rx="3.5" ry="2.2" class="db"/>
<ellipse cx="226.9" cy="775.7" rx="6.4" ry="4.2" class="ds"/>
<ellipse cx="226.3" cy="774.3" rx="6.1" ry="3.9" class="db"/>
<ellipse cx="201.9" cy="792.9" rx="4.4" ry="2.7" class="ds"/>
<ellipse cx="201.3" cy="791.5" rx="4.1" ry="2.4" class="db"/>
<ellipse cx="253.5" cy="771.0" rx="5.1" ry="3.9" class="ds"/>
<ellipse cx="252.9" cy="769.6" rx="4.8" ry="3.6" class="db"/>
<ellipse cx="325.4" cy="785.7" rx="6.0" ry="5.1" class="ds"/>
<ellipse cx="324.8" cy="784.3" rx="5.7" ry="4.8" class="db"/>
<ellipse cx="238.8" cy="807.1" rx="4.6" ry="3.6" class="ds"/>
<ellipse cx="238.2" cy="805.7" rx="4.3" ry="3.3" class="db"/>
<ellipse cx="344.8" cy="813.0" rx="6.0" ry="4.0" class="ds"/>
<ellipse cx="344.2" cy="811.6" rx="5.7" ry="3.7" class="db"/>
<ellipse cx="283.7" cy="785.9" rx="4.7" ry="3.3" class="ds"/>
<ellipse cx="283.1" cy="784.5" rx="4.4" ry="3.0" class="db"/>
<ellipse cx="297.2" cy="770.9" rx="4.4" ry="3.1" class="ds"/>
<ellipse cx="296.6" cy="769.5" rx="4.1" ry="2.8" class="db"/>
<ellipse cx="290.9" cy="767.7" rx="3.9" ry="2.5" class="ds"/>
<ellipse cx="290.3" cy="766.3" rx="3.6" ry="2.2" class="db"/>
<ellipse cx="350.5" cy="767.4" rx="5.0" ry="4.0" class="ds"/>
<ellipse cx="349.9" cy="766.0" rx="4.7" ry="3.7" class="db"/>
<ellipse cx="181.3" cy="805.6" rx="6.1" ry="3.9" class="ds"/>
<ellipse cx="180.7" cy="804.2" rx="5.8" ry="3.6" class="db"/>
<ellipse cx="288.9" cy="800.6" rx="4.8" ry="3.8" class="ds"/>
<ellipse cx="288.3" cy="799.2" rx="4.5" ry="3.5" class="db"/>
<ellipse cx="353.9" cy="774.3" rx="4.6" ry="3.7" class="ds"/>
<ellipse cx="353.3" cy="772.9" rx="4.3" ry="3.4" class="db"/>
<ellipse cx="389.1" cy="786.1" rx="4.9" ry="3.9" class="ds"/>
<ellipse cx="388.5" cy="784.7" rx="4.6" ry="3.6" class="db"/>
<ellipse cx="389.9" cy="801.0" rx="4.1" ry="2.9" class="ds"/>
<ellipse cx="389.3" cy="799.6" rx="3.8" ry="2.6" class="db"/>
<ellipse cx="202.7" cy="769.3" rx="3.7" ry="2.9" class="ds"/>
<ellipse cx="202.1" cy="767.9" rx="3.4" ry="2.6" class="db"/>
<ellipse cx="433.4" cy="767.9" rx="5.6" ry="4.1" class="ds"/>
<ellipse cx="432.8" cy="766.5" rx="5.3" ry="3.8" class="db"/>
<ellipse cx="254.4" cy="810.7" rx="6.5" ry="4.1" class="ds"/>
<ellipse cx="253.8" cy="809.3" rx="6.2" ry="3.8" class="db"/>
<ellipse cx="167.5" cy="766.2" rx="4.5" ry="3.6" class="ds"/>
<ellipse cx="166.9" cy="764.8" rx="4.2" ry="3.3" class="db"/>
<ellipse cx="168.1" cy="774.4" rx="3.8" ry="2.9" class="ds"/>
<ellipse cx="167.5" cy="773.0" rx="3.5" ry="2.6" class="db"/>
<ellipse cx="247.1" cy="773.5" rx="5.9" ry="4.9" class="ds"/>
<ellipse cx="246.5" cy="772.1" rx="5.6" ry="4.6" class="db"/>
<ellipse cx="252.8" cy="789.0" rx="5.8" ry="5.0" class="ds"/>
<ellipse cx="252.2" cy="787.6" rx="5.5" ry="4.7" class="db"/>
<ellipse cx="347.1" cy="784.9" rx="5.9" ry="3.9" class="ds"/>
<ellipse cx="346.5" cy="783.5" rx="5.6" ry="3.6" class="db"/>
<ellipse cx="164.0" cy="810.7" rx="4.4" ry="3.3" class="ds"/>
<ellipse cx="163.4" cy="809.3" rx="4.1" ry="3.0" class="db"/>
<ellipse cx="231.6" cy="766.0" rx="5.3" ry="3.5" class="ds"/>
<ellipse cx="231.0" cy="764.6" rx="5.0" ry="3.2" class="db"/>
<ellipse cx="216.1" cy="770.6" rx="5.1" ry="3.6" class="ds"/>
<ellipse cx="215.5" cy="769.2" rx="4.8" ry="3.3" class="db"/>
<ellipse cx="146.6" cy="766.5" rx="6.2" ry="4.3" class="ds"/>
<ellipse cx="146.0" cy="765.1" rx="5.9" ry="4.0" class="db"/>
<ellipse cx="187.5" cy="781.5" rx="6.5" ry="4.3" class="ds"/>
<ellipse cx="186.9" cy="780.1" rx="6.2" ry="4.0" class="db"/>
<ellipse cx="281.7" cy="778.1" rx="6.0" ry="4.3" class="ds"/>
<ellipse cx="281.1" cy="776.7" rx="5.7" ry="4.0" class="db"/>
<ellipse cx="302.4" cy="791.4" rx="5.4" ry="3.7" class="ds"/>
<ellipse cx="301.8" cy="790.0" rx="5.1" ry="3.4" class="db"/>
<ellipse cx="400.4" cy="815.4" rx="4.9" ry="4.1" class="ds"/>
<ellipse cx="399.8" cy="814.0" rx="4.6" ry="3.8" class="db"/>
<ellipse cx="185.5" cy="766.1" rx="4.2" ry="2.7" class="ds"/>
<ellipse cx="184.9" cy="764.7" rx="3.9" ry="2.4" class="db"/>
<ellipse cx="242.6" cy="797.7" rx="4.6" ry="3.4" class="ds"/>
<ellipse cx="242.0" cy="796.3" rx="4.3" ry="3.1" class="db"/>
<ellipse cx="196.2" cy="812.7" rx="3.7" ry="2.8" class="ds"/>
<ellipse cx="195.6" cy="811.3" rx="3.4" ry="2.5" class="db"/>
<ellipse cx="377.8" cy="796.5" rx="4.8" ry="3.9" class="ds"/>
<ellipse cx="377.2" cy="795.1" rx="4.5" ry="3.6" class="db"/>
<ellipse cx="370.1" cy="814.8" rx="4.0" ry="3.4" class="ds"/>
<ellipse cx="369.5" cy="813.4" rx="3.7" ry="3.1" class="db"/>
<ellipse cx="350.6" cy="771.4" rx="6.2" ry="3.9" class="ds"/>
<ellipse cx="350.0" cy="770.0" rx="5.9" ry="3.6" class="db"/>
<ellipse cx="201.5" cy="776.9" rx="4.7" ry="3.7" class="ds"/>
<ellipse cx="200.9" cy="775.5" rx="4.4" ry="3.4" class="db"/>
<ellipse cx="244.4" cy="790.3" rx="4.7" ry="3.2" class="ds"/>
<ellipse cx="243.8" cy="788.9" rx="4.4" ry="2.9" class="db"/>
<ellipse cx="230.9" cy="767.0" rx="4.6" ry="3.7" class="ds"/>
<ellipse cx="230.3" cy="765.6" rx="4.3" ry="3.4" class="db"/>
<ellipse cx="362.5" cy="784.9" rx="5.6" ry="3.7" class="ds"/>
<ellipse cx="361.9" cy="783.5" rx="5.3" ry="3.4" class="db"/>
<ellipse cx="175.2" cy="775.2" rx="4.9" ry="3.1" class="ds"/>
<ellipse cx="174.6" cy="773.8" rx="4.6" ry="2.8" class="db"/>
</g>
<path d="M443,765 L497,764 L497,808 C480,809 468,812 460,822 C454,832 452,842 451,852 L449,852 C449,830 446,800 443,765 Z" fill="url(#bolG)"/>
<rect x="470" y="764" width="27" height="45" fill="url(#ferrule)"/>
<path d="M447,766 L470,766 C482,780 488,795 484,808 C470,810 460,815 455,828 L450,840 Z" fill="#f4f4f4"/>
<rect x="497" y="764" width="6" height="45" fill="#f0eeee"/>
<rect x="497" y="764" width="1.8" height="45" fill="#b3322c"/>
<rect x="501.2" y="764" width="1.8" height="45" fill="#b3322c"/>
<clipPath id="cw1"><path d="M503,764 L704.5,760.5 L704.5,815 L503,809 Z"/></clipPath>
<path d="M503,764 L704.5,760.5 L704.5,815 L503,809 Z" fill="url(#woodG)"/>
<g clip-path="url(#cw1)">
<line x1="503" y1="761.7" x2="704.5" y2="762.6" stroke="#b48a66" stroke-width="1.0" opacity="0.55"/>
<line x1="503" y1="764.0" x2="704.5" y2="762.6" stroke="#704b34" stroke-width="0.7" opacity="0.55"/>
<line x1="503" y1="766.4" x2="704.5" y2="767.7" stroke="#5a3a28" stroke-width="0.6" opacity="0.55"/>
<line x1="503" y1="767.8" x2="704.5" y2="767.4" stroke="#6a4630" stroke-width="0.6" opacity="0.55"/>
<line x1="503" y1="769.5" x2="704.5" y2="769.3" stroke="#6a4630" stroke-width="0.6" opacity="0.55"/>
<line x1="503" y1="772.6" x2="704.5" y2="771.6" stroke="#a57c5a" stroke-width="0.9" opacity="0.55"/>
<line x1="503" y1="773.5" x2="704.5" y2="773.4" stroke="#704b34" stroke-width="0.6" opacity="0.55"/>
<line x1="503" y1="777.0" x2="704.5" y2="776.1" stroke="#5a3a28" stroke-width="0.6" opacity="0.55"/>
<line x1="503" y1="779.1" x2="704.5" y2="778.5" stroke="#6a4630" stroke-width="1.0" opacity="0.55"/>
<line x1="503" y1="780.5" x2="704.5" y2="779.5" stroke="#6a4630" stroke-width="1.0" opacity="0.55"/>
<line x1="503" y1="782.0" x2="704.5" y2="781.4" stroke="#a57c5a" stroke-width="0.7" opacity="0.55"/>
<line x1="503" y1="784.1" x2="704.5" y2="783.4" stroke="#6a4630" stroke-width="0.7" opacity="0.55"/>
<line x1="503" y1="787.2" x2="704.5" y2="785.7" stroke="#704b34" stroke-width="0.8" opacity="0.55"/>
<line x1="503" y1="788.5" x2="704.5" y2="788.1" stroke="#b48a66" stroke-width="0.7" opacity="0.55"/>
<line x1="503" y1="791.2" x2="704.5" y2="791.2" stroke="#6a4630" stroke-width="0.9" opacity="0.55"/>
<line x1="503" y1="792.3" x2="704.5" y2="793.6" stroke="#5a3a28" stroke-width="0.7" opacity="0.55"/>
<line x1="503" y1="794.9" x2="704.5" y2="795.8" stroke="#704b34" stroke-width="0.7" opacity="0.55"/>
<line x1="503" y1="797.3" x2="704.5" y2="797.2" stroke="#5a3a28" stroke-width="0.9" opacity="0.55"/>
<line x1="503" y1="799.5" x2="704.5" y2="798.3" stroke="#6a4630" stroke-width="0.6" opacity="0.55"/>
<line x1="503" y1="801.9" x2="704.5" y2="801.4" stroke="#a57c5a" stroke-width="0.7" opacity="0.55"/>
<line x1="503" y1="803.5" x2="704.5" y2="802.3" stroke="#a57c5a" stroke-width="0.9" opacity="0.55"/>
<line x1="503" y1="806.0" x2="704.5" y2="804.7" stroke="#b48a66" stroke-width="1.0" opacity="0.55"/>
<line x1="503" y1="807.0" x2="704.5" y2="807.0" stroke="#b48a66" stroke-width="0.7" opacity="0.55"/>
<line x1="503" y1="809.2" x2="704.5" y2="810.5" stroke="#b48a66" stroke-width="0.8" opacity="0.55"/>
<line x1="503" y1="811.6" x2="704.5" y2="811.0" stroke="#b48a66" stroke-width="0.9" opacity="0.55"/>
<line x1="503" y1="814.2" x2="704.5" y2="815.6" stroke="#b48a66" stroke-width="0.6" opacity="0.55"/>
<path d="M688.0,792.1 C688.0,774.0 655.8,771.9 642.0,771.9 C570.5,771.9 499.0,780.0 499.0,792.1 C499.0,804.2 570.5,812.3 642.0,812.3 C655.8,812.3 688.0,810.3 688.0,792.1 Z" fill="#8a6042" stroke="#4a2d1d" stroke-width="1.2" opacity="0.95"/>
<path d="M688.0,792.1 C688.0,774.0 655.8,771.9 642.0,771.9 C570.5,771.9 499.0,780.0 499.0,792.1 C499.0,804.2 570.5,812.3 642.0,812.3 C655.8,812.3 688.0,810.3 688.0,792.1 Z" fill="none" stroke="#c79f7c" stroke-width="0.9" opacity="0.5" transform="translate(3,0)"/>
<path d="M683.5,792.1 C683.5,775.9 654.5,774.1 642.0,774.1 C578.6,774.1 515.1,781.3 515.1,792.1 C515.1,802.9 578.6,810.1 642.0,810.1 C654.5,810.1 683.5,808.3 683.5,792.1 Z" fill="#a67b58" stroke="#4a2d1d" stroke-width="1.2" opacity="0.95"/>
<path d="M683.5,792.1 C683.5,775.9 654.5,774.1 642.0,774.1 C578.6,774.1 515.1,781.3 515.1,792.1 C515.1,802.9 578.6,810.1 642.0,810.1 C654.5,810.1 683.5,808.3 683.5,792.1 Z" fill="none" stroke="#c79f7c" stroke-width="0.9" opacity="0.5" transform="translate(3,0)"/>
<path d="M679.0,792.1 C679.0,777.9 653.1,776.3 642.0,776.3 C586.6,776.3 531.3,782.6 531.3,792.1 C531.3,801.6 586.6,807.9 642.0,807.9 C653.1,807.9 679.0,806.3 679.0,792.1 Z" fill="#8a6042" stroke="#4a2d1d" stroke-width="1.2" opacity="0.95"/>
<path d="M679.0,792.1 C679.0,777.9 653.1,776.3 642.0,776.3 C586.6,776.3 531.3,782.6 531.3,792.1 C531.3,801.6 586.6,807.9 642.0,807.9 C653.1,807.9 679.0,806.3 679.0,792.1 Z" fill="none" stroke="#c79f7c" stroke-width="0.9" opacity="0.5" transform="translate(3,0)"/>
<path d="M674.5,792.1 C674.5,779.8 651.8,778.5 642.0,778.5 C594.7,778.5 547.4,783.9 547.4,792.1 C547.4,800.3 594.7,805.7 642.0,805.7 C651.8,805.7 674.5,804.4 674.5,792.1 Z" fill="#a67b58" stroke="#4a2d1d" stroke-width="1.2" opacity="0.95"/>
<path d="M674.5,792.1 C674.5,779.8 651.8,778.5 642.0,778.5 C594.7,778.5 547.4,783.9 547.4,792.1 C547.4,800.3 594.7,805.7 642.0,805.7 C651.8,805.7 674.5,804.4 674.5,792.1 Z" fill="none" stroke="#c79f7c" stroke-width="0.9" opacity="0.5" transform="translate(3,0)"/>
<path d="M670.0,792.1 C670.0,781.8 650.4,780.7 642.0,780.7 C602.8,780.7 563.5,785.2 563.5,792.1 C563.5,799.0 602.8,803.6 642.0,803.6 C650.4,803.6 670.0,802.4 670.0,792.1 Z" fill="#8a6042" stroke="#4a2d1d" stroke-width="1.2" opacity="0.95"/>
<path d="M670.0,792.1 C670.0,781.8 650.4,780.7 642.0,780.7 C602.8,780.7 563.5,785.2 563.5,792.1 C563.5,799.0 602.8,803.6 642.0,803.6 C650.4,803.6 670.0,802.4 670.0,792.1 Z" fill="none" stroke="#c79f7c" stroke-width="0.9" opacity="0.5" transform="translate(3,0)"/>
<path d="M665.5,792.1 C665.5,783.8 649.1,782.8 642.0,782.8 C610.8,782.8 579.6,786.6 579.6,792.1 C579.6,797.7 610.8,801.4 642.0,801.4 C649.1,801.4 665.5,800.4 665.5,792.1 Z" fill="#a67b58" stroke="#4a2d1d" stroke-width="1.2" opacity="0.95"/>
<path d="M665.5,792.1 C665.5,783.8 649.1,782.8 642.0,782.8 C610.8,782.8 579.6,786.6 579.6,792.1 C579.6,797.7 610.8,801.4 642.0,801.4 C649.1,801.4 665.5,800.4 665.5,792.1 Z" fill="none" stroke="#c79f7c" stroke-width="0.9" opacity="0.5" transform="translate(3,0)"/>
<path d="M661.0,792.1 C661.0,785.7 647.7,785.0 642.0,785.0 C618.9,785.0 595.8,787.9 595.8,792.1 C595.8,796.4 618.9,799.2 642.0,799.2 C647.7,799.2 661.0,798.5 661.0,792.1 Z" fill="#8a6042" stroke="#4a2d1d" stroke-width="1.2" opacity="0.95"/>
<path d="M661.0,792.1 C661.0,785.7 647.7,785.0 642.0,785.0 C618.9,785.0 595.8,787.9 595.8,792.1 C595.8,796.4 618.9,799.2 642.0,799.2 C647.7,799.2 661.0,798.5 661.0,792.1 Z" fill="none" stroke="#c79f7c" stroke-width="0.9" opacity="0.5" transform="translate(3,0)"/>
<path d="M656.5,792.1 C656.5,787.7 646.4,787.2 642.0,787.2 C627.0,787.2 611.9,789.2 611.9,792.1 C611.9,795.1 627.0,797.0 642.0,797.0 C646.4,797.0 656.5,796.5 656.5,792.1 Z" fill="#a67b58" stroke="#4a2d1d" stroke-width="1.2" opacity="0.95"/>
<path d="M656.5,792.1 C656.5,787.7 646.4,787.2 642.0,787.2 C627.0,787.2 611.9,789.2 611.9,792.1 C611.9,795.1 627.0,797.0 642.0,797.0 C646.4,797.0 656.5,796.5 656.5,792.1 Z" fill="none" stroke="#c79f7c" stroke-width="0.9" opacity="0.5" transform="translate(3,0)"/>
<ellipse cx="640.0" cy="792.1" rx="22.2" ry="4.6" fill="#3c2a22" opacity="0.85"/>
<rect x="503" y="809.5" width="201.5" height="5.5" fill="#5e4030" opacity="0.35"/>
</g>
<path d="M704.5,762.0 L709,762.5 Q711,787.75 709,813 L704.5,813.5 Z" fill="url(#cap)"/>
<clipPath id="cb2"><path d="M78,1060 C95,1040 115,1005 150,1004 L448,1003 L448,1099 C350,1096 250,1090 157,1081 C120,1074 95,1068 78,1060 Z"/></clipPath>
<path d="M78,1060 C95,1040 115,1005 150,1004 L448,1003 L448,1099 C350,1096 250,1090 157,1081 C120,1074 95,1068 78,1060 Z" fill="url(#kblade)" stroke="#9a9a9a" stroke-width="0.8"/>
<g clip-path="url(#cb2)">
<rect x="95" y="1004" width="357" height="39.0" fill="#c8c8c8" opacity="0.4"/>
<ellipse cx="429.4" cy="1009.6" rx="3.8" ry="3.2" class="ds"/>
<ellipse cx="428.8" cy="1008.2" rx="3.5" ry="2.9" class="db"/>
<ellipse cx="163.8" cy="1033.6" rx="4.7" ry="3.9" class="ds"/>
<ellipse cx="163.2" cy="1032.2" rx="4.4" ry="3.6" class="db"/>
<ellipse cx="429.8" cy="1015.8" rx="5.4" ry="4.5" class="ds"/>
<ellipse cx="429.2" cy="1014.4" rx="5.1" ry="4.2" class="db"/>
<ellipse cx="418.5" cy="1037.3" rx="3.8" ry="3.2" class="ds"/>
<ellipse cx="417.9" cy="1035.9" rx="3.5" ry="2.9" class="db"/>
<ellipse cx="224.1" cy="1011.1" rx="6.1" ry="4.6" class="ds"/>
<ellipse cx="223.5" cy="1009.7" rx="5.8" ry="4.3" class="db"/>
<ellipse cx="370.9" cy="1056.2" rx="5.3" ry="4.2" class="ds"/>
<ellipse cx="370.3" cy="1054.8" rx="5.0" ry="3.9" class="db"/>
<ellipse cx="207.5" cy="1055.8" rx="4.6" ry="3.7" class="ds"/>
<ellipse cx="206.9" cy="1054.4" rx="4.3" ry="3.4" class="db"/>
<ellipse cx="331.9" cy="1009.7" rx="6.0" ry="4.7" class="ds"/>
<ellipse cx="331.3" cy="1008.3" rx="5.7" ry="4.4" class="db"/>
<ellipse cx="141.2" cy="1026.3" rx="3.8" ry="3.2" class="ds"/>
<ellipse cx="140.6" cy="1024.9" rx="3.5" ry="2.9" class="db"/>
<ellipse cx="289.6" cy="1019.9" rx="5.6" ry="4.7" class="ds"/>
<ellipse cx="289.0" cy="1018.5" rx="5.3" ry="4.4" class="db"/>
<ellipse cx="244.1" cy="1029.3" rx="4.5" ry="3.5" class="ds"/>
<ellipse cx="243.5" cy="1027.9" rx="4.2" ry="3.2" class="db"/>
<ellipse cx="263.0" cy="1035.0" rx="5.2" ry="3.3" class="ds"/>
<ellipse cx="262.4" cy="1033.6" rx="4.9" ry="3.0" class="db"/>
<ellipse cx="238.4" cy="1021.0" rx="4.8" ry="4.1" class="ds"/>
<ellipse cx="237.8" cy="1019.6" rx="4.5" ry="3.8" class="db"/>
<ellipse cx="287.9" cy="1019.4" rx="4.0" ry="3.3" class="ds"/>
<ellipse cx="287.3" cy="1018.0" rx="3.7" ry="3.0" class="db"/>
<ellipse cx="298.9" cy="1017.1" rx="4.6" ry="3.3" class="ds"/>
<ellipse cx="298.3" cy="1015.7" rx="4.3" ry="3.0" class="db"/>
<ellipse cx="137.3" cy="1026.5" rx="5.9" ry="4.6" class="ds"/>
<ellipse cx="136.7" cy="1025.1" rx="5.6" ry="4.3" class="db"/>
<ellipse cx="345.5" cy="1007.9" rx="4.9" ry="4.0" class="ds"/>
<ellipse cx="344.9" cy="1006.5" rx="4.6" ry="3.7" class="db"/>
<ellipse cx="271.6" cy="1047.2" rx="5.1" ry="3.8" class="ds"/>
<ellipse cx="271.0" cy="1045.8" rx="4.8" ry="3.5" class="db"/>
<ellipse cx="439.8" cy="1039.8" rx="5.0" ry="4.0" class="ds"/>
<ellipse cx="439.2" cy="1038.4" rx="4.7" ry="3.7" class="db"/>
<ellipse cx="237.7" cy="1042.6" rx="6.0" ry="4.6" class="ds"/>
<ellipse cx="237.1" cy="1041.2" rx="5.7" ry="4.3" class="db"/>
<ellipse cx="131.4" cy="1024.6" rx="5.5" ry="3.8" class="ds"/>
<ellipse cx="130.8" cy="1023.2" rx="5.2" ry="3.5" class="db"/>
<ellipse cx="345.0" cy="1021.1" rx="4.5" ry="2.8" class="ds"/>
<ellipse cx="344.4" cy="1019.7" rx="4.2" ry="2.5" class="db"/>
<ellipse cx="237.3" cy="1009.1" rx="4.3" ry="3.0" class="ds"/>
<ellipse cx="236.7" cy="1007.7" rx="4.0" ry="2.7" class="db"/>
<ellipse cx="182.9" cy="1014.0" rx="4.0" ry="2.9" class="ds"/>
<ellipse cx="182.3" cy="1012.6" rx="3.7" ry="2.6" class="db"/>
<ellipse cx="234.7" cy="1039.2" rx="6.3" ry="5.1" class="ds"/>
<ellipse cx="234.1" cy="1037.8" rx="6.0" ry="4.8" class="db"/>
<ellipse cx="245.3" cy="1047.4" rx="3.8" ry="2.6" class="ds"/>
<ellipse cx="244.7" cy="1046.0" rx="3.5" ry="2.3" class="db"/>
<ellipse cx="246.8" cy="1040.2" rx="5.7" ry="4.2" class="ds"/>
<ellipse cx="246.2" cy="1038.8" rx="5.4" ry="3.9" class="db"/>
<ellipse cx="198.7" cy="1013.7" rx="3.9" ry="3.0" class="ds"/>
<ellipse cx="198.1" cy="1012.3" rx="3.6" ry="2.7" class="db"/>
<ellipse cx="407.5" cy="1033.2" rx="3.9" ry="2.9" class="ds"/>
<ellipse cx="406.9" cy="1031.8" rx="3.6" ry="2.6" class="db"/>
<ellipse cx="139.0" cy="1023.8" rx="3.8" ry="3.1" class="ds"/>
<ellipse cx="138.4" cy="1022.4" rx="3.5" ry="2.8" class="db"/>
<ellipse cx="325.9" cy="1058.2" rx="6.1" ry="4.1" class="ds"/>
<ellipse cx="325.3" cy="1056.8" rx="5.8" ry="3.8" class="db"/>
<ellipse cx="169.9" cy="1016.8" rx="6.1" ry="5.0" class="ds"/>
<ellipse cx="169.3" cy="1015.4" rx="5.8" ry="4.7" class="db"/>
<ellipse cx="246.0" cy="1032.9" rx="4.2" ry="3.4" class="ds"/>
<ellipse cx="245.4" cy="1031.5" rx="3.9" ry="3.1" class="db"/>
<ellipse cx="300.4" cy="1017.6" rx="6.1" ry="4.5" class="ds"/>
<ellipse cx="299.8" cy="1016.2" rx="5.8" ry="4.2" class="db"/>
<ellipse cx="213.7" cy="1010.1" rx="6.0" ry="4.5" class="ds"/>
<ellipse cx="213.1" cy="1008.7" rx="5.7" ry="4.2" class="db"/>
<ellipse cx="384.7" cy="1057.2" rx="4.2" ry="3.1" class="ds"/>
<ellipse cx="384.1" cy="1055.8" rx="3.9" ry="2.8" class="db"/>
<ellipse cx="367.1" cy="1018.8" rx="5.5" ry="3.7" class="ds"/>
<ellipse cx="366.5" cy="1017.4" rx="5.2" ry="3.4" class="db"/>
<ellipse cx="141.6" cy="1018.4" rx="4.4" ry="3.3" class="ds"/>
<ellipse cx="141.0" cy="1017.0" rx="4.1" ry="3.0" class="db"/>
<ellipse cx="174.1" cy="1027.8" rx="6.1" ry="4.7" class="ds"/>
<ellipse cx="173.5" cy="1026.4" rx="5.8" ry="4.4" class="db"/>
<ellipse cx="369.0" cy="1007.5" rx="6.4" ry="5.0" class="ds"/>
<ellipse cx="368.4" cy="1006.1" rx="6.1" ry="4.7" class="db"/>
<ellipse cx="387.2" cy="1008.7" rx="3.9" ry="2.6" class="ds"/>
<ellipse cx="386.6" cy="1007.3" rx="3.6" ry="2.3" class="db"/>
<ellipse cx="423.1" cy="1052.1" rx="4.9" ry="3.7" class="ds"/>
<ellipse cx="422.5" cy="1050.7" rx="4.6" ry="3.4" class="db"/>
<ellipse cx="231.0" cy="1057.0" rx="6.3" ry="5.0" class="ds"/>
<ellipse cx="230.4" cy="1055.6" rx="6.0" ry="4.7" class="db"/>
<ellipse cx="379.5" cy="1033.6" rx="4.6" ry="3.2" class="ds"/>
<ellipse cx="378.9" cy="1032.2" rx="4.3" ry="2.9" class="db"/>
<ellipse cx="143.8" cy="1053.4" rx="4.5" ry="2.9" class="ds"/>
<ellipse cx="143.2" cy="1052.0" rx="4.2" ry="2.6" class="db"/>
<ellipse cx="158.3" cy="1021.6" rx="4.6" ry="3.1" class="ds"/>
<ellipse cx="157.7" cy="1020.2" rx="4.3" ry="2.8" class="db"/>
<ellipse cx="257.1" cy="1017.3" rx="6.0" ry="4.1" class="ds"/>
<ellipse cx="256.5" cy="1015.9" rx="5.7" ry="3.8" class="db"/>
<ellipse cx="403.9" cy="1056.0" rx="4.7" ry="3.0" class="ds"/>
<ellipse cx="403.3" cy="1054.6" rx="4.4" ry="2.7" class="db"/>
<ellipse cx="288.6" cy="1011.9" rx="4.1" ry="2.8" class="ds"/>
<ellipse cx="288.0" cy="1010.5" rx="3.8" ry="2.5" class="db"/>
<ellipse cx="169.6" cy="1007.8" rx="6.5" ry="5.3" class="ds"/>
<ellipse cx="169.0" cy="1006.4" rx="6.2" ry="5.0" class="db"/>
<ellipse cx="278.0" cy="1043.9" rx="5.1" ry="3.3" class="ds"/>
<ellipse cx="277.4" cy="1042.5" rx="4.8" ry="3.0" class="db"/>
<ellipse cx="246.3" cy="1052.5" rx="5.3" ry="3.9" class="ds"/>
<ellipse cx="245.7" cy="1051.1" rx="5.0" ry="3.6" class="db"/>
<ellipse cx="141.0" cy="1035.9" rx="6.0" ry="4.6" class="ds"/>
<ellipse cx="140.4" cy="1034.5" rx="5.7" ry="4.3" class="db"/>
<ellipse cx="216.3" cy="1007.4" rx="3.9" ry="2.6" class="ds"/>
<ellipse cx="215.7" cy="1006.0" rx="3.6" ry="2.3" class="db"/>
<ellipse cx="372.3" cy="1011.9" rx="5.0" ry="3.9" class="ds"/>
<ellipse cx="371.7" cy="1010.5" rx="4.7" ry="3.6" class="db"/>
<ellipse cx="132.1" cy="1052.9" rx="5.3" ry="3.7" class="ds"/>
<ellipse cx="131.5" cy="1051.5" rx="5.0" ry="3.4" class="db"/>
<ellipse cx="344.0" cy="1053.9" rx="4.6" ry="3.3" class="ds"/>
<ellipse cx="343.4" cy="1052.5" rx="4.3" ry="3.0" class="db"/>
<ellipse cx="181.1" cy="1019.7" rx="6.3" ry="4.7" class="ds"/>
<ellipse cx="180.5" cy="1018.3" rx="6.0" ry="4.4" class="db"/>
<ellipse cx="208.6" cy="1048.9" rx="5.9" ry="4.0" class="ds"/>
<ellipse cx="208.0" cy="1047.5" rx="5.6" ry="3.7" class="db"/>
<ellipse cx="341.8" cy="1028.7" rx="5.4" ry="3.7" class="ds"/>
<ellipse cx="341.2" cy="1027.3" rx="5.1" ry="3.4" class="db"/>
<ellipse cx="238.0" cy="1043.6" rx="4.7" ry="4.1" class="ds"/>
<ellipse cx="237.4" cy="1042.2" rx="4.4" ry="3.8" class="db"/>
<ellipse cx="197.8" cy="1020.2" rx="4.1" ry="3.2" class="ds"/>
<ellipse cx="197.2" cy="1018.8" rx="3.8" ry="2.9" class="db"/>
<ellipse cx="317.4" cy="1015.3" rx="5.9" ry="3.8" class="ds"/>
<ellipse cx="316.8" cy="1013.9" rx="5.6" ry="3.5" class="db"/>
<ellipse cx="351.9" cy="1012.5" rx="4.1" ry="2.9" class="ds"/>
<ellipse cx="351.3" cy="1011.1" rx="3.8" ry="2.6" class="db"/>
<ellipse cx="208.3" cy="1007.4" rx="4.9" ry="4.0" class="ds"/>
<ellipse cx="207.7" cy="1006.0" rx="4.6" ry="3.7" class="db"/>
<ellipse cx="423.8" cy="1025.0" rx="4.1" ry="2.7" class="ds"/>
<ellipse cx="423.2" cy="1023.6" rx="3.8" ry="2.4" class="db"/>
<ellipse cx="276.6" cy="1010.6" rx="3.9" ry="2.9" class="ds"/>
<ellipse cx="276.0" cy="1009.2" rx="3.6" ry="2.6" class="db"/>
<ellipse cx="266.5" cy="1021.9" rx="5.7" ry="4.3" class="ds"/>
<ellipse cx="265.9" cy="1020.5" rx="5.4" ry="4.0" class="db"/>
<ellipse cx="182.6" cy="1048.1" rx="3.8" ry="2.5" class="ds"/>
<ellipse cx="182.0" cy="1046.7" rx="3.5" ry="2.2" class="db"/>
<ellipse cx="387.5" cy="1026.9" rx="6.3" ry="4.8" class="ds"/>
<ellipse cx="386.9" cy="1025.5" rx="6.0" ry="4.5" class="db"/>
<ellipse cx="262.1" cy="1039.0" rx="4.3" ry="3.5" class="ds"/>
<ellipse cx="261.5" cy="1037.6" rx="4.0" ry="3.2" class="db"/>
<ellipse cx="139.0" cy="1016.8" rx="5.3" ry="3.5" class="ds"/>
<ellipse cx="138.4" cy="1015.4" rx="5.0" ry="3.2" class="db"/>
<ellipse cx="419.2" cy="1025.2" rx="6.2" ry="4.9" class="ds"/>
<ellipse cx="418.6" cy="1023.8" rx="5.9" ry="4.6" class="db"/>
<ellipse cx="175.7" cy="1055.5" rx="6.3" ry="4.6" class="ds"/>
<ellipse cx="175.1" cy="1054.1" rx="6.0" ry="4.3" class="db"/>
<ellipse cx="148.9" cy="1031.5" rx="6.1" ry="4.3" class="ds"/>
<ellipse cx="148.3" cy="1030.1" rx="5.8" ry="4.0" class="db"/>
<ellipse cx="319.9" cy="1043.3" rx="4.2" ry="2.9" class="ds"/>
<ellipse cx="319.3" cy="1041.9" rx="3.9" ry="2.6" class="db"/>
<ellipse cx="138.7" cy="1045.0" rx="4.6" ry="3.8" class="ds"/>
<ellipse cx="138.1" cy="1043.6" rx="4.3" ry="3.5" class="db"/>
<ellipse cx="178.1" cy="1007.5" rx="4.0" ry="2.8" class="ds"/>
<ellipse cx="177.5" cy="1006.1" rx="3.7" ry="2.5" class="db"/>
<ellipse cx="377.3" cy="1032.3" rx="4.6" ry="3.6" class="ds"/>
<ellipse cx="376.7" cy="1030.9" rx="4.3" ry="3.3" class="db"/>
<ellipse cx="242.1" cy="1008.3" rx="5.0" ry="3.4" class="ds"/>
<ellipse cx="241.5" cy="1006.9" rx="4.7" ry="3.1" class="db"/>
<ellipse cx="249.4" cy="1008.2" rx="6.2" ry="4.3" class="ds"/>
<ellipse cx="248.8" cy="1006.8" rx="5.9" ry="4.0" class="db"/>
<ellipse cx="359.3" cy="1007.4" rx="6.2" ry="5.0" class="ds"/>
<ellipse cx="358.7" cy="1006.0" rx="5.9" ry="4.7" class="db"/>
<ellipse cx="405.9" cy="1023.4" rx="3.8" ry="2.5" class="ds"/>
<ellipse cx="405.3" cy="1022.0" rx="3.5" ry="2.2" class="db"/>
<ellipse cx="397.6" cy="1046.0" rx="4.0" ry="2.9" class="ds"/>
<ellipse cx="397.0" cy="1044.6" rx="3.7" ry="2.6" class="db"/>
<ellipse cx="198.0" cy="1017.2" rx="4.9" ry="3.2" class="ds"/>
<ellipse cx="197.4" cy="1015.8" rx="4.6" ry="2.9" class="db"/>
<ellipse cx="202.4" cy="1050.6" rx="5.0" ry="3.7" class="ds"/>
<ellipse cx="201.8" cy="1049.2" rx="4.7" ry="3.4" class="db"/>
<ellipse cx="234.9" cy="1013.3" rx="4.0" ry="2.8" class="ds"/>
<ellipse cx="234.3" cy="1011.9" rx="3.7" ry="2.5" class="db"/>
<ellipse cx="358.7" cy="1017.3" rx="5.7" ry="3.9" class="ds"/>
<ellipse cx="358.1" cy="1015.9" rx="5.4" ry="3.6" class="db"/>
<ellipse cx="222.2" cy="1019.1" rx="6.2" ry="4.2" class="ds"/>
<ellipse cx="221.6" cy="1017.7" rx="5.9" ry="3.9" class="db"/>
<ellipse cx="175.0" cy="1013.2" rx="6.4" ry="5.4" class="ds"/>
<ellipse cx="174.4" cy="1011.8" rx="6.1" ry="5.1" class="db"/>
<ellipse cx="141.4" cy="1023.8" rx="5.3" ry="3.5" class="ds"/>
<ellipse cx="140.8" cy="1022.4" rx="5.0" ry="3.2" class="db"/>
<ellipse cx="369.3" cy="1007.4" rx="5.7" ry="4.5" class="ds"/>
<ellipse cx="368.7" cy="1006.0" rx="5.4" ry="4.2" class="db"/>
<ellipse cx="279.9" cy="1022.6" rx="5.2" ry="3.4" class="ds"/>
<ellipse cx="279.3" cy="1021.2" rx="4.9" ry="3.1" class="db"/>
<ellipse cx="201.5" cy="1015.8" rx="3.8" ry="2.6" class="ds"/>
<ellipse cx="200.9" cy="1014.4" rx="3.5" ry="2.3" class="db"/>
<ellipse cx="297.1" cy="1012.6" rx="5.3" ry="3.9" class="ds"/>
<ellipse cx="296.5" cy="1011.2" rx="5.0" ry="3.6" class="db"/>
<ellipse cx="165.9" cy="1030.1" rx="5.6" ry="4.4" class="ds"/>
<ellipse cx="165.3" cy="1028.7" rx="5.3" ry="4.1" class="db"/>
<ellipse cx="309.5" cy="1007.5" rx="4.6" ry="3.7" class="ds"/>
<ellipse cx="308.9" cy="1006.1" rx="4.3" ry="3.4" class="db"/>
<ellipse cx="158.6" cy="1020.4" rx="6.0" ry="3.9" class="ds"/>
<ellipse cx="158.0" cy="1019.0" rx="5.7" ry="3.6" class="db"/>
<ellipse cx="283.6" cy="1049.2" rx="4.8" ry="3.3" class="ds"/>
<ellipse cx="283.0" cy="1047.8" rx="4.5" ry="3.0" class="db"/>
<ellipse cx="155.5" cy="1014.8" rx="5.4" ry="4.4" class="ds"/>
<ellipse cx="154.9" cy="1013.4" rx="5.1" ry="4.1" class="db"/>
<ellipse cx="228.9" cy="1013.7" rx="4.7" ry="3.1" class="ds"/>
<ellipse cx="228.3" cy="1012.3" rx="4.4" ry="2.8" class="db"/>
<ellipse cx="368.6" cy="1057.7" rx="4.5" ry="2.9" class="ds"/>
<ellipse cx="368.0" cy="1056.3" rx="4.2" ry="2.6" class="db"/>
<ellipse cx="431.9" cy="1043.4" rx="4.9" ry="3.9" class="ds"/>
<ellipse cx="431.3" cy="1042.0" rx="4.6" ry="3.6" class="db"/>
<ellipse cx="361.4" cy="1024.2" rx="6.5" ry="5.2" class="ds"/>
<ellipse cx="360.8" cy="1022.8" rx="6.2" ry="4.9" class="db"/>
<ellipse cx="262.1" cy="1008.5" rx="4.7" ry="3.9" class="ds"/>
<ellipse cx="261.5" cy="1007.1" rx="4.4" ry="3.6" class="db"/>
<ellipse cx="291.8" cy="1042.3" rx="3.9" ry="2.8" class="ds"/>
<ellipse cx="291.2" cy="1040.9" rx="3.6" ry="2.5" class="db"/>
<ellipse cx="282.2" cy="1035.8" rx="6.3" ry="5.1" class="ds"/>
<ellipse cx="281.6" cy="1034.4" rx="6.0" ry="4.8" class="db"/>
<ellipse cx="342.4" cy="1026.7" rx="6.5" ry="4.9" class="ds"/>
<ellipse cx="341.8" cy="1025.3" rx="6.2" ry="4.6" class="db"/>
<ellipse cx="251.1" cy="1020.3" rx="5.8" ry="4.1" class="ds"/>
<ellipse cx="250.5" cy="1018.9" rx="5.5" ry="3.8" class="db"/>
<ellipse cx="356.3" cy="1055.7" rx="5.7" ry="4.3" class="ds"/>
<ellipse cx="355.7" cy="1054.3" rx="5.4" ry="4.0" class="db"/>
<ellipse cx="131.3" cy="1034.2" rx="5.8" ry="4.6" class="ds"/>
<ellipse cx="130.7" cy="1032.8" rx="5.5" ry="4.3" class="db"/>
<ellipse cx="136.9" cy="1035.7" rx="4.5" ry="3.2" class="ds"/>
<ellipse cx="136.3" cy="1034.3" rx="4.2" ry="2.9" class="db"/>
<ellipse cx="254.0" cy="1022.8" rx="3.8" ry="2.6" class="ds"/>
<ellipse cx="253.4" cy="1021.4" rx="3.5" ry="2.3" class="db"/>
<ellipse cx="193.8" cy="1025.8" rx="3.8" ry="2.5" class="ds"/>
<ellipse cx="193.2" cy="1024.4" rx="3.5" ry="2.2" class="db"/>
<ellipse cx="358.1" cy="1057.0" rx="5.8" ry="4.3" class="ds"/>
<ellipse cx="357.5" cy="1055.6" rx="5.5" ry="4.0" class="db"/>
<ellipse cx="374.1" cy="1009.4" rx="3.9" ry="2.9" class="ds"/>
<ellipse cx="373.5" cy="1008.0" rx="3.6" ry="2.6" class="db"/>
<ellipse cx="224.1" cy="1048.5" rx="4.6" ry="3.9" class="ds"/>
<ellipse cx="223.5" cy="1047.1" rx="4.3" ry="3.6" class="db"/>
<ellipse cx="399.8" cy="1058.1" rx="6.0" ry="4.0" class="ds"/>
<ellipse cx="399.2" cy="1056.7" rx="5.7" ry="3.7" class="db"/>
<ellipse cx="298.3" cy="1038.3" rx="4.3" ry="3.3" class="ds"/>
<ellipse cx="297.7" cy="1036.9" rx="4.0" ry="3.0" class="db"/>
<ellipse cx="184.0" cy="1021.9" rx="5.9" ry="4.5" class="ds"/>
<ellipse cx="183.4" cy="1020.5" rx="5.6" ry="4.2" class="db"/>
<ellipse cx="197.2" cy="1017.5" rx="4.8" ry="3.3" class="ds"/>
<ellipse cx="196.6" cy="1016.1" rx="4.5" ry="3.0" class="db"/>
<ellipse cx="197.6" cy="1014.7" rx="5.6" ry="4.3" class="ds"/>
<ellipse cx="197.0" cy="1013.3" rx="5.3" ry="4.0" class="db"/>
<ellipse cx="418.5" cy="1034.5" rx="4.1" ry="2.9" class="ds"/>
<ellipse cx="417.9" cy="1033.1" rx="3.8" ry="2.6" class="db"/>
<ellipse cx="362.2" cy="1026.2" rx="4.0" ry="2.9" class="ds"/>
<ellipse cx="361.6" cy="1024.8" rx="3.7" ry="2.6" class="db"/>
<ellipse cx="374.5" cy="1021.7" rx="4.3" ry="2.7" class="ds"/>
<ellipse cx="373.9" cy="1020.3" rx="4.0" ry="2.4" class="db"/>
<ellipse cx="363.3" cy="1008.9" rx="5.2" ry="3.9" class="ds"/>
<ellipse cx="362.7" cy="1007.5" rx="4.9" ry="3.6" class="db"/>
<ellipse cx="199.0" cy="1008.5" rx="3.8" ry="2.6" class="ds"/>
<ellipse cx="198.4" cy="1007.1" rx="3.5" ry="2.3" class="db"/>
<ellipse cx="258.5" cy="1058.3" rx="6.0" ry="4.6" class="ds"/>
<ellipse cx="257.9" cy="1056.9" rx="5.7" ry="4.3" class="db"/>
<ellipse cx="303.9" cy="1046.7" rx="4.6" ry="3.1" class="ds"/>
<ellipse cx="303.3" cy="1045.3" rx="4.3" ry="2.8" class="db"/>
<ellipse cx="325.6" cy="1018.4" rx="4.8" ry="3.1" class="ds"/>
<ellipse cx="325.0" cy="1017.0" rx="4.5" ry="2.8" class="db"/>
<ellipse cx="374.8" cy="1024.5" rx="5.7" ry="4.5" class="ds"/>
<ellipse cx="374.2" cy="1023.1" rx="5.4" ry="4.2" class="db"/>
<ellipse cx="327.8" cy="1057.1" rx="5.7" ry="3.8" class="ds"/>
<ellipse cx="327.2" cy="1055.7" rx="5.4" ry="3.5" class="db"/>
<ellipse cx="330.0" cy="1042.0" rx="5.7" ry="4.7" class="ds"/>
<ellipse cx="329.4" cy="1040.6" rx="5.4" ry="4.4" class="db"/>
<ellipse cx="192.0" cy="1023.4" rx="3.8" ry="3.3" class="ds"/>
<ellipse cx="191.4" cy="1022.0" rx="3.5" ry="3.0" class="db"/>
<ellipse cx="260.7" cy="1031.4" rx="4.9" ry="3.3" class="ds"/>
<ellipse cx="260.1" cy="1030.0" rx="4.6" ry="3.0" class="db"/>
<ellipse cx="196.4" cy="1024.0" rx="5.7" ry="3.9" class="ds"/>
<ellipse cx="195.8" cy="1022.6" rx="5.4" ry="3.6" class="db"/>
<ellipse cx="325.9" cy="1026.3" rx="5.9" ry="4.9" class="ds"/>
<ellipse cx="325.3" cy="1024.9" rx="5.6" ry="4.6" class="db"/>
<ellipse cx="177.9" cy="1023.6" rx="4.0" ry="3.2" class="ds"/>
<ellipse cx="177.3" cy="1022.2" rx="3.7" ry="2.9" class="db"/>
<ellipse cx="394.9" cy="1023.7" rx="5.9" ry="3.7" class="ds"/>
<ellipse cx="394.3" cy="1022.3" rx="5.6" ry="3.4" class="db"/>
<ellipse cx="256.7" cy="1046.2" rx="4.0" ry="2.6" class="ds"/>
<ellipse cx="256.1" cy="1044.8" rx="3.7" ry="2.3" class="db"/>
<ellipse cx="229.0" cy="1021.1" rx="4.8" ry="4.1" class="ds"/>
<ellipse cx="228.4" cy="1019.7" rx="4.5" ry="3.8" class="db"/>
<ellipse cx="389.6" cy="1046.7" rx="6.1" ry="4.4" class="ds"/>
<ellipse cx="389.0" cy="1045.3" rx="5.8" ry="4.1" class="db"/>
<ellipse cx="288.9" cy="1050.9" rx="6.2" ry="4.5" class="ds"/>
<ellipse cx="288.3" cy="1049.5" rx="5.9" ry="4.2" class="db"/>
<ellipse cx="367.3" cy="1007.7" rx="5.5" ry="4.4" class="ds"/>
<ellipse cx="366.7" cy="1006.3" rx="5.2" ry="4.1" class="db"/>
<ellipse cx="245.3" cy="1033.2" rx="5.1" ry="3.8" class="ds"/>
<ellipse cx="244.7" cy="1031.8" rx="4.8" ry="3.5" class="db"/>
<ellipse cx="208.5" cy="1048.9" rx="4.7" ry="3.5" class="ds"/>
<ellipse cx="207.9" cy="1047.5" rx="4.4" ry="3.2" class="db"/>
<ellipse cx="215.2" cy="1020.1" rx="5.1" ry="4.2" class="ds"/>
<ellipse cx="214.6" cy="1018.7" rx="4.8" ry="3.9" class="db"/>
<ellipse cx="181.7" cy="1024.7" rx="5.8" ry="4.8" class="ds"/>
<ellipse cx="181.1" cy="1023.3" rx="5.5" ry="4.5" class="db"/>
<ellipse cx="325.8" cy="1033.2" rx="5.6" ry="4.6" class="ds"/>
<ellipse cx="325.2" cy="1031.8" rx="5.3" ry="4.3" class="db"/>
<ellipse cx="439.9" cy="1009.3" rx="5.7" ry="4.1" class="ds"/>
<ellipse cx="439.3" cy="1007.9" rx="5.4" ry="3.8" class="db"/>
<ellipse cx="157.2" cy="1052.2" rx="6.2" ry="4.6" class="ds"/>
<ellipse cx="156.6" cy="1050.8" rx="5.9" ry="4.3" class="db"/>
<ellipse cx="190.7" cy="1053.5" rx="5.8" ry="3.8" class="ds"/>
<ellipse cx="190.1" cy="1052.1" rx="5.5" ry="3.5" class="db"/>
<ellipse cx="441.3" cy="1013.5" rx="4.7" ry="3.4" class="ds"/>
<ellipse cx="440.7" cy="1012.1" rx="4.4" ry="3.1" class="db"/>
<ellipse cx="162.8" cy="1032.1" rx="4.4" ry="3.4" class="ds"/>
<ellipse cx="162.2" cy="1030.7" rx="4.1" ry="3.1" class="db"/>
<ellipse cx="392.8" cy="1040.0" rx="6.1" ry="4.0" class="ds"/>
<ellipse cx="392.2" cy="1038.6" rx="5.8" ry="3.7" class="db"/>
<ellipse cx="371.1" cy="1014.7" rx="3.7" ry="2.4" class="ds"/>
<ellipse cx="370.5" cy="1013.3" rx="3.4" ry="2.1" class="db"/>
<ellipse cx="432.5" cy="1008.1" rx="4.4" ry="3.2" class="ds"/>
<ellipse cx="431.9" cy="1006.7" rx="4.1" ry="2.9" class="db"/>
<ellipse cx="328.8" cy="1048.1" rx="6.1" ry="4.0" class="ds"/>
<ellipse cx="328.2" cy="1046.7" rx="5.8" ry="3.7" class="db"/>
<ellipse cx="374.6" cy="1010.1" rx="6.1" ry="5.1" class="ds"/>
<ellipse cx="374.0" cy="1008.7" rx="5.8" ry="4.8" class="db"/>
<ellipse cx="363.7" cy="1045.0" rx="5.2" ry="3.2" class="ds"/>
<ellipse cx="363.1" cy="1043.6" rx="4.9" ry="2.9" class="db"/>
<ellipse cx="284.0" cy="1009.9" rx="4.1" ry="3.4" class="ds"/>
<ellipse cx="283.4" cy="1008.5" rx="3.8" ry="3.1" class="db"/>
<ellipse cx="141.8" cy="1007.5" rx="5.7" ry="3.9" class="ds"/>
<ellipse cx="141.2" cy="1006.1" rx="5.4" ry="3.6" class="db"/>
<ellipse cx="272.1" cy="1037.6" rx="3.8" ry="3.1" class="ds"/>
<ellipse cx="271.5" cy="1036.2" rx="3.5" ry="2.8" class="db"/>
<ellipse cx="261.7" cy="1023.8" rx="4.6" ry="3.1" class="ds"/>
<ellipse cx="261.1" cy="1022.4" rx="4.3" ry="2.8" class="db"/>
<ellipse cx="142.0" cy="1010.1" rx="4.1" ry="3.4" class="ds"/>
<ellipse cx="141.4" cy="1008.7" rx="3.8" ry="3.1" class="db"/>
<ellipse cx="437.5" cy="1051.4" rx="4.2" ry="3.4" class="ds"/>
<ellipse cx="436.9" cy="1050.0" rx="3.9" ry="3.1" class="db"/>
<ellipse cx="265.9" cy="1023.6" rx="5.6" ry="4.1" class="ds"/>
<ellipse cx="265.3" cy="1022.2" rx="5.3" ry="3.8" class="db"/>
<ellipse cx="357.8" cy="1012.0" rx="4.8" ry="3.0" class="ds"/>
<ellipse cx="357.2" cy="1010.6" rx="4.5" ry="2.7" class="db"/>
<ellipse cx="381.2" cy="1009.6" rx="4.2" ry="3.0" class="ds"/>
<ellipse cx="380.6" cy="1008.2" rx="3.9" ry="2.7" class="db"/>
<ellipse cx="127.7" cy="1007.9" rx="4.3" ry="3.5" class="ds"/>
<ellipse cx="127.1" cy="1006.5" rx="4.0" ry="3.2" class="db"/>
<ellipse cx="381.2" cy="1036.5" rx="6.5" ry="4.4" class="ds"/>
<ellipse cx="380.6" cy="1035.1" rx="6.2" ry="4.1" class="db"/>
<ellipse cx="268.1" cy="1056.2" rx="4.9" ry="3.9" class="ds"/>
<ellipse cx="267.5" cy="1054.8" rx="4.6" ry="3.6" class="db"/>
<ellipse cx="431.1" cy="1041.3" rx="4.6" ry="3.6" class="ds"/>
<ellipse cx="430.5" cy="1039.9" rx="4.3" ry="3.3" class="db"/>
<ellipse cx="423.4" cy="1012.9" rx="5.7" ry="4.5" class="ds"/>
<ellipse cx="422.8" cy="1011.5" rx="5.4" ry="4.2" class="db"/>
<ellipse cx="163.3" cy="1028.1" rx="5.4" ry="3.8" class="ds"/>
<ellipse cx="162.7" cy="1026.7" rx="5.1" ry="3.5" class="db"/>
<ellipse cx="172.4" cy="1028.7" rx="5.2" ry="4.3" class="ds"/>
<ellipse cx="171.8" cy="1027.3" rx="4.9" ry="4.0" class="db"/>
<ellipse cx="150.8" cy="1027.8" rx="4.1" ry="3.0" class="ds"/>
<ellipse cx="150.2" cy="1026.4" rx="3.8" ry="2.7" class="db"/>
<ellipse cx="348.8" cy="1007.4" rx="5.2" ry="3.4" class="ds"/>
<ellipse cx="348.2" cy="1006.0" rx="4.9" ry="3.1" class="db"/>
<ellipse cx="281.9" cy="1023.9" rx="5.8" ry="4.0" class="ds"/>
<ellipse cx="281.3" cy="1022.5" rx="5.5" ry="3.7" class="db"/>
<ellipse cx="203.7" cy="1011.3" rx="5.5" ry="3.6" class="ds"/>
<ellipse cx="203.1" cy="1009.9" rx="5.2" ry="3.3" class="db"/>
<ellipse cx="244.3" cy="1009.0" rx="5.9" ry="3.7" class="ds"/>
<ellipse cx="243.7" cy="1007.6" rx="5.6" ry="3.4" class="db"/>
<ellipse cx="333.2" cy="1007.5" rx="5.7" ry="4.3" class="ds"/>
<ellipse cx="332.6" cy="1006.1" rx="5.4" ry="4.0" class="db"/>
<ellipse cx="224.7" cy="1045.9" rx="6.4" ry="4.8" class="ds"/>
<ellipse cx="224.1" cy="1044.5" rx="6.1" ry="4.5" class="db"/>
<ellipse cx="233.8" cy="1044.8" rx="3.7" ry="2.9" class="ds"/>
<ellipse cx="233.2" cy="1043.4" rx="3.4" ry="2.6" class="db"/>
<ellipse cx="360.2" cy="1018.0" rx="6.3" ry="4.1" class="ds"/>
<ellipse cx="359.6" cy="1016.6" rx="6.0" ry="3.8" class="db"/>
<ellipse cx="222.6" cy="1027.9" rx="4.3" ry="3.1" class="ds"/>
<ellipse cx="222.0" cy="1026.5" rx="4.0" ry="2.8" class="db"/>
<ellipse cx="418.1" cy="1007.6" rx="4.5" ry="3.0" class="ds"/>
<ellipse cx="417.5" cy="1006.2" rx="4.2" ry="2.7" class="db"/>
<ellipse cx="370.1" cy="1007.5" rx="5.9" ry="4.9" class="ds"/>
<ellipse cx="369.5" cy="1006.1" rx="5.6" ry="4.6" class="db"/>
<ellipse cx="314.4" cy="1043.3" rx="6.3" ry="4.2" class="ds"/>
<ellipse cx="313.8" cy="1041.9" rx="6.0" ry="3.9" class="db"/>
<ellipse cx="150.7" cy="1017.7" rx="6.3" ry="4.8" class="ds"/>
<ellipse cx="150.1" cy="1016.3" rx="6.0" ry="4.5" class="db"/>
<ellipse cx="266.9" cy="1022.2" rx="3.8" ry="2.9" class="ds"/>
<ellipse cx="266.3" cy="1020.8" rx="3.5" ry="2.6" class="db"/>
<ellipse cx="163.1" cy="1007.6" rx="5.4" ry="4.4" class="ds"/>
<ellipse cx="162.5" cy="1006.2" rx="5.1" ry="4.1" class="db"/>
<ellipse cx="152.2" cy="1033.2" rx="5.5" ry="3.7" class="ds"/>
<ellipse cx="151.6" cy="1031.8" rx="5.2" ry="3.4" class="db"/>
<ellipse cx="297.7" cy="1042.8" rx="4.4" ry="3.1" class="ds"/>
<ellipse cx="297.1" cy="1041.4" rx="4.1" ry="2.8" class="db"/>
<ellipse cx="337.5" cy="1047.3" rx="6.3" ry="5.0" class="ds"/>
<ellipse cx="336.9" cy="1045.9" rx="6.0" ry="4.7" class="db"/>
<ellipse cx="273.2" cy="1034.6" rx="5.9" ry="4.1" class="ds"/>
<ellipse cx="272.6" cy="1033.2" rx="5.6" ry="3.8" class="db"/>
<ellipse cx="309.6" cy="1011.1" rx="5.1" ry="3.5" class="ds"/>
<ellipse cx="309.0" cy="1009.7" rx="4.8" ry="3.2" class="db"/>
<ellipse cx="135.2" cy="1027.9" rx="6.2" ry="4.8" class="ds"/>
<ellipse cx="134.6" cy="1026.5" rx="5.9" ry="4.5" class="db"/>
<ellipse cx="299.2" cy="1045.7" rx="5.5" ry="4.6" class="ds"/>
<ellipse cx="298.6" cy="1044.3" rx="5.2" ry="4.3" class="db"/>
<ellipse cx="246.9" cy="1009.2" rx="5.6" ry="4.1" class="ds"/>
<ellipse cx="246.3" cy="1007.8" rx="5.3" ry="3.8" class="db"/>
<ellipse cx="266.6" cy="1038.1" rx="4.1" ry="3.3" class="ds"/>
<ellipse cx="266.0" cy="1036.7" rx="3.8" ry="3.0" class="db"/>
<ellipse cx="382.4" cy="1042.0" rx="5.6" ry="3.7" class="ds"/>
<ellipse cx="381.8" cy="1040.6" rx="5.3" ry="3.4" class="db"/>
<ellipse cx="214.5" cy="1014.7" rx="5.3" ry="3.8" class="ds"/>
<ellipse cx="213.9" cy="1013.3" rx="5.0" ry="3.5" class="db"/>
<ellipse cx="408.1" cy="1058.8" rx="3.7" ry="2.9" class="ds"/>
<ellipse cx="407.5" cy="1057.4" rx="3.4" ry="2.6" class="db"/>
<ellipse cx="262.6" cy="1039.2" rx="6.2" ry="4.2" class="ds"/>
<ellipse cx="262.0" cy="1037.8" rx="5.9" ry="3.9" class="db"/>
<ellipse cx="175.7" cy="1021.4" rx="4.7" ry="3.8" class="ds"/>
<ellipse cx="175.1" cy="1020.0" rx="4.4" ry="3.5" class="db"/>
<ellipse cx="401.5" cy="1025.8" rx="5.7" ry="4.4" class="ds"/>
<ellipse cx="400.9" cy="1024.4" rx="5.4" ry="4.1" class="db"/>
<ellipse cx="168.8" cy="1013.8" rx="6.4" ry="4.9" class="ds"/>
<ellipse cx="168.2" cy="1012.4" rx="6.1" ry="4.6" class="db"/>
<ellipse cx="238.4" cy="1009.5" rx="4.1" ry="2.9" class="ds"/>
<ellipse cx="237.8" cy="1008.1" rx="3.8" ry="2.6" class="db"/>
<ellipse cx="131.6" cy="1024.3" rx="6.3" ry="4.6" class="ds"/>
<ellipse cx="131.0" cy="1022.9" rx="6.0" ry="4.3" class="db"/>
<ellipse cx="246.5" cy="1013.7" rx="4.6" ry="3.1" class="ds"/>
<ellipse cx="245.9" cy="1012.3" rx="4.3" ry="2.8" class="db"/>
<ellipse cx="415.8" cy="1017.8" rx="6.2" ry="4.6" class="ds"/>
<ellipse cx="415.2" cy="1016.4" rx="5.9" ry="4.3" class="db"/>
<ellipse cx="278.4" cy="1019.0" rx="6.2" ry="4.7" class="ds"/>
<ellipse cx="277.8" cy="1017.6" rx="5.9" ry="4.4" class="db"/>
<ellipse cx="222.8" cy="1019.1" rx="5.3" ry="3.8" class="ds"/>
<ellipse cx="222.2" cy="1017.7" rx="5.0" ry="3.5" class="db"/>
<ellipse cx="222.0" cy="1058.9" rx="5.8" ry="4.8" class="ds"/>
<ellipse cx="221.4" cy="1057.5" rx="5.5" ry="4.5" class="db"/>
<ellipse cx="170.5" cy="1026.6" rx="5.7" ry="4.2" class="ds"/>
<ellipse cx="169.9" cy="1025.2" rx="5.4" ry="3.9" class="db"/>
<ellipse cx="326.1" cy="1032.4" rx="4.2" ry="2.7" class="ds"/>
<ellipse cx="325.5" cy="1031.0" rx="3.9" ry="2.4" class="db"/>
<ellipse cx="136.8" cy="1015.4" rx="3.8" ry="2.5" class="ds"/>
<ellipse cx="136.2" cy="1014.0" rx="3.5" ry="2.2" class="db"/>
<ellipse cx="187.5" cy="1037.7" rx="4.9" ry="4.0" class="ds"/>
<ellipse cx="186.9" cy="1036.3" rx="4.6" ry="3.7" class="db"/>
<ellipse cx="401.9" cy="1020.6" rx="4.9" ry="4.1" class="ds"/>
<ellipse cx="401.3" cy="1019.2" rx="4.6" ry="3.8" class="db"/>
<ellipse cx="261.4" cy="1049.1" rx="5.7" ry="4.4" class="ds"/>
<ellipse cx="260.8" cy="1047.7" rx="5.4" ry="4.1" class="db"/>
<ellipse cx="407.4" cy="1008.9" rx="3.7" ry="2.7" class="ds"/>
<ellipse cx="406.8" cy="1007.5" rx="3.4" ry="2.4" class="db"/>
<ellipse cx="202.1" cy="1023.8" rx="5.1" ry="4.0" class="ds"/>
<ellipse cx="201.5" cy="1022.4" rx="4.8" ry="3.7" class="db"/>
<ellipse cx="345.8" cy="1048.7" rx="4.9" ry="3.2" class="ds"/>
<ellipse cx="345.2" cy="1047.3" rx="4.6" ry="2.9" class="db"/>
<ellipse cx="441.1" cy="1010.4" rx="5.4" ry="3.9" class="ds"/>
<ellipse cx="440.5" cy="1009.0" rx="5.1" ry="3.6" class="db"/>
<ellipse cx="136.0" cy="1023.4" rx="4.7" ry="3.3" class="ds"/>
<ellipse cx="135.4" cy="1022.0" rx="4.4" ry="3.0" class="db"/>
<ellipse cx="125.8" cy="1014.0" rx="6.4" ry="4.7" class="ds"/>
<ellipse cx="125.2" cy="1012.6" rx="6.1" ry="4.4" class="db"/>
<ellipse cx="321.6" cy="1033.9" rx="6.3" ry="5.2" class="ds"/>
<ellipse cx="321.0" cy="1032.5" rx="6.0" ry="4.9" class="db"/>
<ellipse cx="209.5" cy="1015.7" rx="5.7" ry="4.0" class="ds"/>
<ellipse cx="208.9" cy="1014.3" rx="5.4" ry="3.7" class="db"/>
<ellipse cx="138.1" cy="1011.3" rx="4.1" ry="2.9" class="ds"/>
<ellipse cx="137.5" cy="1009.9" rx="3.8" ry="2.6" class="db"/>
<ellipse cx="187.0" cy="1014.5" rx="3.9" ry="2.8" class="ds"/>
<ellipse cx="186.4" cy="1013.1" rx="3.6" ry="2.5" class="db"/>
<ellipse cx="316.1" cy="1033.3" rx="5.2" ry="4.1" class="ds"/>
<ellipse cx="315.5" cy="1031.9" rx="4.9" ry="3.8" class="db"/>
<ellipse cx="391.9" cy="1007.4" rx="6.3" ry="4.6" class="ds"/>
<ellipse cx="391.3" cy="1006.0" rx="6.0" ry="4.3" class="db"/>
<ellipse cx="367.2" cy="1022.5" rx="3.8" ry="2.5" class="ds"/>
<ellipse cx="366.6" cy="1021.1" rx="3.5" ry="2.2" class="db"/>
<ellipse cx="127.7" cy="1007.8" rx="5.7" ry="4.3" class="ds"/>
<ellipse cx="127.1" cy="1006.4" rx="5.4" ry="4.0" class="db"/>
<ellipse cx="147.0" cy="1056.0" rx="5.8" ry="3.6" class="ds"/>
<ellipse cx="146.4" cy="1054.6" rx="5.5" ry="3.3" class="db"/>
<ellipse cx="229.1" cy="1012.4" rx="5.4" ry="4.6" class="ds"/>
<ellipse cx="228.5" cy="1011.0" rx="5.1" ry="4.3" class="db"/>
<ellipse cx="380.7" cy="1053.9" rx="3.9" ry="3.3" class="ds"/>
<ellipse cx="380.1" cy="1052.5" rx="3.6" ry="3.0" class="db"/>
<ellipse cx="227.7" cy="1007.5" rx="4.2" ry="2.8" class="ds"/>
<ellipse cx="227.1" cy="1006.1" rx="3.9" ry="2.5" class="db"/>
<ellipse cx="263.6" cy="1056.7" rx="5.8" ry="3.7" class="ds"/>
<ellipse cx="263.0" cy="1055.3" rx="5.5" ry="3.4" class="db"/>
<ellipse cx="214.0" cy="1044.9" rx="5.9" ry="4.9" class="ds"/>
<ellipse cx="213.4" cy="1043.5" rx="5.6" ry="4.6" class="db"/>
<ellipse cx="357.4" cy="1027.9" rx="6.1" ry="4.9" class="ds"/>
<ellipse cx="356.8" cy="1026.5" rx="5.8" ry="4.6" class="db"/>
<ellipse cx="404.4" cy="1026.3" rx="3.9" ry="3.1" class="ds"/>
<ellipse cx="403.8" cy="1024.9" rx="3.6" ry="2.8" class="db"/>
<ellipse cx="426.4" cy="1040.0" rx="6.2" ry="5.2" class="ds"/>
<ellipse cx="425.8" cy="1038.6" rx="5.9" ry="4.9" class="db"/>
<ellipse cx="419.1" cy="1028.5" rx="4.9" ry="3.6" class="ds"/>
<ellipse cx="418.5" cy="1027.1" rx="4.6" ry="3.3" class="db"/>
<ellipse cx="256.9" cy="1038.3" rx="4.4" ry="3.2" class="ds"/>
<ellipse cx="256.3" cy="1036.9" rx="4.1" ry="2.9" class="db"/>
<ellipse cx="433.2" cy="1038.9" rx="5.3" ry="3.7" class="ds"/>
<ellipse cx="432.6" cy="1037.5" rx="5.0" ry="3.4" class="db"/>
<ellipse cx="418.6" cy="1007.5" rx="4.8" ry="3.3" class="ds"/>
<ellipse cx="418.0" cy="1006.1" rx="4.5" ry="3.0" class="db"/>
<ellipse cx="337.0" cy="1007.4" rx="6.2" ry="4.5" class="ds"/>
<ellipse cx="336.4" cy="1006.0" rx="5.9" ry="4.2" class="db"/>
<ellipse cx="156.9" cy="1008.2" rx="4.4" ry="2.8" class="ds"/>
<ellipse cx="156.3" cy="1006.8" rx="4.1" ry="2.5" class="db"/>
<ellipse cx="169.3" cy="1021.0" rx="5.5" ry="4.0" class="ds"/>
<ellipse cx="168.7" cy="1019.6" rx="5.2" ry="3.7" class="db"/>
<ellipse cx="269.3" cy="1022.4" rx="5.3" ry="4.1" class="ds"/>
<ellipse cx="268.7" cy="1021.0" rx="5.0" ry="3.8" class="db"/>
<ellipse cx="341.4" cy="1047.8" rx="6.4" ry="4.9" class="ds"/>
<ellipse cx="340.8" cy="1046.4" rx="6.1" ry="4.6" class="db"/>
<ellipse cx="125.8" cy="1020.9" rx="6.5" ry="5.5" class="ds"/>
<ellipse cx="125.2" cy="1019.5" rx="6.2" ry="5.2" class="db"/>
<ellipse cx="187.0" cy="1011.5" rx="4.1" ry="3.0" class="ds"/>
<ellipse cx="186.4" cy="1010.1" rx="3.8" ry="2.7" class="db"/>
<ellipse cx="191.7" cy="1045.0" rx="5.2" ry="3.6" class="ds"/>
<ellipse cx="191.1" cy="1043.6" rx="4.9" ry="3.3" class="db"/>
<ellipse cx="142.6" cy="1032.5" rx="6.2" ry="4.3" class="ds"/>
<ellipse cx="142.0" cy="1031.1" rx="5.9" ry="4.0" class="db"/>
<ellipse cx="217.2" cy="1017.3" rx="5.6" ry="3.8" class="ds"/>
<ellipse cx="216.6" cy="1015.9" rx="5.3" ry="3.5" class="db"/>
<ellipse cx="284.0" cy="1024.0" rx="4.2" ry="2.8" class="ds"/>
<ellipse cx="283.4" cy="1022.6" rx="3.9" ry="2.5" class="db"/>
<ellipse cx="185.9" cy="1009.9" rx="5.5" ry="4.6" class="ds"/>
<ellipse cx="185.3" cy="1008.5" rx="5.2" ry="4.3" class="db"/>
<ellipse cx="198.0" cy="1027.5" rx="6.4" ry="4.5" class="ds"/>
<ellipse cx="197.4" cy="1026.1" rx="6.1" ry="4.2" class="db"/>
<ellipse cx="127.3" cy="1041.3" rx="6.1" ry="4.6" class="ds"/>
<ellipse cx="126.7" cy="1039.9" rx="5.8" ry="4.3" class="db"/>
<ellipse cx="314.6" cy="1042.5" rx="5.1" ry="3.6" class="ds"/>
<ellipse cx="314.0" cy="1041.1" rx="4.8" ry="3.3" class="db"/>
<ellipse cx="303.4" cy="1041.7" rx="3.8" ry="3.0" class="ds"/>
<ellipse cx="302.8" cy="1040.3" rx="3.5" ry="2.7" class="db"/>
<ellipse cx="329.7" cy="1037.8" rx="6.3" ry="4.9" class="ds"/>
<ellipse cx="329.1" cy="1036.4" rx="6.0" ry="4.6" class="db"/>
<ellipse cx="342.0" cy="1035.0" rx="5.6" ry="4.4" class="ds"/>
<ellipse cx="341.4" cy="1033.6" rx="5.3" ry="4.1" class="db"/>
<ellipse cx="238.8" cy="1055.5" rx="4.2" ry="2.7" class="ds"/>
<ellipse cx="238.2" cy="1054.1" rx="3.9" ry="2.4" class="db"/>
<ellipse cx="299.5" cy="1048.0" rx="4.0" ry="3.4" class="ds"/>
<ellipse cx="298.9" cy="1046.6" rx="3.7" ry="3.1" class="db"/>
<ellipse cx="336.0" cy="1010.3" rx="6.5" ry="4.7" class="ds"/>
<ellipse cx="335.4" cy="1008.9" rx="6.2" ry="4.4" class="db"/>
<ellipse cx="323.1" cy="1007.8" rx="5.5" ry="4.5" class="ds"/>
<ellipse cx="322.5" cy="1006.4" rx="5.2" ry="4.2" class="db"/>
<ellipse cx="205.8" cy="1014.0" rx="4.2" ry="3.3" class="ds"/>
<ellipse cx="205.2" cy="1012.6" rx="3.9" ry="3.0" class="db"/>
<ellipse cx="270.6" cy="1036.5" rx="6.2" ry="5.1" class="ds"/>
<ellipse cx="270.0" cy="1035.1" rx="5.9" ry="4.8" class="db"/>
<ellipse cx="409.2" cy="1011.0" rx="6.0" ry="3.8" class="ds"/>
<ellipse cx="408.6" cy="1009.6" rx="5.7" ry="3.5" class="db"/>
<ellipse cx="158.3" cy="1028.2" rx="4.0" ry="3.1" class="ds"/>
<ellipse cx="157.7" cy="1026.8" rx="3.7" ry="2.8" class="db"/>
<ellipse cx="338.8" cy="1024.3" rx="4.6" ry="3.0" class="ds"/>
<ellipse cx="338.2" cy="1022.9" rx="4.3" ry="2.7" class="db"/>
<ellipse cx="186.8" cy="1016.3" rx="6.3" ry="5.2" class="ds"/>
<ellipse cx="186.2" cy="1014.9" rx="6.0" ry="4.9" class="db"/>
<ellipse cx="327.7" cy="1047.0" rx="6.0" ry="4.9" class="ds"/>
<ellipse cx="327.1" cy="1045.6" rx="5.7" ry="4.6" class="db"/>
<ellipse cx="257.3" cy="1040.7" rx="4.8" ry="3.6" class="ds"/>
<ellipse cx="256.7" cy="1039.3" rx="4.5" ry="3.3" class="db"/>
<ellipse cx="175.3" cy="1035.1" rx="3.9" ry="2.6" class="ds"/>
<ellipse cx="174.7" cy="1033.7" rx="3.6" ry="2.3" class="db"/>
<ellipse cx="409.8" cy="1057.2" rx="5.9" ry="4.1" class="ds"/>
<ellipse cx="409.2" cy="1055.8" rx="5.6" ry="3.8" class="db"/>
<ellipse cx="289.3" cy="1008.4" rx="4.1" ry="3.2" class="ds"/>
<ellipse cx="288.7" cy="1007.0" rx="3.8" ry="2.9" class="db"/>
<ellipse cx="308.0" cy="1053.1" rx="3.9" ry="2.6" class="ds"/>
<ellipse cx="307.4" cy="1051.7" rx="3.6" ry="2.3" class="db"/>
<ellipse cx="162.5" cy="1017.9" rx="5.3" ry="3.6" class="ds"/>
<ellipse cx="161.9" cy="1016.5" rx="5.0" ry="3.3" class="db"/>
<ellipse cx="178.1" cy="1044.5" rx="4.3" ry="3.4" class="ds"/>
<ellipse cx="177.5" cy="1043.1" rx="4.0" ry="3.1" class="db"/>
<ellipse cx="285.7" cy="1008.3" rx="6.2" ry="3.9" class="ds"/>
<ellipse cx="285.1" cy="1006.9" rx="5.9" ry="3.6" class="db"/>
<ellipse cx="131.4" cy="1018.6" rx="4.9" ry="3.8" class="ds"/>
<ellipse cx="130.8" cy="1017.2" rx="4.6" ry="3.5" class="db"/>
<ellipse cx="441.6" cy="1016.9" rx="4.3" ry="3.4" class="ds"/>
<ellipse cx="441.0" cy="1015.5" rx="4.0" ry="3.1" class="db"/>
<ellipse cx="318.1" cy="1055.6" rx="6.2" ry="4.3" class="ds"/>
<ellipse cx="317.5" cy="1054.2" rx="5.9" ry="4.0" class="db"/>
<ellipse cx="408.3" cy="1007.9" rx="5.1" ry="4.2" class="ds"/>
<ellipse cx="407.7" cy="1006.5" rx="4.8" ry="3.9" class="db"/>
<ellipse cx="232.2" cy="1023.8" rx="6.1" ry="3.8" class="ds"/>
<ellipse cx="231.6" cy="1022.4" rx="5.8" ry="3.5" class="db"/>
<ellipse cx="350.0" cy="1055.8" rx="5.5" ry="3.8" class="ds"/>
<ellipse cx="349.4" cy="1054.4" rx="5.2" ry="3.5" class="db"/>
<ellipse cx="357.2" cy="1009.4" rx="5.9" ry="4.5" class="ds"/>
<ellipse cx="356.6" cy="1008.0" rx="5.6" ry="4.2" class="db"/>
<ellipse cx="331.3" cy="1031.5" rx="4.1" ry="2.7" class="ds"/>
<ellipse cx="330.7" cy="1030.1" rx="3.8" ry="2.4" class="db"/>
<ellipse cx="226.3" cy="1012.0" rx="5.4" ry="3.5" class="ds"/>
<ellipse cx="225.7" cy="1010.6" rx="5.1" ry="3.2" class="db"/>
<ellipse cx="289.8" cy="1042.8" rx="5.1" ry="3.2" class="ds"/>
<ellipse cx="289.2" cy="1041.4" rx="4.8" ry="2.9" class="db"/>
<ellipse cx="302.9" cy="1052.5" rx="5.8" ry="4.8" class="ds"/>
<ellipse cx="302.3" cy="1051.1" rx="5.5" ry="4.5" class="db"/>
<ellipse cx="362.7" cy="1048.7" rx="5.6" ry="4.8" class="ds"/>
<ellipse cx="362.1" cy="1047.3" rx="5.3" ry="4.5" class="db"/>
<ellipse cx="178.2" cy="1023.4" rx="6.3" ry="5.0" class="ds"/>
<ellipse cx="177.6" cy="1022.0" rx="6.0" ry="4.7" class="db"/>
<ellipse cx="257.8" cy="1008.4" rx="4.9" ry="3.1" class="ds"/>
<ellipse cx="257.2" cy="1007.0" rx="4.6" ry="2.8" class="db"/>
<ellipse cx="271.1" cy="1021.6" rx="5.5" ry="4.2" class="ds"/>
<ellipse cx="270.5" cy="1020.2" rx="5.2" ry="3.9" class="db"/>
<ellipse cx="305.8" cy="1043.4" rx="3.8" ry="2.8" class="ds"/>
<ellipse cx="305.2" cy="1042.0" rx="3.5" ry="2.5" class="db"/>
<ellipse cx="361.7" cy="1046.2" rx="6.4" ry="4.2" class="ds"/>
<ellipse cx="361.1" cy="1044.8" rx="6.1" ry="3.9" class="db"/>
<ellipse cx="406.1" cy="1015.8" rx="5.1" ry="3.4" class="ds"/>
<ellipse cx="405.5" cy="1014.4" rx="4.8" ry="3.1" class="db"/>
<ellipse cx="413.8" cy="1039.3" rx="5.9" ry="4.9" class="ds"/>
<ellipse cx="413.2" cy="1037.9" rx="5.6" ry="4.6" class="db"/>
<ellipse cx="392.3" cy="1042.2" rx="5.0" ry="3.7" class="ds"/>
<ellipse cx="391.7" cy="1040.8" rx="4.7" ry="3.4" class="db"/>
<ellipse cx="265.0" cy="1047.0" rx="3.8" ry="3.2" class="ds"/>
<ellipse cx="264.4" cy="1045.6" rx="3.5" ry="2.9" class="db"/>
<ellipse cx="285.7" cy="1014.9" rx="3.8" ry="2.9" class="ds"/>
<ellipse cx="285.1" cy="1013.5" rx="3.5" ry="2.6" class="db"/>
<ellipse cx="254.4" cy="1046.3" rx="5.0" ry="3.5" class="ds"/>
<ellipse cx="253.8" cy="1044.9" rx="4.7" ry="3.2" class="db"/>
<ellipse cx="131.2" cy="1044.5" rx="5.1" ry="3.5" class="ds"/>
<ellipse cx="130.6" cy="1043.1" rx="4.8" ry="3.2" class="db"/>
<ellipse cx="292.9" cy="1012.3" rx="6.4" ry="4.6" class="ds"/>
<ellipse cx="292.3" cy="1010.9" rx="6.1" ry="4.3" class="db"/>
<ellipse cx="436.5" cy="1020.3" rx="5.0" ry="4.1" class="ds"/>
<ellipse cx="435.9" cy="1018.9" rx="4.7" ry="3.8" class="db"/>
<ellipse cx="204.9" cy="1007.8" rx="3.9" ry="2.6" class="ds"/>
<ellipse cx="204.3" cy="1006.4" rx="3.6" ry="2.3" class="db"/>
<ellipse cx="244.3" cy="1026.3" rx="4.5" ry="2.9" class="ds"/>
<ellipse cx="243.7" cy="1024.9" rx="4.2" ry="2.6" class="db"/>
<ellipse cx="336.4" cy="1036.0" rx="5.5" ry="3.5" class="ds"/>
<ellipse cx="335.8" cy="1034.6" rx="5.2" ry="3.2" class="db"/>
<ellipse cx="401.6" cy="1012.4" rx="6.1" ry="5.2" class="ds"/>
<ellipse cx="401.0" cy="1011.0" rx="5.8" ry="4.9" class="db"/>
<ellipse cx="414.5" cy="1007.8" rx="5.8" ry="4.9" class="ds"/>
<ellipse cx="413.9" cy="1006.4" rx="5.5" ry="4.6" class="db"/>
<ellipse cx="267.2" cy="1007.5" rx="5.2" ry="3.3" class="ds"/>
<ellipse cx="266.6" cy="1006.1" rx="4.9" ry="3.0" class="db"/>
<ellipse cx="185.2" cy="1011.1" rx="5.6" ry="3.8" class="ds"/>
<ellipse cx="184.6" cy="1009.7" rx="5.3" ry="3.5" class="db"/>
<ellipse cx="216.6" cy="1018.4" rx="5.6" ry="4.2" class="ds"/>
<ellipse cx="216.0" cy="1017.0" rx="5.3" ry="3.9" class="db"/>
<ellipse cx="345.6" cy="1013.8" rx="5.6" ry="3.6" class="ds"/>
<ellipse cx="345.0" cy="1012.4" rx="5.3" ry="3.3" class="db"/>
</g>
<path d="M443,1003.5 L494,1003 L494,1048 C478,1049 468,1053 462,1062 C456,1072 453,1088 452,1099 L449,1099 C449,1075 446,1040 443,1003.5 Z" fill="url(#bolG)"/>
<rect x="468" y="1003" width="26" height="45" fill="url(#ferrule)"/>
<path d="M447,1005 L468,1005 C480,1020 485,1035 481,1048 C468,1050 460,1056 456,1068 L450,1085 Z" fill="#f4f4f4"/>
<rect x="494" y="1003" width="7" height="45" fill="#f0eeee"/>
<rect x="494" y="1003" width="1.8" height="45" fill="#b3322c"/>
<rect x="499.2" y="1003" width="1.8" height="45" fill="#b3322c"/>
<clipPath id="cw2"><path d="M501,1003 L702,1000.5 L702,1051 L501,1048 Z"/></clipPath>
<path d="M501,1003 L702,1000.5 L702,1051 L501,1048 Z" fill="url(#woodG)"/>
<g clip-path="url(#cw2)">
<line x1="501" y1="1001.6" x2="702" y2="1001.5" stroke="#a57c5a" stroke-width="0.5" opacity="0.55"/>
<line x1="501" y1="1003.4" x2="702" y2="1004.3" stroke="#a57c5a" stroke-width="0.8" opacity="0.55"/>
<line x1="501" y1="1004.8" x2="702" y2="1004.8" stroke="#704b34" stroke-width="0.5" opacity="0.55"/>
<line x1="501" y1="1008.0" x2="702" y2="1006.7" stroke="#b48a66" stroke-width="0.9" opacity="0.55"/>
<line x1="501" y1="1009.4" x2="702" y2="1009.2" stroke="#a57c5a" stroke-width="0.9" opacity="0.55"/>
<line x1="501" y1="1010.8" x2="702" y2="1011.4" stroke="#6a4630" stroke-width="0.8" opacity="0.55"/>
<line x1="501" y1="1012.5" x2="702" y2="1013.9" stroke="#6a4630" stroke-width="0.8" opacity="0.55"/>
<line x1="501" y1="1014.3" x2="702" y2="1013.5" stroke="#5a3a28" stroke-width="0.6" opacity="0.55"/>
<line x1="501" y1="1017.7" x2="702" y2="1017.3" stroke="#704b34" stroke-width="0.9" opacity="0.55"/>
<line x1="501" y1="1018.7" x2="702" y2="1018.5" stroke="#704b34" stroke-width="0.7" opacity="0.55"/>
<line x1="501" y1="1021.1" x2="702" y2="1022.2" stroke="#b48a66" stroke-width="0.6" opacity="0.55"/>
<line x1="501" y1="1022.4" x2="702" y2="1021.6" stroke="#a57c5a" stroke-width="0.5" opacity="0.55"/>
<line x1="501" y1="1024.5" x2="702" y2="1024.9" stroke="#704b34" stroke-width="0.8" opacity="0.55"/>
<line x1="501" y1="1027.3" x2="702" y2="1026.9" stroke="#6a4630" stroke-width="1.0" opacity="0.55"/>
<line x1="501" y1="1029.3" x2="702" y2="1028.2" stroke="#6a4630" stroke-width="0.9" opacity="0.55"/>
<line x1="501" y1="1030.0" x2="702" y2="1031.4" stroke="#6a4630" stroke-width="0.6" opacity="0.55"/>
<line x1="501" y1="1032.3" x2="702" y2="1032.1" stroke="#a57c5a" stroke-width="0.8" opacity="0.55"/>
<line x1="501" y1="1033.9" x2="702" y2="1033.0" stroke="#704b34" stroke-width="0.6" opacity="0.55"/>
<line x1="501" y1="1036.4" x2="702" y2="1036.8" stroke="#6a4630" stroke-width="1.0" opacity="0.55"/>
<line x1="501" y1="1037.9" x2="702" y2="1037.8" stroke="#6a4630" stroke-width="0.7" opacity="0.55"/>
<line x1="501" y1="1040.2" x2="702" y2="1040.3" stroke="#5a3a28" stroke-width="0.5" opacity="0.55"/>
<line x1="501" y1="1042.9" x2="702" y2="1041.6" stroke="#6a4630" stroke-width="0.7" opacity="0.55"/>
<line x1="501" y1="1044.3" x2="702" y2="1045.6" stroke="#a57c5a" stroke-width="0.7" opacity="0.55"/>
<line x1="501" y1="1046.8" x2="702" y2="1048.3" stroke="#704b34" stroke-width="0.6" opacity="0.55"/>
<line x1="501" y1="1048.1" x2="702" y2="1046.7" stroke="#a57c5a" stroke-width="0.7" opacity="0.55"/>
<line x1="501" y1="1050.0" x2="702" y2="1048.9" stroke="#a57c5a" stroke-width="0.8" opacity="0.55"/>
<path d="M685.7,1029.8 C685.7,1013.0 653.5,1011.1 639.7,1011.1 C568.3,1011.1 497.0,1018.6 497.0,1029.8 C497.0,1041.0 568.3,1048.5 639.7,1048.5 C653.5,1048.5 685.7,1046.6 685.7,1029.8 Z" fill="#8a6042" stroke="#4a2d1d" stroke-width="1.2" opacity="0.95"/>
<path d="M685.7,1029.8 C685.7,1013.0 653.5,1011.1 639.7,1011.1 C568.3,1011.1 497.0,1018.6 497.0,1029.8 C497.0,1041.0 568.3,1048.5 639.7,1048.5 C653.5,1048.5 685.7,1046.6 685.7,1029.8 Z" fill="none" stroke="#c79f7c" stroke-width="0.9" opacity="0.5" transform="translate(3,0)"/>
<path d="M681.2,1029.8 C681.2,1014.8 652.1,1013.1 639.7,1013.1 C576.4,1013.1 513.1,1019.8 513.1,1029.8 C513.1,1039.8 576.4,1046.5 639.7,1046.5 C652.1,1046.5 681.2,1044.8 681.2,1029.8 Z" fill="#a67b58" stroke="#4a2d1d" stroke-width="1.2" opacity="0.95"/>
<path d="M681.2,1029.8 C681.2,1014.8 652.1,1013.1 639.7,1013.1 C576.4,1013.1 513.1,1019.8 513.1,1029.8 C513.1,1039.8 576.4,1046.5 639.7,1046.5 C652.1,1046.5 681.2,1044.8 681.2,1029.8 Z" fill="none" stroke="#c79f7c" stroke-width="0.9" opacity="0.5" transform="translate(3,0)"/>
<path d="M676.7,1029.8 C676.7,1016.6 650.8,1015.1 639.7,1015.1 C584.4,1015.1 529.2,1021.0 529.2,1029.8 C529.2,1038.6 584.4,1044.4 639.7,1044.4 C650.8,1044.4 676.7,1043.0 676.7,1029.8 Z" fill="#8a6042" stroke="#4a2d1d" stroke-width="1.2" opacity="0.95"/>
<path d="M676.7,1029.8 C676.7,1016.6 650.8,1015.1 639.7,1015.1 C584.4,1015.1 529.2,1021.0 529.2,1029.8 C529.2,1038.6 584.4,1044.4 639.7,1044.4 C650.8,1044.4 676.7,1043.0 676.7,1029.8 Z" fill="none" stroke="#c79f7c" stroke-width="0.9" opacity="0.5" transform="translate(3,0)"/>
<path d="M672.2,1029.8 C672.2,1018.4 649.4,1017.2 639.7,1017.2 C592.5,1017.2 545.3,1022.2 545.3,1029.8 C545.3,1037.4 592.5,1042.4 639.7,1042.4 C649.4,1042.4 672.2,1041.2 672.2,1029.8 Z" fill="#a67b58" stroke="#4a2d1d" stroke-width="1.2" opacity="0.95"/>
<path d="M672.2,1029.8 C672.2,1018.4 649.4,1017.2 639.7,1017.2 C592.5,1017.2 545.3,1022.2 545.3,1029.8 C545.3,1037.4 592.5,1042.4 639.7,1042.4 C649.4,1042.4 672.2,1041.2 672.2,1029.8 Z" fill="none" stroke="#c79f7c" stroke-width="0.9" opacity="0.5" transform="translate(3,0)"/>
<path d="M667.7,1029.8 C667.7,1020.2 648.1,1019.2 639.7,1019.2 C600.5,1019.2 561.3,1023.4 561.3,1029.8 C561.3,1036.2 600.5,1040.4 639.7,1040.4 C648.1,1040.4 667.7,1039.3 667.7,1029.8 Z" fill="#8a6042" stroke="#4a2d1d" stroke-width="1.2" opacity="0.95"/>
<path d="M667.7,1029.8 C667.7,1020.2 648.1,1019.2 639.7,1019.2 C600.5,1019.2 561.3,1023.4 561.3,1029.8 C561.3,1036.2 600.5,1040.4 639.7,1040.4 C648.1,1040.4 667.7,1039.3 667.7,1029.8 Z" fill="none" stroke="#c79f7c" stroke-width="0.9" opacity="0.5" transform="translate(3,0)"/>
<path d="M663.2,1029.8 C663.2,1022.1 646.7,1021.2 639.7,1021.2 C608.6,1021.2 577.4,1024.6 577.4,1029.8 C577.4,1034.9 608.6,1038.4 639.7,1038.4 C646.7,1038.4 663.2,1037.5 663.2,1029.8 Z" fill="#a67b58" stroke="#4a2d1d" stroke-width="1.2" opacity="0.95"/>
<path d="M663.2,1029.8 C663.2,1022.1 646.7,1021.2 639.7,1021.2 C608.6,1021.2 577.4,1024.6 577.4,1029.8 C577.4,1034.9 608.6,1038.4 639.7,1038.4 C646.7,1038.4 663.2,1037.5 663.2,1029.8 Z" fill="none" stroke="#c79f7c" stroke-width="0.9" opacity="0.5" transform="translate(3,0)"/>
<path d="M658.7,1029.8 C658.7,1023.9 645.4,1023.2 639.7,1023.2 C616.6,1023.2 593.5,1025.9 593.5,1029.8 C593.5,1033.7 616.6,1036.4 639.7,1036.4 C645.4,1036.4 658.7,1035.7 658.7,1029.8 Z" fill="#8a6042" stroke="#4a2d1d" stroke-width="1.2" opacity="0.95"/>
<path d="M658.7,1029.8 C658.7,1023.9 645.4,1023.2 639.7,1023.2 C616.6,1023.2 593.5,1025.9 593.5,1029.8 C593.5,1033.7 616.6,1036.4 639.7,1036.4 C645.4,1036.4 658.7,1035.7 658.7,1029.8 Z" fill="none" stroke="#c79f7c" stroke-width="0.9" opacity="0.5" transform="translate(3,0)"/>
<path d="M654.2,1029.8 C654.2,1025.7 644.0,1025.2 639.7,1025.2 C624.6,1025.2 609.6,1027.1 609.6,1029.8 C609.6,1032.5 624.6,1034.3 639.7,1034.3 C644.0,1034.3 654.2,1033.9 654.2,1029.8 Z" fill="#a67b58" stroke="#4a2d1d" stroke-width="1.2" opacity="0.95"/>
<path d="M654.2,1029.8 C654.2,1025.7 644.0,1025.2 639.7,1025.2 C624.6,1025.2 609.6,1027.1 609.6,1029.8 C609.6,1032.5 624.6,1034.3 639.7,1034.3 C644.0,1034.3 654.2,1033.9 654.2,1029.8 Z" fill="none" stroke="#c79f7c" stroke-width="0.9" opacity="0.5" transform="translate(3,0)"/>
<ellipse cx="637.7" cy="1029.8" rx="22.1" ry="4.3" fill="#3c2a22" opacity="0.85"/>
<rect x="501" y="1046.0" width="201" height="5.1" fill="#5e4030" opacity="0.35"/>
</g>
<path d="M702,1002.0 L707,1002.5 Q709,1025.75 707,1049 L702,1049.5 Z" fill="url(#cap)"/>
<clipPath id="cb3"><path d="M78,1319 L134,1240 Q137,1235 143,1235 L437,1232 L440,1357 C350,1357 250,1352 165,1343 C120,1337 95,1327 78,1319 Z"/></clipPath>
<path d="M78,1319 L134,1240 Q137,1235 143,1235 L437,1232 L440,1357 C350,1357 250,1352 165,1343 C120,1337 95,1327 78,1319 Z" fill="url(#kblade)" stroke="#9a9a9a" stroke-width="0.8"/>
<g clip-path="url(#cb3)">
<rect x="95" y="1234" width="347" height="45.0" fill="#c8c8c8" opacity="0.4"/>
<ellipse cx="300.7" cy="1266.2" rx="6.0" ry="4.1" class="ds"/>
<ellipse cx="300.1" cy="1264.8" rx="5.7" ry="3.8" class="db"/>
<ellipse cx="399.1" cy="1288.9" rx="4.2" ry="3.3" class="ds"/>
<ellipse cx="398.5" cy="1287.5" rx="3.9" ry="3.0" class="db"/>
<ellipse cx="280.1" cy="1294.2" rx="5.2" ry="3.8" class="ds"/>
<ellipse cx="279.5" cy="1292.8" rx="4.9" ry="3.5" class="db"/>
<ellipse cx="320.7" cy="1246.2" rx="4.6" ry="3.4" class="ds"/>
<ellipse cx="320.1" cy="1244.8" rx="4.3" ry="3.1" class="db"/>
<ellipse cx="312.1" cy="1274.1" rx="4.9" ry="4.0" class="ds"/>
<ellipse cx="311.5" cy="1272.7" rx="4.6" ry="3.7" class="db"/>
<ellipse cx="296.2" cy="1269.9" rx="4.0" ry="2.6" class="ds"/>
<ellipse cx="295.6" cy="1268.5" rx="3.7" ry="2.3" class="db"/>
<ellipse cx="212.9" cy="1242.5" rx="6.2" ry="5.0" class="ds"/>
<ellipse cx="212.3" cy="1241.1" rx="5.9" ry="4.7" class="db"/>
<ellipse cx="224.4" cy="1243.6" rx="4.5" ry="2.8" class="ds"/>
<ellipse cx="223.8" cy="1242.2" rx="4.2" ry="2.5" class="db"/>
<ellipse cx="219.0" cy="1250.9" rx="4.2" ry="2.8" class="ds"/>
<ellipse cx="218.4" cy="1249.5" rx="3.9" ry="2.5" class="db"/>
<ellipse cx="393.5" cy="1275.1" rx="5.3" ry="3.4" class="ds"/>
<ellipse cx="392.9" cy="1273.7" rx="5.0" ry="3.1" class="db"/>
<ellipse cx="162.3" cy="1246.9" rx="3.9" ry="2.7" class="ds"/>
<ellipse cx="161.7" cy="1245.5" rx="3.6" ry="2.4" class="db"/>
<ellipse cx="184.8" cy="1267.8" rx="5.0" ry="3.7" class="ds"/>
<ellipse cx="184.2" cy="1266.4" rx="4.7" ry="3.4" class="db"/>
<ellipse cx="291.1" cy="1278.1" rx="4.6" ry="2.9" class="ds"/>
<ellipse cx="290.5" cy="1276.7" rx="4.3" ry="2.6" class="db"/>
<ellipse cx="242.0" cy="1277.8" rx="4.0" ry="3.3" class="ds"/>
<ellipse cx="241.4" cy="1276.4" rx="3.7" ry="3.0" class="db"/>
<ellipse cx="292.1" cy="1253.7" rx="4.6" ry="3.8" class="ds"/>
<ellipse cx="291.5" cy="1252.3" rx="4.3" ry="3.5" class="db"/>
<ellipse cx="175.7" cy="1256.9" rx="5.4" ry="3.4" class="ds"/>
<ellipse cx="175.1" cy="1255.5" rx="5.1" ry="3.1" class="db"/>
<ellipse cx="310.3" cy="1273.6" rx="5.0" ry="3.6" class="ds"/>
<ellipse cx="309.7" cy="1272.2" rx="4.7" ry="3.3" class="db"/>
<ellipse cx="205.6" cy="1286.0" rx="6.4" ry="4.7" class="ds"/>
<ellipse cx="205.0" cy="1284.6" rx="6.1" ry="4.4" class="db"/>
<ellipse cx="247.5" cy="1279.6" rx="4.6" ry="3.0" class="ds"/>
<ellipse cx="246.9" cy="1278.2" rx="4.3" ry="2.7" class="db"/>
<ellipse cx="344.1" cy="1265.5" rx="4.5" ry="3.5" class="ds"/>
<ellipse cx="343.5" cy="1264.1" rx="4.2" ry="3.2" class="db"/>
<ellipse cx="422.2" cy="1282.0" rx="4.9" ry="4.0" class="ds"/>
<ellipse cx="421.6" cy="1280.6" rx="4.6" ry="3.7" class="db"/>
<ellipse cx="392.4" cy="1275.3" rx="5.3" ry="4.0" class="ds"/>
<ellipse cx="391.8" cy="1273.9" rx="5.0" ry="3.7" class="db"/>
<ellipse cx="317.5" cy="1273.0" rx="4.3" ry="2.8" class="ds"/>
<ellipse cx="316.9" cy="1271.6" rx="4.0" ry="2.5" class="db"/>
<ellipse cx="304.7" cy="1262.0" rx="4.3" ry="2.9" class="ds"/>
<ellipse cx="304.1" cy="1260.6" rx="4.0" ry="2.6" class="db"/>
<ellipse cx="147.6" cy="1290.5" rx="5.9" ry="4.4" class="ds"/>
<ellipse cx="147.0" cy="1289.1" rx="5.6" ry="4.1" class="db"/>
<ellipse cx="334.3" cy="1237.4" rx="6.3" ry="4.5" class="ds"/>
<ellipse cx="333.7" cy="1236.0" rx="6.0" ry="4.2" class="db"/>
<ellipse cx="375.4" cy="1239.9" rx="3.8" ry="2.4" class="ds"/>
<ellipse cx="374.8" cy="1238.5" rx="3.5" ry="2.1" class="db"/>
<ellipse cx="368.6" cy="1243.0" rx="4.0" ry="2.9" class="ds"/>
<ellipse cx="368.0" cy="1241.6" rx="3.7" ry="2.6" class="db"/>
<ellipse cx="353.0" cy="1285.2" rx="6.4" ry="5.1" class="ds"/>
<ellipse cx="352.4" cy="1283.8" rx="6.1" ry="4.8" class="db"/>
<ellipse cx="130.6" cy="1237.4" rx="6.1" ry="4.7" class="ds"/>
<ellipse cx="130.0" cy="1236.0" rx="5.8" ry="4.4" class="db"/>
<ellipse cx="165.0" cy="1247.7" rx="4.6" ry="3.4" class="ds"/>
<ellipse cx="164.4" cy="1246.3" rx="4.3" ry="3.1" class="db"/>
<ellipse cx="187.7" cy="1238.5" rx="4.3" ry="2.8" class="ds"/>
<ellipse cx="187.1" cy="1237.1" rx="4.0" ry="2.5" class="db"/>
<ellipse cx="252.9" cy="1239.7" rx="5.9" ry="4.5" class="ds"/>
<ellipse cx="252.3" cy="1238.3" rx="5.6" ry="4.2" class="db"/>
<ellipse cx="321.8" cy="1243.3" rx="3.8" ry="2.4" class="ds"/>
<ellipse cx="321.2" cy="1241.9" rx="3.5" ry="2.1" class="db"/>
<ellipse cx="236.5" cy="1244.0" rx="4.6" ry="3.7" class="ds"/>
<ellipse cx="235.9" cy="1242.6" rx="4.3" ry="3.4" class="db"/>
<ellipse cx="263.5" cy="1250.3" rx="4.5" ry="3.6" class="ds"/>
<ellipse cx="262.9" cy="1248.9" rx="4.2" ry="3.3" class="db"/>
<ellipse cx="138.6" cy="1240.6" rx="6.4" ry="4.5" class="ds"/>
<ellipse cx="138.0" cy="1239.2" rx="6.1" ry="4.2" class="db"/>
<ellipse cx="423.7" cy="1267.1" rx="6.4" ry="4.5" class="ds"/>
<ellipse cx="423.1" cy="1265.7" rx="6.1" ry="4.2" class="db"/>
<ellipse cx="138.3" cy="1243.4" rx="5.9" ry="4.4" class="ds"/>
<ellipse cx="137.7" cy="1242.0" rx="5.6" ry="4.1" class="db"/>
<ellipse cx="244.1" cy="1286.0" rx="3.9" ry="3.0" class="ds"/>
<ellipse cx="243.5" cy="1284.6" rx="3.6" ry="2.7" class="db"/>
<ellipse cx="186.8" cy="1286.6" rx="4.9" ry="4.0" class="ds"/>
<ellipse cx="186.2" cy="1285.2" rx="4.6" ry="3.7" class="db"/>
<ellipse cx="349.8" cy="1288.8" rx="5.5" ry="3.7" class="ds"/>
<ellipse cx="349.2" cy="1287.4" rx="5.2" ry="3.4" class="db"/>
<ellipse cx="417.5" cy="1279.5" rx="4.9" ry="3.5" class="ds"/>
<ellipse cx="416.9" cy="1278.1" rx="4.6" ry="3.2" class="db"/>
<ellipse cx="361.5" cy="1240.5" rx="4.3" ry="2.7" class="ds"/>
<ellipse cx="360.9" cy="1239.1" rx="4.0" ry="2.4" class="db"/>
<ellipse cx="243.4" cy="1255.7" rx="4.2" ry="3.0" class="ds"/>
<ellipse cx="242.8" cy="1254.3" rx="3.9" ry="2.7" class="db"/>
<ellipse cx="155.4" cy="1239.8" rx="5.2" ry="4.3" class="ds"/>
<ellipse cx="154.8" cy="1238.4" rx="4.9" ry="4.0" class="db"/>
<ellipse cx="300.3" cy="1238.7" rx="6.1" ry="5.3" class="ds"/>
<ellipse cx="299.7" cy="1237.3" rx="5.8" ry="5.0" class="db"/>
<ellipse cx="288.6" cy="1250.3" rx="5.3" ry="4.3" class="ds"/>
<ellipse cx="288.0" cy="1248.9" rx="5.0" ry="4.0" class="db"/>
<ellipse cx="277.1" cy="1257.6" rx="4.6" ry="3.4" class="ds"/>
<ellipse cx="276.5" cy="1256.2" rx="4.3" ry="3.1" class="db"/>
<ellipse cx="212.5" cy="1254.6" rx="6.3" ry="4.2" class="ds"/>
<ellipse cx="211.9" cy="1253.2" rx="6.0" ry="3.9" class="db"/>
<ellipse cx="219.1" cy="1284.4" rx="4.5" ry="3.7" class="ds"/>
<ellipse cx="218.5" cy="1283.0" rx="4.2" ry="3.4" class="db"/>
<ellipse cx="394.4" cy="1279.8" rx="4.2" ry="3.1" class="ds"/>
<ellipse cx="393.8" cy="1278.4" rx="3.9" ry="2.8" class="db"/>
<ellipse cx="201.1" cy="1264.0" rx="6.1" ry="5.2" class="ds"/>
<ellipse cx="200.5" cy="1262.6" rx="5.8" ry="4.9" class="db"/>
<ellipse cx="162.2" cy="1237.6" rx="4.6" ry="3.5" class="ds"/>
<ellipse cx="161.6" cy="1236.2" rx="4.3" ry="3.2" class="db"/>
<ellipse cx="378.5" cy="1267.5" rx="5.4" ry="4.4" class="ds"/>
<ellipse cx="377.9" cy="1266.1" rx="5.1" ry="4.1" class="db"/>
<ellipse cx="325.1" cy="1248.6" rx="4.5" ry="2.9" class="ds"/>
<ellipse cx="324.5" cy="1247.2" rx="4.2" ry="2.6" class="db"/>
<ellipse cx="402.0" cy="1237.6" rx="5.7" ry="3.6" class="ds"/>
<ellipse cx="401.4" cy="1236.2" rx="5.4" ry="3.3" class="db"/>
<ellipse cx="222.8" cy="1288.3" rx="4.9" ry="3.7" class="ds"/>
<ellipse cx="222.2" cy="1286.9" rx="4.6" ry="3.4" class="db"/>
<ellipse cx="203.8" cy="1243.7" rx="3.9" ry="2.5" class="ds"/>
<ellipse cx="203.2" cy="1242.3" rx="3.6" ry="2.2" class="db"/>
<ellipse cx="352.3" cy="1269.1" rx="4.4" ry="3.8" class="ds"/>
<ellipse cx="351.7" cy="1267.7" rx="4.1" ry="3.5" class="db"/>
<ellipse cx="258.1" cy="1247.8" rx="4.2" ry="3.6" class="ds"/>
<ellipse cx="257.5" cy="1246.4" rx="3.9" ry="3.3" class="db"/>
<ellipse cx="166.0" cy="1241.2" rx="6.0" ry="4.2" class="ds"/>
<ellipse cx="165.4" cy="1239.8" rx="5.7" ry="3.9" class="db"/>
<ellipse cx="216.7" cy="1247.4" rx="5.3" ry="3.7" class="ds"/>
<ellipse cx="216.1" cy="1246.0" rx="5.0" ry="3.4" class="db"/>
<ellipse cx="145.1" cy="1259.5" rx="5.3" ry="3.7" class="ds"/>
<ellipse cx="144.5" cy="1258.1" rx="5.0" ry="3.4" class="db"/>
<ellipse cx="410.6" cy="1268.0" rx="4.9" ry="3.2" class="ds"/>
<ellipse cx="410.0" cy="1266.6" rx="4.6" ry="2.9" class="db"/>
<ellipse cx="214.3" cy="1240.8" rx="5.2" ry="3.5" class="ds"/>
<ellipse cx="213.7" cy="1239.4" rx="4.9" ry="3.2" class="db"/>
<ellipse cx="358.8" cy="1237.4" rx="5.5" ry="3.7" class="ds"/>
<ellipse cx="358.2" cy="1236.0" rx="5.2" ry="3.4" class="db"/>
<ellipse cx="347.6" cy="1294.1" rx="4.6" ry="3.7" class="ds"/>
<ellipse cx="347.0" cy="1292.7" rx="4.3" ry="3.4" class="db"/>
<ellipse cx="414.4" cy="1241.0" rx="5.6" ry="3.6" class="ds"/>
<ellipse cx="413.8" cy="1239.6" rx="5.3" ry="3.3" class="db"/>
<ellipse cx="353.7" cy="1289.3" rx="5.8" ry="4.4" class="ds"/>
<ellipse cx="353.1" cy="1287.9" rx="5.5" ry="4.1" class="db"/>
<ellipse cx="319.0" cy="1267.4" rx="5.4" ry="4.3" class="ds"/>
<ellipse cx="318.4" cy="1266.0" rx="5.1" ry="4.0" class="db"/>
<ellipse cx="413.3" cy="1265.4" rx="6.2" ry="4.9" class="ds"/>
<ellipse cx="412.7" cy="1264.0" rx="5.9" ry="4.6" class="db"/>
<ellipse cx="372.0" cy="1249.4" rx="6.0" ry="5.0" class="ds"/>
<ellipse cx="371.4" cy="1248.0" rx="5.7" ry="4.7" class="db"/>
<ellipse cx="405.0" cy="1270.7" rx="5.1" ry="3.5" class="ds"/>
<ellipse cx="404.4" cy="1269.3" rx="4.8" ry="3.2" class="db"/>
<ellipse cx="399.6" cy="1249.0" rx="4.3" ry="3.4" class="ds"/>
<ellipse cx="399.0" cy="1247.6" rx="4.0" ry="3.1" class="db"/>
<ellipse cx="188.9" cy="1240.0" rx="4.0" ry="3.0" class="ds"/>
<ellipse cx="188.3" cy="1238.6" rx="3.7" ry="2.7" class="db"/>
<ellipse cx="201.6" cy="1278.6" rx="3.8" ry="2.6" class="ds"/>
<ellipse cx="201.0" cy="1277.2" rx="3.5" ry="2.3" class="db"/>
<ellipse cx="358.3" cy="1256.8" rx="5.6" ry="4.0" class="ds"/>
<ellipse cx="357.7" cy="1255.4" rx="5.3" ry="3.7" class="db"/>
<ellipse cx="285.5" cy="1237.4" rx="4.3" ry="3.0" class="ds"/>
<ellipse cx="284.9" cy="1236.0" rx="4.0" ry="2.7" class="db"/>
<ellipse cx="186.0" cy="1243.7" rx="6.5" ry="5.0" class="ds"/>
<ellipse cx="185.4" cy="1242.3" rx="6.2" ry="4.7" class="db"/>
<ellipse cx="366.0" cy="1272.5" rx="6.0" ry="4.5" class="ds"/>
<ellipse cx="365.4" cy="1271.1" rx="5.7" ry="4.2" class="db"/>
<ellipse cx="155.4" cy="1252.9" rx="4.8" ry="3.3" class="ds"/>
<ellipse cx="154.8" cy="1251.5" rx="4.5" ry="3.0" class="db"/>
<ellipse cx="397.6" cy="1242.8" rx="4.0" ry="2.8" class="ds"/>
<ellipse cx="397.0" cy="1241.4" rx="3.7" ry="2.5" class="db"/>
<ellipse cx="132.8" cy="1289.3" rx="5.2" ry="3.3" class="ds"/>
<ellipse cx="132.2" cy="1287.9" rx="4.9" ry="3.0" class="db"/>
<ellipse cx="179.1" cy="1256.1" rx="6.3" ry="5.4" class="ds"/>
<ellipse cx="178.5" cy="1254.7" rx="6.0" ry="5.1" class="db"/>
<ellipse cx="365.9" cy="1256.7" rx="3.9" ry="2.8" class="ds"/>
<ellipse cx="365.3" cy="1255.3" rx="3.6" ry="2.5" class="db"/>
<ellipse cx="364.4" cy="1273.1" rx="6.5" ry="4.6" class="ds"/>
<ellipse cx="363.8" cy="1271.7" rx="6.2" ry="4.3" class="db"/>
<ellipse cx="376.8" cy="1290.3" rx="6.1" ry="5.1" class="ds"/>
<ellipse cx="376.2" cy="1288.9" rx="5.8" ry="4.8" class="db"/>
<ellipse cx="241.6" cy="1265.2" rx="4.0" ry="2.8" class="ds"/>
<ellipse cx="241.0" cy="1263.8" rx="3.7" ry="2.5" class="db"/>
<ellipse cx="188.8" cy="1241.4" rx="5.5" ry="3.8" class="ds"/>
<ellipse cx="188.2" cy="1240.0" rx="5.2" ry="3.5" class="db"/>
<ellipse cx="370.6" cy="1292.3" rx="4.3" ry="3.4" class="ds"/>
<ellipse cx="370.0" cy="1290.9" rx="4.0" ry="3.1" class="db"/>
<ellipse cx="193.3" cy="1240.7" rx="5.5" ry="4.1" class="ds"/>
<ellipse cx="192.7" cy="1239.3" rx="5.2" ry="3.8" class="db"/>
<ellipse cx="328.1" cy="1275.7" rx="6.1" ry="4.7" class="ds"/>
<ellipse cx="327.5" cy="1274.3" rx="5.8" ry="4.4" class="db"/>
<ellipse cx="175.5" cy="1284.2" rx="6.0" ry="4.6" class="ds"/>
<ellipse cx="174.9" cy="1282.8" rx="5.7" ry="4.3" class="db"/>
<ellipse cx="374.0" cy="1251.4" rx="4.2" ry="3.1" class="ds"/>
<ellipse cx="373.4" cy="1250.0" rx="3.9" ry="2.8" class="db"/>
<ellipse cx="398.5" cy="1237.4" rx="3.7" ry="2.7" class="ds"/>
<ellipse cx="397.9" cy="1236.0" rx="3.4" ry="2.4" class="db"/>
<ellipse cx="395.4" cy="1282.5" rx="3.9" ry="2.6" class="ds"/>
<ellipse cx="394.8" cy="1281.1" rx="3.6" ry="2.3" class="db"/>
<ellipse cx="260.8" cy="1247.1" rx="6.4" ry="4.0" class="ds"/>
<ellipse cx="260.2" cy="1245.7" rx="6.1" ry="3.7" class="db"/>
<ellipse cx="396.5" cy="1271.4" rx="6.2" ry="4.2" class="ds"/>
<ellipse cx="395.9" cy="1270.0" rx="5.9" ry="3.9" class="db"/>
<ellipse cx="426.1" cy="1239.8" rx="4.9" ry="4.2" class="ds"/>
<ellipse cx="425.5" cy="1238.4" rx="4.6" ry="3.9" class="db"/>
<ellipse cx="363.1" cy="1275.2" rx="4.4" ry="3.8" class="ds"/>
<ellipse cx="362.5" cy="1273.8" rx="4.1" ry="3.5" class="db"/>
<ellipse cx="166.1" cy="1296.4" rx="6.2" ry="4.5" class="ds"/>
<ellipse cx="165.5" cy="1295.0" rx="5.9" ry="4.2" class="db"/>
<ellipse cx="366.4" cy="1262.8" rx="5.8" ry="3.7" class="ds"/>
<ellipse cx="365.8" cy="1261.4" rx="5.5" ry="3.4" class="db"/>
<ellipse cx="373.7" cy="1273.5" rx="4.2" ry="3.0" class="ds"/>
<ellipse cx="373.1" cy="1272.1" rx="3.9" ry="2.7" class="db"/>
<ellipse cx="266.6" cy="1296.4" rx="6.3" ry="3.9" class="ds"/>
<ellipse cx="266.0" cy="1295.0" rx="6.0" ry="3.6" class="db"/>
<ellipse cx="167.8" cy="1284.9" rx="5.2" ry="4.3" class="ds"/>
<ellipse cx="167.2" cy="1283.5" rx="4.9" ry="4.0" class="db"/>
<ellipse cx="412.5" cy="1240.9" rx="3.9" ry="3.1" class="ds"/>
<ellipse cx="411.9" cy="1239.5" rx="3.6" ry="2.8" class="db"/>
<ellipse cx="364.3" cy="1253.7" rx="4.9" ry="3.9" class="ds"/>
<ellipse cx="363.7" cy="1252.3" rx="4.6" ry="3.6" class="db"/>
<ellipse cx="278.0" cy="1251.1" rx="5.6" ry="3.6" class="ds"/>
<ellipse cx="277.4" cy="1249.7" rx="5.3" ry="3.3" class="db"/>
<ellipse cx="303.8" cy="1270.2" rx="6.2" ry="4.4" class="ds"/>
<ellipse cx="303.2" cy="1268.8" rx="5.9" ry="4.1" class="db"/>
<ellipse cx="341.4" cy="1250.3" rx="5.3" ry="3.7" class="ds"/>
<ellipse cx="340.8" cy="1248.9" rx="5.0" ry="3.4" class="db"/>
<ellipse cx="133.2" cy="1287.9" rx="4.7" ry="3.0" class="ds"/>
<ellipse cx="132.6" cy="1286.5" rx="4.4" ry="2.7" class="db"/>
<ellipse cx="229.7" cy="1244.5" rx="6.0" ry="4.3" class="ds"/>
<ellipse cx="229.1" cy="1243.1" rx="5.7" ry="4.0" class="db"/>
<ellipse cx="211.0" cy="1248.3" rx="6.4" ry="5.2" class="ds"/>
<ellipse cx="210.4" cy="1246.9" rx="6.1" ry="4.9" class="db"/>
<ellipse cx="160.8" cy="1238.2" rx="5.6" ry="4.0" class="ds"/>
<ellipse cx="160.2" cy="1236.8" rx="5.3" ry="3.7" class="db"/>
<ellipse cx="154.0" cy="1247.2" rx="4.6" ry="3.6" class="ds"/>
<ellipse cx="153.4" cy="1245.8" rx="4.3" ry="3.3" class="db"/>
<ellipse cx="177.5" cy="1278.9" rx="5.4" ry="4.4" class="ds"/>
<ellipse cx="176.9" cy="1277.5" rx="5.1" ry="4.1" class="db"/>
<ellipse cx="406.8" cy="1239.7" rx="5.8" ry="4.6" class="ds"/>
<ellipse cx="406.2" cy="1238.3" rx="5.5" ry="4.3" class="db"/>
<ellipse cx="135.4" cy="1276.1" rx="5.5" ry="4.4" class="ds"/>
<ellipse cx="134.8" cy="1274.7" rx="5.2" ry="4.1" class="db"/>
<ellipse cx="351.3" cy="1237.8" rx="6.3" ry="5.4" class="ds"/>
<ellipse cx="350.7" cy="1236.4" rx="6.0" ry="5.1" class="db"/>
<ellipse cx="366.8" cy="1291.6" rx="4.9" ry="3.5" class="ds"/>
<ellipse cx="366.2" cy="1290.2" rx="4.6" ry="3.2" class="db"/>
<ellipse cx="365.2" cy="1252.0" rx="5.7" ry="4.8" class="ds"/>
<ellipse cx="364.6" cy="1250.6" rx="5.4" ry="4.5" class="db"/>
<ellipse cx="405.0" cy="1240.0" rx="5.4" ry="4.4" class="ds"/>
<ellipse cx="404.4" cy="1238.6" rx="5.1" ry="4.1" class="db"/>
<ellipse cx="212.6" cy="1245.1" rx="4.7" ry="3.4" class="ds"/>
<ellipse cx="212.0" cy="1243.7" rx="4.4" ry="3.1" class="db"/>
<ellipse cx="200.5" cy="1263.6" rx="4.3" ry="3.0" class="ds"/>
<ellipse cx="199.9" cy="1262.2" rx="4.0" ry="2.7" class="db"/>
<ellipse cx="405.1" cy="1245.0" rx="4.2" ry="3.4" class="ds"/>
<ellipse cx="404.5" cy="1243.6" rx="3.9" ry="3.1" class="db"/>
<ellipse cx="162.6" cy="1294.8" rx="4.3" ry="3.3" class="ds"/>
<ellipse cx="162.0" cy="1293.4" rx="4.0" ry="3.0" class="db"/>
<ellipse cx="379.6" cy="1249.6" rx="5.5" ry="4.4" class="ds"/>
<ellipse cx="379.0" cy="1248.2" rx="5.2" ry="4.1" class="db"/>
<ellipse cx="221.0" cy="1246.2" rx="5.3" ry="4.0" class="ds"/>
<ellipse cx="220.4" cy="1244.8" rx="5.0" ry="3.7" class="db"/>
<ellipse cx="146.7" cy="1238.1" rx="3.7" ry="3.0" class="ds"/>
<ellipse cx="146.1" cy="1236.7" rx="3.4" ry="2.7" class="db"/>
<ellipse cx="356.6" cy="1254.5" rx="6.4" ry="4.9" class="ds"/>
<ellipse cx="356.0" cy="1253.1" rx="6.1" ry="4.6" class="db"/>
<ellipse cx="156.4" cy="1287.5" rx="4.8" ry="3.0" class="ds"/>
<ellipse cx="155.8" cy="1286.1" rx="4.5" ry="2.7" class="db"/>
<ellipse cx="197.4" cy="1267.8" rx="3.7" ry="2.7" class="ds"/>
<ellipse cx="196.8" cy="1266.4" rx="3.4" ry="2.4" class="db"/>
<ellipse cx="263.6" cy="1281.6" rx="4.5" ry="3.8" class="ds"/>
<ellipse cx="263.0" cy="1280.2" rx="4.2" ry="3.5" class="db"/>
<ellipse cx="422.7" cy="1245.5" rx="5.6" ry="4.7" class="ds"/>
<ellipse cx="422.1" cy="1244.1" rx="5.3" ry="4.4" class="db"/>
<ellipse cx="387.5" cy="1238.6" rx="6.4" ry="4.0" class="ds"/>
<ellipse cx="386.9" cy="1237.2" rx="6.1" ry="3.7" class="db"/>
<ellipse cx="378.6" cy="1276.6" rx="5.7" ry="4.4" class="ds"/>
<ellipse cx="378.0" cy="1275.2" rx="5.4" ry="4.1" class="db"/>
<ellipse cx="194.4" cy="1289.0" rx="6.0" ry="4.0" class="ds"/>
<ellipse cx="193.8" cy="1287.6" rx="5.7" ry="3.7" class="db"/>
<ellipse cx="259.4" cy="1240.3" rx="6.1" ry="5.0" class="ds"/>
<ellipse cx="258.8" cy="1238.9" rx="5.8" ry="4.7" class="db"/>
<ellipse cx="136.2" cy="1273.7" rx="6.3" ry="5.0" class="ds"/>
<ellipse cx="135.6" cy="1272.3" rx="6.0" ry="4.7" class="db"/>
<ellipse cx="420.3" cy="1271.6" rx="5.8" ry="4.0" class="ds"/>
<ellipse cx="419.7" cy="1270.2" rx="5.5" ry="3.7" class="db"/>
<ellipse cx="221.7" cy="1244.6" rx="4.6" ry="3.2" class="ds"/>
<ellipse cx="221.1" cy="1243.2" rx="4.3" ry="2.9" class="db"/>
<ellipse cx="171.7" cy="1245.1" rx="4.3" ry="2.7" class="ds"/>
<ellipse cx="171.1" cy="1243.7" rx="4.0" ry="2.4" class="db"/>
<ellipse cx="379.0" cy="1247.7" rx="5.7" ry="4.7" class="ds"/>
<ellipse cx="378.4" cy="1246.3" rx="5.4" ry="4.4" class="db"/>
<ellipse cx="301.5" cy="1263.2" rx="4.2" ry="3.5" class="ds"/>
<ellipse cx="300.9" cy="1261.8" rx="3.9" ry="3.2" class="db"/>
<ellipse cx="290.2" cy="1259.5" rx="6.0" ry="3.8" class="ds"/>
<ellipse cx="289.6" cy="1258.1" rx="5.7" ry="3.5" class="db"/>
<ellipse cx="286.5" cy="1246.3" rx="4.4" ry="3.3" class="ds"/>
<ellipse cx="285.9" cy="1244.9" rx="4.1" ry="3.0" class="db"/>
<ellipse cx="379.4" cy="1251.7" rx="6.2" ry="5.3" class="ds"/>
<ellipse cx="378.8" cy="1250.3" rx="5.9" ry="5.0" class="db"/>
<ellipse cx="158.9" cy="1243.7" rx="5.5" ry="4.6" class="ds"/>
<ellipse cx="158.3" cy="1242.3" rx="5.2" ry="4.3" class="db"/>
<ellipse cx="236.3" cy="1280.1" rx="5.0" ry="3.8" class="ds"/>
<ellipse cx="235.7" cy="1278.7" rx="4.7" ry="3.5" class="db"/>
<ellipse cx="417.6" cy="1264.8" rx="4.0" ry="3.1" class="ds"/>
<ellipse cx="417.0" cy="1263.4" rx="3.7" ry="2.8" class="db"/>
<ellipse cx="177.6" cy="1256.9" rx="4.4" ry="3.8" class="ds"/>
<ellipse cx="177.0" cy="1255.5" rx="4.1" ry="3.5" class="db"/>
<ellipse cx="292.8" cy="1237.4" rx="4.6" ry="3.5" class="ds"/>
<ellipse cx="292.2" cy="1236.0" rx="4.3" ry="3.2" class="db"/>
<ellipse cx="329.0" cy="1262.1" rx="5.4" ry="3.7" class="ds"/>
<ellipse cx="328.4" cy="1260.7" rx="5.1" ry="3.4" class="db"/>
<ellipse cx="325.4" cy="1237.6" rx="6.0" ry="4.0" class="ds"/>
<ellipse cx="324.8" cy="1236.2" rx="5.7" ry="3.7" class="db"/>
<ellipse cx="324.8" cy="1287.9" rx="4.2" ry="2.9" class="ds"/>
<ellipse cx="324.2" cy="1286.5" rx="3.9" ry="2.6" class="db"/>
<ellipse cx="334.9" cy="1254.9" rx="5.7" ry="4.9" class="ds"/>
<ellipse cx="334.3" cy="1253.5" rx="5.4" ry="4.6" class="db"/>
<ellipse cx="249.6" cy="1278.8" rx="6.0" ry="5.1" class="ds"/>
<ellipse cx="249.0" cy="1277.4" rx="5.7" ry="4.8" class="db"/>
<ellipse cx="202.0" cy="1268.8" rx="6.0" ry="4.9" class="ds"/>
<ellipse cx="201.4" cy="1267.4" rx="5.7" ry="4.6" class="db"/>
<ellipse cx="165.2" cy="1271.3" rx="4.4" ry="2.8" class="ds"/>
<ellipse cx="164.6" cy="1269.9" rx="4.1" ry="2.5" class="db"/>
<ellipse cx="230.3" cy="1249.8" rx="5.2" ry="3.8" class="ds"/>
<ellipse cx="229.7" cy="1248.4" rx="4.9" ry="3.5" class="db"/>
<ellipse cx="320.0" cy="1241.4" rx="5.9" ry="4.6" class="ds"/>
<ellipse cx="319.4" cy="1240.0" rx="5.6" ry="4.3" class="db"/>
<ellipse cx="298.7" cy="1259.8" rx="6.0" ry="4.7" class="ds"/>
<ellipse cx="298.1" cy="1258.4" rx="5.7" ry="4.4" class="db"/>
<ellipse cx="391.3" cy="1241.7" rx="4.5" ry="3.7" class="ds"/>
<ellipse cx="390.7" cy="1240.3" rx="4.2" ry="3.4" class="db"/>
<ellipse cx="172.4" cy="1288.0" rx="5.4" ry="3.4" class="ds"/>
<ellipse cx="171.8" cy="1286.6" rx="5.1" ry="3.1" class="db"/>
<ellipse cx="231.1" cy="1245.2" rx="5.7" ry="3.9" class="ds"/>
<ellipse cx="230.5" cy="1243.8" rx="5.4" ry="3.6" class="db"/>
<ellipse cx="389.4" cy="1262.2" rx="5.0" ry="4.2" class="ds"/>
<ellipse cx="388.8" cy="1260.8" rx="4.7" ry="3.9" class="db"/>
<ellipse cx="387.1" cy="1247.8" rx="4.6" ry="3.2" class="ds"/>
<ellipse cx="386.5" cy="1246.4" rx="4.3" ry="2.9" class="db"/>
<ellipse cx="302.8" cy="1241.9" rx="5.3" ry="4.5" class="ds"/>
<ellipse cx="302.2" cy="1240.5" rx="5.0" ry="4.2" class="db"/>
<ellipse cx="127.0" cy="1255.7" rx="5.5" ry="3.5" class="ds"/>
<ellipse cx="126.4" cy="1254.3" rx="5.2" ry="3.2" class="db"/>
<ellipse cx="367.2" cy="1261.1" rx="5.1" ry="4.0" class="ds"/>
<ellipse cx="366.6" cy="1259.7" rx="4.8" ry="3.7" class="db"/>
<ellipse cx="302.6" cy="1257.6" rx="4.7" ry="3.4" class="ds"/>
<ellipse cx="302.0" cy="1256.2" rx="4.4" ry="3.1" class="db"/>
<ellipse cx="313.2" cy="1243.4" rx="4.4" ry="2.9" class="ds"/>
<ellipse cx="312.6" cy="1242.0" rx="4.1" ry="2.6" class="db"/>
<ellipse cx="265.1" cy="1262.5" rx="5.1" ry="3.9" class="ds"/>
<ellipse cx="264.5" cy="1261.1" rx="4.8" ry="3.6" class="db"/>
<ellipse cx="205.3" cy="1276.7" rx="5.7" ry="3.8" class="ds"/>
<ellipse cx="204.7" cy="1275.3" rx="5.4" ry="3.5" class="db"/>
<ellipse cx="233.7" cy="1278.9" rx="4.6" ry="3.1" class="ds"/>
<ellipse cx="233.1" cy="1277.5" rx="4.3" ry="2.8" class="db"/>
<ellipse cx="279.2" cy="1265.9" rx="4.6" ry="3.3" class="ds"/>
<ellipse cx="278.6" cy="1264.5" rx="4.3" ry="3.0" class="db"/>
<ellipse cx="358.3" cy="1242.7" rx="5.1" ry="3.4" class="ds"/>
<ellipse cx="357.7" cy="1241.3" rx="4.8" ry="3.1" class="db"/>
<ellipse cx="205.5" cy="1290.4" rx="4.3" ry="2.9" class="ds"/>
<ellipse cx="204.9" cy="1289.0" rx="4.0" ry="2.6" class="db"/>
<ellipse cx="225.7" cy="1248.3" rx="4.8" ry="3.5" class="ds"/>
<ellipse cx="225.1" cy="1246.9" rx="4.5" ry="3.2" class="db"/>
<ellipse cx="318.3" cy="1270.7" rx="4.3" ry="2.9" class="ds"/>
<ellipse cx="317.7" cy="1269.3" rx="4.0" ry="2.6" class="db"/>
<ellipse cx="181.7" cy="1258.3" rx="5.4" ry="4.6" class="ds"/>
<ellipse cx="181.1" cy="1256.9" rx="5.1" ry="4.3" class="db"/>
<ellipse cx="174.4" cy="1244.3" rx="4.2" ry="2.7" class="ds"/>
<ellipse cx="173.8" cy="1242.9" rx="3.9" ry="2.4" class="db"/>
<ellipse cx="291.9" cy="1293.1" rx="6.4" ry="4.0" class="ds"/>
<ellipse cx="291.3" cy="1291.7" rx="6.1" ry="3.7" class="db"/>
<ellipse cx="233.6" cy="1284.5" rx="4.0" ry="2.9" class="ds"/>
<ellipse cx="233.0" cy="1283.1" rx="3.7" ry="2.6" class="db"/>
<ellipse cx="365.7" cy="1241.3" rx="5.2" ry="4.0" class="ds"/>
<ellipse cx="365.1" cy="1239.9" rx="4.9" ry="3.7" class="db"/>
<ellipse cx="390.3" cy="1269.6" rx="4.7" ry="3.3" class="ds"/>
<ellipse cx="389.7" cy="1268.2" rx="4.4" ry="3.0" class="db"/>
<ellipse cx="402.8" cy="1241.7" rx="5.3" ry="4.2" class="ds"/>
<ellipse cx="402.2" cy="1240.3" rx="5.0" ry="3.9" class="db"/>
<ellipse cx="370.2" cy="1245.0" rx="5.6" ry="3.7" class="ds"/>
<ellipse cx="369.6" cy="1243.6" rx="5.3" ry="3.4" class="db"/>
<ellipse cx="357.1" cy="1255.1" rx="5.7" ry="4.5" class="ds"/>
<ellipse cx="356.5" cy="1253.7" rx="5.4" ry="4.2" class="db"/>
<ellipse cx="190.7" cy="1242.3" rx="5.6" ry="4.6" class="ds"/>
<ellipse cx="190.1" cy="1240.9" rx="5.3" ry="4.3" class="db"/>
<ellipse cx="409.3" cy="1241.8" rx="4.9" ry="4.0" class="ds"/>
<ellipse cx="408.7" cy="1240.4" rx="4.6" ry="3.7" class="db"/>
<ellipse cx="388.9" cy="1237.8" rx="4.5" ry="3.7" class="ds"/>
<ellipse cx="388.3" cy="1236.4" rx="4.2" ry="3.4" class="db"/>
<ellipse cx="163.3" cy="1256.6" rx="5.2" ry="3.3" class="ds"/>
<ellipse cx="162.7" cy="1255.2" rx="4.9" ry="3.0" class="db"/>
<ellipse cx="133.3" cy="1290.7" rx="5.6" ry="4.4" class="ds"/>
<ellipse cx="132.7" cy="1289.3" rx="5.3" ry="4.1" class="db"/>
<ellipse cx="201.0" cy="1256.8" rx="6.4" ry="4.1" class="ds"/>
<ellipse cx="200.4" cy="1255.4" rx="6.1" ry="3.8" class="db"/>
<ellipse cx="311.4" cy="1294.7" rx="5.7" ry="4.8" class="ds"/>
<ellipse cx="310.8" cy="1293.3" rx="5.4" ry="4.5" class="db"/>
<ellipse cx="259.3" cy="1291.4" rx="3.8" ry="3.1" class="ds"/>
<ellipse cx="258.7" cy="1290.0" rx="3.5" ry="2.8" class="db"/>
<ellipse cx="153.0" cy="1237.9" rx="5.0" ry="4.0" class="ds"/>
<ellipse cx="152.4" cy="1236.5" rx="4.7" ry="3.7" class="db"/>
<ellipse cx="316.5" cy="1249.6" rx="4.5" ry="3.3" class="ds"/>
<ellipse cx="315.9" cy="1248.2" rx="4.2" ry="3.0" class="db"/>
<ellipse cx="283.4" cy="1267.2" rx="4.0" ry="3.3" class="ds"/>
<ellipse cx="282.8" cy="1265.8" rx="3.7" ry="3.0" class="db"/>
<ellipse cx="393.8" cy="1237.5" rx="3.7" ry="3.2" class="ds"/>
<ellipse cx="393.2" cy="1236.1" rx="3.4" ry="2.9" class="db"/>
<ellipse cx="245.6" cy="1276.9" rx="3.9" ry="3.0" class="ds"/>
<ellipse cx="245.0" cy="1275.5" rx="3.6" ry="2.7" class="db"/>
<ellipse cx="273.9" cy="1237.5" rx="4.1" ry="3.4" class="ds"/>
<ellipse cx="273.3" cy="1236.1" rx="3.8" ry="3.1" class="db"/>
<ellipse cx="342.4" cy="1266.8" rx="5.9" ry="4.5" class="ds"/>
<ellipse cx="341.8" cy="1265.4" rx="5.6" ry="4.2" class="db"/>
<ellipse cx="371.9" cy="1273.0" rx="4.3" ry="2.8" class="ds"/>
<ellipse cx="371.3" cy="1271.6" rx="4.0" ry="2.5" class="db"/>
<ellipse cx="302.0" cy="1268.6" rx="4.5" ry="3.9" class="ds"/>
<ellipse cx="301.4" cy="1267.2" rx="4.2" ry="3.6" class="db"/>
<ellipse cx="254.4" cy="1240.9" rx="4.2" ry="2.9" class="ds"/>
<ellipse cx="253.8" cy="1239.5" rx="3.9" ry="2.6" class="db"/>
<ellipse cx="252.2" cy="1280.4" rx="4.6" ry="3.8" class="ds"/>
<ellipse cx="251.6" cy="1279.0" rx="4.3" ry="3.5" class="db"/>
<ellipse cx="331.0" cy="1279.0" rx="4.5" ry="3.3" class="ds"/>
<ellipse cx="330.4" cy="1277.6" rx="4.2" ry="3.0" class="db"/>
<ellipse cx="248.7" cy="1294.8" rx="4.6" ry="3.9" class="ds"/>
<ellipse cx="248.1" cy="1293.4" rx="4.3" ry="3.6" class="db"/>
<ellipse cx="207.9" cy="1253.1" rx="4.9" ry="3.6" class="ds"/>
<ellipse cx="207.3" cy="1251.7" rx="4.6" ry="3.3" class="db"/>
<ellipse cx="320.9" cy="1257.0" rx="5.3" ry="3.8" class="ds"/>
<ellipse cx="320.3" cy="1255.6" rx="5.0" ry="3.5" class="db"/>
<ellipse cx="245.0" cy="1280.0" rx="5.9" ry="3.7" class="ds"/>
<ellipse cx="244.4" cy="1278.6" rx="5.6" ry="3.4" class="db"/>
<ellipse cx="360.9" cy="1266.1" rx="6.4" ry="4.4" class="ds"/>
<ellipse cx="360.3" cy="1264.7" rx="6.1" ry="4.1" class="db"/>
<ellipse cx="248.8" cy="1237.6" rx="6.1" ry="4.4" class="ds"/>
<ellipse cx="248.2" cy="1236.2" rx="5.8" ry="4.1" class="db"/>
<ellipse cx="279.9" cy="1258.9" rx="4.8" ry="3.8" class="ds"/>
<ellipse cx="279.3" cy="1257.5" rx="4.5" ry="3.5" class="db"/>
<ellipse cx="430.1" cy="1261.5" rx="5.0" ry="3.8" class="ds"/>
<ellipse cx="429.5" cy="1260.1" rx="4.7" ry="3.5" class="db"/>
<ellipse cx="227.3" cy="1237.5" rx="5.1" ry="4.2" class="ds"/>
<ellipse cx="226.7" cy="1236.1" rx="4.8" ry="3.9" class="db"/>
<ellipse cx="231.5" cy="1265.9" rx="5.5" ry="3.8" class="ds"/>
<ellipse cx="230.9" cy="1264.5" rx="5.2" ry="3.5" class="db"/>
<ellipse cx="378.9" cy="1271.6" rx="6.1" ry="4.0" class="ds"/>
<ellipse cx="378.3" cy="1270.2" rx="5.8" ry="3.7" class="db"/>
<ellipse cx="251.7" cy="1245.7" rx="4.9" ry="4.1" class="ds"/>
<ellipse cx="251.1" cy="1244.3" rx="4.6" ry="3.8" class="db"/>
<ellipse cx="183.8" cy="1270.8" rx="5.5" ry="3.8" class="ds"/>
<ellipse cx="183.2" cy="1269.4" rx="5.2" ry="3.5" class="db"/>
<ellipse cx="165.8" cy="1254.2" rx="5.8" ry="4.1" class="ds"/>
<ellipse cx="165.2" cy="1252.8" rx="5.5" ry="3.8" class="db"/>
<ellipse cx="200.7" cy="1295.0" rx="4.4" ry="3.2" class="ds"/>
<ellipse cx="200.1" cy="1293.6" rx="4.1" ry="2.9" class="db"/>
<ellipse cx="276.3" cy="1277.8" rx="6.1" ry="4.6" class="ds"/>
<ellipse cx="275.7" cy="1276.4" rx="5.8" ry="4.3" class="db"/>
<ellipse cx="214.2" cy="1270.5" rx="4.7" ry="3.2" class="ds"/>
<ellipse cx="213.6" cy="1269.1" rx="4.4" ry="2.9" class="db"/>
<ellipse cx="188.9" cy="1265.8" rx="4.2" ry="3.3" class="ds"/>
<ellipse cx="188.3" cy="1264.4" rx="3.9" ry="3.0" class="db"/>
<ellipse cx="132.1" cy="1250.1" rx="5.5" ry="4.3" class="ds"/>
<ellipse cx="131.5" cy="1248.7" rx="5.2" ry="4.0" class="db"/>
<ellipse cx="130.1" cy="1274.9" rx="4.1" ry="2.6" class="ds"/>
<ellipse cx="129.5" cy="1273.5" rx="3.8" ry="2.3" class="db"/>
<ellipse cx="258.7" cy="1241.8" rx="4.1" ry="2.9" class="ds"/>
<ellipse cx="258.1" cy="1240.4" rx="3.8" ry="2.6" class="db"/>
<ellipse cx="135.8" cy="1258.4" rx="5.0" ry="4.1" class="ds"/>
<ellipse cx="135.2" cy="1257.0" rx="4.7" ry="3.8" class="db"/>
<ellipse cx="176.0" cy="1263.3" rx="4.0" ry="2.6" class="ds"/>
<ellipse cx="175.4" cy="1261.9" rx="3.7" ry="2.3" class="db"/>
<ellipse cx="298.4" cy="1248.7" rx="4.3" ry="2.8" class="ds"/>
<ellipse cx="297.8" cy="1247.3" rx="4.0" ry="2.5" class="db"/>
<ellipse cx="254.7" cy="1292.1" rx="5.0" ry="3.6" class="ds"/>
<ellipse cx="254.1" cy="1290.7" rx="4.7" ry="3.3" class="db"/>
<ellipse cx="217.4" cy="1257.3" rx="4.8" ry="3.2" class="ds"/>
<ellipse cx="216.8" cy="1255.9" rx="4.5" ry="2.9" class="db"/>
<ellipse cx="363.6" cy="1238.6" rx="5.4" ry="4.5" class="ds"/>
<ellipse cx="363.0" cy="1237.2" rx="5.1" ry="4.2" class="db"/>
<ellipse cx="265.6" cy="1285.2" rx="5.7" ry="4.0" class="ds"/>
<ellipse cx="265.0" cy="1283.8" rx="5.4" ry="3.7" class="db"/>
<ellipse cx="406.4" cy="1254.0" rx="4.6" ry="2.9" class="ds"/>
<ellipse cx="405.8" cy="1252.6" rx="4.3" ry="2.6" class="db"/>
<ellipse cx="350.9" cy="1264.1" rx="4.1" ry="3.3" class="ds"/>
<ellipse cx="350.3" cy="1262.7" rx="3.8" ry="3.0" class="db"/>
<ellipse cx="153.8" cy="1265.1" rx="4.6" ry="3.3" class="ds"/>
<ellipse cx="153.2" cy="1263.7" rx="4.3" ry="3.0" class="db"/>
<ellipse cx="290.0" cy="1238.7" rx="6.4" ry="4.2" class="ds"/>
<ellipse cx="289.4" cy="1237.3" rx="6.1" ry="3.9" class="db"/>
<ellipse cx="133.6" cy="1251.8" rx="4.5" ry="3.8" class="ds"/>
<ellipse cx="133.0" cy="1250.4" rx="4.2" ry="3.5" class="db"/>
<ellipse cx="432.5" cy="1249.8" rx="4.0" ry="2.9" class="ds"/>
<ellipse cx="431.9" cy="1248.4" rx="3.7" ry="2.6" class="db"/>
<ellipse cx="275.3" cy="1240.7" rx="4.3" ry="2.9" class="ds"/>
<ellipse cx="274.7" cy="1239.3" rx="4.0" ry="2.6" class="db"/>
<ellipse cx="430.3" cy="1259.5" rx="5.5" ry="4.5" class="ds"/>
<ellipse cx="429.7" cy="1258.1" rx="5.2" ry="4.2" class="db"/>
<ellipse cx="328.3" cy="1237.5" rx="5.2" ry="4.2" class="ds"/>
<ellipse cx="327.7" cy="1236.1" rx="4.9" ry="3.9" class="db"/>
<ellipse cx="162.3" cy="1289.7" rx="5.9" ry="4.1" class="ds"/>
<ellipse cx="161.7" cy="1288.3" rx="5.6" ry="3.8" class="db"/>
<ellipse cx="242.8" cy="1256.0" rx="4.4" ry="3.7" class="ds"/>
<ellipse cx="242.2" cy="1254.6" rx="4.1" ry="3.4" class="db"/>
<ellipse cx="374.1" cy="1258.8" rx="6.3" ry="4.9" class="ds"/>
<ellipse cx="373.5" cy="1257.4" rx="6.0" ry="4.6" class="db"/>
<ellipse cx="275.1" cy="1284.2" rx="5.4" ry="4.1" class="ds"/>
<ellipse cx="274.5" cy="1282.8" rx="5.1" ry="3.8" class="db"/>
<ellipse cx="396.0" cy="1269.2" rx="6.5" ry="4.6" class="ds"/>
<ellipse cx="395.4" cy="1267.8" rx="6.2" ry="4.3" class="db"/>
<ellipse cx="142.0" cy="1247.7" rx="5.1" ry="3.5" class="ds"/>
<ellipse cx="141.4" cy="1246.3" rx="4.8" ry="3.2" class="db"/>
<ellipse cx="184.0" cy="1289.8" rx="4.1" ry="2.8" class="ds"/>
<ellipse cx="183.4" cy="1288.4" rx="3.8" ry="2.5" class="db"/>
<ellipse cx="367.7" cy="1286.4" rx="5.6" ry="3.8" class="ds"/>
<ellipse cx="367.1" cy="1285.0" rx="5.3" ry="3.5" class="db"/>
<ellipse cx="339.8" cy="1244.1" rx="6.2" ry="5.0" class="ds"/>
<ellipse cx="339.2" cy="1242.7" rx="5.9" ry="4.7" class="db"/>
<ellipse cx="289.7" cy="1237.4" rx="4.0" ry="2.6" class="ds"/>
<ellipse cx="289.1" cy="1236.0" rx="3.7" ry="2.3" class="db"/>
<ellipse cx="264.2" cy="1264.0" rx="6.3" ry="4.3" class="ds"/>
<ellipse cx="263.6" cy="1262.6" rx="6.0" ry="4.0" class="db"/>
<ellipse cx="206.6" cy="1291.3" rx="4.6" ry="2.9" class="ds"/>
<ellipse cx="206.0" cy="1289.9" rx="4.3" ry="2.6" class="db"/>
<ellipse cx="242.4" cy="1287.1" rx="4.3" ry="3.5" class="ds"/>
<ellipse cx="241.8" cy="1285.7" rx="4.0" ry="3.2" class="db"/>
<ellipse cx="425.7" cy="1264.4" rx="4.4" ry="3.1" class="ds"/>
<ellipse cx="425.1" cy="1263.0" rx="4.1" ry="2.8" class="db"/>
<ellipse cx="248.7" cy="1254.2" rx="6.4" ry="4.0" class="ds"/>
<ellipse cx="248.1" cy="1252.8" rx="6.1" ry="3.7" class="db"/>
<ellipse cx="354.4" cy="1288.2" rx="6.1" ry="4.4" class="ds"/>
<ellipse cx="353.8" cy="1286.8" rx="5.8" ry="4.1" class="db"/>
<ellipse cx="398.9" cy="1262.1" rx="6.4" ry="4.1" class="ds"/>
<ellipse cx="398.3" cy="1260.7" rx="6.1" ry="3.8" class="db"/>
<ellipse cx="349.3" cy="1296.9" rx="4.4" ry="3.4" class="ds"/>
<ellipse cx="348.7" cy="1295.5" rx="4.1" ry="3.1" class="db"/>
<ellipse cx="265.2" cy="1239.5" rx="5.6" ry="3.7" class="ds"/>
<ellipse cx="264.6" cy="1238.1" rx="5.3" ry="3.4" class="db"/>
<ellipse cx="430.8" cy="1255.1" rx="6.4" ry="5.4" class="ds"/>
<ellipse cx="430.2" cy="1253.7" rx="6.1" ry="5.1" class="db"/>
<ellipse cx="197.3" cy="1276.2" rx="4.2" ry="2.7" class="ds"/>
<ellipse cx="196.7" cy="1274.8" rx="3.9" ry="2.4" class="db"/>
<ellipse cx="393.0" cy="1287.6" rx="6.1" ry="4.4" class="ds"/>
<ellipse cx="392.4" cy="1286.2" rx="5.8" ry="4.1" class="db"/>
<ellipse cx="289.2" cy="1237.6" rx="4.3" ry="3.6" class="ds"/>
<ellipse cx="288.6" cy="1236.2" rx="4.0" ry="3.3" class="db"/>
<ellipse cx="240.2" cy="1242.9" rx="5.4" ry="4.5" class="ds"/>
<ellipse cx="239.6" cy="1241.5" rx="5.1" ry="4.2" class="db"/>
<ellipse cx="288.8" cy="1268.7" rx="5.7" ry="3.9" class="ds"/>
<ellipse cx="288.2" cy="1267.3" rx="5.4" ry="3.6" class="db"/>
<ellipse cx="271.8" cy="1255.2" rx="6.5" ry="4.3" class="ds"/>
<ellipse cx="271.2" cy="1253.8" rx="6.2" ry="4.0" class="db"/>
<ellipse cx="295.3" cy="1295.0" rx="6.3" ry="4.1" class="ds"/>
<ellipse cx="294.7" cy="1293.6" rx="6.0" ry="3.8" class="db"/>
<ellipse cx="404.1" cy="1244.5" rx="4.4" ry="3.0" class="ds"/>
<ellipse cx="403.5" cy="1243.1" rx="4.1" ry="2.7" class="db"/>
<ellipse cx="296.2" cy="1242.4" rx="5.1" ry="3.8" class="ds"/>
<ellipse cx="295.6" cy="1241.0" rx="4.8" ry="3.5" class="db"/>
<ellipse cx="325.6" cy="1239.5" rx="5.0" ry="3.3" class="ds"/>
<ellipse cx="325.0" cy="1238.1" rx="4.7" ry="3.0" class="db"/>
<ellipse cx="301.5" cy="1280.1" rx="5.2" ry="3.4" class="ds"/>
<ellipse cx="300.9" cy="1278.7" rx="4.9" ry="3.1" class="db"/>
<ellipse cx="392.0" cy="1261.3" rx="4.5" ry="3.2" class="ds"/>
<ellipse cx="391.4" cy="1259.9" rx="4.2" ry="2.9" class="db"/>
<ellipse cx="303.4" cy="1237.4" rx="5.9" ry="3.9" class="ds"/>
<ellipse cx="302.8" cy="1236.0" rx="5.6" ry="3.6" class="db"/>
<ellipse cx="421.9" cy="1238.1" rx="4.7" ry="3.6" class="ds"/>
<ellipse cx="421.3" cy="1236.7" rx="4.4" ry="3.3" class="db"/>
<ellipse cx="380.1" cy="1280.7" rx="5.0" ry="4.0" class="ds"/>
<ellipse cx="379.5" cy="1279.3" rx="4.7" ry="3.7" class="db"/>
<ellipse cx="367.3" cy="1282.0" rx="3.7" ry="3.0" class="ds"/>
<ellipse cx="366.7" cy="1280.6" rx="3.4" ry="2.7" class="db"/>
<ellipse cx="162.2" cy="1240.1" rx="4.5" ry="3.6" class="ds"/>
<ellipse cx="161.6" cy="1238.7" rx="4.2" ry="3.3" class="db"/>
<ellipse cx="319.1" cy="1248.8" rx="4.5" ry="3.0" class="ds"/>
<ellipse cx="318.5" cy="1247.4" rx="4.2" ry="2.7" class="db"/>
<ellipse cx="266.1" cy="1267.4" rx="6.0" ry="4.8" class="ds"/>
<ellipse cx="265.5" cy="1266.0" rx="5.7" ry="4.5" class="db"/>
<ellipse cx="300.8" cy="1274.8" rx="5.4" ry="4.2" class="ds"/>
<ellipse cx="300.2" cy="1273.4" rx="5.1" ry="3.9" class="db"/>
<ellipse cx="155.5" cy="1237.7" rx="4.3" ry="3.1" class="ds"/>
<ellipse cx="154.9" cy="1236.3" rx="4.0" ry="2.8" class="db"/>
<ellipse cx="146.9" cy="1268.1" rx="5.5" ry="3.8" class="ds"/>
<ellipse cx="146.3" cy="1266.7" rx="5.2" ry="3.5" class="db"/>
<ellipse cx="207.5" cy="1247.8" rx="6.4" ry="4.4" class="ds"/>
<ellipse cx="206.9" cy="1246.4" rx="6.1" ry="4.1" class="db"/>
<ellipse cx="142.7" cy="1249.8" rx="5.3" ry="3.8" class="ds"/>
<ellipse cx="142.1" cy="1248.4" rx="5.0" ry="3.5" class="db"/>
<ellipse cx="323.3" cy="1260.8" rx="6.5" ry="5.2" class="ds"/>
<ellipse cx="322.7" cy="1259.4" rx="6.2" ry="4.9" class="db"/>
<ellipse cx="405.4" cy="1272.5" rx="5.9" ry="4.8" class="ds"/>
<ellipse cx="404.8" cy="1271.1" rx="5.6" ry="4.5" class="db"/>
<ellipse cx="198.7" cy="1251.4" rx="5.5" ry="4.1" class="ds"/>
<ellipse cx="198.1" cy="1250.0" rx="5.2" ry="3.8" class="db"/>
<ellipse cx="259.1" cy="1271.1" rx="4.7" ry="3.3" class="ds"/>
<ellipse cx="258.5" cy="1269.7" rx="4.4" ry="3.0" class="db"/>
<ellipse cx="262.9" cy="1249.4" rx="4.9" ry="3.5" class="ds"/>
<ellipse cx="262.3" cy="1248.0" rx="4.6" ry="3.2" class="db"/>
<ellipse cx="242.1" cy="1261.3" rx="4.1" ry="2.9" class="ds"/>
<ellipse cx="241.5" cy="1259.9" rx="3.8" ry="2.6" class="db"/>
<ellipse cx="238.2" cy="1278.6" rx="4.5" ry="3.3" class="ds"/>
<ellipse cx="237.6" cy="1277.2" rx="4.2" ry="3.0" class="db"/>
<ellipse cx="227.2" cy="1257.1" rx="6.2" ry="5.2" class="ds"/>
<ellipse cx="226.6" cy="1255.7" rx="5.9" ry="4.9" class="db"/>
<ellipse cx="372.0" cy="1266.0" rx="5.1" ry="3.4" class="ds"/>
<ellipse cx="371.4" cy="1264.6" rx="4.8" ry="3.1" class="db"/>
<ellipse cx="260.9" cy="1239.9" rx="6.1" ry="5.1" class="ds"/>
<ellipse cx="260.3" cy="1238.5" rx="5.8" ry="4.8" class="db"/>
<ellipse cx="148.8" cy="1240.6" rx="6.4" ry="4.8" class="ds"/>
<ellipse cx="148.2" cy="1239.2" rx="6.1" ry="4.5" class="db"/>
<ellipse cx="348.3" cy="1263.5" rx="5.7" ry="4.8" class="ds"/>
<ellipse cx="347.7" cy="1262.1" rx="5.4" ry="4.5" class="db"/>
<ellipse cx="212.6" cy="1268.4" rx="6.4" ry="4.8" class="ds"/>
<ellipse cx="212.0" cy="1267.0" rx="6.1" ry="4.5" class="db"/>
<ellipse cx="277.3" cy="1237.5" rx="6.2" ry="4.6" class="ds"/>
<ellipse cx="276.7" cy="1236.1" rx="5.9" ry="4.3" class="db"/>
<ellipse cx="152.2" cy="1253.5" rx="6.0" ry="4.9" class="ds"/>
<ellipse cx="151.6" cy="1252.1" rx="5.7" ry="4.6" class="db"/>
<ellipse cx="420.0" cy="1268.4" rx="4.5" ry="3.0" class="ds"/>
<ellipse cx="419.4" cy="1267.0" rx="4.2" ry="2.7" class="db"/>
<ellipse cx="272.2" cy="1242.5" rx="6.4" ry="4.0" class="ds"/>
<ellipse cx="271.6" cy="1241.1" rx="6.1" ry="3.7" class="db"/>
<ellipse cx="185.3" cy="1258.0" rx="5.7" ry="3.8" class="ds"/>
<ellipse cx="184.7" cy="1256.6" rx="5.4" ry="3.5" class="db"/>
<ellipse cx="346.2" cy="1288.5" rx="5.1" ry="4.2" class="ds"/>
<ellipse cx="345.6" cy="1287.1" rx="4.8" ry="3.9" class="db"/>
<ellipse cx="273.4" cy="1244.7" rx="4.4" ry="3.1" class="ds"/>
<ellipse cx="272.8" cy="1243.3" rx="4.1" ry="2.8" class="db"/>
<ellipse cx="329.8" cy="1275.3" rx="6.2" ry="5.1" class="ds"/>
<ellipse cx="329.2" cy="1273.9" rx="5.9" ry="4.8" class="db"/>
<ellipse cx="181.7" cy="1237.5" rx="5.6" ry="3.7" class="ds"/>
<ellipse cx="181.1" cy="1236.1" rx="5.3" ry="3.4" class="db"/>
<ellipse cx="381.4" cy="1240.6" rx="6.0" ry="4.2" class="ds"/>
<ellipse cx="380.8" cy="1239.2" rx="5.7" ry="3.9" class="db"/>
<ellipse cx="385.9" cy="1237.7" rx="4.3" ry="3.0" class="ds"/>
<ellipse cx="385.3" cy="1236.3" rx="4.0" ry="2.7" class="db"/>
<ellipse cx="401.5" cy="1254.2" rx="4.0" ry="3.3" class="ds"/>
<ellipse cx="400.9" cy="1252.8" rx="3.7" ry="3.0" class="db"/>
<ellipse cx="312.6" cy="1293.8" rx="5.8" ry="4.5" class="ds"/>
<ellipse cx="312.0" cy="1292.4" rx="5.5" ry="4.2" class="db"/>
<ellipse cx="284.1" cy="1259.5" rx="4.9" ry="3.9" class="ds"/>
<ellipse cx="283.5" cy="1258.1" rx="4.6" ry="3.6" class="db"/>
<ellipse cx="134.1" cy="1243.2" rx="5.5" ry="4.6" class="ds"/>
<ellipse cx="133.5" cy="1241.8" rx="5.2" ry="4.3" class="db"/>
<ellipse cx="255.4" cy="1243.4" rx="5.5" ry="3.5" class="ds"/>
<ellipse cx="254.8" cy="1242.0" rx="5.2" ry="3.2" class="db"/>
<ellipse cx="376.7" cy="1259.1" rx="5.4" ry="3.6" class="ds"/>
<ellipse cx="376.1" cy="1257.7" rx="5.1" ry="3.3" class="db"/>
<ellipse cx="379.5" cy="1239.5" rx="5.1" ry="3.9" class="ds"/>
<ellipse cx="378.9" cy="1238.1" rx="4.8" ry="3.6" class="db"/>
<ellipse cx="228.6" cy="1261.9" rx="5.3" ry="3.4" class="ds"/>
<ellipse cx="228.0" cy="1260.5" rx="5.0" ry="3.1" class="db"/>
<ellipse cx="340.3" cy="1263.7" rx="4.5" ry="3.3" class="ds"/>
<ellipse cx="339.7" cy="1262.3" rx="4.2" ry="3.0" class="db"/>
<ellipse cx="150.2" cy="1240.3" rx="5.9" ry="4.6" class="ds"/>
<ellipse cx="149.6" cy="1238.9" rx="5.6" ry="4.3" class="db"/>
<ellipse cx="249.5" cy="1242.7" rx="3.9" ry="2.7" class="ds"/>
<ellipse cx="248.9" cy="1241.3" rx="3.6" ry="2.4" class="db"/>
<ellipse cx="248.6" cy="1238.8" rx="5.9" ry="4.3" class="ds"/>
<ellipse cx="248.0" cy="1237.4" rx="5.6" ry="4.0" class="db"/>
<ellipse cx="326.2" cy="1239.1" rx="5.6" ry="4.1" class="ds"/>
<ellipse cx="325.6" cy="1237.7" rx="5.3" ry="3.8" class="db"/>
<ellipse cx="235.8" cy="1284.3" rx="4.5" ry="3.0" class="ds"/>
<ellipse cx="235.2" cy="1282.9" rx="4.2" ry="2.7" class="db"/>
<ellipse cx="340.1" cy="1243.1" rx="5.2" ry="4.1" class="ds"/>
<ellipse cx="339.5" cy="1241.7" rx="4.9" ry="3.8" class="db"/>
<ellipse cx="385.2" cy="1247.8" rx="5.1" ry="3.5" class="ds"/>
<ellipse cx="384.6" cy="1246.4" rx="4.8" ry="3.2" class="db"/>
<ellipse cx="312.9" cy="1251.9" rx="4.7" ry="3.8" class="ds"/>
<ellipse cx="312.3" cy="1250.5" rx="4.4" ry="3.5" class="db"/>
<ellipse cx="197.0" cy="1237.7" rx="6.1" ry="5.1" class="ds"/>
<ellipse cx="196.4" cy="1236.3" rx="5.8" ry="4.8" class="db"/>
<ellipse cx="429.4" cy="1252.9" rx="6.2" ry="4.8" class="ds"/>
<ellipse cx="428.8" cy="1251.5" rx="5.9" ry="4.5" class="db"/>
<ellipse cx="234.4" cy="1247.3" rx="4.6" ry="3.2" class="ds"/>
<ellipse cx="233.8" cy="1245.9" rx="4.3" ry="2.9" class="db"/>
<ellipse cx="412.8" cy="1238.0" rx="5.0" ry="4.0" class="ds"/>
<ellipse cx="412.2" cy="1236.6" rx="4.7" ry="3.7" class="db"/>
<ellipse cx="136.3" cy="1280.9" rx="4.6" ry="3.6" class="ds"/>
<ellipse cx="135.7" cy="1279.5" rx="4.3" ry="3.3" class="db"/>
<ellipse cx="379.6" cy="1289.6" rx="5.8" ry="3.8" class="ds"/>
<ellipse cx="379.0" cy="1288.2" rx="5.5" ry="3.5" class="db"/>
<ellipse cx="214.0" cy="1238.8" rx="4.4" ry="3.0" class="ds"/>
<ellipse cx="213.4" cy="1237.4" rx="4.1" ry="2.7" class="db"/>
<ellipse cx="314.7" cy="1285.9" rx="6.4" ry="5.3" class="ds"/>
<ellipse cx="314.1" cy="1284.5" rx="6.1" ry="5.0" class="db"/>
<ellipse cx="234.6" cy="1247.0" rx="4.9" ry="4.0" class="ds"/>
<ellipse cx="234.0" cy="1245.6" rx="4.6" ry="3.7" class="db"/>
<ellipse cx="282.1" cy="1278.3" rx="3.9" ry="3.1" class="ds"/>
<ellipse cx="281.5" cy="1276.9" rx="3.6" ry="2.8" class="db"/>
<ellipse cx="203.8" cy="1269.1" rx="5.6" ry="4.8" class="ds"/>
<ellipse cx="203.2" cy="1267.7" rx="5.3" ry="4.5" class="db"/>
<ellipse cx="396.6" cy="1278.9" rx="4.3" ry="3.7" class="ds"/>
<ellipse cx="396.0" cy="1277.5" rx="4.0" ry="3.4" class="db"/>
<ellipse cx="353.3" cy="1251.7" rx="4.4" ry="3.1" class="ds"/>
<ellipse cx="352.7" cy="1250.3" rx="4.1" ry="2.8" class="db"/>
<ellipse cx="404.2" cy="1255.4" rx="6.2" ry="4.3" class="ds"/>
<ellipse cx="403.6" cy="1254.0" rx="5.9" ry="4.0" class="db"/>
<ellipse cx="413.9" cy="1270.7" rx="4.7" ry="3.3" class="ds"/>
<ellipse cx="413.3" cy="1269.3" rx="4.4" ry="3.0" class="db"/>
<ellipse cx="374.8" cy="1281.3" rx="4.3" ry="2.9" class="ds"/>
<ellipse cx="374.2" cy="1279.9" rx="4.0" ry="2.6" class="db"/>
<ellipse cx="379.4" cy="1257.8" rx="3.8" ry="3.1" class="ds"/>
<ellipse cx="378.8" cy="1256.4" rx="3.5" ry="2.8" class="db"/>
<ellipse cx="282.1" cy="1241.4" rx="6.1" ry="4.7" class="ds"/>
<ellipse cx="281.5" cy="1240.0" rx="5.8" ry="4.4" class="db"/>
<ellipse cx="331.9" cy="1243.1" rx="5.9" ry="4.0" class="ds"/>
<ellipse cx="331.3" cy="1241.7" rx="5.6" ry="3.7" class="db"/>
<ellipse cx="324.7" cy="1248.9" rx="4.0" ry="2.9" class="ds"/>
<ellipse cx="324.1" cy="1247.5" rx="3.7" ry="2.6" class="db"/>
<ellipse cx="378.2" cy="1246.5" rx="3.7" ry="2.8" class="ds"/>
<ellipse cx="377.6" cy="1245.1" rx="3.4" ry="2.5" class="db"/>
<ellipse cx="329.8" cy="1254.5" rx="3.9" ry="2.4" class="ds"/>
<ellipse cx="329.2" cy="1253.1" rx="3.6" ry="2.1" class="db"/>
<ellipse cx="305.8" cy="1250.6" rx="4.3" ry="3.4" class="ds"/>
<ellipse cx="305.2" cy="1249.2" rx="4.0" ry="3.1" class="db"/>
<ellipse cx="311.3" cy="1242.2" rx="4.6" ry="3.8" class="ds"/>
<ellipse cx="310.7" cy="1240.8" rx="4.3" ry="3.5" class="db"/>
<ellipse cx="328.4" cy="1237.5" rx="5.3" ry="4.4" class="ds"/>
<ellipse cx="327.8" cy="1236.1" rx="5.0" ry="4.1" class="db"/>
<ellipse cx="383.5" cy="1250.0" rx="4.6" ry="3.4" class="ds"/>
<ellipse cx="382.9" cy="1248.6" rx="4.3" ry="3.1" class="db"/>
<ellipse cx="317.8" cy="1251.2" rx="6.3" ry="5.3" class="ds"/>
<ellipse cx="317.2" cy="1249.8" rx="6.0" ry="5.0" class="db"/>
<ellipse cx="334.6" cy="1287.8" rx="6.4" ry="4.6" class="ds"/>
<ellipse cx="334.0" cy="1286.4" rx="6.1" ry="4.3" class="db"/>
<ellipse cx="128.4" cy="1237.8" rx="5.1" ry="3.3" class="ds"/>
<ellipse cx="127.8" cy="1236.4" rx="4.8" ry="3.0" class="db"/>
<ellipse cx="388.2" cy="1246.7" rx="5.1" ry="4.3" class="ds"/>
<ellipse cx="387.6" cy="1245.3" rx="4.8" ry="4.0" class="db"/>
<ellipse cx="373.4" cy="1293.2" rx="4.5" ry="3.1" class="ds"/>
<ellipse cx="372.8" cy="1291.8" rx="4.2" ry="2.8" class="db"/>
<ellipse cx="276.3" cy="1243.6" rx="4.5" ry="3.5" class="ds"/>
<ellipse cx="275.7" cy="1242.2" rx="4.2" ry="3.2" class="db"/>
<ellipse cx="332.9" cy="1245.5" rx="4.5" ry="3.1" class="ds"/>
<ellipse cx="332.3" cy="1244.1" rx="4.2" ry="2.8" class="db"/>
<ellipse cx="181.6" cy="1240.6" rx="4.0" ry="3.1" class="ds"/>
<ellipse cx="181.0" cy="1239.2" rx="3.7" ry="2.8" class="db"/>
<ellipse cx="206.7" cy="1295.9" rx="5.6" ry="4.1" class="ds"/>
<ellipse cx="206.1" cy="1294.5" rx="5.3" ry="3.8" class="db"/>
<ellipse cx="385.3" cy="1263.5" rx="5.7" ry="3.8" class="ds"/>
<ellipse cx="384.7" cy="1262.1" rx="5.4" ry="3.5" class="db"/>
<ellipse cx="372.5" cy="1246.0" rx="4.5" ry="3.1" class="ds"/>
<ellipse cx="371.9" cy="1244.6" rx="4.2" ry="2.8" class="db"/>
<ellipse cx="228.2" cy="1244.0" rx="3.8" ry="2.7" class="ds"/>
<ellipse cx="227.6" cy="1242.6" rx="3.5" ry="2.4" class="db"/>
<ellipse cx="315.4" cy="1245.0" rx="6.3" ry="4.1" class="ds"/>
<ellipse cx="314.8" cy="1243.6" rx="6.0" ry="3.8" class="db"/>
<ellipse cx="152.0" cy="1254.6" rx="4.7" ry="3.4" class="ds"/>
<ellipse cx="151.4" cy="1253.2" rx="4.4" ry="3.1" class="db"/>
<ellipse cx="241.1" cy="1268.6" rx="4.5" ry="3.1" class="ds"/>
<ellipse cx="240.5" cy="1267.2" rx="4.2" ry="2.8" class="db"/>
<ellipse cx="249.6" cy="1242.6" rx="5.6" ry="4.1" class="ds"/>
<ellipse cx="249.0" cy="1241.2" rx="5.3" ry="3.8" class="db"/>
<ellipse cx="324.0" cy="1295.7" rx="5.1" ry="3.7" class="ds"/>
<ellipse cx="323.4" cy="1294.3" rx="4.8" ry="3.4" class="db"/>
<ellipse cx="299.4" cy="1297.4" rx="5.2" ry="3.3" class="ds"/>
<ellipse cx="298.8" cy="1296.0" rx="4.9" ry="3.0" class="db"/>
<ellipse cx="309.0" cy="1252.4" rx="5.5" ry="4.5" class="ds"/>
<ellipse cx="308.4" cy="1251.0" rx="5.2" ry="4.2" class="db"/>
<ellipse cx="207.9" cy="1237.9" rx="4.8" ry="3.7" class="ds"/>
<ellipse cx="207.3" cy="1236.5" rx="4.5" ry="3.4" class="db"/>
<ellipse cx="411.6" cy="1263.1" rx="4.5" ry="3.3" class="ds"/>
<ellipse cx="411.0" cy="1261.7" rx="4.2" ry="3.0" class="db"/>
<ellipse cx="289.7" cy="1249.1" rx="6.1" ry="4.8" class="ds"/>
<ellipse cx="289.1" cy="1247.7" rx="5.8" ry="4.5" class="db"/>
<ellipse cx="246.5" cy="1262.7" rx="4.0" ry="2.8" class="ds"/>
<ellipse cx="245.9" cy="1261.3" rx="3.7" ry="2.5" class="db"/>
<ellipse cx="408.7" cy="1284.7" rx="4.2" ry="3.0" class="ds"/>
<ellipse cx="408.1" cy="1283.3" rx="3.9" ry="2.7" class="db"/>
<ellipse cx="405.6" cy="1243.7" rx="4.2" ry="2.9" class="ds"/>
<ellipse cx="405.0" cy="1242.3" rx="3.9" ry="2.6" class="db"/>
<ellipse cx="188.1" cy="1238.8" rx="4.4" ry="3.7" class="ds"/>
<ellipse cx="187.5" cy="1237.4" rx="4.1" ry="3.4" class="db"/>
<ellipse cx="373.8" cy="1261.9" rx="5.2" ry="3.8" class="ds"/>
<ellipse cx="373.2" cy="1260.5" rx="4.9" ry="3.5" class="db"/>
<ellipse cx="183.7" cy="1237.5" rx="5.2" ry="3.7" class="ds"/>
<ellipse cx="183.1" cy="1236.1" rx="4.9" ry="3.4" class="db"/>
<ellipse cx="413.0" cy="1237.6" rx="4.0" ry="3.3" class="ds"/>
<ellipse cx="412.4" cy="1236.2" rx="3.7" ry="3.0" class="db"/>
<ellipse cx="313.9" cy="1266.0" rx="5.9" ry="4.9" class="ds"/>
<ellipse cx="313.3" cy="1264.6" rx="5.6" ry="4.6" class="db"/>
<ellipse cx="331.9" cy="1262.5" rx="4.2" ry="3.3" class="ds"/>
<ellipse cx="331.3" cy="1261.1" rx="3.9" ry="3.0" class="db"/>
<ellipse cx="359.5" cy="1239.4" rx="6.3" ry="5.2" class="ds"/>
<ellipse cx="358.9" cy="1238.0" rx="6.0" ry="4.9" class="db"/>
<ellipse cx="407.1" cy="1288.4" rx="3.8" ry="2.7" class="ds"/>
<ellipse cx="406.5" cy="1287.0" rx="3.5" ry="2.4" class="db"/>
<ellipse cx="384.8" cy="1282.1" rx="4.1" ry="3.4" class="ds"/>
<ellipse cx="384.2" cy="1280.7" rx="3.8" ry="3.1" class="db"/>
<ellipse cx="145.3" cy="1288.9" rx="4.6" ry="3.0" class="ds"/>
<ellipse cx="144.7" cy="1287.5" rx="4.3" ry="2.7" class="db"/>
<ellipse cx="337.9" cy="1295.2" rx="4.2" ry="2.8" class="ds"/>
<ellipse cx="337.3" cy="1293.8" rx="3.9" ry="2.5" class="db"/>
<ellipse cx="407.8" cy="1280.4" rx="6.4" ry="5.2" class="ds"/>
<ellipse cx="407.2" cy="1279.0" rx="6.1" ry="4.9" class="db"/>
<ellipse cx="375.7" cy="1258.3" rx="5.8" ry="4.3" class="ds"/>
<ellipse cx="375.1" cy="1256.9" rx="5.5" ry="4.0" class="db"/>
<ellipse cx="136.8" cy="1243.7" rx="4.2" ry="3.4" class="ds"/>
<ellipse cx="136.2" cy="1242.3" rx="3.9" ry="3.1" class="db"/>
<ellipse cx="291.0" cy="1291.4" rx="5.7" ry="4.5" class="ds"/>
<ellipse cx="290.4" cy="1290.0" rx="5.4" ry="4.2" class="db"/>
<ellipse cx="269.7" cy="1237.8" rx="5.0" ry="3.2" class="ds"/>
<ellipse cx="269.1" cy="1236.4" rx="4.7" ry="2.9" class="db"/>
<ellipse cx="281.3" cy="1273.8" rx="4.5" ry="3.6" class="ds"/>
<ellipse cx="280.7" cy="1272.4" rx="4.2" ry="3.3" class="db"/>
</g>
<path d="M432,1232.5 L479.4,1232 L479.4,1272 C465,1273 455,1278 448,1290 C443,1305 441,1330 440,1357 L438,1357 C438,1320 436,1280 432,1232.5 Z" fill="url(#bolG)"/>
<rect x="455" y="1232" width="24.399999999999977" height="40" fill="url(#ferrule)"/>
<path d="M437,1234 L455,1234 C466,1248 470,1262 466,1272 C455,1274 447,1282 443,1295 L439,1310 Z" fill="#f4f4f4"/>
<rect x="479.4" y="1232" width="7.2000000000000455" height="40" fill="#f0eeee"/>
<rect x="479.4" y="1232" width="1.8" height="40" fill="#b3322c"/>
<rect x="484.8" y="1232" width="1.8" height="40" fill="#b3322c"/>
<clipPath id="cw3"><path d="M486.6,1231 L687.6,1228.5 L687.6,1279 L486.6,1273 Z"/></clipPath>
<path d="M486.6,1231 L687.6,1228.5 L687.6,1279 L486.6,1273 Z" fill="url(#woodG)"/>
<g clip-path="url(#cw3)">
<line x1="486.6" y1="1230.2" x2="687.6" y2="1230.3" stroke="#5a3a28" stroke-width="0.5" opacity="0.55"/>
<line x1="486.6" y1="1232.1" x2="687.6" y2="1230.6" stroke="#6a4630" stroke-width="0.9" opacity="0.55"/>
<line x1="486.6" y1="1233.6" x2="687.6" y2="1232.9" stroke="#b48a66" stroke-width="0.7" opacity="0.55"/>
<line x1="486.6" y1="1235.6" x2="687.6" y2="1235.3" stroke="#b48a66" stroke-width="0.7" opacity="0.55"/>
<line x1="486.6" y1="1237.9" x2="687.6" y2="1239.1" stroke="#6a4630" stroke-width="0.9" opacity="0.55"/>
<line x1="486.6" y1="1238.7" x2="687.6" y2="1238.5" stroke="#704b34" stroke-width="0.8" opacity="0.55"/>
<line x1="486.6" y1="1241.7" x2="687.6" y2="1240.4" stroke="#a57c5a" stroke-width="0.8" opacity="0.55"/>
<line x1="486.6" y1="1242.8" x2="687.6" y2="1242.3" stroke="#704b34" stroke-width="0.8" opacity="0.55"/>
<line x1="486.6" y1="1244.9" x2="687.6" y2="1244.9" stroke="#5a3a28" stroke-width="1.0" opacity="0.55"/>
<line x1="486.6" y1="1246.2" x2="687.6" y2="1246.3" stroke="#6a4630" stroke-width="0.8" opacity="0.55"/>
<line x1="486.6" y1="1249.4" x2="687.6" y2="1248.7" stroke="#5a3a28" stroke-width="0.7" opacity="0.55"/>
<line x1="486.6" y1="1251.5" x2="687.6" y2="1252.6" stroke="#5a3a28" stroke-width="0.7" opacity="0.55"/>
<line x1="486.6" y1="1252.1" x2="687.6" y2="1251.5" stroke="#704b34" stroke-width="1.0" opacity="0.55"/>
<line x1="486.6" y1="1254.3" x2="687.6" y2="1255.6" stroke="#704b34" stroke-width="0.7" opacity="0.55"/>
<line x1="486.6" y1="1256.2" x2="687.6" y2="1255.2" stroke="#b48a66" stroke-width="0.8" opacity="0.55"/>
<line x1="486.6" y1="1258.4" x2="687.6" y2="1257.9" stroke="#a57c5a" stroke-width="0.7" opacity="0.55"/>
<line x1="486.6" y1="1259.9" x2="687.6" y2="1259.8" stroke="#b48a66" stroke-width="0.6" opacity="0.55"/>
<line x1="486.6" y1="1262.5" x2="687.6" y2="1261.0" stroke="#a57c5a" stroke-width="0.6" opacity="0.55"/>
<line x1="486.6" y1="1265.2" x2="687.6" y2="1264.5" stroke="#5a3a28" stroke-width="0.5" opacity="0.55"/>
<line x1="486.6" y1="1267.0" x2="687.6" y2="1266.0" stroke="#b48a66" stroke-width="0.7" opacity="0.55"/>
<line x1="486.6" y1="1268.3" x2="687.6" y2="1266.9" stroke="#a57c5a" stroke-width="0.5" opacity="0.55"/>
<line x1="486.6" y1="1270.8" x2="687.6" y2="1272.2" stroke="#704b34" stroke-width="0.6" opacity="0.55"/>
<line x1="486.6" y1="1272.6" x2="687.6" y2="1273.2" stroke="#a57c5a" stroke-width="0.6" opacity="0.55"/>
<line x1="486.6" y1="1273.5" x2="687.6" y2="1272.1" stroke="#5a3a28" stroke-width="0.9" opacity="0.55"/>
<line x1="486.6" y1="1276.6" x2="687.6" y2="1276.2" stroke="#a57c5a" stroke-width="0.8" opacity="0.55"/>
<line x1="486.6" y1="1278.4" x2="687.6" y2="1278.2" stroke="#704b34" stroke-width="0.8" opacity="0.55"/>
<path d="M671.3,1257.8 C671.3,1241.0 639.1,1239.1 625.3,1239.1 C553.9,1239.1 482.6,1246.6 482.6,1257.8 C482.6,1269.0 553.9,1276.5 625.3,1276.5 C639.1,1276.5 671.3,1274.6 671.3,1257.8 Z" fill="#8a6042" stroke="#4a2d1d" stroke-width="1.2" opacity="0.95"/>
<path d="M671.3,1257.8 C671.3,1241.0 639.1,1239.1 625.3,1239.1 C553.9,1239.1 482.6,1246.6 482.6,1257.8 C482.6,1269.0 553.9,1276.5 625.3,1276.5 C639.1,1276.5 671.3,1274.6 671.3,1257.8 Z" fill="none" stroke="#c79f7c" stroke-width="0.9" opacity="0.5" transform="translate(3,0)"/>
<path d="M666.8,1257.8 C666.8,1242.8 637.7,1241.1 625.3,1241.1 C562.0,1241.1 498.7,1247.8 498.7,1257.8 C498.7,1267.8 562.0,1274.5 625.3,1274.5 C637.7,1274.5 666.8,1272.8 666.8,1257.8 Z" fill="#a67b58" stroke="#4a2d1d" stroke-width="1.2" opacity="0.95"/>
<path d="M666.8,1257.8 C666.8,1242.8 637.7,1241.1 625.3,1241.1 C562.0,1241.1 498.7,1247.8 498.7,1257.8 C498.7,1267.8 562.0,1274.5 625.3,1274.5 C637.7,1274.5 666.8,1272.8 666.8,1257.8 Z" fill="none" stroke="#c79f7c" stroke-width="0.9" opacity="0.5" transform="translate(3,0)"/>
<path d="M662.3,1257.8 C662.3,1244.6 636.4,1243.1 625.3,1243.1 C570.0,1243.1 514.8,1249.0 514.8,1257.8 C514.8,1266.6 570.0,1272.4 625.3,1272.4 C636.4,1272.4 662.3,1271.0 662.3,1257.8 Z" fill="#8a6042" stroke="#4a2d1d" stroke-width="1.2" opacity="0.95"/>
<path d="M662.3,1257.8 C662.3,1244.6 636.4,1243.1 625.3,1243.1 C570.0,1243.1 514.8,1249.0 514.8,1257.8 C514.8,1266.6 570.0,1272.4 625.3,1272.4 C636.4,1272.4 662.3,1271.0 662.3,1257.8 Z" fill="none" stroke="#c79f7c" stroke-width="0.9" opacity="0.5" transform="translate(3,0)"/>
<path d="M657.8,1257.8 C657.8,1246.4 635.0,1245.2 625.3,1245.2 C578.1,1245.2 530.9,1250.2 530.9,1257.8 C530.9,1265.4 578.1,1270.4 625.3,1270.4 C635.0,1270.4 657.8,1269.2 657.8,1257.8 Z" fill="#a67b58" stroke="#4a2d1d" stroke-width="1.2" opacity="0.95"/>
<path d="M657.8,1257.8 C657.8,1246.4 635.0,1245.2 625.3,1245.2 C578.1,1245.2 530.9,1250.2 530.9,1257.8 C530.9,1265.4 578.1,1270.4 625.3,1270.4 C635.0,1270.4 657.8,1269.2 657.8,1257.8 Z" fill="none" stroke="#c79f7c" stroke-width="0.9" opacity="0.5" transform="translate(3,0)"/>
<path d="M653.3,1257.8 C653.3,1248.2 633.7,1247.2 625.3,1247.2 C586.1,1247.2 546.9,1251.4 546.9,1257.8 C546.9,1264.2 586.1,1268.4 625.3,1268.4 C633.7,1268.4 653.3,1267.3 653.3,1257.8 Z" fill="#8a6042" stroke="#4a2d1d" stroke-width="1.2" opacity="0.95"/>
<path d="M653.3,1257.8 C653.3,1248.2 633.7,1247.2 625.3,1247.2 C586.1,1247.2 546.9,1251.4 546.9,1257.8 C546.9,1264.2 586.1,1268.4 625.3,1268.4 C633.7,1268.4 653.3,1267.3 653.3,1257.8 Z" fill="none" stroke="#c79f7c" stroke-width="0.9" opacity="0.5" transform="translate(3,0)"/>
<path d="M648.8,1257.8 C648.8,1250.1 632.3,1249.2 625.3,1249.2 C594.2,1249.2 563.0,1252.6 563.0,1257.8 C563.0,1262.9 594.2,1266.4 625.3,1266.4 C632.3,1266.4 648.8,1265.5 648.8,1257.8 Z" fill="#a67b58" stroke="#4a2d1d" stroke-width="1.2" opacity="0.95"/>
<path d="M648.8,1257.8 C648.8,1250.1 632.3,1249.2 625.3,1249.2 C594.2,1249.2 563.0,1252.6 563.0,1257.8 C563.0,1262.9 594.2,1266.4 625.3,1266.4 C632.3,1266.4 648.8,1265.5 648.8,1257.8 Z" fill="none" stroke="#c79f7c" stroke-width="0.9" opacity="0.5" transform="translate(3,0)"/>
<path d="M644.3,1257.8 C644.3,1251.9 631.0,1251.2 625.3,1251.2 C602.2,1251.2 579.1,1253.9 579.1,1257.8 C579.1,1261.7 602.2,1264.4 625.3,1264.4 C631.0,1264.4 644.3,1263.7 644.3,1257.8 Z" fill="#8a6042" stroke="#4a2d1d" stroke-width="1.2" opacity="0.95"/>
<path d="M644.3,1257.8 C644.3,1251.9 631.0,1251.2 625.3,1251.2 C602.2,1251.2 579.1,1253.9 579.1,1257.8 C579.1,1261.7 602.2,1264.4 625.3,1264.4 C631.0,1264.4 644.3,1263.7 644.3,1257.8 Z" fill="none" stroke="#c79f7c" stroke-width="0.9" opacity="0.5" transform="translate(3,0)"/>
<path d="M639.8,1257.8 C639.8,1253.7 629.6,1253.2 625.3,1253.2 C610.2,1253.2 595.2,1255.1 595.2,1257.8 C595.2,1260.5 610.2,1262.3 625.3,1262.3 C629.6,1262.3 639.8,1261.9 639.8,1257.8 Z" fill="#a67b58" stroke="#4a2d1d" stroke-width="1.2" opacity="0.95"/>
<path d="M639.8,1257.8 C639.8,1253.7 629.6,1253.2 625.3,1253.2 C610.2,1253.2 595.2,1255.1 595.2,1257.8 C595.2,1260.5 610.2,1262.3 625.3,1262.3 C629.6,1262.3 639.8,1261.9 639.8,1257.8 Z" fill="none" stroke="#c79f7c" stroke-width="0.9" opacity="0.5" transform="translate(3,0)"/>
<ellipse cx="623.3" cy="1257.8" rx="22.1" ry="4.3" fill="#3c2a22" opacity="0.85"/>
<rect x="486.6" y="1274.0" width="201.0" height="5.1" fill="#5e4030" opacity="0.35"/>
</g>
<path d="M687.6,1230.0 L691.4,1230.5 Q693.4,1253.75 691.4,1277 L687.6,1277.5 Z" fill="url(#cap)"/>
<clipPath id="cb4"><path d="M76,1540 C95,1520 120,1502 165,1501 L405,1497.5 L408.6,1584 C330,1583 250,1578 142,1559 C110,1553 90,1547 76,1540 Z"/></clipPath>
<path d="M76,1540 C95,1520 120,1502 165,1501 L405,1497.5 L408.6,1584 C330,1583 250,1578 142,1559 C110,1553 90,1547 76,1540 Z" fill="url(#kblade)" stroke="#9a9a9a" stroke-width="0.8"/>
<g clip-path="url(#cb4)">
<rect x="105" y="1500.5" width="305" height="37.5" fill="#c8c8c8" opacity="0.4"/>
<ellipse cx="243.9" cy="1522.7" rx="6.1" ry="4.0" class="ds"/>
<ellipse cx="243.3" cy="1521.3" rx="5.8" ry="3.7" class="db"/>
<ellipse cx="143.3" cy="1505.5" rx="3.7" ry="2.5" class="ds"/>
<ellipse cx="142.7" cy="1504.1" rx="3.4" ry="2.2" class="db"/>
<ellipse cx="397.8" cy="1531.7" rx="4.8" ry="3.4" class="ds"/>
<ellipse cx="397.2" cy="1530.3" rx="4.5" ry="3.1" class="db"/>
<ellipse cx="222.0" cy="1504.7" rx="6.1" ry="4.6" class="ds"/>
<ellipse cx="221.4" cy="1503.3" rx="5.8" ry="4.3" class="db"/>
<ellipse cx="154.2" cy="1505.0" rx="6.4" ry="4.1" class="ds"/>
<ellipse cx="153.6" cy="1503.6" rx="6.1" ry="3.8" class="db"/>
<ellipse cx="392.5" cy="1504.1" rx="4.8" ry="3.5" class="ds"/>
<ellipse cx="391.9" cy="1502.7" rx="4.5" ry="3.2" class="db"/>
<ellipse cx="185.6" cy="1509.6" rx="4.4" ry="2.8" class="ds"/>
<ellipse cx="185.0" cy="1508.2" rx="4.1" ry="2.5" class="db"/>
<ellipse cx="352.0" cy="1517.2" rx="3.8" ry="3.0" class="ds"/>
<ellipse cx="351.4" cy="1515.8" rx="3.5" ry="2.7" class="db"/>
<ellipse cx="308.8" cy="1512.3" rx="6.0" ry="4.6" class="ds"/>
<ellipse cx="308.2" cy="1510.9" rx="5.7" ry="4.3" class="db"/>
<ellipse cx="278.8" cy="1508.8" rx="5.0" ry="4.0" class="ds"/>
<ellipse cx="278.2" cy="1507.4" rx="4.7" ry="3.7" class="db"/>
<ellipse cx="227.3" cy="1540.3" rx="6.1" ry="3.8" class="ds"/>
<ellipse cx="226.7" cy="1538.9" rx="5.8" ry="3.5" class="db"/>
<ellipse cx="194.7" cy="1504.0" rx="5.8" ry="4.5" class="ds"/>
<ellipse cx="194.1" cy="1502.6" rx="5.5" ry="4.2" class="db"/>
<ellipse cx="399.2" cy="1513.5" rx="4.3" ry="2.8" class="ds"/>
<ellipse cx="398.6" cy="1512.1" rx="4.0" ry="2.5" class="db"/>
<ellipse cx="357.7" cy="1526.4" rx="3.9" ry="2.8" class="ds"/>
<ellipse cx="357.1" cy="1525.0" rx="3.6" ry="2.5" class="db"/>
<ellipse cx="300.7" cy="1505.6" rx="4.2" ry="3.3" class="ds"/>
<ellipse cx="300.1" cy="1504.2" rx="3.9" ry="3.0" class="db"/>
<ellipse cx="299.8" cy="1510.9" rx="5.5" ry="3.8" class="ds"/>
<ellipse cx="299.2" cy="1509.5" rx="5.2" ry="3.5" class="db"/>
<ellipse cx="208.2" cy="1531.4" rx="5.5" ry="3.6" class="ds"/>
<ellipse cx="207.6" cy="1530.0" rx="5.2" ry="3.3" class="db"/>
<ellipse cx="355.7" cy="1510.4" rx="6.4" ry="4.4" class="ds"/>
<ellipse cx="355.1" cy="1509.0" rx="6.1" ry="4.1" class="db"/>
<ellipse cx="271.3" cy="1543.5" rx="5.4" ry="4.0" class="ds"/>
<ellipse cx="270.7" cy="1542.1" rx="5.1" ry="3.7" class="db"/>
<ellipse cx="210.9" cy="1511.2" rx="4.8" ry="3.6" class="ds"/>
<ellipse cx="210.3" cy="1509.8" rx="4.5" ry="3.3" class="db"/>
<ellipse cx="154.9" cy="1509.4" rx="6.3" ry="4.9" class="ds"/>
<ellipse cx="154.3" cy="1508.0" rx="6.0" ry="4.6" class="db"/>
<ellipse cx="252.6" cy="1529.1" rx="6.3" ry="4.0" class="ds"/>
<ellipse cx="252.0" cy="1527.7" rx="6.0" ry="3.7" class="db"/>
<ellipse cx="339.8" cy="1510.4" rx="5.2" ry="4.2" class="ds"/>
<ellipse cx="339.2" cy="1509.0" rx="4.9" ry="3.9" class="db"/>
<ellipse cx="321.5" cy="1523.7" rx="3.9" ry="2.7" class="ds"/>
<ellipse cx="320.9" cy="1522.3" rx="3.6" ry="2.4" class="db"/>
<ellipse cx="172.6" cy="1549.5" rx="4.4" ry="3.0" class="ds"/>
<ellipse cx="172.0" cy="1548.1" rx="4.1" ry="2.7" class="db"/>
<ellipse cx="275.4" cy="1511.9" rx="4.6" ry="3.4" class="ds"/>
<ellipse cx="274.8" cy="1510.5" rx="4.3" ry="3.1" class="db"/>
<ellipse cx="156.5" cy="1547.1" rx="6.3" ry="4.9" class="ds"/>
<ellipse cx="155.9" cy="1545.7" rx="6.0" ry="4.6" class="db"/>
<ellipse cx="236.9" cy="1550.9" rx="5.8" ry="4.5" class="ds"/>
<ellipse cx="236.3" cy="1549.5" rx="5.5" ry="4.2" class="db"/>
<ellipse cx="194.1" cy="1531.6" rx="5.8" ry="3.6" class="ds"/>
<ellipse cx="193.5" cy="1530.2" rx="5.5" ry="3.3" class="db"/>
<ellipse cx="277.6" cy="1508.1" rx="4.1" ry="2.7" class="ds"/>
<ellipse cx="277.0" cy="1506.7" rx="3.8" ry="2.4" class="db"/>
<ellipse cx="167.6" cy="1515.0" rx="5.1" ry="3.9" class="ds"/>
<ellipse cx="167.0" cy="1513.6" rx="4.8" ry="3.6" class="db"/>
<ellipse cx="169.6" cy="1547.7" rx="5.5" ry="4.3" class="ds"/>
<ellipse cx="169.0" cy="1546.3" rx="5.2" ry="4.0" class="db"/>
<ellipse cx="220.9" cy="1525.6" rx="4.6" ry="3.6" class="ds"/>
<ellipse cx="220.3" cy="1524.2" rx="4.3" ry="3.3" class="db"/>
<ellipse cx="139.9" cy="1538.6" rx="4.0" ry="2.6" class="ds"/>
<ellipse cx="139.3" cy="1537.2" rx="3.7" ry="2.3" class="db"/>
<ellipse cx="284.6" cy="1543.0" rx="6.3" ry="4.1" class="ds"/>
<ellipse cx="284.0" cy="1541.6" rx="6.0" ry="3.8" class="db"/>
<ellipse cx="385.2" cy="1545.2" rx="6.0" ry="4.1" class="ds"/>
<ellipse cx="384.6" cy="1543.8" rx="5.7" ry="3.8" class="db"/>
<ellipse cx="175.1" cy="1509.8" rx="4.8" ry="3.9" class="ds"/>
<ellipse cx="174.5" cy="1508.4" rx="4.5" ry="3.6" class="db"/>
<ellipse cx="181.2" cy="1507.1" rx="5.0" ry="4.1" class="ds"/>
<ellipse cx="180.6" cy="1505.7" rx="4.7" ry="3.8" class="db"/>
<ellipse cx="344.7" cy="1531.4" rx="6.2" ry="4.5" class="ds"/>
<ellipse cx="344.1" cy="1530.0" rx="5.9" ry="4.2" class="db"/>
<ellipse cx="256.9" cy="1539.0" rx="4.5" ry="3.0" class="ds"/>
<ellipse cx="256.3" cy="1537.6" rx="4.2" ry="2.7" class="db"/>
<ellipse cx="262.9" cy="1528.5" rx="4.2" ry="2.7" class="ds"/>
<ellipse cx="262.3" cy="1527.1" rx="3.9" ry="2.4" class="db"/>
<ellipse cx="249.4" cy="1504.1" rx="4.5" ry="3.8" class="ds"/>
<ellipse cx="248.8" cy="1502.7" rx="4.2" ry="3.5" class="db"/>
<ellipse cx="136.8" cy="1539.1" rx="4.5" ry="3.0" class="ds"/>
<ellipse cx="136.2" cy="1537.7" rx="4.2" ry="2.7" class="db"/>
<ellipse cx="311.7" cy="1512.1" rx="5.7" ry="4.7" class="ds"/>
<ellipse cx="311.1" cy="1510.7" rx="5.4" ry="4.4" class="db"/>
<ellipse cx="267.3" cy="1503.9" rx="5.4" ry="3.7" class="ds"/>
<ellipse cx="266.7" cy="1502.5" rx="5.1" ry="3.4" class="db"/>
<ellipse cx="336.5" cy="1512.8" rx="5.6" ry="4.7" class="ds"/>
<ellipse cx="335.9" cy="1511.4" rx="5.3" ry="4.4" class="db"/>
<ellipse cx="347.0" cy="1519.2" rx="6.3" ry="4.0" class="ds"/>
<ellipse cx="346.4" cy="1517.8" rx="6.0" ry="3.7" class="db"/>
<ellipse cx="178.6" cy="1509.7" rx="6.2" ry="4.6" class="ds"/>
<ellipse cx="178.0" cy="1508.3" rx="5.9" ry="4.3" class="db"/>
<ellipse cx="390.7" cy="1504.3" rx="3.8" ry="3.0" class="ds"/>
<ellipse cx="390.1" cy="1502.9" rx="3.5" ry="2.7" class="db"/>
<ellipse cx="356.3" cy="1520.2" rx="6.3" ry="4.4" class="ds"/>
<ellipse cx="355.7" cy="1518.8" rx="6.0" ry="4.1" class="db"/>
<ellipse cx="369.8" cy="1522.2" rx="3.8" ry="2.4" class="ds"/>
<ellipse cx="369.2" cy="1520.8" rx="3.5" ry="2.1" class="db"/>
<ellipse cx="328.9" cy="1528.3" rx="4.0" ry="3.3" class="ds"/>
<ellipse cx="328.3" cy="1526.9" rx="3.7" ry="3.0" class="db"/>
<ellipse cx="302.8" cy="1524.7" rx="4.9" ry="3.9" class="ds"/>
<ellipse cx="302.2" cy="1523.3" rx="4.6" ry="3.6" class="db"/>
<ellipse cx="381.3" cy="1525.4" rx="5.6" ry="4.7" class="ds"/>
<ellipse cx="380.7" cy="1524.0" rx="5.3" ry="4.4" class="db"/>
<ellipse cx="276.8" cy="1505.4" rx="5.2" ry="4.3" class="ds"/>
<ellipse cx="276.2" cy="1504.0" rx="4.9" ry="4.0" class="db"/>
<ellipse cx="203.3" cy="1510.2" rx="4.4" ry="3.6" class="ds"/>
<ellipse cx="202.7" cy="1508.8" rx="4.1" ry="3.3" class="db"/>
<ellipse cx="158.2" cy="1521.0" rx="5.6" ry="3.5" class="ds"/>
<ellipse cx="157.6" cy="1519.6" rx="5.3" ry="3.2" class="db"/>
<ellipse cx="139.3" cy="1531.9" rx="4.8" ry="3.0" class="ds"/>
<ellipse cx="138.7" cy="1530.5" rx="4.5" ry="2.7" class="db"/>
<ellipse cx="186.6" cy="1524.2" rx="4.9" ry="3.5" class="ds"/>
<ellipse cx="186.0" cy="1522.8" rx="4.6" ry="3.2" class="db"/>
<ellipse cx="146.0" cy="1512.2" rx="5.5" ry="4.1" class="ds"/>
<ellipse cx="145.4" cy="1510.8" rx="5.2" ry="3.8" class="db"/>
<ellipse cx="177.8" cy="1504.2" rx="5.8" ry="4.6" class="ds"/>
<ellipse cx="177.2" cy="1502.8" rx="5.5" ry="4.3" class="db"/>
<ellipse cx="390.7" cy="1511.4" rx="5.7" ry="4.0" class="ds"/>
<ellipse cx="390.1" cy="1510.0" rx="5.4" ry="3.7" class="db"/>
<ellipse cx="375.9" cy="1518.1" rx="5.4" ry="4.6" class="ds"/>
<ellipse cx="375.3" cy="1516.7" rx="5.1" ry="4.3" class="db"/>
<ellipse cx="199.0" cy="1550.3" rx="5.6" ry="3.9" class="ds"/>
<ellipse cx="198.4" cy="1548.9" rx="5.3" ry="3.6" class="db"/>
<ellipse cx="141.5" cy="1504.9" rx="6.4" ry="4.8" class="ds"/>
<ellipse cx="140.9" cy="1503.5" rx="6.1" ry="4.5" class="db"/>
<ellipse cx="199.3" cy="1541.8" rx="5.7" ry="4.7" class="ds"/>
<ellipse cx="198.7" cy="1540.4" rx="5.4" ry="4.4" class="db"/>
<ellipse cx="378.8" cy="1524.2" rx="4.1" ry="3.4" class="ds"/>
<ellipse cx="378.2" cy="1522.8" rx="3.8" ry="3.1" class="db"/>
<ellipse cx="380.3" cy="1523.1" rx="4.8" ry="3.6" class="ds"/>
<ellipse cx="379.7" cy="1521.7" rx="4.5" ry="3.3" class="db"/>
<ellipse cx="156.3" cy="1504.3" rx="3.9" ry="3.3" class="ds"/>
<ellipse cx="155.7" cy="1502.9" rx="3.6" ry="3.0" class="db"/>
<ellipse cx="141.6" cy="1515.5" rx="5.5" ry="4.2" class="ds"/>
<ellipse cx="141.0" cy="1514.1" rx="5.2" ry="3.9" class="db"/>
<ellipse cx="228.5" cy="1550.3" rx="3.7" ry="2.5" class="ds"/>
<ellipse cx="227.9" cy="1548.9" rx="3.4" ry="2.2" class="db"/>
<ellipse cx="306.9" cy="1516.3" rx="5.9" ry="4.4" class="ds"/>
<ellipse cx="306.3" cy="1514.9" rx="5.6" ry="4.1" class="db"/>
<ellipse cx="239.0" cy="1528.5" rx="4.4" ry="3.0" class="ds"/>
<ellipse cx="238.4" cy="1527.1" rx="4.1" ry="2.7" class="db"/>
<ellipse cx="257.5" cy="1552.9" rx="6.4" ry="4.4" class="ds"/>
<ellipse cx="256.9" cy="1551.5" rx="6.1" ry="4.1" class="db"/>
<ellipse cx="182.7" cy="1517.0" rx="4.9" ry="3.5" class="ds"/>
<ellipse cx="182.1" cy="1515.6" rx="4.6" ry="3.2" class="db"/>
<ellipse cx="215.0" cy="1515.9" rx="5.8" ry="3.8" class="ds"/>
<ellipse cx="214.4" cy="1514.5" rx="5.5" ry="3.5" class="db"/>
<ellipse cx="236.1" cy="1537.1" rx="5.6" ry="3.7" class="ds"/>
<ellipse cx="235.5" cy="1535.7" rx="5.3" ry="3.4" class="db"/>
<ellipse cx="233.5" cy="1541.2" rx="3.8" ry="2.6" class="ds"/>
<ellipse cx="232.9" cy="1539.8" rx="3.5" ry="2.3" class="db"/>
<ellipse cx="213.5" cy="1515.0" rx="5.3" ry="3.6" class="ds"/>
<ellipse cx="212.9" cy="1513.6" rx="5.0" ry="3.3" class="db"/>
<ellipse cx="211.1" cy="1531.6" rx="6.4" ry="4.1" class="ds"/>
<ellipse cx="210.5" cy="1530.2" rx="6.1" ry="3.8" class="db"/>
<ellipse cx="182.1" cy="1518.0" rx="4.0" ry="3.4" class="ds"/>
<ellipse cx="181.5" cy="1516.6" rx="3.7" ry="3.1" class="db"/>
<ellipse cx="271.9" cy="1551.6" rx="4.1" ry="2.7" class="ds"/>
<ellipse cx="271.3" cy="1550.2" rx="3.8" ry="2.4" class="db"/>
<ellipse cx="147.7" cy="1505.7" rx="4.4" ry="2.8" class="ds"/>
<ellipse cx="147.1" cy="1504.3" rx="4.1" ry="2.5" class="db"/>
<ellipse cx="150.6" cy="1548.5" rx="5.1" ry="3.2" class="ds"/>
<ellipse cx="150.0" cy="1547.1" rx="4.8" ry="2.9" class="db"/>
<ellipse cx="198.7" cy="1544.7" rx="3.8" ry="2.5" class="ds"/>
<ellipse cx="198.1" cy="1543.3" rx="3.5" ry="2.2" class="db"/>
<ellipse cx="354.0" cy="1548.6" rx="6.4" ry="4.3" class="ds"/>
<ellipse cx="353.4" cy="1547.2" rx="6.1" ry="4.0" class="db"/>
<ellipse cx="361.7" cy="1539.7" rx="6.3" ry="4.0" class="ds"/>
<ellipse cx="361.1" cy="1538.3" rx="6.0" ry="3.7" class="db"/>
<ellipse cx="242.1" cy="1542.0" rx="5.6" ry="4.0" class="ds"/>
<ellipse cx="241.5" cy="1540.6" rx="5.3" ry="3.7" class="db"/>
<ellipse cx="253.3" cy="1541.3" rx="4.5" ry="3.6" class="ds"/>
<ellipse cx="252.7" cy="1539.9" rx="4.2" ry="3.3" class="db"/>
<ellipse cx="291.8" cy="1511.7" rx="4.6" ry="3.2" class="ds"/>
<ellipse cx="291.2" cy="1510.3" rx="4.3" ry="2.9" class="db"/>
<ellipse cx="160.6" cy="1530.3" rx="5.6" ry="4.3" class="ds"/>
<ellipse cx="160.0" cy="1528.9" rx="5.3" ry="4.0" class="db"/>
<ellipse cx="291.9" cy="1538.5" rx="6.5" ry="4.6" class="ds"/>
<ellipse cx="291.3" cy="1537.1" rx="6.2" ry="4.3" class="db"/>
<ellipse cx="350.6" cy="1542.1" rx="5.6" ry="3.8" class="ds"/>
<ellipse cx="350.0" cy="1540.7" rx="5.3" ry="3.5" class="db"/>
<ellipse cx="284.1" cy="1534.9" rx="5.8" ry="3.9" class="ds"/>
<ellipse cx="283.5" cy="1533.5" rx="5.5" ry="3.6" class="db"/>
<ellipse cx="342.5" cy="1530.0" rx="3.7" ry="2.4" class="ds"/>
<ellipse cx="341.9" cy="1528.6" rx="3.4" ry="2.1" class="db"/>
<ellipse cx="308.5" cy="1505.7" rx="5.6" ry="4.0" class="ds"/>
<ellipse cx="307.9" cy="1504.3" rx="5.3" ry="3.7" class="db"/>
<ellipse cx="207.8" cy="1508.8" rx="4.1" ry="3.2" class="ds"/>
<ellipse cx="207.2" cy="1507.4" rx="3.8" ry="2.9" class="db"/>
<ellipse cx="154.0" cy="1505.4" rx="6.0" ry="4.1" class="ds"/>
<ellipse cx="153.4" cy="1504.0" rx="5.7" ry="3.8" class="db"/>
<ellipse cx="394.5" cy="1539.6" rx="4.1" ry="2.7" class="ds"/>
<ellipse cx="393.9" cy="1538.2" rx="3.8" ry="2.4" class="db"/>
<ellipse cx="246.0" cy="1504.1" rx="4.0" ry="2.8" class="ds"/>
<ellipse cx="245.4" cy="1502.7" rx="3.7" ry="2.5" class="db"/>
<ellipse cx="145.3" cy="1533.3" rx="3.9" ry="2.7" class="ds"/>
<ellipse cx="144.7" cy="1531.9" rx="3.6" ry="2.4" class="db"/>
<ellipse cx="334.3" cy="1538.2" rx="4.4" ry="2.9" class="ds"/>
<ellipse cx="333.7" cy="1536.8" rx="4.1" ry="2.6" class="db"/>
<ellipse cx="349.1" cy="1534.7" rx="5.8" ry="4.2" class="ds"/>
<ellipse cx="348.5" cy="1533.3" rx="5.5" ry="3.9" class="db"/>
<ellipse cx="376.5" cy="1526.9" rx="4.1" ry="3.4" class="ds"/>
<ellipse cx="375.9" cy="1525.5" rx="3.8" ry="3.1" class="db"/>
<ellipse cx="138.5" cy="1511.1" rx="4.7" ry="4.0" class="ds"/>
<ellipse cx="137.9" cy="1509.7" rx="4.4" ry="3.7" class="db"/>
<ellipse cx="250.9" cy="1524.5" rx="4.9" ry="4.1" class="ds"/>
<ellipse cx="250.3" cy="1523.1" rx="4.6" ry="3.8" class="db"/>
<ellipse cx="231.8" cy="1548.8" rx="6.0" ry="4.3" class="ds"/>
<ellipse cx="231.2" cy="1547.4" rx="5.7" ry="4.0" class="db"/>
<ellipse cx="150.8" cy="1544.3" rx="5.0" ry="3.7" class="ds"/>
<ellipse cx="150.2" cy="1542.9" rx="4.7" ry="3.4" class="db"/>
<ellipse cx="247.5" cy="1517.1" rx="4.4" ry="3.4" class="ds"/>
<ellipse cx="246.9" cy="1515.7" rx="4.1" ry="3.1" class="db"/>
<ellipse cx="313.6" cy="1506.5" rx="6.1" ry="4.5" class="ds"/>
<ellipse cx="313.0" cy="1505.1" rx="5.8" ry="4.2" class="db"/>
<ellipse cx="190.5" cy="1505.7" rx="4.1" ry="3.1" class="ds"/>
<ellipse cx="189.9" cy="1504.3" rx="3.8" ry="2.8" class="db"/>
<ellipse cx="320.6" cy="1551.6" rx="6.5" ry="5.0" class="ds"/>
<ellipse cx="320.0" cy="1550.2" rx="6.2" ry="4.7" class="db"/>
<ellipse cx="377.3" cy="1521.0" rx="6.1" ry="4.6" class="ds"/>
<ellipse cx="376.7" cy="1519.6" rx="5.8" ry="4.3" class="db"/>
<ellipse cx="349.4" cy="1546.7" rx="5.1" ry="3.3" class="ds"/>
<ellipse cx="348.8" cy="1545.3" rx="4.8" ry="3.0" class="db"/>
<ellipse cx="323.0" cy="1526.4" rx="6.1" ry="4.0" class="ds"/>
<ellipse cx="322.4" cy="1525.0" rx="5.8" ry="3.7" class="db"/>
<ellipse cx="398.5" cy="1519.4" rx="4.0" ry="3.1" class="ds"/>
<ellipse cx="397.9" cy="1518.0" rx="3.7" ry="2.8" class="db"/>
<ellipse cx="346.2" cy="1539.7" rx="4.8" ry="4.0" class="ds"/>
<ellipse cx="345.6" cy="1538.3" rx="4.5" ry="3.7" class="db"/>
<ellipse cx="353.9" cy="1511.0" rx="5.7" ry="3.7" class="ds"/>
<ellipse cx="353.3" cy="1509.6" rx="5.4" ry="3.4" class="db"/>
<ellipse cx="240.5" cy="1545.3" rx="6.0" ry="3.9" class="ds"/>
<ellipse cx="239.9" cy="1543.9" rx="5.7" ry="3.6" class="db"/>
<ellipse cx="359.5" cy="1552.3" rx="5.0" ry="3.3" class="ds"/>
<ellipse cx="358.9" cy="1550.9" rx="4.7" ry="3.0" class="db"/>
<ellipse cx="186.6" cy="1525.7" rx="4.6" ry="2.9" class="ds"/>
<ellipse cx="186.0" cy="1524.3" rx="4.3" ry="2.6" class="db"/>
<ellipse cx="245.4" cy="1504.3" rx="5.5" ry="4.4" class="ds"/>
<ellipse cx="244.8" cy="1502.9" rx="5.2" ry="4.1" class="db"/>
<ellipse cx="268.1" cy="1527.6" rx="6.1" ry="4.3" class="ds"/>
<ellipse cx="267.5" cy="1526.2" rx="5.8" ry="4.0" class="db"/>
<ellipse cx="180.0" cy="1531.0" rx="6.5" ry="4.5" class="ds"/>
<ellipse cx="179.4" cy="1529.6" rx="6.2" ry="4.2" class="db"/>
<ellipse cx="176.8" cy="1553.9" rx="3.9" ry="2.7" class="ds"/>
<ellipse cx="176.2" cy="1552.5" rx="3.6" ry="2.4" class="db"/>
<ellipse cx="337.9" cy="1522.5" rx="3.9" ry="3.1" class="ds"/>
<ellipse cx="337.3" cy="1521.1" rx="3.6" ry="2.8" class="db"/>
<ellipse cx="224.3" cy="1550.7" rx="5.2" ry="3.2" class="ds"/>
<ellipse cx="223.7" cy="1549.3" rx="4.9" ry="2.9" class="db"/>
<ellipse cx="208.0" cy="1507.0" rx="5.8" ry="4.0" class="ds"/>
<ellipse cx="207.4" cy="1505.6" rx="5.5" ry="3.7" class="db"/>
<ellipse cx="281.6" cy="1544.0" rx="4.6" ry="2.9" class="ds"/>
<ellipse cx="281.0" cy="1542.6" rx="4.3" ry="2.6" class="db"/>
<ellipse cx="285.4" cy="1504.1" rx="5.0" ry="3.3" class="ds"/>
<ellipse cx="284.8" cy="1502.7" rx="4.7" ry="3.0" class="db"/>
<ellipse cx="283.9" cy="1539.4" rx="5.5" ry="4.2" class="ds"/>
<ellipse cx="283.3" cy="1538.0" rx="5.2" ry="3.9" class="db"/>
<ellipse cx="142.7" cy="1513.1" rx="5.5" ry="3.9" class="ds"/>
<ellipse cx="142.1" cy="1511.7" rx="5.2" ry="3.6" class="db"/>
<ellipse cx="214.3" cy="1533.4" rx="5.2" ry="3.9" class="ds"/>
<ellipse cx="213.7" cy="1532.0" rx="4.9" ry="3.6" class="db"/>
<ellipse cx="390.2" cy="1552.4" rx="4.6" ry="3.5" class="ds"/>
<ellipse cx="389.6" cy="1551.0" rx="4.3" ry="3.2" class="db"/>
<ellipse cx="342.5" cy="1526.8" rx="5.1" ry="3.8" class="ds"/>
<ellipse cx="341.9" cy="1525.4" rx="4.8" ry="3.5" class="db"/>
<ellipse cx="189.0" cy="1518.1" rx="5.6" ry="3.6" class="ds"/>
<ellipse cx="188.4" cy="1516.7" rx="5.3" ry="3.3" class="db"/>
<ellipse cx="212.6" cy="1536.7" rx="5.1" ry="4.2" class="ds"/>
<ellipse cx="212.0" cy="1535.3" rx="4.8" ry="3.9" class="db"/>
<ellipse cx="182.0" cy="1510.4" rx="3.8" ry="2.8" class="ds"/>
<ellipse cx="181.4" cy="1509.0" rx="3.5" ry="2.5" class="db"/>
<ellipse cx="241.9" cy="1529.0" rx="5.4" ry="3.7" class="ds"/>
<ellipse cx="241.3" cy="1527.6" rx="5.1" ry="3.4" class="db"/>
<ellipse cx="177.6" cy="1529.8" rx="4.8" ry="3.9" class="ds"/>
<ellipse cx="177.0" cy="1528.4" rx="4.5" ry="3.6" class="db"/>
<ellipse cx="264.2" cy="1505.2" rx="5.5" ry="3.4" class="ds"/>
<ellipse cx="263.6" cy="1503.8" rx="5.2" ry="3.1" class="db"/>
<ellipse cx="189.5" cy="1538.5" rx="4.7" ry="3.8" class="ds"/>
<ellipse cx="188.9" cy="1537.1" rx="4.4" ry="3.5" class="db"/>
<ellipse cx="292.9" cy="1503.9" rx="6.3" ry="4.6" class="ds"/>
<ellipse cx="292.3" cy="1502.5" rx="6.0" ry="4.3" class="db"/>
<ellipse cx="284.3" cy="1544.0" rx="5.0" ry="3.9" class="ds"/>
<ellipse cx="283.7" cy="1542.6" rx="4.7" ry="3.6" class="db"/>
<ellipse cx="180.4" cy="1512.1" rx="3.8" ry="2.9" class="ds"/>
<ellipse cx="179.8" cy="1510.7" rx="3.5" ry="2.6" class="db"/>
<ellipse cx="258.6" cy="1530.8" rx="4.1" ry="3.5" class="ds"/>
<ellipse cx="258.0" cy="1529.4" rx="3.8" ry="3.2" class="db"/>
<ellipse cx="334.7" cy="1533.4" rx="5.3" ry="3.8" class="ds"/>
<ellipse cx="334.1" cy="1532.0" rx="5.0" ry="3.5" class="db"/>
<ellipse cx="322.0" cy="1513.8" rx="3.7" ry="3.2" class="ds"/>
<ellipse cx="321.4" cy="1512.4" rx="3.4" ry="2.9" class="db"/>
<ellipse cx="381.6" cy="1553.8" rx="3.8" ry="3.2" class="ds"/>
<ellipse cx="381.0" cy="1552.4" rx="3.5" ry="2.9" class="db"/>
<ellipse cx="364.4" cy="1537.1" rx="4.5" ry="3.6" class="ds"/>
<ellipse cx="363.8" cy="1535.7" rx="4.2" ry="3.3" class="db"/>
<ellipse cx="374.7" cy="1525.5" rx="6.4" ry="4.7" class="ds"/>
<ellipse cx="374.1" cy="1524.1" rx="6.1" ry="4.4" class="db"/>
<ellipse cx="212.9" cy="1510.2" rx="3.8" ry="3.0" class="ds"/>
<ellipse cx="212.3" cy="1508.8" rx="3.5" ry="2.7" class="db"/>
<ellipse cx="246.1" cy="1504.5" rx="3.9" ry="2.7" class="ds"/>
<ellipse cx="245.5" cy="1503.1" rx="3.6" ry="2.4" class="db"/>
<ellipse cx="215.2" cy="1518.5" rx="6.1" ry="4.8" class="ds"/>
<ellipse cx="214.6" cy="1517.1" rx="5.8" ry="4.5" class="db"/>
<ellipse cx="382.5" cy="1531.5" rx="4.2" ry="2.7" class="ds"/>
<ellipse cx="381.9" cy="1530.1" rx="3.9" ry="2.4" class="db"/>
<ellipse cx="207.4" cy="1521.0" rx="4.5" ry="3.6" class="ds"/>
<ellipse cx="206.8" cy="1519.6" rx="4.2" ry="3.3" class="db"/>
<ellipse cx="314.2" cy="1546.8" rx="4.0" ry="2.9" class="ds"/>
<ellipse cx="313.6" cy="1545.4" rx="3.7" ry="2.6" class="db"/>
<ellipse cx="356.4" cy="1543.3" rx="4.8" ry="3.8" class="ds"/>
<ellipse cx="355.8" cy="1541.9" rx="4.5" ry="3.5" class="db"/>
<ellipse cx="362.2" cy="1506.8" rx="3.9" ry="2.6" class="ds"/>
<ellipse cx="361.6" cy="1505.4" rx="3.6" ry="2.3" class="db"/>
<ellipse cx="329.6" cy="1526.9" rx="4.5" ry="2.9" class="ds"/>
<ellipse cx="329.0" cy="1525.5" rx="4.2" ry="2.6" class="db"/>
<ellipse cx="393.1" cy="1504.9" rx="6.2" ry="4.5" class="ds"/>
<ellipse cx="392.5" cy="1503.5" rx="5.9" ry="4.2" class="db"/>
<ellipse cx="230.6" cy="1549.7" rx="6.0" ry="4.6" class="ds"/>
<ellipse cx="230.0" cy="1548.3" rx="5.7" ry="4.3" class="db"/>
<ellipse cx="290.3" cy="1508.8" rx="5.5" ry="4.6" class="ds"/>
<ellipse cx="289.7" cy="1507.4" rx="5.2" ry="4.3" class="db"/>
<ellipse cx="259.2" cy="1520.1" rx="5.2" ry="4.4" class="ds"/>
<ellipse cx="258.6" cy="1518.7" rx="4.9" ry="4.1" class="db"/>
<ellipse cx="257.0" cy="1504.9" rx="4.5" ry="3.8" class="ds"/>
<ellipse cx="256.4" cy="1503.5" rx="4.2" ry="3.5" class="db"/>
<ellipse cx="334.7" cy="1547.7" rx="6.2" ry="5.2" class="ds"/>
<ellipse cx="334.1" cy="1546.3" rx="5.9" ry="4.9" class="db"/>
<ellipse cx="379.3" cy="1531.6" rx="5.1" ry="3.3" class="ds"/>
<ellipse cx="378.7" cy="1530.2" rx="4.8" ry="3.0" class="db"/>
<ellipse cx="261.6" cy="1511.4" rx="4.7" ry="3.8" class="ds"/>
<ellipse cx="261.0" cy="1510.0" rx="4.4" ry="3.5" class="db"/>
<ellipse cx="213.0" cy="1506.6" rx="4.8" ry="3.2" class="ds"/>
<ellipse cx="212.4" cy="1505.2" rx="4.5" ry="2.9" class="db"/>
<ellipse cx="362.3" cy="1515.6" rx="4.1" ry="3.5" class="ds"/>
<ellipse cx="361.7" cy="1514.2" rx="3.8" ry="3.2" class="db"/>
<ellipse cx="184.7" cy="1521.5" rx="5.6" ry="4.0" class="ds"/>
<ellipse cx="184.1" cy="1520.1" rx="5.3" ry="3.7" class="db"/>
<ellipse cx="215.6" cy="1544.4" rx="6.4" ry="4.4" class="ds"/>
<ellipse cx="215.0" cy="1543.0" rx="6.1" ry="4.1" class="db"/>
<ellipse cx="344.6" cy="1540.8" rx="3.7" ry="2.4" class="ds"/>
<ellipse cx="344.0" cy="1539.4" rx="3.4" ry="2.1" class="db"/>
<ellipse cx="285.3" cy="1507.8" rx="6.3" ry="4.2" class="ds"/>
<ellipse cx="284.7" cy="1506.4" rx="6.0" ry="3.9" class="db"/>
<ellipse cx="171.4" cy="1546.3" rx="4.3" ry="3.0" class="ds"/>
<ellipse cx="170.8" cy="1544.9" rx="4.0" ry="2.7" class="db"/>
<ellipse cx="189.4" cy="1504.9" rx="5.9" ry="3.8" class="ds"/>
<ellipse cx="188.8" cy="1503.5" rx="5.6" ry="3.5" class="db"/>
<ellipse cx="142.0" cy="1523.1" rx="5.1" ry="4.3" class="ds"/>
<ellipse cx="141.4" cy="1521.7" rx="4.8" ry="4.0" class="db"/>
<ellipse cx="388.1" cy="1505.7" rx="4.7" ry="4.0" class="ds"/>
<ellipse cx="387.5" cy="1504.3" rx="4.4" ry="3.7" class="db"/>
<ellipse cx="375.8" cy="1507.0" rx="4.1" ry="2.9" class="ds"/>
<ellipse cx="375.2" cy="1505.6" rx="3.8" ry="2.6" class="db"/>
<ellipse cx="293.6" cy="1504.2" rx="5.3" ry="3.3" class="ds"/>
<ellipse cx="293.0" cy="1502.8" rx="5.0" ry="3.0" class="db"/>
<ellipse cx="281.3" cy="1509.8" rx="5.7" ry="4.6" class="ds"/>
<ellipse cx="280.7" cy="1508.4" rx="5.4" ry="4.3" class="db"/>
<ellipse cx="254.5" cy="1516.0" rx="5.1" ry="4.2" class="ds"/>
<ellipse cx="253.9" cy="1514.6" rx="4.8" ry="3.9" class="db"/>
<ellipse cx="193.4" cy="1543.0" rx="5.8" ry="4.3" class="ds"/>
<ellipse cx="192.8" cy="1541.6" rx="5.5" ry="4.0" class="db"/>
<ellipse cx="339.1" cy="1552.1" rx="5.2" ry="3.2" class="ds"/>
<ellipse cx="338.5" cy="1550.7" rx="4.9" ry="2.9" class="db"/>
<ellipse cx="187.8" cy="1505.4" rx="5.3" ry="3.7" class="ds"/>
<ellipse cx="187.2" cy="1504.0" rx="5.0" ry="3.4" class="db"/>
<ellipse cx="242.2" cy="1543.4" rx="3.9" ry="3.3" class="ds"/>
<ellipse cx="241.6" cy="1542.0" rx="3.6" ry="3.0" class="db"/>
<ellipse cx="146.7" cy="1510.2" rx="6.3" ry="5.1" class="ds"/>
<ellipse cx="146.1" cy="1508.8" rx="6.0" ry="4.8" class="db"/>
<ellipse cx="345.8" cy="1516.7" rx="4.9" ry="4.0" class="ds"/>
<ellipse cx="345.2" cy="1515.3" rx="4.6" ry="3.7" class="db"/>
<ellipse cx="302.1" cy="1511.2" rx="6.1" ry="5.1" class="ds"/>
<ellipse cx="301.5" cy="1509.8" rx="5.8" ry="4.8" class="db"/>
<ellipse cx="184.8" cy="1504.7" rx="4.9" ry="3.2" class="ds"/>
<ellipse cx="184.2" cy="1503.3" rx="4.6" ry="2.9" class="db"/>
<ellipse cx="280.1" cy="1535.7" rx="5.3" ry="4.6" class="ds"/>
<ellipse cx="279.5" cy="1534.3" rx="5.0" ry="4.3" class="db"/>
<ellipse cx="392.5" cy="1527.3" rx="4.7" ry="4.0" class="ds"/>
<ellipse cx="391.9" cy="1525.9" rx="4.4" ry="3.7" class="db"/>
<ellipse cx="301.7" cy="1506.2" rx="4.0" ry="2.5" class="ds"/>
<ellipse cx="301.1" cy="1504.8" rx="3.7" ry="2.2" class="db"/>
<ellipse cx="209.2" cy="1514.0" rx="5.7" ry="4.1" class="ds"/>
<ellipse cx="208.6" cy="1512.6" rx="5.4" ry="3.8" class="db"/>
<ellipse cx="252.5" cy="1525.1" rx="6.1" ry="5.2" class="ds"/>
<ellipse cx="251.9" cy="1523.7" rx="5.8" ry="4.9" class="db"/>
<ellipse cx="240.3" cy="1516.5" rx="5.5" ry="3.9" class="ds"/>
<ellipse cx="239.7" cy="1515.1" rx="5.2" ry="3.6" class="db"/>
<ellipse cx="378.4" cy="1512.3" rx="5.8" ry="4.5" class="ds"/>
<ellipse cx="377.8" cy="1510.9" rx="5.5" ry="4.2" class="db"/>
<ellipse cx="205.3" cy="1522.5" rx="5.8" ry="4.9" class="ds"/>
<ellipse cx="204.7" cy="1521.1" rx="5.5" ry="4.6" class="db"/>
<ellipse cx="151.8" cy="1540.4" rx="6.3" ry="4.0" class="ds"/>
<ellipse cx="151.2" cy="1539.0" rx="6.0" ry="3.7" class="db"/>
<ellipse cx="197.9" cy="1510.6" rx="4.7" ry="3.4" class="ds"/>
<ellipse cx="197.3" cy="1509.2" rx="4.4" ry="3.1" class="db"/>
<ellipse cx="201.6" cy="1510.0" rx="5.3" ry="3.9" class="ds"/>
<ellipse cx="201.0" cy="1508.6" rx="5.0" ry="3.6" class="db"/>
<ellipse cx="178.4" cy="1519.2" rx="6.0" ry="4.1" class="ds"/>
<ellipse cx="177.8" cy="1517.8" rx="5.7" ry="3.8" class="db"/>
<ellipse cx="250.5" cy="1506.8" rx="4.4" ry="3.0" class="ds"/>
<ellipse cx="249.9" cy="1505.4" rx="4.1" ry="2.7" class="db"/>
<ellipse cx="310.9" cy="1517.0" rx="5.4" ry="3.9" class="ds"/>
<ellipse cx="310.3" cy="1515.6" rx="5.1" ry="3.6" class="db"/>
<ellipse cx="307.2" cy="1511.2" rx="4.6" ry="4.0" class="ds"/>
<ellipse cx="306.6" cy="1509.8" rx="4.3" ry="3.7" class="db"/>
<ellipse cx="276.9" cy="1530.2" rx="4.6" ry="3.1" class="ds"/>
<ellipse cx="276.3" cy="1528.8" rx="4.3" ry="2.8" class="db"/>
<ellipse cx="220.6" cy="1521.8" rx="6.1" ry="4.7" class="ds"/>
<ellipse cx="220.0" cy="1520.4" rx="5.8" ry="4.4" class="db"/>
<ellipse cx="277.6" cy="1511.0" rx="5.8" ry="4.0" class="ds"/>
<ellipse cx="277.0" cy="1509.6" rx="5.5" ry="3.7" class="db"/>
<ellipse cx="341.5" cy="1529.4" rx="5.5" ry="3.6" class="ds"/>
<ellipse cx="340.9" cy="1528.0" rx="5.2" ry="3.3" class="db"/>
<ellipse cx="255.3" cy="1549.6" rx="4.9" ry="4.1" class="ds"/>
<ellipse cx="254.7" cy="1548.2" rx="4.6" ry="3.8" class="db"/>
<ellipse cx="241.8" cy="1511.0" rx="5.9" ry="4.4" class="ds"/>
<ellipse cx="241.2" cy="1509.6" rx="5.6" ry="4.1" class="db"/>
<ellipse cx="137.2" cy="1543.6" rx="3.7" ry="2.6" class="ds"/>
<ellipse cx="136.6" cy="1542.2" rx="3.4" ry="2.3" class="db"/>
<ellipse cx="323.3" cy="1507.8" rx="6.0" ry="4.9" class="ds"/>
<ellipse cx="322.7" cy="1506.4" rx="5.7" ry="4.6" class="db"/>
<ellipse cx="295.2" cy="1522.7" rx="5.2" ry="3.8" class="ds"/>
<ellipse cx="294.6" cy="1521.3" rx="4.9" ry="3.5" class="db"/>
<ellipse cx="157.7" cy="1525.1" rx="4.0" ry="3.1" class="ds"/>
<ellipse cx="157.1" cy="1523.7" rx="3.7" ry="2.8" class="db"/>
<ellipse cx="356.8" cy="1517.0" rx="4.9" ry="3.4" class="ds"/>
<ellipse cx="356.2" cy="1515.6" rx="4.6" ry="3.1" class="db"/>
<ellipse cx="316.3" cy="1543.6" rx="4.3" ry="3.6" class="ds"/>
<ellipse cx="315.7" cy="1542.2" rx="4.0" ry="3.3" class="db"/>
<ellipse cx="266.3" cy="1522.0" rx="6.3" ry="4.8" class="ds"/>
<ellipse cx="265.7" cy="1520.6" rx="6.0" ry="4.5" class="db"/>
<ellipse cx="361.7" cy="1515.1" rx="4.2" ry="3.4" class="ds"/>
<ellipse cx="361.1" cy="1513.7" rx="3.9" ry="3.1" class="db"/>
<ellipse cx="381.6" cy="1515.2" rx="4.5" ry="3.0" class="ds"/>
<ellipse cx="381.0" cy="1513.8" rx="4.2" ry="2.7" class="db"/>
<ellipse cx="194.4" cy="1506.5" rx="4.8" ry="3.8" class="ds"/>
<ellipse cx="193.8" cy="1505.1" rx="4.5" ry="3.5" class="db"/>
<ellipse cx="398.5" cy="1537.1" rx="6.0" ry="4.5" class="ds"/>
<ellipse cx="397.9" cy="1535.7" rx="5.7" ry="4.2" class="db"/>
<ellipse cx="218.0" cy="1550.2" rx="6.0" ry="3.7" class="ds"/>
<ellipse cx="217.4" cy="1548.8" rx="5.7" ry="3.4" class="db"/>
<ellipse cx="380.9" cy="1546.2" rx="6.5" ry="4.5" class="ds"/>
<ellipse cx="380.3" cy="1544.8" rx="6.2" ry="4.2" class="db"/>
<ellipse cx="351.1" cy="1508.9" rx="5.2" ry="3.4" class="ds"/>
<ellipse cx="350.5" cy="1507.5" rx="4.9" ry="3.1" class="db"/>
<ellipse cx="237.0" cy="1534.6" rx="3.7" ry="2.8" class="ds"/>
<ellipse cx="236.4" cy="1533.2" rx="3.4" ry="2.5" class="db"/>
<ellipse cx="204.2" cy="1545.5" rx="6.5" ry="4.2" class="ds"/>
<ellipse cx="203.6" cy="1544.1" rx="6.2" ry="3.9" class="db"/>
<ellipse cx="185.8" cy="1509.2" rx="4.5" ry="2.9" class="ds"/>
<ellipse cx="185.2" cy="1507.8" rx="4.2" ry="2.6" class="db"/>
<ellipse cx="241.3" cy="1528.7" rx="6.1" ry="5.2" class="ds"/>
<ellipse cx="240.7" cy="1527.3" rx="5.8" ry="4.9" class="db"/>
<ellipse cx="150.7" cy="1544.2" rx="4.0" ry="3.1" class="ds"/>
<ellipse cx="150.1" cy="1542.8" rx="3.7" ry="2.8" class="db"/>
<ellipse cx="235.5" cy="1538.0" rx="5.4" ry="4.5" class="ds"/>
<ellipse cx="234.9" cy="1536.6" rx="5.1" ry="4.2" class="db"/>
<ellipse cx="274.4" cy="1520.7" rx="4.4" ry="3.5" class="ds"/>
<ellipse cx="273.8" cy="1519.3" rx="4.1" ry="3.2" class="db"/>
<ellipse cx="329.5" cy="1518.2" rx="4.8" ry="3.3" class="ds"/>
<ellipse cx="328.9" cy="1516.8" rx="4.5" ry="3.0" class="db"/>
<ellipse cx="363.0" cy="1506.5" rx="3.8" ry="2.7" class="ds"/>
<ellipse cx="362.4" cy="1505.1" rx="3.5" ry="2.4" class="db"/>
<ellipse cx="193.8" cy="1534.4" rx="6.1" ry="4.3" class="ds"/>
<ellipse cx="193.2" cy="1533.0" rx="5.8" ry="4.0" class="db"/>
<ellipse cx="304.3" cy="1505.1" rx="5.6" ry="3.9" class="ds"/>
<ellipse cx="303.7" cy="1503.7" rx="5.3" ry="3.6" class="db"/>
<ellipse cx="202.3" cy="1550.6" rx="3.9" ry="2.7" class="ds"/>
<ellipse cx="201.7" cy="1549.2" rx="3.6" ry="2.4" class="db"/>
<ellipse cx="184.8" cy="1528.3" rx="5.8" ry="4.3" class="ds"/>
<ellipse cx="184.2" cy="1526.9" rx="5.5" ry="4.0" class="db"/>
<ellipse cx="325.5" cy="1530.5" rx="6.4" ry="4.4" class="ds"/>
<ellipse cx="324.9" cy="1529.1" rx="6.1" ry="4.1" class="db"/>
<ellipse cx="212.4" cy="1551.9" rx="4.9" ry="3.6" class="ds"/>
<ellipse cx="211.8" cy="1550.5" rx="4.6" ry="3.3" class="db"/>
<ellipse cx="312.4" cy="1503.9" rx="5.2" ry="3.3" class="ds"/>
<ellipse cx="311.8" cy="1502.5" rx="4.9" ry="3.0" class="db"/>
<ellipse cx="138.7" cy="1505.6" rx="5.3" ry="3.9" class="ds"/>
<ellipse cx="138.1" cy="1504.2" rx="5.0" ry="3.6" class="db"/>
<ellipse cx="350.7" cy="1507.8" rx="4.1" ry="2.8" class="ds"/>
<ellipse cx="350.1" cy="1506.4" rx="3.8" ry="2.5" class="db"/>
<ellipse cx="263.2" cy="1543.6" rx="4.5" ry="3.6" class="ds"/>
<ellipse cx="262.6" cy="1542.2" rx="4.2" ry="3.3" class="db"/>
<ellipse cx="295.7" cy="1507.9" rx="4.2" ry="3.6" class="ds"/>
<ellipse cx="295.1" cy="1506.5" rx="3.9" ry="3.3" class="db"/>
<ellipse cx="343.0" cy="1505.5" rx="6.3" ry="4.0" class="ds"/>
<ellipse cx="342.4" cy="1504.1" rx="6.0" ry="3.7" class="db"/>
<ellipse cx="283.3" cy="1541.4" rx="6.4" ry="4.2" class="ds"/>
<ellipse cx="282.7" cy="1540.0" rx="6.1" ry="3.9" class="db"/>
<ellipse cx="221.1" cy="1521.7" rx="5.4" ry="4.5" class="ds"/>
<ellipse cx="220.5" cy="1520.3" rx="5.1" ry="4.2" class="db"/>
<ellipse cx="320.5" cy="1549.6" rx="6.1" ry="3.8" class="ds"/>
<ellipse cx="319.9" cy="1548.2" rx="5.8" ry="3.5" class="db"/>
<ellipse cx="147.2" cy="1509.3" rx="5.2" ry="3.8" class="ds"/>
<ellipse cx="146.6" cy="1507.9" rx="4.9" ry="3.5" class="db"/>
<ellipse cx="365.5" cy="1525.9" rx="5.0" ry="3.2" class="ds"/>
<ellipse cx="364.9" cy="1524.5" rx="4.7" ry="2.9" class="db"/>
<ellipse cx="380.5" cy="1549.7" rx="6.1" ry="4.9" class="ds"/>
<ellipse cx="379.9" cy="1548.3" rx="5.8" ry="4.6" class="db"/>
<ellipse cx="171.6" cy="1518.4" rx="3.7" ry="3.0" class="ds"/>
<ellipse cx="171.0" cy="1517.0" rx="3.4" ry="2.7" class="db"/>
<ellipse cx="354.6" cy="1528.1" rx="4.5" ry="3.3" class="ds"/>
<ellipse cx="354.0" cy="1526.7" rx="4.2" ry="3.0" class="db"/>
<ellipse cx="204.6" cy="1532.5" rx="4.9" ry="3.3" class="ds"/>
<ellipse cx="204.0" cy="1531.1" rx="4.6" ry="3.0" class="db"/>
<ellipse cx="248.4" cy="1518.5" rx="4.2" ry="3.0" class="ds"/>
<ellipse cx="247.8" cy="1517.1" rx="3.9" ry="2.7" class="db"/>
<ellipse cx="241.0" cy="1506.7" rx="6.2" ry="4.9" class="ds"/>
<ellipse cx="240.4" cy="1505.3" rx="5.9" ry="4.6" class="db"/>
<ellipse cx="141.6" cy="1512.0" rx="4.8" ry="3.9" class="ds"/>
<ellipse cx="141.0" cy="1510.6" rx="4.5" ry="3.6" class="db"/>
<ellipse cx="329.7" cy="1518.0" rx="4.3" ry="2.8" class="ds"/>
<ellipse cx="329.1" cy="1516.6" rx="4.0" ry="2.5" class="db"/>
<ellipse cx="175.4" cy="1504.3" rx="6.5" ry="5.2" class="ds"/>
<ellipse cx="174.8" cy="1502.9" rx="6.2" ry="4.9" class="db"/>
<ellipse cx="340.9" cy="1505.3" rx="5.8" ry="4.0" class="ds"/>
<ellipse cx="340.3" cy="1503.9" rx="5.5" ry="3.7" class="db"/>
<ellipse cx="264.7" cy="1505.2" rx="6.3" ry="5.1" class="ds"/>
<ellipse cx="264.1" cy="1503.8" rx="6.0" ry="4.8" class="db"/>
<ellipse cx="264.9" cy="1505.5" rx="4.1" ry="2.6" class="ds"/>
<ellipse cx="264.3" cy="1504.1" rx="3.8" ry="2.3" class="db"/>
<ellipse cx="386.0" cy="1534.5" rx="4.4" ry="3.6" class="ds"/>
<ellipse cx="385.4" cy="1533.1" rx="4.1" ry="3.3" class="db"/>
<ellipse cx="149.0" cy="1525.8" rx="4.2" ry="3.1" class="ds"/>
<ellipse cx="148.4" cy="1524.4" rx="3.9" ry="2.8" class="db"/>
<ellipse cx="308.5" cy="1532.5" rx="5.6" ry="4.0" class="ds"/>
<ellipse cx="307.9" cy="1531.1" rx="5.3" ry="3.7" class="db"/>
<ellipse cx="167.7" cy="1549.9" rx="5.6" ry="4.2" class="ds"/>
<ellipse cx="167.1" cy="1548.5" rx="5.3" ry="3.9" class="db"/>
<ellipse cx="381.5" cy="1507.6" rx="4.7" ry="3.2" class="ds"/>
<ellipse cx="380.9" cy="1506.2" rx="4.4" ry="2.9" class="db"/>
<ellipse cx="363.1" cy="1521.7" rx="4.2" ry="3.1" class="ds"/>
<ellipse cx="362.5" cy="1520.3" rx="3.9" ry="2.8" class="db"/>
<ellipse cx="381.5" cy="1548.7" rx="5.8" ry="3.8" class="ds"/>
<ellipse cx="380.9" cy="1547.3" rx="5.5" ry="3.5" class="db"/>
</g>
<path d="M400,1497.5 L452.7,1496.5 L452.7,1540 C440,1541 428,1546 420,1556 C414,1565 411,1575 409,1584 L407,1584 C406,1560 404,1530 400,1497.5 Z" fill="url(#bolG)"/>
<rect x="428" y="1496.5" width="24.69999999999999" height="43.5" fill="url(#ferrule)"/>
<path d="M404,1499 L428,1499 C440,1512 445,1528 440,1541 C428,1545 420,1550 415,1560 L410,1570 Z" fill="#f4f4f4"/>
<rect x="452.7" y="1496.5" width="6.800000000000011" height="43.5" fill="#f0eeee"/>
<rect x="452.7" y="1496.5" width="1.8" height="43.5" fill="#b3322c"/>
<rect x="457.7" y="1496.5" width="1.8" height="43.5" fill="#b3322c"/>
<clipPath id="cw4"><path d="M459.5,1496 L660.4,1492 L660.4,1545 L459.5,1540 Z"/></clipPath>
<path d="M459.5,1496 L660.4,1492 L660.4,1545 L459.5,1540 Z" fill="url(#woodG)"/>
<g clip-path="url(#cw4)">
<line x1="459.5" y1="1493.7" x2="660.4" y2="1492.9" stroke="#6a4630" stroke-width="0.8" opacity="0.55"/>
<line x1="459.5" y1="1495.7" x2="660.4" y2="1495.9" stroke="#b48a66" stroke-width="0.6" opacity="0.55"/>
<line x1="459.5" y1="1497.0" x2="660.4" y2="1495.8" stroke="#5a3a28" stroke-width="0.7" opacity="0.55"/>
<line x1="459.5" y1="1499.9" x2="660.4" y2="1499.6" stroke="#a57c5a" stroke-width="0.6" opacity="0.55"/>
<line x1="459.5" y1="1501.4" x2="660.4" y2="1500.9" stroke="#b48a66" stroke-width="0.5" opacity="0.55"/>
<line x1="459.5" y1="1503.2" x2="660.4" y2="1503.0" stroke="#a57c5a" stroke-width="0.6" opacity="0.55"/>
<line x1="459.5" y1="1504.8" x2="660.4" y2="1503.6" stroke="#6a4630" stroke-width="0.6" opacity="0.55"/>
<line x1="459.5" y1="1507.6" x2="660.4" y2="1507.0" stroke="#b48a66" stroke-width="0.6" opacity="0.55"/>
<line x1="459.5" y1="1509.5" x2="660.4" y2="1508.8" stroke="#5a3a28" stroke-width="0.6" opacity="0.55"/>
<line x1="459.5" y1="1511.9" x2="660.4" y2="1511.1" stroke="#704b34" stroke-width="0.5" opacity="0.55"/>
<line x1="459.5" y1="1513.6" x2="660.4" y2="1513.0" stroke="#b48a66" stroke-width="0.8" opacity="0.55"/>
<line x1="459.5" y1="1515.2" x2="660.4" y2="1516.4" stroke="#a57c5a" stroke-width="1.0" opacity="0.55"/>
<line x1="459.5" y1="1517.1" x2="660.4" y2="1516.1" stroke="#a57c5a" stroke-width="0.7" opacity="0.55"/>
<line x1="459.5" y1="1519.8" x2="660.4" y2="1520.4" stroke="#5a3a28" stroke-width="1.0" opacity="0.55"/>
<line x1="459.5" y1="1521.7" x2="660.4" y2="1520.9" stroke="#b48a66" stroke-width="1.0" opacity="0.55"/>
<line x1="459.5" y1="1522.9" x2="660.4" y2="1522.7" stroke="#6a4630" stroke-width="1.0" opacity="0.55"/>
<line x1="459.5" y1="1526.2" x2="660.4" y2="1527.0" stroke="#5a3a28" stroke-width="0.6" opacity="0.55"/>
<line x1="459.5" y1="1528.2" x2="660.4" y2="1528.7" stroke="#b48a66" stroke-width="0.7" opacity="0.55"/>
<line x1="459.5" y1="1529.6" x2="660.4" y2="1530.7" stroke="#5a3a28" stroke-width="0.6" opacity="0.55"/>
<line x1="459.5" y1="1532.5" x2="660.4" y2="1532.0" stroke="#704b34" stroke-width="0.5" opacity="0.55"/>
<line x1="459.5" y1="1534.2" x2="660.4" y2="1533.7" stroke="#5a3a28" stroke-width="0.8" opacity="0.55"/>
<line x1="459.5" y1="1536.6" x2="660.4" y2="1537.0" stroke="#b48a66" stroke-width="0.9" opacity="0.55"/>
<line x1="459.5" y1="1537.4" x2="660.4" y2="1537.4" stroke="#704b34" stroke-width="0.5" opacity="0.55"/>
<line x1="459.5" y1="1539.1" x2="660.4" y2="1540.3" stroke="#704b34" stroke-width="0.9" opacity="0.55"/>
<line x1="459.5" y1="1542.5" x2="660.4" y2="1541.9" stroke="#a57c5a" stroke-width="0.7" opacity="0.55"/>
<line x1="459.5" y1="1543.5" x2="660.4" y2="1544.6" stroke="#6a4630" stroke-width="0.5" opacity="0.55"/>
<path d="M644.1,1522.7 C644.1,1505.1 611.9,1503.1 598.1,1503.1 C526.8,1503.1 455.5,1511.0 455.5,1522.7 C455.5,1534.5 526.8,1542.3 598.1,1542.3 C611.9,1542.3 644.1,1540.4 644.1,1522.7 Z" fill="#8a6042" stroke="#4a2d1d" stroke-width="1.2" opacity="0.95"/>
<path d="M644.1,1522.7 C644.1,1505.1 611.9,1503.1 598.1,1503.1 C526.8,1503.1 455.5,1511.0 455.5,1522.7 C455.5,1534.5 526.8,1542.3 598.1,1542.3 C611.9,1542.3 644.1,1540.4 644.1,1522.7 Z" fill="none" stroke="#c79f7c" stroke-width="0.9" opacity="0.5" transform="translate(3,0)"/>
<path d="M639.6,1522.7 C639.6,1507.0 610.6,1505.2 598.1,1505.2 C534.8,1505.2 471.6,1512.2 471.6,1522.7 C471.6,1533.2 534.8,1540.2 598.1,1540.2 C610.6,1540.2 639.6,1538.5 639.6,1522.7 Z" fill="#a67b58" stroke="#4a2d1d" stroke-width="1.2" opacity="0.95"/>
<path d="M639.6,1522.7 C639.6,1507.0 610.6,1505.2 598.1,1505.2 C534.8,1505.2 471.6,1512.2 471.6,1522.7 C471.6,1533.2 534.8,1540.2 598.1,1540.2 C610.6,1540.2 639.6,1538.5 639.6,1522.7 Z" fill="none" stroke="#c79f7c" stroke-width="0.9" opacity="0.5" transform="translate(3,0)"/>
<path d="M635.1,1522.7 C635.1,1508.9 609.2,1507.4 598.1,1507.4 C542.9,1507.4 487.7,1513.5 487.7,1522.7 C487.7,1532.0 542.9,1538.1 598.1,1538.1 C609.2,1538.1 635.1,1536.6 635.1,1522.7 Z" fill="#8a6042" stroke="#4a2d1d" stroke-width="1.2" opacity="0.95"/>
<path d="M635.1,1522.7 C635.1,1508.9 609.2,1507.4 598.1,1507.4 C542.9,1507.4 487.7,1513.5 487.7,1522.7 C487.7,1532.0 542.9,1538.1 598.1,1538.1 C609.2,1538.1 635.1,1536.6 635.1,1522.7 Z" fill="none" stroke="#c79f7c" stroke-width="0.9" opacity="0.5" transform="translate(3,0)"/>
<path d="M630.6,1522.7 C630.6,1510.8 607.9,1509.5 598.1,1509.5 C550.9,1509.5 503.7,1514.8 503.7,1522.7 C503.7,1530.7 550.9,1536.0 598.1,1536.0 C607.9,1536.0 630.6,1534.7 630.6,1522.7 Z" fill="#a67b58" stroke="#4a2d1d" stroke-width="1.2" opacity="0.95"/>
<path d="M630.6,1522.7 C630.6,1510.8 607.9,1509.5 598.1,1509.5 C550.9,1509.5 503.7,1514.8 503.7,1522.7 C503.7,1530.7 550.9,1536.0 598.1,1536.0 C607.9,1536.0 630.6,1534.7 630.6,1522.7 Z" fill="none" stroke="#c79f7c" stroke-width="0.9" opacity="0.5" transform="translate(3,0)"/>
<path d="M626.1,1522.7 C626.1,1512.7 606.5,1511.6 598.1,1511.6 C559.0,1511.6 519.8,1516.1 519.8,1522.7 C519.8,1529.4 559.0,1533.9 598.1,1533.9 C606.5,1533.9 626.1,1532.8 626.1,1522.7 Z" fill="#8a6042" stroke="#4a2d1d" stroke-width="1.2" opacity="0.95"/>
<path d="M626.1,1522.7 C626.1,1512.7 606.5,1511.6 598.1,1511.6 C559.0,1511.6 519.8,1516.1 519.8,1522.7 C519.8,1529.4 559.0,1533.9 598.1,1533.9 C606.5,1533.9 626.1,1532.8 626.1,1522.7 Z" fill="none" stroke="#c79f7c" stroke-width="0.9" opacity="0.5" transform="translate(3,0)"/>
<path d="M621.6,1522.7 C621.6,1514.6 605.2,1513.7 598.1,1513.7 C567.0,1513.7 535.9,1517.3 535.9,1522.7 C535.9,1528.1 567.0,1531.8 598.1,1531.8 C605.2,1531.8 621.6,1530.8 621.6,1522.7 Z" fill="#a67b58" stroke="#4a2d1d" stroke-width="1.2" opacity="0.95"/>
<path d="M621.6,1522.7 C621.6,1514.6 605.2,1513.7 598.1,1513.7 C567.0,1513.7 535.9,1517.3 535.9,1522.7 C535.9,1528.1 567.0,1531.8 598.1,1531.8 C605.2,1531.8 621.6,1530.8 621.6,1522.7 Z" fill="none" stroke="#c79f7c" stroke-width="0.9" opacity="0.5" transform="translate(3,0)"/>
<path d="M617.1,1522.7 C617.1,1516.5 603.8,1515.8 598.1,1515.8 C575.0,1515.8 552.0,1518.6 552.0,1522.7 C552.0,1526.9 575.0,1529.6 598.1,1529.6 C603.8,1529.6 617.1,1528.9 617.1,1522.7 Z" fill="#8a6042" stroke="#4a2d1d" stroke-width="1.2" opacity="0.95"/>
<path d="M617.1,1522.7 C617.1,1516.5 603.8,1515.8 598.1,1515.8 C575.0,1515.8 552.0,1518.6 552.0,1522.7 C552.0,1526.9 575.0,1529.6 598.1,1529.6 C603.8,1529.6 617.1,1528.9 617.1,1522.7 Z" fill="none" stroke="#c79f7c" stroke-width="0.9" opacity="0.5" transform="translate(3,0)"/>
<path d="M612.6,1522.7 C612.6,1518.4 602.5,1518.0 598.1,1518.0 C583.1,1518.0 568.0,1519.9 568.0,1522.7 C568.0,1525.6 583.1,1527.5 598.1,1527.5 C602.5,1527.5 612.6,1527.0 612.6,1522.7 Z" fill="#a67b58" stroke="#4a2d1d" stroke-width="1.2" opacity="0.95"/>
<path d="M612.6,1522.7 C612.6,1518.4 602.5,1518.0 598.1,1518.0 C583.1,1518.0 568.0,1519.9 568.0,1522.7 C568.0,1525.6 583.1,1527.5 598.1,1527.5 C602.5,1527.5 612.6,1527.0 612.6,1522.7 Z" fill="none" stroke="#c79f7c" stroke-width="0.9" opacity="0.5" transform="translate(3,0)"/>
<ellipse cx="596.1" cy="1522.7" rx="22.1" ry="4.5" fill="#3c2a22" opacity="0.85"/>
<rect x="459.5" y="1539.7" width="200.89999999999998" height="5.3" fill="#5e4030" opacity="0.35"/>
</g>
<path d="M660.4,1493.5 L665,1494 Q667,1518.5 665,1543 L660.4,1543.5 Z" fill="url(#cap)"/>
<clipPath id="cb5"><path d="M76,1742 L80,1739 L387,1737 L387,1801 L76,1801 Z"/></clipPath>
<path d="M76,1742 L80,1739 L387,1737 L387,1801 L76,1801 Z" fill="url(#kblade)" stroke="#9a9a9a" stroke-width="0.8"/>
<g clip-path="url(#cb5)">
<rect x="50" y="1739" width="342" height="46.5" fill="#c8c8c8" opacity="0.4"/>
<ellipse cx="107.9" cy="1799.6" rx="4.1" ry="3.3" class="ds"/>
<ellipse cx="107.3" cy="1798.2" rx="3.8" ry="3.0" class="db"/>
<ellipse cx="306.2" cy="1751.5" rx="4.7" ry="3.7" class="ds"/>
<ellipse cx="305.6" cy="1750.1" rx="4.4" ry="3.4" class="db"/>
<ellipse cx="280.7" cy="1765.6" rx="4.8" ry="3.4" class="ds"/>
<ellipse cx="280.1" cy="1764.2" rx="4.5" ry="3.1" class="db"/>
<ellipse cx="210.1" cy="1765.1" rx="5.5" ry="4.2" class="ds"/>
<ellipse cx="209.5" cy="1763.7" rx="5.2" ry="3.9" class="db"/>
<ellipse cx="150.2" cy="1777.9" rx="5.3" ry="4.3" class="ds"/>
<ellipse cx="149.6" cy="1776.5" rx="5.0" ry="4.0" class="db"/>
<ellipse cx="150.6" cy="1763.0" rx="5.8" ry="3.9" class="ds"/>
<ellipse cx="150.0" cy="1761.6" rx="5.5" ry="3.6" class="db"/>
<ellipse cx="204.5" cy="1751.7" rx="6.0" ry="3.9" class="ds"/>
<ellipse cx="203.9" cy="1750.3" rx="5.7" ry="3.6" class="db"/>
<ellipse cx="174.4" cy="1754.6" rx="4.3" ry="3.1" class="ds"/>
<ellipse cx="173.8" cy="1753.2" rx="4.0" ry="2.8" class="db"/>
<ellipse cx="147.4" cy="1766.5" rx="4.9" ry="3.4" class="ds"/>
<ellipse cx="146.8" cy="1765.1" rx="4.6" ry="3.1" class="db"/>
<ellipse cx="291.4" cy="1757.6" rx="5.0" ry="3.8" class="ds"/>
<ellipse cx="290.8" cy="1756.2" rx="4.7" ry="3.5" class="db"/>
<ellipse cx="327.6" cy="1793.9" rx="4.4" ry="3.6" class="ds"/>
<ellipse cx="327.0" cy="1792.5" rx="4.1" ry="3.3" class="db"/>
<ellipse cx="170.7" cy="1750.0" rx="3.9" ry="2.9" class="ds"/>
<ellipse cx="170.1" cy="1748.6" rx="3.6" ry="2.6" class="db"/>
<ellipse cx="227.6" cy="1761.7" rx="5.2" ry="3.4" class="ds"/>
<ellipse cx="227.0" cy="1760.3" rx="4.9" ry="3.1" class="db"/>
<ellipse cx="249.5" cy="1761.1" rx="4.2" ry="2.9" class="ds"/>
<ellipse cx="248.9" cy="1759.7" rx="3.9" ry="2.6" class="db"/>
<ellipse cx="321.9" cy="1779.6" rx="4.7" ry="3.4" class="ds"/>
<ellipse cx="321.3" cy="1778.2" rx="4.4" ry="3.1" class="db"/>
<ellipse cx="250.3" cy="1772.8" rx="3.8" ry="3.0" class="ds"/>
<ellipse cx="249.7" cy="1771.4" rx="3.5" ry="2.7" class="db"/>
<ellipse cx="179.5" cy="1764.9" rx="6.4" ry="4.5" class="ds"/>
<ellipse cx="178.9" cy="1763.5" rx="6.1" ry="4.2" class="db"/>
<ellipse cx="143.6" cy="1798.5" rx="4.4" ry="3.3" class="ds"/>
<ellipse cx="143.0" cy="1797.1" rx="4.1" ry="3.0" class="db"/>
<ellipse cx="291.7" cy="1759.4" rx="5.5" ry="3.4" class="ds"/>
<ellipse cx="291.1" cy="1758.0" rx="5.2" ry="3.1" class="db"/>
<ellipse cx="249.2" cy="1769.4" rx="4.4" ry="3.3" class="ds"/>
<ellipse cx="248.6" cy="1768.0" rx="4.1" ry="3.0" class="db"/>
<ellipse cx="205.2" cy="1744.5" rx="4.2" ry="3.5" class="ds"/>
<ellipse cx="204.6" cy="1743.1" rx="3.9" ry="3.2" class="db"/>
<ellipse cx="235.9" cy="1778.3" rx="4.3" ry="3.5" class="ds"/>
<ellipse cx="235.3" cy="1776.9" rx="4.0" ry="3.2" class="db"/>
<ellipse cx="366.6" cy="1747.3" rx="4.9" ry="3.5" class="ds"/>
<ellipse cx="366.0" cy="1745.9" rx="4.6" ry="3.2" class="db"/>
<ellipse cx="209.3" cy="1758.3" rx="4.8" ry="4.0" class="ds"/>
<ellipse cx="208.7" cy="1756.9" rx="4.5" ry="3.7" class="db"/>
<ellipse cx="97.6" cy="1781.5" rx="4.9" ry="3.1" class="ds"/>
<ellipse cx="97.0" cy="1780.1" rx="4.6" ry="2.8" class="db"/>
<ellipse cx="299.8" cy="1773.9" rx="6.0" ry="4.1" class="ds"/>
<ellipse cx="299.2" cy="1772.5" rx="5.7" ry="3.8" class="db"/>
<ellipse cx="190.5" cy="1791.0" rx="6.5" ry="4.9" class="ds"/>
<ellipse cx="189.9" cy="1789.6" rx="6.2" ry="4.6" class="db"/>
<ellipse cx="302.5" cy="1779.0" rx="5.1" ry="3.3" class="ds"/>
<ellipse cx="301.9" cy="1777.6" rx="4.8" ry="3.0" class="db"/>
<ellipse cx="286.1" cy="1742.5" rx="4.8" ry="4.1" class="ds"/>
<ellipse cx="285.5" cy="1741.1" rx="4.5" ry="3.8" class="db"/>
<ellipse cx="159.3" cy="1744.9" rx="5.3" ry="4.1" class="ds"/>
<ellipse cx="158.7" cy="1743.5" rx="5.0" ry="3.8" class="db"/>
<ellipse cx="236.4" cy="1803.6" rx="5.5" ry="4.1" class="ds"/>
<ellipse cx="235.8" cy="1802.2" rx="5.2" ry="3.8" class="db"/>
<ellipse cx="223.9" cy="1742.5" rx="6.4" ry="4.7" class="ds"/>
<ellipse cx="223.3" cy="1741.1" rx="6.1" ry="4.4" class="db"/>
<ellipse cx="286.2" cy="1742.8" rx="6.0" ry="4.7" class="ds"/>
<ellipse cx="285.6" cy="1741.4" rx="5.7" ry="4.4" class="db"/>
<ellipse cx="356.8" cy="1791.7" rx="6.5" ry="4.1" class="ds"/>
<ellipse cx="356.2" cy="1790.3" rx="6.2" ry="3.8" class="db"/>
<ellipse cx="316.0" cy="1749.3" rx="3.9" ry="3.1" class="ds"/>
<ellipse cx="315.4" cy="1747.9" rx="3.6" ry="2.8" class="db"/>
<ellipse cx="246.0" cy="1786.3" rx="4.8" ry="3.4" class="ds"/>
<ellipse cx="245.4" cy="1784.9" rx="4.5" ry="3.1" class="db"/>
<ellipse cx="115.1" cy="1743.1" rx="5.3" ry="4.3" class="ds"/>
<ellipse cx="114.5" cy="1741.7" rx="5.0" ry="4.0" class="db"/>
<ellipse cx="112.0" cy="1751.6" rx="6.0" ry="4.1" class="ds"/>
<ellipse cx="111.4" cy="1750.2" rx="5.7" ry="3.8" class="db"/>
<ellipse cx="364.7" cy="1791.0" rx="5.4" ry="4.3" class="ds"/>
<ellipse cx="364.1" cy="1789.6" rx="5.1" ry="4.0" class="db"/>
<ellipse cx="123.2" cy="1753.3" rx="5.8" ry="4.2" class="ds"/>
<ellipse cx="122.6" cy="1751.9" rx="5.5" ry="3.9" class="db"/>
<ellipse cx="374.9" cy="1779.4" rx="5.4" ry="4.2" class="ds"/>
<ellipse cx="374.3" cy="1778.0" rx="5.1" ry="3.9" class="db"/>
<ellipse cx="110.3" cy="1742.9" rx="5.9" ry="4.9" class="ds"/>
<ellipse cx="109.7" cy="1741.5" rx="5.6" ry="4.6" class="db"/>
<ellipse cx="218.4" cy="1749.9" rx="6.5" ry="5.1" class="ds"/>
<ellipse cx="217.8" cy="1748.5" rx="6.2" ry="4.8" class="db"/>
<ellipse cx="280.1" cy="1790.6" rx="4.3" ry="3.5" class="ds"/>
<ellipse cx="279.5" cy="1789.2" rx="4.0" ry="3.2" class="db"/>
<ellipse cx="179.4" cy="1759.6" rx="5.2" ry="4.4" class="ds"/>
<ellipse cx="178.8" cy="1758.2" rx="4.9" ry="4.1" class="db"/>
<ellipse cx="113.1" cy="1785.6" rx="5.8" ry="4.8" class="ds"/>
<ellipse cx="112.5" cy="1784.2" rx="5.5" ry="4.5" class="db"/>
<ellipse cx="316.6" cy="1764.0" rx="5.6" ry="3.5" class="ds"/>
<ellipse cx="316.0" cy="1762.6" rx="5.3" ry="3.2" class="db"/>
<ellipse cx="203.9" cy="1780.4" rx="3.9" ry="2.6" class="ds"/>
<ellipse cx="203.3" cy="1779.0" rx="3.6" ry="2.3" class="db"/>
<ellipse cx="141.2" cy="1761.1" rx="6.5" ry="4.5" class="ds"/>
<ellipse cx="140.6" cy="1759.7" rx="6.2" ry="4.2" class="db"/>
<ellipse cx="85.9" cy="1781.2" rx="4.8" ry="4.1" class="ds"/>
<ellipse cx="85.3" cy="1779.8" rx="4.5" ry="3.8" class="db"/>
<ellipse cx="374.6" cy="1752.0" rx="6.4" ry="5.4" class="ds"/>
<ellipse cx="374.0" cy="1750.6" rx="6.1" ry="5.1" class="db"/>
<ellipse cx="107.6" cy="1771.3" rx="5.3" ry="4.1" class="ds"/>
<ellipse cx="107.0" cy="1769.9" rx="5.0" ry="3.8" class="db"/>
<ellipse cx="333.8" cy="1753.7" rx="4.6" ry="3.0" class="ds"/>
<ellipse cx="333.2" cy="1752.3" rx="4.3" ry="2.7" class="db"/>
<ellipse cx="216.2" cy="1744.9" rx="4.6" ry="3.6" class="ds"/>
<ellipse cx="215.6" cy="1743.5" rx="4.3" ry="3.3" class="db"/>
<ellipse cx="215.1" cy="1748.1" rx="5.5" ry="3.9" class="ds"/>
<ellipse cx="214.5" cy="1746.7" rx="5.2" ry="3.6" class="db"/>
<ellipse cx="311.8" cy="1790.9" rx="4.5" ry="3.6" class="ds"/>
<ellipse cx="311.2" cy="1789.5" rx="4.2" ry="3.3" class="db"/>
<ellipse cx="157.3" cy="1744.4" rx="5.1" ry="4.0" class="ds"/>
<ellipse cx="156.7" cy="1743.0" rx="4.8" ry="3.7" class="db"/>
<ellipse cx="109.6" cy="1768.9" rx="5.2" ry="4.1" class="ds"/>
<ellipse cx="109.0" cy="1767.5" rx="4.9" ry="3.8" class="db"/>
<ellipse cx="130.9" cy="1801.8" rx="4.5" ry="3.6" class="ds"/>
<ellipse cx="130.3" cy="1800.4" rx="4.2" ry="3.3" class="db"/>
<ellipse cx="310.2" cy="1754.0" rx="5.2" ry="4.3" class="ds"/>
<ellipse cx="309.6" cy="1752.6" rx="4.9" ry="4.0" class="db"/>
<ellipse cx="309.9" cy="1796.3" rx="4.8" ry="3.3" class="ds"/>
<ellipse cx="309.3" cy="1794.9" rx="4.5" ry="3.0" class="db"/>
<ellipse cx="256.8" cy="1750.1" rx="6.4" ry="5.4" class="ds"/>
<ellipse cx="256.2" cy="1748.7" rx="6.1" ry="5.1" class="db"/>
<ellipse cx="219.8" cy="1786.2" rx="4.8" ry="3.3" class="ds"/>
<ellipse cx="219.2" cy="1784.8" rx="4.5" ry="3.0" class="db"/>
<ellipse cx="263.7" cy="1780.9" rx="3.9" ry="2.9" class="ds"/>
<ellipse cx="263.1" cy="1779.5" rx="3.6" ry="2.6" class="db"/>
<ellipse cx="92.9" cy="1789.7" rx="5.0" ry="3.7" class="ds"/>
<ellipse cx="92.3" cy="1788.3" rx="4.7" ry="3.4" class="db"/>
<ellipse cx="268.3" cy="1744.6" rx="4.3" ry="2.8" class="ds"/>
<ellipse cx="267.7" cy="1743.2" rx="4.0" ry="2.5" class="db"/>
<ellipse cx="131.9" cy="1777.0" rx="5.9" ry="4.7" class="ds"/>
<ellipse cx="131.3" cy="1775.6" rx="5.6" ry="4.4" class="db"/>
<ellipse cx="237.1" cy="1765.4" rx="5.3" ry="4.1" class="ds"/>
<ellipse cx="236.5" cy="1764.0" rx="5.0" ry="3.8" class="db"/>
<ellipse cx="158.8" cy="1777.6" rx="5.8" ry="4.1" class="ds"/>
<ellipse cx="158.2" cy="1776.2" rx="5.5" ry="3.8" class="db"/>
<ellipse cx="257.6" cy="1749.1" rx="4.6" ry="3.8" class="ds"/>
<ellipse cx="257.0" cy="1747.7" rx="4.3" ry="3.5" class="db"/>
<ellipse cx="368.6" cy="1768.5" rx="5.7" ry="3.9" class="ds"/>
<ellipse cx="368.0" cy="1767.1" rx="5.4" ry="3.6" class="db"/>
<ellipse cx="246.6" cy="1747.1" rx="5.5" ry="4.2" class="ds"/>
<ellipse cx="246.0" cy="1745.7" rx="5.2" ry="3.9" class="db"/>
<ellipse cx="316.7" cy="1750.4" rx="6.2" ry="4.2" class="ds"/>
<ellipse cx="316.1" cy="1749.0" rx="5.9" ry="3.9" class="db"/>
<ellipse cx="306.5" cy="1751.8" rx="4.1" ry="3.1" class="ds"/>
<ellipse cx="305.9" cy="1750.4" rx="3.8" ry="2.8" class="db"/>
<ellipse cx="264.3" cy="1762.4" rx="3.8" ry="2.6" class="ds"/>
<ellipse cx="263.7" cy="1761.0" rx="3.5" ry="2.3" class="db"/>
<ellipse cx="289.6" cy="1749.1" rx="5.2" ry="3.5" class="ds"/>
<ellipse cx="289.0" cy="1747.7" rx="4.9" ry="3.2" class="db"/>
<ellipse cx="271.0" cy="1751.7" rx="4.1" ry="3.5" class="ds"/>
<ellipse cx="270.4" cy="1750.3" rx="3.8" ry="3.2" class="db"/>
<ellipse cx="251.7" cy="1745.5" rx="4.5" ry="3.0" class="ds"/>
<ellipse cx="251.1" cy="1744.1" rx="4.2" ry="2.7" class="db"/>
<ellipse cx="236.1" cy="1744.1" rx="3.8" ry="2.9" class="ds"/>
<ellipse cx="235.5" cy="1742.7" rx="3.5" ry="2.6" class="db"/>
<ellipse cx="314.3" cy="1770.5" rx="5.6" ry="3.7" class="ds"/>
<ellipse cx="313.7" cy="1769.1" rx="5.3" ry="3.4" class="db"/>
<ellipse cx="318.7" cy="1803.1" rx="5.0" ry="3.7" class="ds"/>
<ellipse cx="318.1" cy="1801.7" rx="4.7" ry="3.4" class="db"/>
<ellipse cx="113.8" cy="1746.2" rx="4.0" ry="2.6" class="ds"/>
<ellipse cx="113.2" cy="1744.8" rx="3.7" ry="2.3" class="db"/>
<ellipse cx="131.2" cy="1800.2" rx="5.9" ry="5.0" class="ds"/>
<ellipse cx="130.6" cy="1798.8" rx="5.6" ry="4.7" class="db"/>
<ellipse cx="326.7" cy="1782.8" rx="5.7" ry="3.6" class="ds"/>
<ellipse cx="326.1" cy="1781.4" rx="5.4" ry="3.3" class="db"/>
<ellipse cx="378.7" cy="1772.3" rx="5.7" ry="3.8" class="ds"/>
<ellipse cx="378.1" cy="1770.9" rx="5.4" ry="3.5" class="db"/>
<ellipse cx="107.6" cy="1770.7" rx="6.2" ry="4.3" class="ds"/>
<ellipse cx="107.0" cy="1769.3" rx="5.9" ry="4.0" class="db"/>
<ellipse cx="280.7" cy="1742.5" rx="4.2" ry="3.4" class="ds"/>
<ellipse cx="280.1" cy="1741.1" rx="3.9" ry="3.1" class="db"/>
<ellipse cx="121.2" cy="1745.6" rx="3.8" ry="3.1" class="ds"/>
<ellipse cx="120.6" cy="1744.2" rx="3.5" ry="2.8" class="db"/>
<ellipse cx="90.6" cy="1783.2" rx="5.3" ry="3.6" class="ds"/>
<ellipse cx="90.0" cy="1781.8" rx="5.0" ry="3.3" class="db"/>
<ellipse cx="227.4" cy="1747.6" rx="4.3" ry="3.0" class="ds"/>
<ellipse cx="226.8" cy="1746.2" rx="4.0" ry="2.7" class="db"/>
<ellipse cx="194.9" cy="1776.4" rx="3.9" ry="2.9" class="ds"/>
<ellipse cx="194.3" cy="1775.0" rx="3.6" ry="2.6" class="db"/>
<ellipse cx="212.9" cy="1744.0" rx="5.9" ry="4.8" class="ds"/>
<ellipse cx="212.3" cy="1742.6" rx="5.6" ry="4.5" class="db"/>
<ellipse cx="326.8" cy="1792.7" rx="5.7" ry="4.8" class="ds"/>
<ellipse cx="326.2" cy="1791.3" rx="5.4" ry="4.5" class="db"/>
<ellipse cx="293.3" cy="1745.1" rx="6.2" ry="5.1" class="ds"/>
<ellipse cx="292.7" cy="1743.7" rx="5.9" ry="4.8" class="db"/>
<ellipse cx="241.6" cy="1778.7" rx="4.3" ry="3.0" class="ds"/>
<ellipse cx="241.0" cy="1777.3" rx="4.0" ry="2.7" class="db"/>
<ellipse cx="343.4" cy="1751.8" rx="4.0" ry="3.3" class="ds"/>
<ellipse cx="342.8" cy="1750.4" rx="3.7" ry="3.0" class="db"/>
<ellipse cx="141.6" cy="1742.4" rx="4.9" ry="4.1" class="ds"/>
<ellipse cx="141.0" cy="1741.0" rx="4.6" ry="3.8" class="db"/>
<ellipse cx="222.8" cy="1742.4" rx="4.7" ry="3.5" class="ds"/>
<ellipse cx="222.2" cy="1741.0" rx="4.4" ry="3.2" class="db"/>
<ellipse cx="139.4" cy="1752.4" rx="4.7" ry="3.0" class="ds"/>
<ellipse cx="138.8" cy="1751.0" rx="4.4" ry="2.7" class="db"/>
<ellipse cx="308.7" cy="1744.5" rx="4.9" ry="4.0" class="ds"/>
<ellipse cx="308.1" cy="1743.1" rx="4.6" ry="3.7" class="db"/>
<ellipse cx="287.8" cy="1747.3" rx="4.4" ry="3.3" class="ds"/>
<ellipse cx="287.2" cy="1745.9" rx="4.1" ry="3.0" class="db"/>
<ellipse cx="236.5" cy="1786.7" rx="6.3" ry="4.0" class="ds"/>
<ellipse cx="235.9" cy="1785.3" rx="6.0" ry="3.7" class="db"/>
<ellipse cx="234.9" cy="1769.0" rx="5.2" ry="4.1" class="ds"/>
<ellipse cx="234.3" cy="1767.6" rx="4.9" ry="3.8" class="db"/>
<ellipse cx="238.5" cy="1776.9" rx="4.6" ry="3.2" class="ds"/>
<ellipse cx="237.9" cy="1775.5" rx="4.3" ry="2.9" class="db"/>
<ellipse cx="367.0" cy="1767.9" rx="5.9" ry="4.6" class="ds"/>
<ellipse cx="366.4" cy="1766.5" rx="5.6" ry="4.3" class="db"/>
<ellipse cx="141.9" cy="1797.1" rx="4.4" ry="3.7" class="ds"/>
<ellipse cx="141.3" cy="1795.7" rx="4.1" ry="3.4" class="db"/>
<ellipse cx="366.5" cy="1801.7" rx="5.6" ry="4.7" class="ds"/>
<ellipse cx="365.9" cy="1800.3" rx="5.3" ry="4.4" class="db"/>
<ellipse cx="253.0" cy="1785.0" rx="5.0" ry="3.4" class="ds"/>
<ellipse cx="252.4" cy="1783.6" rx="4.7" ry="3.1" class="db"/>
<ellipse cx="235.1" cy="1746.9" rx="4.5" ry="3.2" class="ds"/>
<ellipse cx="234.5" cy="1745.5" rx="4.2" ry="2.9" class="db"/>
<ellipse cx="139.1" cy="1749.6" rx="5.9" ry="4.1" class="ds"/>
<ellipse cx="138.5" cy="1748.2" rx="5.6" ry="3.8" class="db"/>
<ellipse cx="319.9" cy="1777.2" rx="5.9" ry="3.8" class="ds"/>
<ellipse cx="319.3" cy="1775.8" rx="5.6" ry="3.5" class="db"/>
<ellipse cx="112.8" cy="1765.1" rx="4.5" ry="3.4" class="ds"/>
<ellipse cx="112.2" cy="1763.7" rx="4.2" ry="3.1" class="db"/>
<ellipse cx="109.2" cy="1748.0" rx="6.4" ry="4.3" class="ds"/>
<ellipse cx="108.6" cy="1746.6" rx="6.1" ry="4.0" class="db"/>
<ellipse cx="193.6" cy="1743.4" rx="5.9" ry="3.9" class="ds"/>
<ellipse cx="193.0" cy="1742.0" rx="5.6" ry="3.6" class="db"/>
<ellipse cx="200.3" cy="1743.3" rx="4.3" ry="3.0" class="ds"/>
<ellipse cx="199.7" cy="1741.9" rx="4.0" ry="2.7" class="db"/>
<ellipse cx="359.9" cy="1780.0" rx="5.1" ry="3.8" class="ds"/>
<ellipse cx="359.3" cy="1778.6" rx="4.8" ry="3.5" class="db"/>
<ellipse cx="253.0" cy="1777.5" rx="4.3" ry="3.6" class="ds"/>
<ellipse cx="252.4" cy="1776.1" rx="4.0" ry="3.3" class="db"/>
<ellipse cx="351.9" cy="1794.2" rx="3.8" ry="2.7" class="ds"/>
<ellipse cx="351.3" cy="1792.8" rx="3.5" ry="2.4" class="db"/>
<ellipse cx="105.8" cy="1768.7" rx="5.3" ry="4.3" class="ds"/>
<ellipse cx="105.2" cy="1767.3" rx="5.0" ry="4.0" class="db"/>
<ellipse cx="98.1" cy="1753.3" rx="4.7" ry="3.4" class="ds"/>
<ellipse cx="97.5" cy="1751.9" rx="4.4" ry="3.1" class="db"/>
<ellipse cx="341.9" cy="1743.6" rx="4.3" ry="3.6" class="ds"/>
<ellipse cx="341.3" cy="1742.2" rx="4.0" ry="3.3" class="db"/>
<ellipse cx="271.4" cy="1802.0" rx="3.9" ry="2.9" class="ds"/>
<ellipse cx="270.8" cy="1800.6" rx="3.6" ry="2.6" class="db"/>
<ellipse cx="136.7" cy="1755.9" rx="6.0" ry="4.0" class="ds"/>
<ellipse cx="136.1" cy="1754.5" rx="5.7" ry="3.7" class="db"/>
<ellipse cx="101.2" cy="1758.8" rx="4.2" ry="3.4" class="ds"/>
<ellipse cx="100.6" cy="1757.4" rx="3.9" ry="3.1" class="db"/>
<ellipse cx="153.7" cy="1784.7" rx="6.1" ry="4.7" class="ds"/>
<ellipse cx="153.1" cy="1783.3" rx="5.8" ry="4.4" class="db"/>
<ellipse cx="203.7" cy="1771.3" rx="5.3" ry="3.9" class="ds"/>
<ellipse cx="203.1" cy="1769.9" rx="5.0" ry="3.6" class="db"/>
<ellipse cx="149.2" cy="1757.3" rx="4.2" ry="3.2" class="ds"/>
<ellipse cx="148.6" cy="1755.9" rx="3.9" ry="2.9" class="db"/>
<ellipse cx="273.5" cy="1793.8" rx="4.4" ry="2.8" class="ds"/>
<ellipse cx="272.9" cy="1792.4" rx="4.1" ry="2.5" class="db"/>
<ellipse cx="115.2" cy="1781.6" rx="6.3" ry="4.5" class="ds"/>
<ellipse cx="114.6" cy="1780.2" rx="6.0" ry="4.2" class="db"/>
<ellipse cx="209.9" cy="1753.3" rx="5.2" ry="3.9" class="ds"/>
<ellipse cx="209.3" cy="1751.9" rx="4.9" ry="3.6" class="db"/>
<ellipse cx="225.2" cy="1743.8" rx="6.5" ry="4.5" class="ds"/>
<ellipse cx="224.6" cy="1742.4" rx="6.2" ry="4.2" class="db"/>
<ellipse cx="365.8" cy="1742.9" rx="5.1" ry="3.5" class="ds"/>
<ellipse cx="365.2" cy="1741.5" rx="4.8" ry="3.2" class="db"/>
<ellipse cx="345.4" cy="1793.0" rx="4.8" ry="3.2" class="ds"/>
<ellipse cx="344.8" cy="1791.6" rx="4.5" ry="2.9" class="db"/>
<ellipse cx="340.6" cy="1797.2" rx="5.6" ry="3.6" class="ds"/>
<ellipse cx="340.0" cy="1795.8" rx="5.3" ry="3.3" class="db"/>
<ellipse cx="319.8" cy="1802.8" rx="4.4" ry="3.1" class="ds"/>
<ellipse cx="319.2" cy="1801.4" rx="4.1" ry="2.8" class="db"/>
<ellipse cx="128.8" cy="1771.4" rx="5.3" ry="3.6" class="ds"/>
<ellipse cx="128.2" cy="1770.0" rx="5.0" ry="3.3" class="db"/>
<ellipse cx="190.6" cy="1743.3" rx="5.3" ry="4.2" class="ds"/>
<ellipse cx="190.0" cy="1741.9" rx="5.0" ry="3.9" class="db"/>
<ellipse cx="135.4" cy="1793.3" rx="5.0" ry="3.9" class="ds"/>
<ellipse cx="134.8" cy="1791.9" rx="4.7" ry="3.6" class="db"/>
<ellipse cx="320.9" cy="1777.2" rx="6.3" ry="4.7" class="ds"/>
<ellipse cx="320.3" cy="1775.8" rx="6.0" ry="4.4" class="db"/>
<ellipse cx="170.4" cy="1765.5" rx="5.2" ry="3.6" class="ds"/>
<ellipse cx="169.8" cy="1764.1" rx="4.9" ry="3.3" class="db"/>
<ellipse cx="245.5" cy="1748.6" rx="3.9" ry="2.9" class="ds"/>
<ellipse cx="244.9" cy="1747.2" rx="3.6" ry="2.6" class="db"/>
<ellipse cx="190.8" cy="1771.3" rx="5.5" ry="4.3" class="ds"/>
<ellipse cx="190.2" cy="1769.9" rx="5.2" ry="4.0" class="db"/>
<ellipse cx="139.3" cy="1742.8" rx="4.2" ry="3.6" class="ds"/>
<ellipse cx="138.7" cy="1741.4" rx="3.9" ry="3.3" class="db"/>
<ellipse cx="332.6" cy="1784.0" rx="4.6" ry="3.3" class="ds"/>
<ellipse cx="332.0" cy="1782.6" rx="4.3" ry="3.0" class="db"/>
<ellipse cx="369.9" cy="1794.7" rx="6.1" ry="3.9" class="ds"/>
<ellipse cx="369.3" cy="1793.3" rx="5.8" ry="3.6" class="db"/>
<ellipse cx="232.5" cy="1742.7" rx="6.4" ry="5.4" class="ds"/>
<ellipse cx="231.9" cy="1741.3" rx="6.1" ry="5.1" class="db"/>
<ellipse cx="276.2" cy="1742.8" rx="6.0" ry="4.0" class="ds"/>
<ellipse cx="275.6" cy="1741.4" rx="5.7" ry="3.7" class="db"/>
<ellipse cx="131.1" cy="1743.0" rx="5.0" ry="4.2" class="ds"/>
<ellipse cx="130.5" cy="1741.6" rx="4.7" ry="3.9" class="db"/>
<ellipse cx="142.7" cy="1784.2" rx="3.9" ry="3.0" class="ds"/>
<ellipse cx="142.1" cy="1782.8" rx="3.6" ry="2.7" class="db"/>
<ellipse cx="324.0" cy="1761.6" rx="6.5" ry="4.7" class="ds"/>
<ellipse cx="323.4" cy="1760.2" rx="6.2" ry="4.4" class="db"/>
<ellipse cx="185.7" cy="1794.1" rx="5.9" ry="4.6" class="ds"/>
<ellipse cx="185.1" cy="1792.7" rx="5.6" ry="4.3" class="db"/>
<ellipse cx="307.0" cy="1745.5" rx="6.4" ry="4.4" class="ds"/>
<ellipse cx="306.4" cy="1744.1" rx="6.1" ry="4.1" class="db"/>
<ellipse cx="180.8" cy="1767.8" rx="4.5" ry="3.3" class="ds"/>
<ellipse cx="180.2" cy="1766.4" rx="4.2" ry="3.0" class="db"/>
<ellipse cx="250.5" cy="1744.9" rx="4.2" ry="2.7" class="ds"/>
<ellipse cx="249.9" cy="1743.5" rx="3.9" ry="2.4" class="db"/>
<ellipse cx="356.5" cy="1742.4" rx="5.5" ry="4.3" class="ds"/>
<ellipse cx="355.9" cy="1741.0" rx="5.2" ry="4.0" class="db"/>
<ellipse cx="114.5" cy="1763.8" rx="3.9" ry="2.7" class="ds"/>
<ellipse cx="113.9" cy="1762.4" rx="3.6" ry="2.4" class="db"/>
<ellipse cx="81.7" cy="1801.4" rx="5.3" ry="4.4" class="ds"/>
<ellipse cx="81.1" cy="1800.0" rx="5.0" ry="4.1" class="db"/>
<ellipse cx="368.3" cy="1747.7" rx="4.8" ry="3.8" class="ds"/>
<ellipse cx="367.7" cy="1746.3" rx="4.5" ry="3.5" class="db"/>
<ellipse cx="114.2" cy="1745.1" rx="4.5" ry="3.1" class="ds"/>
<ellipse cx="113.6" cy="1743.7" rx="4.2" ry="2.8" class="db"/>
<ellipse cx="309.2" cy="1798.2" rx="5.1" ry="3.6" class="ds"/>
<ellipse cx="308.6" cy="1796.8" rx="4.8" ry="3.3" class="db"/>
<ellipse cx="268.0" cy="1796.8" rx="4.3" ry="3.2" class="ds"/>
<ellipse cx="267.4" cy="1795.4" rx="4.0" ry="2.9" class="db"/>
<ellipse cx="321.5" cy="1784.4" rx="3.8" ry="3.1" class="ds"/>
<ellipse cx="320.9" cy="1783.0" rx="3.5" ry="2.8" class="db"/>
<ellipse cx="155.8" cy="1802.0" rx="6.0" ry="4.6" class="ds"/>
<ellipse cx="155.2" cy="1800.6" rx="5.7" ry="4.3" class="db"/>
<ellipse cx="95.7" cy="1794.5" rx="6.1" ry="4.3" class="ds"/>
<ellipse cx="95.1" cy="1793.1" rx="5.8" ry="4.0" class="db"/>
<ellipse cx="224.7" cy="1752.0" rx="4.8" ry="3.8" class="ds"/>
<ellipse cx="224.1" cy="1750.6" rx="4.5" ry="3.5" class="db"/>
<ellipse cx="153.4" cy="1743.1" rx="4.3" ry="3.0" class="ds"/>
<ellipse cx="152.8" cy="1741.7" rx="4.0" ry="2.7" class="db"/>
<ellipse cx="200.7" cy="1752.1" rx="3.9" ry="2.6" class="ds"/>
<ellipse cx="200.1" cy="1750.7" rx="3.6" ry="2.3" class="db"/>
<ellipse cx="349.4" cy="1746.2" rx="4.3" ry="3.4" class="ds"/>
<ellipse cx="348.8" cy="1744.8" rx="4.0" ry="3.1" class="db"/>
<ellipse cx="158.5" cy="1748.5" rx="5.8" ry="4.8" class="ds"/>
<ellipse cx="157.9" cy="1747.1" rx="5.5" ry="4.5" class="db"/>
<ellipse cx="90.9" cy="1742.4" rx="5.6" ry="4.5" class="ds"/>
<ellipse cx="90.3" cy="1741.0" rx="5.3" ry="4.2" class="db"/>
<ellipse cx="196.6" cy="1743.8" rx="5.5" ry="4.1" class="ds"/>
<ellipse cx="196.0" cy="1742.4" rx="5.2" ry="3.8" class="db"/>
<ellipse cx="376.1" cy="1776.5" rx="6.2" ry="4.1" class="ds"/>
<ellipse cx="375.5" cy="1775.1" rx="5.9" ry="3.8" class="db"/>
<ellipse cx="230.0" cy="1743.4" rx="5.1" ry="3.8" class="ds"/>
<ellipse cx="229.4" cy="1742.0" rx="4.8" ry="3.5" class="db"/>
<ellipse cx="210.4" cy="1774.3" rx="5.4" ry="4.3" class="ds"/>
<ellipse cx="209.8" cy="1772.9" rx="5.1" ry="4.0" class="db"/>
<ellipse cx="141.0" cy="1760.2" rx="5.3" ry="4.0" class="ds"/>
<ellipse cx="140.4" cy="1758.8" rx="5.0" ry="3.7" class="db"/>
<ellipse cx="128.8" cy="1760.0" rx="4.4" ry="3.3" class="ds"/>
<ellipse cx="128.2" cy="1758.6" rx="4.1" ry="3.0" class="db"/>
<ellipse cx="339.6" cy="1754.6" rx="3.7" ry="3.1" class="ds"/>
<ellipse cx="339.0" cy="1753.2" rx="3.4" ry="2.8" class="db"/>
<ellipse cx="181.5" cy="1750.7" rx="4.0" ry="3.1" class="ds"/>
<ellipse cx="180.9" cy="1749.3" rx="3.7" ry="2.8" class="db"/>
<ellipse cx="173.6" cy="1773.1" rx="6.5" ry="5.5" class="ds"/>
<ellipse cx="173.0" cy="1771.7" rx="6.2" ry="5.2" class="db"/>
<ellipse cx="161.0" cy="1743.4" rx="6.1" ry="3.8" class="ds"/>
<ellipse cx="160.4" cy="1742.0" rx="5.8" ry="3.5" class="db"/>
<ellipse cx="191.7" cy="1750.9" rx="4.1" ry="2.9" class="ds"/>
<ellipse cx="191.1" cy="1749.5" rx="3.8" ry="2.6" class="db"/>
<ellipse cx="226.2" cy="1750.3" rx="6.0" ry="3.8" class="ds"/>
<ellipse cx="225.6" cy="1748.9" rx="5.7" ry="3.5" class="db"/>
<ellipse cx="128.6" cy="1781.6" rx="4.5" ry="3.0" class="ds"/>
<ellipse cx="128.0" cy="1780.2" rx="4.2" ry="2.7" class="db"/>
<ellipse cx="160.2" cy="1755.9" rx="5.8" ry="3.6" class="ds"/>
<ellipse cx="159.6" cy="1754.5" rx="5.5" ry="3.3" class="db"/>
<ellipse cx="100.1" cy="1747.3" rx="5.9" ry="4.5" class="ds"/>
<ellipse cx="99.5" cy="1745.9" rx="5.6" ry="4.2" class="db"/>
<ellipse cx="136.9" cy="1783.1" rx="5.8" ry="4.5" class="ds"/>
<ellipse cx="136.3" cy="1781.7" rx="5.5" ry="4.2" class="db"/>
<ellipse cx="214.7" cy="1790.4" rx="5.7" ry="3.6" class="ds"/>
<ellipse cx="214.1" cy="1789.0" rx="5.4" ry="3.3" class="db"/>
<ellipse cx="276.5" cy="1802.5" rx="6.3" ry="5.1" class="ds"/>
<ellipse cx="275.9" cy="1801.1" rx="6.0" ry="4.8" class="db"/>
<ellipse cx="298.0" cy="1753.5" rx="6.3" ry="4.3" class="ds"/>
<ellipse cx="297.4" cy="1752.1" rx="6.0" ry="4.0" class="db"/>
<ellipse cx="100.4" cy="1756.3" rx="6.0" ry="3.8" class="ds"/>
<ellipse cx="99.8" cy="1754.9" rx="5.7" ry="3.5" class="db"/>
<ellipse cx="188.1" cy="1776.8" rx="5.1" ry="3.7" class="ds"/>
<ellipse cx="187.5" cy="1775.4" rx="4.8" ry="3.4" class="db"/>
<ellipse cx="88.6" cy="1743.6" rx="6.5" ry="5.0" class="ds"/>
<ellipse cx="88.0" cy="1742.2" rx="6.2" ry="4.7" class="db"/>
<ellipse cx="344.3" cy="1787.9" rx="4.0" ry="2.7" class="ds"/>
<ellipse cx="343.7" cy="1786.5" rx="3.7" ry="2.4" class="db"/>
<ellipse cx="285.9" cy="1754.4" rx="4.6" ry="3.0" class="ds"/>
<ellipse cx="285.3" cy="1753.0" rx="4.3" ry="2.7" class="db"/>
<ellipse cx="142.9" cy="1781.6" rx="5.7" ry="4.0" class="ds"/>
<ellipse cx="142.3" cy="1780.2" rx="5.4" ry="3.7" class="db"/>
<ellipse cx="307.7" cy="1750.0" rx="4.8" ry="4.1" class="ds"/>
<ellipse cx="307.1" cy="1748.6" rx="4.5" ry="3.8" class="db"/>
<ellipse cx="365.4" cy="1774.5" rx="4.4" ry="3.4" class="ds"/>
<ellipse cx="364.8" cy="1773.1" rx="4.1" ry="3.1" class="db"/>
<ellipse cx="170.1" cy="1772.3" rx="3.9" ry="2.9" class="ds"/>
<ellipse cx="169.5" cy="1770.9" rx="3.6" ry="2.6" class="db"/>
<ellipse cx="335.2" cy="1784.4" rx="5.5" ry="4.2" class="ds"/>
<ellipse cx="334.6" cy="1783.0" rx="5.2" ry="3.9" class="db"/>
<ellipse cx="368.2" cy="1776.0" rx="5.4" ry="4.6" class="ds"/>
<ellipse cx="367.6" cy="1774.6" rx="5.1" ry="4.3" class="db"/>
<ellipse cx="126.9" cy="1787.3" rx="6.0" ry="4.4" class="ds"/>
<ellipse cx="126.3" cy="1785.9" rx="5.7" ry="4.1" class="db"/>
<ellipse cx="160.2" cy="1791.1" rx="6.0" ry="3.9" class="ds"/>
<ellipse cx="159.6" cy="1789.7" rx="5.7" ry="3.6" class="db"/>
<ellipse cx="142.8" cy="1759.5" rx="4.2" ry="3.1" class="ds"/>
<ellipse cx="142.2" cy="1758.1" rx="3.9" ry="2.8" class="db"/>
<ellipse cx="316.1" cy="1783.8" rx="5.2" ry="3.7" class="ds"/>
<ellipse cx="315.5" cy="1782.4" rx="4.9" ry="3.4" class="db"/>
<ellipse cx="356.3" cy="1742.8" rx="4.1" ry="2.6" class="ds"/>
<ellipse cx="355.7" cy="1741.4" rx="3.8" ry="2.3" class="db"/>
<ellipse cx="81.4" cy="1745.6" rx="4.0" ry="2.9" class="ds"/>
<ellipse cx="80.8" cy="1744.2" rx="3.7" ry="2.6" class="db"/>
<ellipse cx="378.0" cy="1744.6" rx="5.9" ry="4.5" class="ds"/>
<ellipse cx="377.4" cy="1743.2" rx="5.6" ry="4.2" class="db"/>
<ellipse cx="238.5" cy="1779.4" rx="4.9" ry="3.5" class="ds"/>
<ellipse cx="237.9" cy="1778.0" rx="4.6" ry="3.2" class="db"/>
<ellipse cx="287.5" cy="1804.0" rx="4.3" ry="3.7" class="ds"/>
<ellipse cx="286.9" cy="1802.6" rx="4.0" ry="3.4" class="db"/>
<ellipse cx="318.5" cy="1787.4" rx="3.8" ry="3.2" class="ds"/>
<ellipse cx="317.9" cy="1786.0" rx="3.5" ry="2.9" class="db"/>
<ellipse cx="358.6" cy="1748.2" rx="5.7" ry="4.2" class="ds"/>
<ellipse cx="358.0" cy="1746.8" rx="5.4" ry="3.9" class="db"/>
<ellipse cx="244.7" cy="1747.4" rx="5.9" ry="4.9" class="ds"/>
<ellipse cx="244.1" cy="1746.0" rx="5.6" ry="4.6" class="db"/>
<ellipse cx="193.1" cy="1742.4" rx="6.2" ry="5.0" class="ds"/>
<ellipse cx="192.5" cy="1741.0" rx="5.9" ry="4.7" class="db"/>
<ellipse cx="97.6" cy="1755.4" rx="5.6" ry="4.4" class="ds"/>
<ellipse cx="97.0" cy="1754.0" rx="5.3" ry="4.1" class="db"/>
<ellipse cx="82.8" cy="1755.3" rx="3.7" ry="3.1" class="ds"/>
<ellipse cx="82.2" cy="1753.9" rx="3.4" ry="2.8" class="db"/>
<ellipse cx="91.1" cy="1784.5" rx="4.0" ry="2.8" class="ds"/>
<ellipse cx="90.5" cy="1783.1" rx="3.7" ry="2.5" class="db"/>
<ellipse cx="88.9" cy="1746.2" rx="5.9" ry="3.8" class="ds"/>
<ellipse cx="88.3" cy="1744.8" rx="5.6" ry="3.5" class="db"/>
<ellipse cx="113.4" cy="1753.2" rx="5.4" ry="3.5" class="ds"/>
<ellipse cx="112.8" cy="1751.8" rx="5.1" ry="3.2" class="db"/>
<ellipse cx="276.9" cy="1746.5" rx="5.0" ry="4.2" class="ds"/>
<ellipse cx="276.3" cy="1745.1" rx="4.7" ry="3.9" class="db"/>
<ellipse cx="358.6" cy="1776.6" rx="6.0" ry="4.0" class="ds"/>
<ellipse cx="358.0" cy="1775.2" rx="5.7" ry="3.7" class="db"/>
<ellipse cx="292.6" cy="1784.5" rx="5.9" ry="4.1" class="ds"/>
<ellipse cx="292.0" cy="1783.1" rx="5.6" ry="3.8" class="db"/>
<ellipse cx="318.4" cy="1745.6" rx="3.9" ry="2.8" class="ds"/>
<ellipse cx="317.8" cy="1744.2" rx="3.6" ry="2.5" class="db"/>
<ellipse cx="328.6" cy="1747.0" rx="4.6" ry="3.3" class="ds"/>
<ellipse cx="328.0" cy="1745.6" rx="4.3" ry="3.0" class="db"/>
<ellipse cx="253.0" cy="1744.2" rx="3.9" ry="2.8" class="ds"/>
<ellipse cx="252.4" cy="1742.8" rx="3.6" ry="2.5" class="db"/>
<ellipse cx="238.2" cy="1746.6" rx="4.8" ry="4.0" class="ds"/>
<ellipse cx="237.6" cy="1745.2" rx="4.5" ry="3.7" class="db"/>
<ellipse cx="180.6" cy="1782.6" rx="5.0" ry="4.1" class="ds"/>
<ellipse cx="180.0" cy="1781.2" rx="4.7" ry="3.8" class="db"/>
<ellipse cx="262.6" cy="1762.7" rx="4.6" ry="3.8" class="ds"/>
<ellipse cx="262.0" cy="1761.3" rx="4.3" ry="3.5" class="db"/>
<ellipse cx="95.0" cy="1771.8" rx="5.2" ry="4.4" class="ds"/>
<ellipse cx="94.4" cy="1770.4" rx="4.9" ry="4.1" class="db"/>
<ellipse cx="291.2" cy="1782.6" rx="5.1" ry="4.2" class="ds"/>
<ellipse cx="290.6" cy="1781.2" rx="4.8" ry="3.9" class="db"/>
<ellipse cx="224.4" cy="1763.5" rx="5.9" ry="4.3" class="ds"/>
<ellipse cx="223.8" cy="1762.1" rx="5.6" ry="4.0" class="db"/>
<ellipse cx="202.9" cy="1773.3" rx="6.5" ry="4.8" class="ds"/>
<ellipse cx="202.3" cy="1771.9" rx="6.2" ry="4.5" class="db"/>
<ellipse cx="328.9" cy="1754.9" rx="4.8" ry="3.7" class="ds"/>
<ellipse cx="328.3" cy="1753.5" rx="4.5" ry="3.4" class="db"/>
<ellipse cx="245.9" cy="1750.3" rx="5.1" ry="3.3" class="ds"/>
<ellipse cx="245.3" cy="1748.9" rx="4.8" ry="3.0" class="db"/>
<ellipse cx="367.6" cy="1750.6" rx="4.6" ry="3.2" class="ds"/>
<ellipse cx="367.0" cy="1749.2" rx="4.3" ry="2.9" class="db"/>
<ellipse cx="355.5" cy="1778.0" rx="3.9" ry="3.2" class="ds"/>
<ellipse cx="354.9" cy="1776.6" rx="3.6" ry="2.9" class="db"/>
<ellipse cx="105.4" cy="1763.2" rx="4.8" ry="3.4" class="ds"/>
<ellipse cx="104.8" cy="1761.8" rx="4.5" ry="3.1" class="db"/>
<ellipse cx="304.8" cy="1768.8" rx="6.3" ry="3.9" class="ds"/>
<ellipse cx="304.2" cy="1767.4" rx="6.0" ry="3.6" class="db"/>
<ellipse cx="258.8" cy="1763.4" rx="5.7" ry="4.5" class="ds"/>
<ellipse cx="258.2" cy="1762.0" rx="5.4" ry="4.2" class="db"/>
<ellipse cx="338.8" cy="1754.3" rx="6.4" ry="4.5" class="ds"/>
<ellipse cx="338.2" cy="1752.9" rx="6.1" ry="4.2" class="db"/>
<ellipse cx="368.1" cy="1747.0" rx="5.0" ry="4.0" class="ds"/>
<ellipse cx="367.5" cy="1745.6" rx="4.7" ry="3.7" class="db"/>
<ellipse cx="187.1" cy="1769.6" rx="4.1" ry="2.8" class="ds"/>
<ellipse cx="186.5" cy="1768.2" rx="3.8" ry="2.5" class="db"/>
<ellipse cx="335.3" cy="1771.2" rx="4.7" ry="3.7" class="ds"/>
<ellipse cx="334.7" cy="1769.8" rx="4.4" ry="3.4" class="db"/>
<ellipse cx="154.6" cy="1754.3" rx="4.0" ry="2.7" class="ds"/>
<ellipse cx="154.0" cy="1752.9" rx="3.7" ry="2.4" class="db"/>
<ellipse cx="238.9" cy="1798.8" rx="5.1" ry="3.8" class="ds"/>
<ellipse cx="238.3" cy="1797.4" rx="4.8" ry="3.5" class="db"/>
<ellipse cx="332.1" cy="1770.2" rx="4.8" ry="3.2" class="ds"/>
<ellipse cx="331.5" cy="1768.8" rx="4.5" ry="2.9" class="db"/>
<ellipse cx="110.2" cy="1779.4" rx="4.8" ry="3.1" class="ds"/>
<ellipse cx="109.6" cy="1778.0" rx="4.5" ry="2.8" class="db"/>
<ellipse cx="316.4" cy="1762.6" rx="3.8" ry="3.0" class="ds"/>
<ellipse cx="315.8" cy="1761.2" rx="3.5" ry="2.7" class="db"/>
<ellipse cx="170.8" cy="1748.3" rx="6.3" ry="4.7" class="ds"/>
<ellipse cx="170.2" cy="1746.9" rx="6.0" ry="4.4" class="db"/>
<ellipse cx="201.7" cy="1742.5" rx="5.8" ry="4.8" class="ds"/>
<ellipse cx="201.1" cy="1741.1" rx="5.5" ry="4.5" class="db"/>
<ellipse cx="285.2" cy="1742.5" rx="4.0" ry="3.1" class="ds"/>
<ellipse cx="284.6" cy="1741.1" rx="3.7" ry="2.8" class="db"/>
<ellipse cx="303.3" cy="1744.0" rx="6.3" ry="4.7" class="ds"/>
<ellipse cx="302.7" cy="1742.6" rx="6.0" ry="4.4" class="db"/>
<ellipse cx="101.5" cy="1797.7" rx="6.3" ry="4.2" class="ds"/>
<ellipse cx="100.9" cy="1796.3" rx="6.0" ry="3.9" class="db"/>
<ellipse cx="130.1" cy="1773.1" rx="5.6" ry="3.8" class="ds"/>
<ellipse cx="129.5" cy="1771.7" rx="5.3" ry="3.5" class="db"/>
<ellipse cx="106.1" cy="1800.7" rx="6.2" ry="4.9" class="ds"/>
<ellipse cx="105.5" cy="1799.3" rx="5.9" ry="4.6" class="db"/>
<ellipse cx="178.8" cy="1763.5" rx="4.9" ry="4.1" class="ds"/>
<ellipse cx="178.2" cy="1762.1" rx="4.6" ry="3.8" class="db"/>
<ellipse cx="360.7" cy="1768.1" rx="4.6" ry="3.4" class="ds"/>
<ellipse cx="360.1" cy="1766.7" rx="4.3" ry="3.1" class="db"/>
<ellipse cx="85.8" cy="1773.1" rx="6.3" ry="4.1" class="ds"/>
<ellipse cx="85.2" cy="1771.7" rx="6.0" ry="3.8" class="db"/>
<ellipse cx="376.9" cy="1776.9" rx="6.0" ry="4.1" class="ds"/>
<ellipse cx="376.3" cy="1775.5" rx="5.7" ry="3.8" class="db"/>
<ellipse cx="295.9" cy="1785.1" rx="4.5" ry="3.2" class="ds"/>
<ellipse cx="295.3" cy="1783.7" rx="4.2" ry="2.9" class="db"/>
<ellipse cx="248.4" cy="1748.4" rx="5.3" ry="4.3" class="ds"/>
<ellipse cx="247.8" cy="1747.0" rx="5.0" ry="4.0" class="db"/>
<ellipse cx="218.7" cy="1752.5" rx="4.2" ry="3.2" class="ds"/>
<ellipse cx="218.1" cy="1751.1" rx="3.9" ry="2.9" class="db"/>
<ellipse cx="171.5" cy="1760.1" rx="5.4" ry="3.7" class="ds"/>
<ellipse cx="170.9" cy="1758.7" rx="5.1" ry="3.4" class="db"/>
<ellipse cx="118.4" cy="1791.0" rx="5.6" ry="3.8" class="ds"/>
<ellipse cx="117.8" cy="1789.6" rx="5.3" ry="3.5" class="db"/>
<ellipse cx="305.4" cy="1760.4" rx="5.9" ry="4.9" class="ds"/>
<ellipse cx="304.8" cy="1759.0" rx="5.6" ry="4.6" class="db"/>
<ellipse cx="303.3" cy="1775.5" rx="4.1" ry="2.7" class="ds"/>
<ellipse cx="302.7" cy="1774.1" rx="3.8" ry="2.4" class="db"/>
<ellipse cx="284.0" cy="1765.4" rx="4.9" ry="3.7" class="ds"/>
<ellipse cx="283.4" cy="1764.0" rx="4.6" ry="3.4" class="db"/>
<ellipse cx="195.9" cy="1785.4" rx="4.9" ry="3.1" class="ds"/>
<ellipse cx="195.3" cy="1784.0" rx="4.6" ry="2.8" class="db"/>
<ellipse cx="213.0" cy="1755.9" rx="5.4" ry="3.8" class="ds"/>
<ellipse cx="212.4" cy="1754.5" rx="5.1" ry="3.5" class="db"/>
<ellipse cx="211.3" cy="1748.1" rx="6.5" ry="4.9" class="ds"/>
<ellipse cx="210.7" cy="1746.7" rx="6.2" ry="4.6" class="db"/>
<ellipse cx="378.8" cy="1770.7" rx="3.9" ry="2.7" class="ds"/>
<ellipse cx="378.2" cy="1769.3" rx="3.6" ry="2.4" class="db"/>
<ellipse cx="234.0" cy="1777.9" rx="5.4" ry="4.2" class="ds"/>
<ellipse cx="233.4" cy="1776.5" rx="5.1" ry="3.9" class="db"/>
<ellipse cx="168.0" cy="1781.9" rx="4.5" ry="3.3" class="ds"/>
<ellipse cx="167.4" cy="1780.5" rx="4.2" ry="3.0" class="db"/>
<ellipse cx="202.5" cy="1746.2" rx="6.3" ry="3.9" class="ds"/>
<ellipse cx="201.9" cy="1744.8" rx="6.0" ry="3.6" class="db"/>
<ellipse cx="279.8" cy="1780.7" rx="4.3" ry="2.9" class="ds"/>
<ellipse cx="279.2" cy="1779.3" rx="4.0" ry="2.6" class="db"/>
<ellipse cx="86.4" cy="1793.6" rx="3.8" ry="3.1" class="ds"/>
<ellipse cx="85.8" cy="1792.2" rx="3.5" ry="2.8" class="db"/>
<ellipse cx="327.9" cy="1797.1" rx="4.4" ry="3.7" class="ds"/>
<ellipse cx="327.3" cy="1795.7" rx="4.1" ry="3.4" class="db"/>
<ellipse cx="240.0" cy="1746.6" rx="4.9" ry="3.6" class="ds"/>
<ellipse cx="239.4" cy="1745.2" rx="4.6" ry="3.3" class="db"/>
<ellipse cx="281.9" cy="1744.5" rx="4.8" ry="3.0" class="ds"/>
<ellipse cx="281.3" cy="1743.1" rx="4.5" ry="2.7" class="db"/>
<ellipse cx="140.2" cy="1753.0" rx="4.3" ry="3.3" class="ds"/>
<ellipse cx="139.6" cy="1751.6" rx="4.0" ry="3.0" class="db"/>
<ellipse cx="330.9" cy="1776.3" rx="5.2" ry="4.4" class="ds"/>
<ellipse cx="330.3" cy="1774.9" rx="4.9" ry="4.1" class="db"/>
<ellipse cx="230.1" cy="1768.4" rx="5.4" ry="4.5" class="ds"/>
<ellipse cx="229.5" cy="1767.0" rx="5.1" ry="4.2" class="db"/>
<ellipse cx="288.1" cy="1762.8" rx="5.0" ry="4.2" class="ds"/>
<ellipse cx="287.5" cy="1761.4" rx="4.7" ry="3.9" class="db"/>
<ellipse cx="229.6" cy="1744.1" rx="5.4" ry="3.5" class="ds"/>
<ellipse cx="229.0" cy="1742.7" rx="5.1" ry="3.2" class="db"/>
<ellipse cx="199.8" cy="1744.8" rx="5.3" ry="3.6" class="ds"/>
<ellipse cx="199.2" cy="1743.4" rx="5.0" ry="3.3" class="db"/>
<ellipse cx="100.4" cy="1748.9" rx="6.1" ry="4.9" class="ds"/>
<ellipse cx="99.8" cy="1747.5" rx="5.8" ry="4.6" class="db"/>
<ellipse cx="170.0" cy="1744.9" rx="5.7" ry="4.1" class="ds"/>
<ellipse cx="169.4" cy="1743.5" rx="5.4" ry="3.8" class="db"/>
<ellipse cx="361.3" cy="1802.7" rx="5.9" ry="4.9" class="ds"/>
<ellipse cx="360.7" cy="1801.3" rx="5.6" ry="4.6" class="db"/>
<ellipse cx="314.6" cy="1760.3" rx="4.0" ry="2.8" class="ds"/>
<ellipse cx="314.0" cy="1758.9" rx="3.7" ry="2.5" class="db"/>
<ellipse cx="299.3" cy="1758.0" rx="4.8" ry="4.0" class="ds"/>
<ellipse cx="298.7" cy="1756.6" rx="4.5" ry="3.7" class="db"/>
<ellipse cx="374.8" cy="1758.6" rx="6.2" ry="5.2" class="ds"/>
<ellipse cx="374.2" cy="1757.2" rx="5.9" ry="4.9" class="db"/>
<ellipse cx="95.6" cy="1767.5" rx="6.0" ry="4.5" class="ds"/>
<ellipse cx="95.0" cy="1766.1" rx="5.7" ry="4.2" class="db"/>
<ellipse cx="247.7" cy="1803.7" rx="6.4" ry="4.3" class="ds"/>
<ellipse cx="247.1" cy="1802.3" rx="6.1" ry="4.0" class="db"/>
<ellipse cx="240.3" cy="1757.5" rx="4.4" ry="3.2" class="ds"/>
<ellipse cx="239.7" cy="1756.1" rx="4.1" ry="2.9" class="db"/>
<ellipse cx="309.6" cy="1742.8" rx="5.7" ry="4.3" class="ds"/>
<ellipse cx="309.0" cy="1741.4" rx="5.4" ry="4.0" class="db"/>
<ellipse cx="147.9" cy="1750.2" rx="5.6" ry="4.4" class="ds"/>
<ellipse cx="147.3" cy="1748.8" rx="5.3" ry="4.1" class="db"/>
<ellipse cx="182.3" cy="1779.0" rx="5.2" ry="4.1" class="ds"/>
<ellipse cx="181.7" cy="1777.6" rx="4.9" ry="3.8" class="db"/>
<ellipse cx="248.8" cy="1763.6" rx="4.2" ry="2.8" class="ds"/>
<ellipse cx="248.2" cy="1762.2" rx="3.9" ry="2.5" class="db"/>
<ellipse cx="334.6" cy="1780.0" rx="5.4" ry="3.5" class="ds"/>
<ellipse cx="334.0" cy="1778.6" rx="5.1" ry="3.2" class="db"/>
<ellipse cx="214.9" cy="1743.9" rx="3.8" ry="3.2" class="ds"/>
<ellipse cx="214.3" cy="1742.5" rx="3.5" ry="2.9" class="db"/>
<ellipse cx="358.7" cy="1753.2" rx="6.2" ry="4.3" class="ds"/>
<ellipse cx="358.1" cy="1751.8" rx="5.9" ry="4.0" class="db"/>
<ellipse cx="286.4" cy="1747.2" rx="6.0" ry="5.0" class="ds"/>
<ellipse cx="285.8" cy="1745.8" rx="5.7" ry="4.7" class="db"/>
<ellipse cx="152.0" cy="1802.6" rx="4.4" ry="3.6" class="ds"/>
<ellipse cx="151.4" cy="1801.2" rx="4.1" ry="3.3" class="db"/>
<ellipse cx="137.1" cy="1802.2" rx="5.4" ry="4.6" class="ds"/>
<ellipse cx="136.5" cy="1800.8" rx="5.1" ry="4.3" class="db"/>
<ellipse cx="266.9" cy="1783.7" rx="5.6" ry="4.0" class="ds"/>
<ellipse cx="266.3" cy="1782.3" rx="5.3" ry="3.7" class="db"/>
<ellipse cx="338.7" cy="1762.4" rx="3.7" ry="2.9" class="ds"/>
<ellipse cx="338.1" cy="1761.0" rx="3.4" ry="2.6" class="db"/>
<ellipse cx="276.2" cy="1782.5" rx="5.8" ry="3.8" class="ds"/>
<ellipse cx="275.6" cy="1781.1" rx="5.5" ry="3.5" class="db"/>
<ellipse cx="228.8" cy="1799.1" rx="4.9" ry="3.8" class="ds"/>
<ellipse cx="228.2" cy="1797.7" rx="4.6" ry="3.5" class="db"/>
<ellipse cx="366.6" cy="1751.6" rx="5.6" ry="4.0" class="ds"/>
<ellipse cx="366.0" cy="1750.2" rx="5.3" ry="3.7" class="db"/>
<ellipse cx="243.2" cy="1770.8" rx="5.7" ry="3.6" class="ds"/>
<ellipse cx="242.6" cy="1769.4" rx="5.4" ry="3.3" class="db"/>
<ellipse cx="141.9" cy="1748.5" rx="5.6" ry="3.5" class="ds"/>
<ellipse cx="141.3" cy="1747.1" rx="5.3" ry="3.2" class="db"/>
<ellipse cx="369.2" cy="1788.7" rx="4.1" ry="3.0" class="ds"/>
<ellipse cx="368.6" cy="1787.3" rx="3.8" ry="2.7" class="db"/>
<ellipse cx="359.0" cy="1782.9" rx="4.3" ry="3.3" class="ds"/>
<ellipse cx="358.4" cy="1781.5" rx="4.0" ry="3.0" class="db"/>
<ellipse cx="344.6" cy="1747.7" rx="4.7" ry="3.2" class="ds"/>
<ellipse cx="344.0" cy="1746.3" rx="4.4" ry="2.9" class="db"/>
<ellipse cx="286.4" cy="1797.0" rx="4.5" ry="3.5" class="ds"/>
<ellipse cx="285.8" cy="1795.6" rx="4.2" ry="3.2" class="db"/>
<ellipse cx="118.3" cy="1753.1" rx="3.8" ry="3.2" class="ds"/>
<ellipse cx="117.7" cy="1751.7" rx="3.5" ry="2.9" class="db"/>
<ellipse cx="338.0" cy="1760.8" rx="5.6" ry="4.6" class="ds"/>
<ellipse cx="337.4" cy="1759.4" rx="5.3" ry="4.3" class="db"/>
<ellipse cx="376.2" cy="1746.9" rx="3.9" ry="2.9" class="ds"/>
<ellipse cx="375.6" cy="1745.5" rx="3.6" ry="2.6" class="db"/>
<ellipse cx="172.6" cy="1769.0" rx="4.2" ry="2.8" class="ds"/>
<ellipse cx="172.0" cy="1767.6" rx="3.9" ry="2.5" class="db"/>
<ellipse cx="139.6" cy="1754.5" rx="3.9" ry="3.3" class="ds"/>
<ellipse cx="139.0" cy="1753.1" rx="3.6" ry="3.0" class="db"/>
<ellipse cx="360.3" cy="1750.1" rx="6.3" ry="5.0" class="ds"/>
<ellipse cx="359.7" cy="1748.7" rx="6.0" ry="4.7" class="db"/>
</g>
<path d="M381,1737 L432,1736 L432,1801 L386,1801 C385,1780 384,1760 381,1737 Z" fill="url(#bolG)"/>
<rect x="408" y="1736" width="24" height="46" fill="url(#ferrule)"/>
<path d="M386,1738 L408,1738 C420,1752 425,1768 420,1782 C410,1785 400,1792 396,1801 L386,1801 Z" fill="#f4f4f4"/>
<rect x="432" y="1736" width="6.5" height="46" fill="#f0eeee"/>
<rect x="432" y="1736" width="1.8" height="46" fill="#b3322c"/>
<rect x="436.7" y="1736" width="1.8" height="46" fill="#b3322c"/>
<clipPath id="cw5"><path d="M438.5,1736 L641,1733.4 L641,1784 L438.5,1781 Z"/></clipPath>
<path d="M438.5,1736 L641,1733.4 L641,1784 L438.5,1781 Z" fill="url(#woodG)"/>
<g clip-path="url(#cw5)">
<line x1="438.5" y1="1734.2" x2="641" y2="1733.3" stroke="#5a3a28" stroke-width="0.9" opacity="0.55"/>
<line x1="438.5" y1="1736.5" x2="641" y2="1737.6" stroke="#5a3a28" stroke-width="0.9" opacity="0.55"/>
<line x1="438.5" y1="1737.5" x2="641" y2="1737.3" stroke="#704b34" stroke-width="0.8" opacity="0.55"/>
<line x1="438.5" y1="1739.6" x2="641" y2="1739.6" stroke="#6a4630" stroke-width="0.9" opacity="0.55"/>
<line x1="438.5" y1="1742.4" x2="641" y2="1742.5" stroke="#6a4630" stroke-width="0.8" opacity="0.55"/>
<line x1="438.5" y1="1744.1" x2="641" y2="1744.4" stroke="#5a3a28" stroke-width="0.7" opacity="0.55"/>
<line x1="438.5" y1="1745.8" x2="641" y2="1746.2" stroke="#6a4630" stroke-width="0.5" opacity="0.55"/>
<line x1="438.5" y1="1747.8" x2="641" y2="1747.9" stroke="#5a3a28" stroke-width="0.6" opacity="0.55"/>
<line x1="438.5" y1="1750.5" x2="641" y2="1750.7" stroke="#5a3a28" stroke-width="0.5" opacity="0.55"/>
<line x1="438.5" y1="1752.0" x2="641" y2="1753.1" stroke="#a57c5a" stroke-width="0.7" opacity="0.55"/>
<line x1="438.5" y1="1754.3" x2="641" y2="1754.3" stroke="#704b34" stroke-width="0.7" opacity="0.55"/>
<line x1="438.5" y1="1755.1" x2="641" y2="1754.4" stroke="#a57c5a" stroke-width="0.5" opacity="0.55"/>
<line x1="438.5" y1="1757.6" x2="641" y2="1758.0" stroke="#a57c5a" stroke-width="0.7" opacity="0.55"/>
<line x1="438.5" y1="1759.6" x2="641" y2="1759.4" stroke="#6a4630" stroke-width="0.8" opacity="0.55"/>
<line x1="438.5" y1="1762.3" x2="641" y2="1761.2" stroke="#6a4630" stroke-width="0.6" opacity="0.55"/>
<line x1="438.5" y1="1763.1" x2="641" y2="1762.2" stroke="#6a4630" stroke-width="0.6" opacity="0.55"/>
<line x1="438.5" y1="1766.2" x2="641" y2="1765.4" stroke="#b48a66" stroke-width="0.8" opacity="0.55"/>
<line x1="438.5" y1="1768.1" x2="641" y2="1768.2" stroke="#704b34" stroke-width="0.7" opacity="0.55"/>
<line x1="438.5" y1="1769.2" x2="641" y2="1769.1" stroke="#a57c5a" stroke-width="0.8" opacity="0.55"/>
<line x1="438.5" y1="1771.3" x2="641" y2="1771.3" stroke="#b48a66" stroke-width="1.0" opacity="0.55"/>
<line x1="438.5" y1="1773.9" x2="641" y2="1773.6" stroke="#b48a66" stroke-width="0.9" opacity="0.55"/>
<line x1="438.5" y1="1775.6" x2="641" y2="1776.5" stroke="#704b34" stroke-width="1.0" opacity="0.55"/>
<line x1="438.5" y1="1777.3" x2="641" y2="1778.0" stroke="#6a4630" stroke-width="0.6" opacity="0.55"/>
<line x1="438.5" y1="1778.5" x2="641" y2="1778.8" stroke="#b48a66" stroke-width="0.5" opacity="0.55"/>
<line x1="438.5" y1="1781.1" x2="641" y2="1781.8" stroke="#6a4630" stroke-width="0.5" opacity="0.55"/>
<line x1="438.5" y1="1783.7" x2="641" y2="1784.0" stroke="#6a4630" stroke-width="0.5" opacity="0.55"/>
<path d="M624.2,1762.7 C624.2,1745.9 592.0,1744.0 578.2,1744.0 C506.4,1744.0 434.5,1751.5 434.5,1762.7 C434.5,1774.0 506.4,1781.5 578.2,1781.5 C592.0,1781.5 624.2,1779.6 624.2,1762.7 Z" fill="#8a6042" stroke="#4a2d1d" stroke-width="1.2" opacity="0.95"/>
<path d="M624.2,1762.7 C624.2,1745.9 592.0,1744.0 578.2,1744.0 C506.4,1744.0 434.5,1751.5 434.5,1762.7 C434.5,1774.0 506.4,1781.5 578.2,1781.5 C592.0,1781.5 624.2,1779.6 624.2,1762.7 Z" fill="none" stroke="#c79f7c" stroke-width="0.9" opacity="0.5" transform="translate(3,0)"/>
<path d="M619.7,1762.7 C619.7,1747.7 590.7,1746.1 578.2,1746.1 C514.5,1746.1 450.7,1752.7 450.7,1762.7 C450.7,1772.8 514.5,1779.4 578.2,1779.4 C590.7,1779.4 619.7,1777.8 619.7,1762.7 Z" fill="#a67b58" stroke="#4a2d1d" stroke-width="1.2" opacity="0.95"/>
<path d="M619.7,1762.7 C619.7,1747.7 590.7,1746.1 578.2,1746.1 C514.5,1746.1 450.7,1752.7 450.7,1762.7 C450.7,1772.8 514.5,1779.4 578.2,1779.4 C590.7,1779.4 619.7,1777.8 619.7,1762.7 Z" fill="none" stroke="#c79f7c" stroke-width="0.9" opacity="0.5" transform="translate(3,0)"/>
<path d="M615.2,1762.7 C615.2,1749.5 589.3,1748.1 578.2,1748.1 C522.6,1748.1 466.9,1753.9 466.9,1762.7 C466.9,1771.6 522.6,1777.4 578.2,1777.4 C589.3,1777.4 615.2,1776.0 615.2,1762.7 Z" fill="#8a6042" stroke="#4a2d1d" stroke-width="1.2" opacity="0.95"/>
<path d="M615.2,1762.7 C615.2,1749.5 589.3,1748.1 578.2,1748.1 C522.6,1748.1 466.9,1753.9 466.9,1762.7 C466.9,1771.6 522.6,1777.4 578.2,1777.4 C589.3,1777.4 615.2,1776.0 615.2,1762.7 Z" fill="none" stroke="#c79f7c" stroke-width="0.9" opacity="0.5" transform="translate(3,0)"/>
<path d="M610.7,1762.7 C610.7,1751.4 588.0,1750.1 578.2,1750.1 C530.7,1750.1 483.1,1755.2 483.1,1762.7 C483.1,1770.3 530.7,1775.4 578.2,1775.4 C588.0,1775.4 610.7,1774.1 610.7,1762.7 Z" fill="#a67b58" stroke="#4a2d1d" stroke-width="1.2" opacity="0.95"/>
<path d="M610.7,1762.7 C610.7,1751.4 588.0,1750.1 578.2,1750.1 C530.7,1750.1 483.1,1755.2 483.1,1762.7 C483.1,1770.3 530.7,1775.4 578.2,1775.4 C588.0,1775.4 610.7,1774.1 610.7,1762.7 Z" fill="none" stroke="#c79f7c" stroke-width="0.9" opacity="0.5" transform="translate(3,0)"/>
<path d="M606.2,1762.7 C606.2,1753.2 586.6,1752.1 578.2,1752.1 C538.8,1752.1 499.4,1756.4 499.4,1762.7 C499.4,1769.1 538.8,1773.4 578.2,1773.4 C586.6,1773.4 606.2,1772.3 606.2,1762.7 Z" fill="#8a6042" stroke="#4a2d1d" stroke-width="1.2" opacity="0.95"/>
<path d="M606.2,1762.7 C606.2,1753.2 586.6,1752.1 578.2,1752.1 C538.8,1752.1 499.4,1756.4 499.4,1762.7 C499.4,1769.1 538.8,1773.4 578.2,1773.4 C586.6,1773.4 606.2,1772.3 606.2,1762.7 Z" fill="none" stroke="#c79f7c" stroke-width="0.9" opacity="0.5" transform="translate(3,0)"/>
<path d="M601.7,1762.7 C601.7,1755.0 585.3,1754.1 578.2,1754.1 C546.9,1754.1 515.6,1757.6 515.6,1762.7 C515.6,1767.9 546.9,1771.4 578.2,1771.4 C585.3,1771.4 601.7,1770.5 601.7,1762.7 Z" fill="#a67b58" stroke="#4a2d1d" stroke-width="1.2" opacity="0.95"/>
<path d="M601.7,1762.7 C601.7,1755.0 585.3,1754.1 578.2,1754.1 C546.9,1754.1 515.6,1757.6 515.6,1762.7 C515.6,1767.9 546.9,1771.4 578.2,1771.4 C585.3,1771.4 601.7,1770.5 601.7,1762.7 Z" fill="none" stroke="#c79f7c" stroke-width="0.9" opacity="0.5" transform="translate(3,0)"/>
<path d="M597.2,1762.7 C597.2,1756.8 583.9,1756.2 578.2,1756.2 C555.0,1756.2 531.8,1758.8 531.8,1762.7 C531.8,1766.7 555.0,1769.3 578.2,1769.3 C583.9,1769.3 597.2,1768.7 597.2,1762.7 Z" fill="#8a6042" stroke="#4a2d1d" stroke-width="1.2" opacity="0.95"/>
<path d="M597.2,1762.7 C597.2,1756.8 583.9,1756.2 578.2,1756.2 C555.0,1756.2 531.8,1758.8 531.8,1762.7 C531.8,1766.7 555.0,1769.3 578.2,1769.3 C583.9,1769.3 597.2,1768.7 597.2,1762.7 Z" fill="none" stroke="#c79f7c" stroke-width="0.9" opacity="0.5" transform="translate(3,0)"/>
<path d="M592.7,1762.7 C592.7,1758.6 582.6,1758.2 578.2,1758.2 C563.1,1758.2 548.0,1760.0 548.0,1762.7 C548.0,1765.5 563.1,1767.3 578.2,1767.3 C582.6,1767.3 592.7,1766.8 592.7,1762.7 Z" fill="#a67b58" stroke="#4a2d1d" stroke-width="1.2" opacity="0.95"/>
<path d="M592.7,1762.7 C592.7,1758.6 582.6,1758.2 578.2,1758.2 C563.1,1758.2 548.0,1760.0 548.0,1762.7 C548.0,1765.5 563.1,1767.3 578.2,1767.3 C582.6,1767.3 592.7,1766.8 592.7,1762.7 Z" fill="none" stroke="#c79f7c" stroke-width="0.9" opacity="0.5" transform="translate(3,0)"/>
<ellipse cx="576.2" cy="1762.7" rx="22.3" ry="4.3" fill="#3c2a22" opacity="0.85"/>
<rect x="438.5" y="1778.9" width="202.5" height="5.1" fill="#5e4030" opacity="0.35"/>
</g>
<path d="M641,1734.9 L645.6,1735.4 Q647.6,1758.7 645.6,1782 L641,1782.5 Z" fill="url(#cap)"/>
<use href="#prot" transform="translate(75.5,784) rotate(30) scale(1.0)"/>
<text x="101.8" y="799.6" font-family='"Liberation Sans", sans-serif' font-size="24" fill="#e21b1b" textLength="37" lengthAdjust="spacingAndGlyphs" >60°</text>
<text x="137" y="791" font-family='"Liberation Sans", sans-serif' font-size="16" fill="#e21b1b" >°</text>
<use href="#prot" transform="translate(75.5,1060) rotate(15) scale(0.963)"/>
<text x="93.3" y="1071.2" font-family='"Liberation Sans", sans-serif' font-size="33" fill="#e21b1b" textLength="50.5" lengthAdjust="spacingAndGlyphs" >60°</text>
<use href="#prot" transform="translate(76,1318) rotate(13) scale(0.963)"/>
<text x="91" y="1318.5" font-family='"Liberation Sans", sans-serif' font-size="27" fill="#e23030" textLength="44" lengthAdjust="spacingAndGlyphs" >70°</text>
<use href="#prot" transform="translate(74,1540) rotate(20) scale(0.963)"/>
<text x="84.3" y="1555.8" font-family='"Liberation Sans", sans-serif' font-size="34" fill="#e21b1b" textLength="54" lengthAdjust="spacingAndGlyphs" >60°</text>
<use href="#prot" transform="translate(76,1821) rotate(14) scale(0.963)"/>
<text x="81" y="1822" font-family='"Liberation Sans", sans-serif' font-size="34" fill="#e21b1b" textLength="62" lengthAdjust="spacingAndGlyphs" >110°</text>
<line x1="76" y1="784" x2="76" y2="1801" stroke="#c41818" stroke-width="1.3" stroke-dasharray="2.2 1.8"/>
<line x1="76" y1="749.4" x2="712" y2="749.4" stroke="#111" stroke-width="1.3"/>
<line x1="76" y1="741.9" x2="76" y2="756.9" stroke="#111" stroke-width="1.3"/>
<line x1="452" y1="741.9" x2="452" y2="756.9" stroke="#111" stroke-width="1.3"/>
<line x1="712" y1="741.9" x2="712" y2="756.9" stroke="#111" stroke-width="1.3"/>
<text x="223.0" y="745.0" font-family='"Liberation Sans", sans-serif' font-size="23" fill="#111" textLength="83.1" lengthAdjust="spacingAndGlyphs" >33.6cm</text>
<text x="524.2" y="745.1" font-family='"Liberation Sans", sans-serif' font-size="23" fill="#111" textLength="83.5" lengthAdjust="spacingAndGlyphs" >13.4cm</text>
<line x1="76" y1="881.4" x2="451.5" y2="881.4" stroke="#111" stroke-width="1.3"/>
<text x="173.1" y="874.3" font-family='"Liberation Sans", sans-serif' font-size="23" fill="#111" textLength="84.8" lengthAdjust="spacingAndGlyphs" >20.2cm</text>
<line x1="733.3" y1="761.5" x2="733.3" y2="853.3" stroke="#111" stroke-width="1.3"/><line x1="725.8" y1="761.5" x2="740.8" y2="761.5" stroke="#111" stroke-width="1.3"/><line x1="725.8" y1="853.3" x2="740.8" y2="853.3" stroke="#111" stroke-width="1.3"/>
<text transform="translate(743,771.8) rotate(90)" x="0" y="0" font-family='"Liberation Sans", sans-serif' font-size="23" fill="#111" textLength="69.5" lengthAdjust="spacingAndGlyphs">4.6cm</text>
<text x="529.3" y="856.6" font-family='"Liberation Sans", sans-serif' font-size="17.5" fill="#7a1515" textLength="111" lengthAdjust="spacingAndGlyphs" >Hammer knife</text>
<ellipse cx="524" cy="845.7" rx="9" ry="12.7" fill="url(#blobG)" filter="url(#blur1)"/><ellipse cx="647" cy="845.7" rx="10.2" ry="13.7" fill="url(#blobG)" filter="url(#blur1)"/>
<text x="466.3" y="900.1" font-family='"Liberation Sans", sans-serif' font-size="19" fill="#1a1a1a" textLength="276.1" lengthAdjust="spacingAndGlyphs" >Thickness: 2.5mm Weight: 242g</text>
<line x1="76" y1="990" x2="711.7" y2="990" stroke="#111" stroke-width="1.3"/>
<line x1="76" y1="982.5" x2="76" y2="997.5" stroke="#111" stroke-width="1.3"/>
<line x1="451.5" y1="982.5" x2="451.5" y2="997.5" stroke="#111" stroke-width="1.3"/>
<line x1="711.7" y1="982.5" x2="711.7" y2="997.5" stroke="#111" stroke-width="1.3"/>
<text x="222.6" y="986.3" font-family='"Liberation Sans", sans-serif' font-size="23" fill="#111" textLength="83.5" lengthAdjust="spacingAndGlyphs" >33.6cm</text>
<text x="524.5" y="986.8" font-family='"Liberation Sans", sans-serif' font-size="23" fill="#111" textLength="84.0" lengthAdjust="spacingAndGlyphs" >13.4cm</text>
<line x1="76" y1="1127.2" x2="451.5" y2="1127.2" stroke="#111" stroke-width="1.3"/>
<text x="174.3" y="1122.9" font-family='"Liberation Sans", sans-serif' font-size="23" fill="#111" textLength="83.7" lengthAdjust="spacingAndGlyphs" >20.2cm</text>
<line x1="732.3" y1="1001.5" x2="732.3" y2="1100.4" stroke="#111" stroke-width="1.3"/><line x1="724.8" y1="1001.5" x2="739.8" y2="1001.5" stroke="#111" stroke-width="1.3"/><line x1="724.8" y1="1100.4" x2="739.8" y2="1100.4" stroke="#111" stroke-width="1.3"/>
<text transform="translate(747,1037.7) rotate(90)" x="0" y="0" font-family='"Liberation Sans", sans-serif' font-size="23" fill="#111" textLength="48" lengthAdjust="spacingAndGlyphs">5cm</text>
<text x="528.5" y="1097.4" font-family='"Liberation Sans", sans-serif' font-size="13" fill="#7a1515" textLength="113.5" lengthAdjust="spacingAndGlyphs" >Hammer cutting knife</text>
<ellipse cx="523.5" cy="1091.2" rx="8.8" ry="12.2" fill="url(#blobG)" filter="url(#blur1)"/><ellipse cx="646" cy="1091.7" rx="11" ry="13.7" fill="url(#blobG)" filter="url(#blur1)"/>
<text x="459.2" y="1143.5" font-family='"Liberation Sans", sans-serif' font-size="19.5" fill="#1a1a1a" textLength="287.2" lengthAdjust="spacingAndGlyphs" >Thickness: 2.8mm Weight: 262g</text>
<line x1="76" y1="1219.6" x2="692.4" y2="1219.6" stroke="#111" stroke-width="1.3"/>
<line x1="76" y1="1212.1" x2="76" y2="1227.1" stroke="#111" stroke-width="1.3"/>
<line x1="437.5" y1="1212.1" x2="437.5" y2="1227.1" stroke="#111" stroke-width="1.3"/>
<line x1="692.4" y1="1212.1" x2="692.4" y2="1227.1" stroke="#111" stroke-width="1.3"/>
<text x="221.3" y="1217.1" font-family='"Liberation Sans", sans-serif' font-size="23" fill="#111" textLength="84.0" lengthAdjust="spacingAndGlyphs" >32.9cm</text>
<text x="524.5" y="1216.8" font-family='"Liberation Sans", sans-serif' font-size="23" fill="#111" textLength="82.4" lengthAdjust="spacingAndGlyphs" >13.4cm</text>
<line x1="76" y1="1381.3" x2="439.5" y2="1381.3" stroke="#111" stroke-width="1.3"/>
<text x="173.2" y="1377.3" font-family='"Liberation Sans", sans-serif' font-size="23" fill="#111" textLength="82.3" lengthAdjust="spacingAndGlyphs" >19.5cm</text>
<line x1="718.5" y1="1230.5" x2="718.5" y2="1360.4" stroke="#111" stroke-width="1.3"/><line x1="711.0" y1="1230.5" x2="726.0" y2="1230.5" stroke="#111" stroke-width="1.3"/><line x1="711.0" y1="1360.4" x2="726.0" y2="1360.4" stroke="#111" stroke-width="1.3"/>
<text transform="translate(729.5,1260.2) rotate(90)" x="0" y="0" font-family='"Liberation Sans", sans-serif' font-size="23" fill="#111" textLength="68" lengthAdjust="spacingAndGlyphs">6.3cm</text>
<text x="520.8" y="1333.2" font-family='"Liberation Sans", sans-serif' font-size="10.8" fill="#7a1515" textLength="155.5" lengthAdjust="spacingAndGlyphs" >Hammer grain wide cutting knife</text>
<text x="465.8" y="1396.1" font-family='"Liberation Sans", sans-serif' font-size="19" fill="#1a1a1a" textLength="276.8" lengthAdjust="spacingAndGlyphs" >Thickness: 2.8mm Weight: 303g</text>
<line x1="76" y1="1481" x2="666.2" y2="1481" stroke="#111" stroke-width="1.3"/>
<line x1="76" y1="1473.5" x2="76" y2="1488.5" stroke="#111" stroke-width="1.3"/>
<line x1="408.7" y1="1473.5" x2="408.7" y2="1488.5" stroke="#111" stroke-width="1.3"/>
<line x1="666.2" y1="1473.5" x2="666.2" y2="1488.5" stroke="#111" stroke-width="1.3"/>
<text x="221.3" y="1477.3" font-family='"Liberation Sans", sans-serif' font-size="23" fill="#111" textLength="84.0" lengthAdjust="spacingAndGlyphs" >31.3cm</text>
<text x="523.5" y="1477.8" font-family='"Liberation Sans", sans-serif' font-size="23" fill="#111" textLength="83.0" lengthAdjust="spacingAndGlyphs" >13.4cm</text>
<line x1="76" y1="1609.7" x2="408.6" y2="1609.7" stroke="#111" stroke-width="1.3"/>
<text x="173.2" y="1606.3" font-family='"Liberation Sans", sans-serif' font-size="23" fill="#111" textLength="82.3" lengthAdjust="spacingAndGlyphs" >17.9cm</text>
<line x1="688.5" y1="1491.5" x2="688.5" y2="1584.3" stroke="#111" stroke-width="1.3"/><line x1="681.0" y1="1491.5" x2="696.0" y2="1491.5" stroke="#111" stroke-width="1.3"/><line x1="681.0" y1="1584.3" x2="696.0" y2="1584.3" stroke="#111" stroke-width="1.3"/>
<text transform="translate(702.2,1504) rotate(90)" x="0" y="0" font-family='"Liberation Sans", sans-serif' font-size="23" fill="#111" textLength="69" lengthAdjust="spacingAndGlyphs">4.6cm</text>
<text x="530.3" y="1582.2" font-family='"Liberation Sans", sans-serif' font-size="17.5" fill="#7a1515" textLength="110" lengthAdjust="spacingAndGlyphs" >Hammer knife</text>
<ellipse cx="524.8" cy="1572.3" rx="8.8" ry="12.2" fill="url(#blobG)" filter="url(#blur1)"/><ellipse cx="646.3" cy="1572.3" rx="11.4" ry="14.2" fill="url(#blobG)" filter="url(#blur1)"/>
<text x="455.6" y="1619.5" font-family='"Liberation Sans", sans-serif' font-size="19.5" fill="#1a1a1a" textLength="286.3" lengthAdjust="spacingAndGlyphs" >Thickness: 2.5mm Weight: 228g</text>
<line x1="76" y1="1723.3" x2="648.6" y2="1723.3" stroke="#111" stroke-width="1.3"/>
<line x1="76" y1="1715.8" x2="76" y2="1730.8" stroke="#111" stroke-width="1.3"/>
<line x1="387" y1="1715.8" x2="387" y2="1730.8" stroke="#111" stroke-width="1.3"/>
<line x1="648.6" y1="1715.8" x2="648.6" y2="1730.8" stroke="#111" stroke-width="1.3"/>
<text x="222.8" y="1719.5" font-family='"Liberation Sans", sans-serif' font-size="23" fill="#111" textLength="83.5" lengthAdjust="spacingAndGlyphs" >30.1cm</text>
<text x="524.5" y="1719.3" font-family='"Liberation Sans", sans-serif' font-size="23" fill="#111" textLength="83.6" lengthAdjust="spacingAndGlyphs" >13.4cm</text>
<line x1="667.8" y1="1733.4" x2="667.8" y2="1801" stroke="#111" stroke-width="1.3"/><line x1="660.3" y1="1733.4" x2="675.3" y2="1733.4" stroke="#111" stroke-width="1.3"/>
<text transform="translate(681.5,1750) rotate(90)" x="0" y="0" font-family='"Liberation Sans", sans-serif' font-size="23" fill="#111" textLength="69" lengthAdjust="spacingAndGlyphs">5.1cm</text>
</svg>
</body></html>
